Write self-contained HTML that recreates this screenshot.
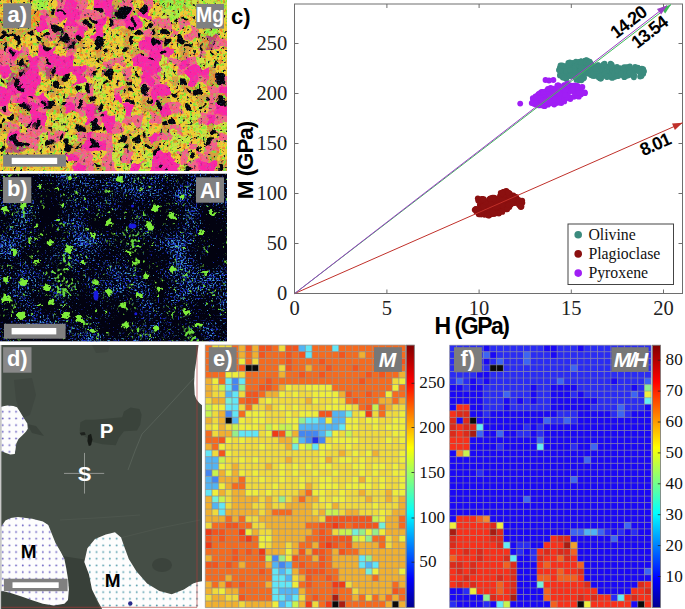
<!DOCTYPE html><html><head><meta charset="utf-8"><style>
html,body{margin:0;padding:0;background:#fff;}
body{width:685px;height:609px;overflow:hidden;position:relative;}
svg{position:absolute;left:0;top:0;}
.sf{font-family:'Liberation Serif',serif;}
.ss{font-family:'Liberation Sans',sans-serif;}
</style></head><body>
<svg width="685" height="609" viewBox="0 0 685 609">
<defs><clipPath id="clipa"><rect x="0" y="0" width="227" height="171"/></clipPath><clipPath id="clipb"><rect x="0" y="173.5" width="227" height="168.1"/></clipPath><filter id="warpA" color-interpolation-filters="sRGB" x="-5%" y="-5%" width="110%" height="110%"><feTurbulence type="fractalNoise" baseFrequency="0.09" numOctaves="2" seed="2" result="t"/><feDisplacementMap in="SourceGraphic" in2="t" scale="14" xChannelSelector="R" yChannelSelector="G"/><feGaussianBlur stdDeviation="0.5"/></filter><filter id="spK" color-interpolation-filters="sRGB" x="0" y="0" width="100%" height="100%"><feTurbulence type="fractalNoise" baseFrequency="0.3" numOctaves="2" seed="4"/><feColorMatrix type="matrix" values="0 0 0 0 0.02  0 0 0 0 0.02  0 0 0 0 0.12  14 0 0 0 -9.2"/></filter><filter id="spG" color-interpolation-filters="sRGB" x="0" y="0" width="100%" height="100%"><feTurbulence type="fractalNoise" baseFrequency="0.3" numOctaves="2" seed="9"/><feColorMatrix type="matrix" values="0 0 0 0 0.45  0 0 0 0 0.95  0 0 0 0 0.2  12 0 0 0 -6.9"/></filter><filter id="spO" color-interpolation-filters="sRGB" x="0" y="0" width="100%" height="100%"><feTurbulence type="fractalNoise" baseFrequency="0.3" numOctaves="2" seed="17"/><feColorMatrix type="matrix" values="0 0 0 0 0.97  0 0 0 0 0.3  0 0 0 0 0.1  12 0 0 0 -7.0"/></filter><filter id="spB" color-interpolation-filters="sRGB" x="0" y="0" width="100%" height="100%"><feTurbulence type="fractalNoise" baseFrequency="0.6" numOctaves="2" seed="23"/><feColorMatrix type="matrix" values="0 0 0 0 0.25  0 0 0 0 0.6  0 0 0 0 0.95  9 0 0 0 -5.3"/></filter><filter id="spb2" color-interpolation-filters="sRGB" x="0" y="0" width="100%" height="100%"><feTurbulence type="fractalNoise" baseFrequency="0.7" numOctaves="2" seed="31"/><feColorMatrix type="matrix" values="0 0 0 0 0.1  0 0 0 0 0.1  0 0 0 0 0.75  9 0 0 0 -5.0"/></filter><filter id="spBB" color-interpolation-filters="sRGB" x="0" y="0" width="100%" height="100%"><feTurbulence type="fractalNoise" baseFrequency="0.55" numOctaves="1" seed="31" result="f"/><feTurbulence type="fractalNoise" baseFrequency="0.03" numOctaves="2" seed="7" result="c"/><feComposite in="f" in2="c" operator="arithmetic" k2="1" k3="0.5" result="s"/><feColorMatrix in="s" type="matrix" values="0 0 0 0 0.12  0 0 0 0 0.2  0 0 0 0 0.85  9 0 0 0 -5.0"/></filter><filter id="spBC" color-interpolation-filters="sRGB" x="0" y="0" width="100%" height="100%"><feTurbulence type="fractalNoise" baseFrequency="0.6" numOctaves="1" seed="41" result="f"/><feTurbulence type="fractalNoise" baseFrequency="0.03" numOctaves="2" seed="7" result="c"/><feComposite in="f" in2="c" operator="arithmetic" k2="1" k3="0.5" result="s"/><feColorMatrix in="s" type="matrix" values="0 0 0 0 0.3  0 0 0 0 0.7  0 0 0 0 0.92  10 0 0 0 -5.9"/></filter><filter id="spBG" color-interpolation-filters="sRGB" x="0" y="0" width="100%" height="100%"><feTurbulence type="fractalNoise" baseFrequency="0.35" numOctaves="1" seed="51" result="f"/><feTurbulence type="fractalNoise" baseFrequency="0.04" numOctaves="2" seed="13" result="c"/><feComposite in="f" in2="c" operator="arithmetic" k2="1" k3="0.8" result="s"/><feColorMatrix in="s" type="matrix" values="0 0 0 0 0.45  0 0 0 0 0.92  0 0 0 0 0.25  10 0 0 0 -6.3"/></filter><filter id="warpB" color-interpolation-filters="sRGB" x="-5%" y="-5%" width="110%" height="110%"><feTurbulence type="fractalNoise" baseFrequency="0.25" numOctaves="2" seed="5" result="t"/><feDisplacementMap in="SourceGraphic" in2="t" scale="7" xChannelSelector="R" yChannelSelector="G"/></filter></defs>
<g clip-path="url(#clipa)">
<g filter="url(#warpA)">
<rect x="-9.76" y="-9.80" width="10.06" height="10.10" fill="#f0cc32"/>
<rect x="-0.30" y="-9.80" width="10.06" height="10.10" fill="#f0cc32"/>
<rect x="9.16" y="-9.80" width="10.06" height="10.10" fill="#f0cc32"/>
<rect x="18.62" y="-9.80" width="10.06" height="10.10" fill="#f0cc32"/>
<rect x="28.07" y="-9.80" width="10.06" height="10.10" fill="#cce43e"/>
<rect x="37.53" y="-9.80" width="10.06" height="10.10" fill="#a4f040"/>
<rect x="46.99" y="-9.80" width="10.06" height="10.10" fill="#f0cc32"/>
<rect x="56.45" y="-9.80" width="10.06" height="10.10" fill="#f8608a"/>
<rect x="65.91" y="-9.80" width="10.06" height="10.10" fill="#fc24a6"/>
<rect x="75.37" y="-9.80" width="10.06" height="10.10" fill="#f8608a"/>
<rect x="84.83" y="-9.80" width="10.06" height="10.10" fill="#f0cc32"/>
<rect x="94.28" y="-9.80" width="10.06" height="10.10" fill="#fc24a6"/>
<rect x="103.74" y="-9.80" width="10.06" height="10.10" fill="#fc24a6"/>
<rect x="113.20" y="-9.80" width="10.06" height="10.10" fill="#d8a040"/>
<rect x="122.66" y="-9.80" width="10.06" height="10.10" fill="#f8608a"/>
<rect x="132.12" y="-9.80" width="10.06" height="10.10" fill="#f0cc32"/>
<rect x="141.57" y="-9.80" width="10.06" height="10.10" fill="#f8608a"/>
<rect x="151.03" y="-9.80" width="10.06" height="10.10" fill="#f0cc32"/>
<rect x="160.49" y="-9.80" width="10.06" height="10.10" fill="#a4f040"/>
<rect x="169.95" y="-9.80" width="10.06" height="10.10" fill="#a4f040"/>
<rect x="179.41" y="-9.80" width="10.06" height="10.10" fill="#a4f040"/>
<rect x="188.87" y="-9.80" width="10.06" height="10.10" fill="#cce43e"/>
<rect x="198.32" y="-9.80" width="10.06" height="10.10" fill="#cce43e"/>
<rect x="207.78" y="-9.80" width="10.06" height="10.10" fill="#cce43e"/>
<rect x="217.24" y="-9.80" width="10.06" height="10.10" fill="#cce43e"/>
<rect x="226.70" y="-9.80" width="10.06" height="10.10" fill="#cce43e"/>
<rect x="-9.76" y="-0.30" width="10.06" height="10.10" fill="#f0cc32"/>
<rect x="-0.30" y="-0.30" width="10.06" height="10.10" fill="#f0cc32"/>
<rect x="9.16" y="-0.30" width="10.06" height="10.10" fill="#f0cc32"/>
<rect x="18.62" y="-0.30" width="10.06" height="10.10" fill="#f0cc32"/>
<rect x="28.07" y="-0.30" width="10.06" height="10.10" fill="#cce43e"/>
<rect x="37.53" y="-0.30" width="10.06" height="10.10" fill="#a4f040"/>
<rect x="46.99" y="-0.30" width="10.06" height="10.10" fill="#f0cc32"/>
<rect x="56.45" y="-0.30" width="10.06" height="10.10" fill="#f8608a"/>
<rect x="65.91" y="-0.30" width="10.06" height="10.10" fill="#fc24a6"/>
<rect x="75.37" y="-0.30" width="10.06" height="10.10" fill="#f8608a"/>
<rect x="84.83" y="-0.30" width="10.06" height="10.10" fill="#f0cc32"/>
<rect x="94.28" y="-0.30" width="10.06" height="10.10" fill="#fc24a6"/>
<rect x="103.74" y="-0.30" width="10.06" height="10.10" fill="#fc24a6"/>
<rect x="113.20" y="-0.30" width="10.06" height="10.10" fill="#d8a040"/>
<rect x="122.66" y="-0.30" width="10.06" height="10.10" fill="#f8608a"/>
<rect x="132.12" y="-0.30" width="10.06" height="10.10" fill="#f0cc32"/>
<rect x="141.57" y="-0.30" width="10.06" height="10.10" fill="#f8608a"/>
<rect x="151.03" y="-0.30" width="10.06" height="10.10" fill="#f0cc32"/>
<rect x="160.49" y="-0.30" width="10.06" height="10.10" fill="#a4f040"/>
<rect x="169.95" y="-0.30" width="10.06" height="10.10" fill="#a4f040"/>
<rect x="179.41" y="-0.30" width="10.06" height="10.10" fill="#a4f040"/>
<rect x="188.87" y="-0.30" width="10.06" height="10.10" fill="#cce43e"/>
<rect x="198.32" y="-0.30" width="10.06" height="10.10" fill="#cce43e"/>
<rect x="207.78" y="-0.30" width="10.06" height="10.10" fill="#cce43e"/>
<rect x="217.24" y="-0.30" width="10.06" height="10.10" fill="#cce43e"/>
<rect x="226.70" y="-0.30" width="10.06" height="10.10" fill="#cce43e"/>
<rect x="-9.76" y="9.20" width="10.06" height="10.10" fill="#f0cc32"/>
<rect x="-0.30" y="9.20" width="10.06" height="10.10" fill="#f0cc32"/>
<rect x="9.16" y="9.20" width="10.06" height="10.10" fill="#f0cc32"/>
<rect x="18.62" y="9.20" width="10.06" height="10.10" fill="#f0cc32"/>
<rect x="28.07" y="9.20" width="10.06" height="10.10" fill="#f49a2a"/>
<rect x="37.53" y="9.20" width="10.06" height="10.10" fill="#f8608a"/>
<rect x="46.99" y="9.20" width="10.06" height="10.10" fill="#d8a040"/>
<rect x="56.45" y="9.20" width="10.06" height="10.10" fill="#fc24a6"/>
<rect x="65.91" y="9.20" width="10.06" height="10.10" fill="#fc24a6"/>
<rect x="75.37" y="9.20" width="10.06" height="10.10" fill="#fc24a6"/>
<rect x="84.83" y="9.20" width="10.06" height="10.10" fill="#f8608a"/>
<rect x="94.28" y="9.20" width="10.06" height="10.10" fill="#f8608a"/>
<rect x="103.74" y="9.20" width="10.06" height="10.10" fill="#fc24a6"/>
<rect x="113.20" y="9.20" width="10.06" height="10.10" fill="#b84a70"/>
<rect x="122.66" y="9.20" width="10.06" height="10.10" fill="#fc24a6"/>
<rect x="132.12" y="9.20" width="10.06" height="10.10" fill="#d8a040"/>
<rect x="141.57" y="9.20" width="10.06" height="10.10" fill="#fc24a6"/>
<rect x="151.03" y="9.20" width="10.06" height="10.10" fill="#f0cc32"/>
<rect x="160.49" y="9.20" width="10.06" height="10.10" fill="#cce43e"/>
<rect x="169.95" y="9.20" width="10.06" height="10.10" fill="#a4f040"/>
<rect x="179.41" y="9.20" width="10.06" height="10.10" fill="#f0cc32"/>
<rect x="188.87" y="9.20" width="10.06" height="10.10" fill="#f0cc32"/>
<rect x="198.32" y="9.20" width="10.06" height="10.10" fill="#cce43e"/>
<rect x="207.78" y="9.20" width="10.06" height="10.10" fill="#cce43e"/>
<rect x="217.24" y="9.20" width="10.06" height="10.10" fill="#cce43e"/>
<rect x="226.70" y="9.20" width="10.06" height="10.10" fill="#cce43e"/>
<rect x="-9.76" y="18.70" width="10.06" height="10.10" fill="#d8a040"/>
<rect x="-0.30" y="18.70" width="10.06" height="10.10" fill="#d8a040"/>
<rect x="9.16" y="18.70" width="10.06" height="10.10" fill="#f0cc32"/>
<rect x="18.62" y="18.70" width="10.06" height="10.10" fill="#f0cc32"/>
<rect x="28.07" y="18.70" width="10.06" height="10.10" fill="#f49a2a"/>
<rect x="37.53" y="18.70" width="10.06" height="10.10" fill="#fc24a6"/>
<rect x="46.99" y="18.70" width="10.06" height="10.10" fill="#f8608a"/>
<rect x="56.45" y="18.70" width="10.06" height="10.10" fill="#f0cc32"/>
<rect x="65.91" y="18.70" width="10.06" height="10.10" fill="#fc24a6"/>
<rect x="75.37" y="18.70" width="10.06" height="10.10" fill="#f8608a"/>
<rect x="84.83" y="18.70" width="10.06" height="10.10" fill="#d8a040"/>
<rect x="94.28" y="18.70" width="10.06" height="10.10" fill="#fc24a6"/>
<rect x="103.74" y="18.70" width="10.06" height="10.10" fill="#f0cc32"/>
<rect x="113.20" y="18.70" width="10.06" height="10.10" fill="#f8608a"/>
<rect x="122.66" y="18.70" width="10.06" height="10.10" fill="#fc24a6"/>
<rect x="132.12" y="18.70" width="10.06" height="10.10" fill="#fc24a6"/>
<rect x="141.57" y="18.70" width="10.06" height="10.10" fill="#f0cc32"/>
<rect x="151.03" y="18.70" width="10.06" height="10.10" fill="#f8608a"/>
<rect x="160.49" y="18.70" width="10.06" height="10.10" fill="#f8608a"/>
<rect x="169.95" y="18.70" width="10.06" height="10.10" fill="#f0cc32"/>
<rect x="179.41" y="18.70" width="10.06" height="10.10" fill="#f8608a"/>
<rect x="188.87" y="18.70" width="10.06" height="10.10" fill="#f0cc32"/>
<rect x="198.32" y="18.70" width="10.06" height="10.10" fill="#f0cc32"/>
<rect x="207.78" y="18.70" width="10.06" height="10.10" fill="#f0cc32"/>
<rect x="217.24" y="18.70" width="10.06" height="10.10" fill="#f0cc32"/>
<rect x="226.70" y="18.70" width="10.06" height="10.10" fill="#f0cc32"/>
<rect x="-9.76" y="28.20" width="10.06" height="10.10" fill="#d8a040"/>
<rect x="-0.30" y="28.20" width="10.06" height="10.10" fill="#d8a040"/>
<rect x="9.16" y="28.20" width="10.06" height="10.10" fill="#d8a040"/>
<rect x="18.62" y="28.20" width="10.06" height="10.10" fill="#d8a040"/>
<rect x="28.07" y="28.20" width="10.06" height="10.10" fill="#d8a040"/>
<rect x="37.53" y="28.20" width="10.06" height="10.10" fill="#f0cc32"/>
<rect x="46.99" y="28.20" width="10.06" height="10.10" fill="#f8608a"/>
<rect x="56.45" y="28.20" width="10.06" height="10.10" fill="#b84a70"/>
<rect x="65.91" y="28.20" width="10.06" height="10.10" fill="#f8608a"/>
<rect x="75.37" y="28.20" width="10.06" height="10.10" fill="#fc24a6"/>
<rect x="84.83" y="28.20" width="10.06" height="10.10" fill="#f0cc32"/>
<rect x="94.28" y="28.20" width="10.06" height="10.10" fill="#fc24a6"/>
<rect x="103.74" y="28.20" width="10.06" height="10.10" fill="#f0cc32"/>
<rect x="113.20" y="28.20" width="10.06" height="10.10" fill="#f0cc32"/>
<rect x="122.66" y="28.20" width="10.06" height="10.10" fill="#d8a040"/>
<rect x="132.12" y="28.20" width="10.06" height="10.10" fill="#f0cc32"/>
<rect x="141.57" y="28.20" width="10.06" height="10.10" fill="#f8608a"/>
<rect x="151.03" y="28.20" width="10.06" height="10.10" fill="#d8a040"/>
<rect x="160.49" y="28.20" width="10.06" height="10.10" fill="#f0cc32"/>
<rect x="169.95" y="28.20" width="10.06" height="10.10" fill="#f8608a"/>
<rect x="179.41" y="28.20" width="10.06" height="10.10" fill="#f0cc32"/>
<rect x="188.87" y="28.20" width="10.06" height="10.10" fill="#f8608a"/>
<rect x="198.32" y="28.20" width="10.06" height="10.10" fill="#f0cc32"/>
<rect x="207.78" y="28.20" width="10.06" height="10.10" fill="#a4f040"/>
<rect x="217.24" y="28.20" width="10.06" height="10.10" fill="#f0cc32"/>
<rect x="226.70" y="28.20" width="10.06" height="10.10" fill="#f0cc32"/>
<rect x="-9.76" y="37.70" width="10.06" height="10.10" fill="#d8a040"/>
<rect x="-0.30" y="37.70" width="10.06" height="10.10" fill="#d8a040"/>
<rect x="9.16" y="37.70" width="10.06" height="10.10" fill="#f0cc32"/>
<rect x="18.62" y="37.70" width="10.06" height="10.10" fill="#f0cc32"/>
<rect x="28.07" y="37.70" width="10.06" height="10.10" fill="#f0cc32"/>
<rect x="37.53" y="37.70" width="10.06" height="10.10" fill="#d8a040"/>
<rect x="46.99" y="37.70" width="10.06" height="10.10" fill="#f0cc32"/>
<rect x="56.45" y="37.70" width="10.06" height="10.10" fill="#d8a040"/>
<rect x="65.91" y="37.70" width="10.06" height="10.10" fill="#b84a70"/>
<rect x="75.37" y="37.70" width="10.06" height="10.10" fill="#d8a040"/>
<rect x="84.83" y="37.70" width="10.06" height="10.10" fill="#f0cc32"/>
<rect x="94.28" y="37.70" width="10.06" height="10.10" fill="#d8a040"/>
<rect x="103.74" y="37.70" width="10.06" height="10.10" fill="#f0cc32"/>
<rect x="113.20" y="37.70" width="10.06" height="10.10" fill="#f0cc32"/>
<rect x="122.66" y="37.70" width="10.06" height="10.10" fill="#d8a040"/>
<rect x="132.12" y="37.70" width="10.06" height="10.10" fill="#f0cc32"/>
<rect x="141.57" y="37.70" width="10.06" height="10.10" fill="#fc24a6"/>
<rect x="151.03" y="37.70" width="10.06" height="10.10" fill="#fc24a6"/>
<rect x="160.49" y="37.70" width="10.06" height="10.10" fill="#d8a040"/>
<rect x="169.95" y="37.70" width="10.06" height="10.10" fill="#f0cc32"/>
<rect x="179.41" y="37.70" width="10.06" height="10.10" fill="#d8a040"/>
<rect x="188.87" y="37.70" width="10.06" height="10.10" fill="#f0cc32"/>
<rect x="198.32" y="37.70" width="10.06" height="10.10" fill="#d8a040"/>
<rect x="207.78" y="37.70" width="10.06" height="10.10" fill="#b84a70"/>
<rect x="217.24" y="37.70" width="10.06" height="10.10" fill="#f8608a"/>
<rect x="226.70" y="37.70" width="10.06" height="10.10" fill="#f8608a"/>
<rect x="-9.76" y="47.20" width="10.06" height="10.10" fill="#f8608a"/>
<rect x="-0.30" y="47.20" width="10.06" height="10.10" fill="#f8608a"/>
<rect x="9.16" y="47.20" width="10.06" height="10.10" fill="#fc24a6"/>
<rect x="18.62" y="47.20" width="10.06" height="10.10" fill="#f8608a"/>
<rect x="28.07" y="47.20" width="10.06" height="10.10" fill="#f0cc32"/>
<rect x="37.53" y="47.20" width="10.06" height="10.10" fill="#fc24a6"/>
<rect x="46.99" y="47.20" width="10.06" height="10.10" fill="#fc24a6"/>
<rect x="56.45" y="47.20" width="10.06" height="10.10" fill="#f0cc32"/>
<rect x="65.91" y="47.20" width="10.06" height="10.10" fill="#f8608a"/>
<rect x="75.37" y="47.20" width="10.06" height="10.10" fill="#f0cc32"/>
<rect x="84.83" y="47.20" width="10.06" height="10.10" fill="#f0cc32"/>
<rect x="94.28" y="47.20" width="10.06" height="10.10" fill="#d8a040"/>
<rect x="103.74" y="47.20" width="10.06" height="10.10" fill="#f0cc32"/>
<rect x="113.20" y="47.20" width="10.06" height="10.10" fill="#f0cc32"/>
<rect x="122.66" y="47.20" width="10.06" height="10.10" fill="#f0cc32"/>
<rect x="132.12" y="47.20" width="10.06" height="10.10" fill="#d8a040"/>
<rect x="141.57" y="47.20" width="10.06" height="10.10" fill="#f8608a"/>
<rect x="151.03" y="47.20" width="10.06" height="10.10" fill="#fc24a6"/>
<rect x="160.49" y="47.20" width="10.06" height="10.10" fill="#fc24a6"/>
<rect x="169.95" y="47.20" width="10.06" height="10.10" fill="#f0cc32"/>
<rect x="179.41" y="47.20" width="10.06" height="10.10" fill="#d8a040"/>
<rect x="188.87" y="47.20" width="10.06" height="10.10" fill="#f0cc32"/>
<rect x="198.32" y="47.20" width="10.06" height="10.10" fill="#f8608a"/>
<rect x="207.78" y="47.20" width="10.06" height="10.10" fill="#f0cc32"/>
<rect x="217.24" y="47.20" width="10.06" height="10.10" fill="#f0cc32"/>
<rect x="226.70" y="47.20" width="10.06" height="10.10" fill="#f0cc32"/>
<rect x="-9.76" y="56.70" width="10.06" height="10.10" fill="#f8608a"/>
<rect x="-0.30" y="56.70" width="10.06" height="10.10" fill="#f8608a"/>
<rect x="9.16" y="56.70" width="10.06" height="10.10" fill="#f8608a"/>
<rect x="18.62" y="56.70" width="10.06" height="10.10" fill="#d8a040"/>
<rect x="28.07" y="56.70" width="10.06" height="10.10" fill="#fc24a6"/>
<rect x="37.53" y="56.70" width="10.06" height="10.10" fill="#f8608a"/>
<rect x="46.99" y="56.70" width="10.06" height="10.10" fill="#fc24a6"/>
<rect x="56.45" y="56.70" width="10.06" height="10.10" fill="#fc24a6"/>
<rect x="65.91" y="56.70" width="10.06" height="10.10" fill="#fc24a6"/>
<rect x="75.37" y="56.70" width="10.06" height="10.10" fill="#f0cc32"/>
<rect x="84.83" y="56.70" width="10.06" height="10.10" fill="#f0cc32"/>
<rect x="94.28" y="56.70" width="10.06" height="10.10" fill="#f0cc32"/>
<rect x="103.74" y="56.70" width="10.06" height="10.10" fill="#f8608a"/>
<rect x="113.20" y="56.70" width="10.06" height="10.10" fill="#f8608a"/>
<rect x="122.66" y="56.70" width="10.06" height="10.10" fill="#f0cc32"/>
<rect x="132.12" y="56.70" width="10.06" height="10.10" fill="#fc24a6"/>
<rect x="141.57" y="56.70" width="10.06" height="10.10" fill="#fc24a6"/>
<rect x="151.03" y="56.70" width="10.06" height="10.10" fill="#fc24a6"/>
<rect x="160.49" y="56.70" width="10.06" height="10.10" fill="#cce43e"/>
<rect x="169.95" y="56.70" width="10.06" height="10.10" fill="#f8608a"/>
<rect x="179.41" y="56.70" width="10.06" height="10.10" fill="#fc24a6"/>
<rect x="188.87" y="56.70" width="10.06" height="10.10" fill="#f8608a"/>
<rect x="198.32" y="56.70" width="10.06" height="10.10" fill="#cce43e"/>
<rect x="207.78" y="56.70" width="10.06" height="10.10" fill="#f0cc32"/>
<rect x="217.24" y="56.70" width="10.06" height="10.10" fill="#f0cc32"/>
<rect x="226.70" y="56.70" width="10.06" height="10.10" fill="#f0cc32"/>
<rect x="-9.76" y="66.20" width="10.06" height="10.10" fill="#fc24a6"/>
<rect x="-0.30" y="66.20" width="10.06" height="10.10" fill="#fc24a6"/>
<rect x="9.16" y="66.20" width="10.06" height="10.10" fill="#d8a040"/>
<rect x="18.62" y="66.20" width="10.06" height="10.10" fill="#b84a70"/>
<rect x="28.07" y="66.20" width="10.06" height="10.10" fill="#fc24a6"/>
<rect x="37.53" y="66.20" width="10.06" height="10.10" fill="#f8608a"/>
<rect x="46.99" y="66.20" width="10.06" height="10.10" fill="#b84a70"/>
<rect x="56.45" y="66.20" width="10.06" height="10.10" fill="#fc24a6"/>
<rect x="65.91" y="66.20" width="10.06" height="10.10" fill="#fc24a6"/>
<rect x="75.37" y="66.20" width="10.06" height="10.10" fill="#fc24a6"/>
<rect x="84.83" y="66.20" width="10.06" height="10.10" fill="#f8608a"/>
<rect x="94.28" y="66.20" width="10.06" height="10.10" fill="#f0cc32"/>
<rect x="103.74" y="66.20" width="10.06" height="10.10" fill="#b84a70"/>
<rect x="113.20" y="66.20" width="10.06" height="10.10" fill="#f0cc32"/>
<rect x="122.66" y="66.20" width="10.06" height="10.10" fill="#f8608a"/>
<rect x="132.12" y="66.20" width="10.06" height="10.10" fill="#f0cc32"/>
<rect x="141.57" y="66.20" width="10.06" height="10.10" fill="#fc24a6"/>
<rect x="151.03" y="66.20" width="10.06" height="10.10" fill="#fc24a6"/>
<rect x="160.49" y="66.20" width="10.06" height="10.10" fill="#cce43e"/>
<rect x="169.95" y="66.20" width="10.06" height="10.10" fill="#f0cc32"/>
<rect x="179.41" y="66.20" width="10.06" height="10.10" fill="#f8608a"/>
<rect x="188.87" y="66.20" width="10.06" height="10.10" fill="#fc24a6"/>
<rect x="198.32" y="66.20" width="10.06" height="10.10" fill="#fc24a6"/>
<rect x="207.78" y="66.20" width="10.06" height="10.10" fill="#d8a040"/>
<rect x="217.24" y="66.20" width="10.06" height="10.10" fill="#f0cc32"/>
<rect x="226.70" y="66.20" width="10.06" height="10.10" fill="#f0cc32"/>
<rect x="-9.76" y="75.70" width="10.06" height="10.10" fill="#cce43e"/>
<rect x="-0.30" y="75.70" width="10.06" height="10.10" fill="#cce43e"/>
<rect x="9.16" y="75.70" width="10.06" height="10.10" fill="#b84a70"/>
<rect x="18.62" y="75.70" width="10.06" height="10.10" fill="#fc24a6"/>
<rect x="28.07" y="75.70" width="10.06" height="10.10" fill="#fc24a6"/>
<rect x="37.53" y="75.70" width="10.06" height="10.10" fill="#f0cc32"/>
<rect x="46.99" y="75.70" width="10.06" height="10.10" fill="#f0cc32"/>
<rect x="56.45" y="75.70" width="10.06" height="10.10" fill="#d8a040"/>
<rect x="65.91" y="75.70" width="10.06" height="10.10" fill="#f0cc32"/>
<rect x="75.37" y="75.70" width="10.06" height="10.10" fill="#fc24a6"/>
<rect x="84.83" y="75.70" width="10.06" height="10.10" fill="#f0cc32"/>
<rect x="94.28" y="75.70" width="10.06" height="10.10" fill="#cce43e"/>
<rect x="103.74" y="75.70" width="10.06" height="10.10" fill="#f0cc32"/>
<rect x="113.20" y="75.70" width="10.06" height="10.10" fill="#f0cc32"/>
<rect x="122.66" y="75.70" width="10.06" height="10.10" fill="#d8a040"/>
<rect x="132.12" y="75.70" width="10.06" height="10.10" fill="#f0cc32"/>
<rect x="141.57" y="75.70" width="10.06" height="10.10" fill="#fc24a6"/>
<rect x="151.03" y="75.70" width="10.06" height="10.10" fill="#f8608a"/>
<rect x="160.49" y="75.70" width="10.06" height="10.10" fill="#f0cc32"/>
<rect x="169.95" y="75.70" width="10.06" height="10.10" fill="#d8a040"/>
<rect x="179.41" y="75.70" width="10.06" height="10.10" fill="#cce43e"/>
<rect x="188.87" y="75.70" width="10.06" height="10.10" fill="#fc24a6"/>
<rect x="198.32" y="75.70" width="10.06" height="10.10" fill="#f8608a"/>
<rect x="207.78" y="75.70" width="10.06" height="10.10" fill="#d8a040"/>
<rect x="217.24" y="75.70" width="10.06" height="10.10" fill="#f8608a"/>
<rect x="226.70" y="75.70" width="10.06" height="10.10" fill="#f8608a"/>
<rect x="-9.76" y="85.20" width="10.06" height="10.10" fill="#fc24a6"/>
<rect x="-0.30" y="85.20" width="10.06" height="10.10" fill="#fc24a6"/>
<rect x="9.16" y="85.20" width="10.06" height="10.10" fill="#fc24a6"/>
<rect x="18.62" y="85.20" width="10.06" height="10.10" fill="#fc24a6"/>
<rect x="28.07" y="85.20" width="10.06" height="10.10" fill="#fc24a6"/>
<rect x="37.53" y="85.20" width="10.06" height="10.10" fill="#f0cc32"/>
<rect x="46.99" y="85.20" width="10.06" height="10.10" fill="#d8a040"/>
<rect x="56.45" y="85.20" width="10.06" height="10.10" fill="#f0cc32"/>
<rect x="65.91" y="85.20" width="10.06" height="10.10" fill="#f0cc32"/>
<rect x="75.37" y="85.20" width="10.06" height="10.10" fill="#cce43e"/>
<rect x="84.83" y="85.20" width="10.06" height="10.10" fill="#f8608a"/>
<rect x="94.28" y="85.20" width="10.06" height="10.10" fill="#cce43e"/>
<rect x="103.74" y="85.20" width="10.06" height="10.10" fill="#f0cc32"/>
<rect x="113.20" y="85.20" width="10.06" height="10.10" fill="#f8608a"/>
<rect x="122.66" y="85.20" width="10.06" height="10.10" fill="#d8a040"/>
<rect x="132.12" y="85.20" width="10.06" height="10.10" fill="#f0cc32"/>
<rect x="141.57" y="85.20" width="10.06" height="10.10" fill="#f8608a"/>
<rect x="151.03" y="85.20" width="10.06" height="10.10" fill="#fc24a6"/>
<rect x="160.49" y="85.20" width="10.06" height="10.10" fill="#fc24a6"/>
<rect x="169.95" y="85.20" width="10.06" height="10.10" fill="#f0cc32"/>
<rect x="179.41" y="85.20" width="10.06" height="10.10" fill="#d8a040"/>
<rect x="188.87" y="85.20" width="10.06" height="10.10" fill="#d8a040"/>
<rect x="198.32" y="85.20" width="10.06" height="10.10" fill="#f0cc32"/>
<rect x="207.78" y="85.20" width="10.06" height="10.10" fill="#f8608a"/>
<rect x="217.24" y="85.20" width="10.06" height="10.10" fill="#fc24a6"/>
<rect x="226.70" y="85.20" width="10.06" height="10.10" fill="#fc24a6"/>
<rect x="-9.76" y="94.70" width="10.06" height="10.10" fill="#fc24a6"/>
<rect x="-0.30" y="94.70" width="10.06" height="10.10" fill="#fc24a6"/>
<rect x="9.16" y="94.70" width="10.06" height="10.10" fill="#f8608a"/>
<rect x="18.62" y="94.70" width="10.06" height="10.10" fill="#fc24a6"/>
<rect x="28.07" y="94.70" width="10.06" height="10.10" fill="#f8608a"/>
<rect x="37.53" y="94.70" width="10.06" height="10.10" fill="#fc24a6"/>
<rect x="46.99" y="94.70" width="10.06" height="10.10" fill="#f0cc32"/>
<rect x="56.45" y="94.70" width="10.06" height="10.10" fill="#cce43e"/>
<rect x="65.91" y="94.70" width="10.06" height="10.10" fill="#f8608a"/>
<rect x="75.37" y="94.70" width="10.06" height="10.10" fill="#f8608a"/>
<rect x="84.83" y="94.70" width="10.06" height="10.10" fill="#d8a040"/>
<rect x="94.28" y="94.70" width="10.06" height="10.10" fill="#f0cc32"/>
<rect x="103.74" y="94.70" width="10.06" height="10.10" fill="#f0cc32"/>
<rect x="113.20" y="94.70" width="10.06" height="10.10" fill="#fc24a6"/>
<rect x="122.66" y="94.70" width="10.06" height="10.10" fill="#f0cc32"/>
<rect x="132.12" y="94.70" width="10.06" height="10.10" fill="#f0cc32"/>
<rect x="141.57" y="94.70" width="10.06" height="10.10" fill="#d8a040"/>
<rect x="151.03" y="94.70" width="10.06" height="10.10" fill="#fc24a6"/>
<rect x="160.49" y="94.70" width="10.06" height="10.10" fill="#d8a040"/>
<rect x="169.95" y="94.70" width="10.06" height="10.10" fill="#f0cc32"/>
<rect x="179.41" y="94.70" width="10.06" height="10.10" fill="#f0cc32"/>
<rect x="188.87" y="94.70" width="10.06" height="10.10" fill="#f0cc32"/>
<rect x="198.32" y="94.70" width="10.06" height="10.10" fill="#d8a040"/>
<rect x="207.78" y="94.70" width="10.06" height="10.10" fill="#f8608a"/>
<rect x="217.24" y="94.70" width="10.06" height="10.10" fill="#d8a040"/>
<rect x="226.70" y="94.70" width="10.06" height="10.10" fill="#d8a040"/>
<rect x="-9.76" y="104.20" width="10.06" height="10.10" fill="#f8608a"/>
<rect x="-0.30" y="104.20" width="10.06" height="10.10" fill="#f8608a"/>
<rect x="9.16" y="104.20" width="10.06" height="10.10" fill="#f0cc32"/>
<rect x="18.62" y="104.20" width="10.06" height="10.10" fill="#d8a040"/>
<rect x="28.07" y="104.20" width="10.06" height="10.10" fill="#fc24a6"/>
<rect x="37.53" y="104.20" width="10.06" height="10.10" fill="#f8608a"/>
<rect x="46.99" y="104.20" width="10.06" height="10.10" fill="#d8a040"/>
<rect x="56.45" y="104.20" width="10.06" height="10.10" fill="#d8a040"/>
<rect x="65.91" y="104.20" width="10.06" height="10.10" fill="#fc24a6"/>
<rect x="75.37" y="104.20" width="10.06" height="10.10" fill="#f8608a"/>
<rect x="84.83" y="104.20" width="10.06" height="10.10" fill="#fc24a6"/>
<rect x="94.28" y="104.20" width="10.06" height="10.10" fill="#b84a70"/>
<rect x="103.74" y="104.20" width="10.06" height="10.10" fill="#f0cc32"/>
<rect x="113.20" y="104.20" width="10.06" height="10.10" fill="#f0cc32"/>
<rect x="122.66" y="104.20" width="10.06" height="10.10" fill="#fc24a6"/>
<rect x="132.12" y="104.20" width="10.06" height="10.10" fill="#f0cc32"/>
<rect x="141.57" y="104.20" width="10.06" height="10.10" fill="#d8a040"/>
<rect x="151.03" y="104.20" width="10.06" height="10.10" fill="#d8a040"/>
<rect x="160.49" y="104.20" width="10.06" height="10.10" fill="#fc24a6"/>
<rect x="169.95" y="104.20" width="10.06" height="10.10" fill="#f8608a"/>
<rect x="179.41" y="104.20" width="10.06" height="10.10" fill="#f0cc32"/>
<rect x="188.87" y="104.20" width="10.06" height="10.10" fill="#f0cc32"/>
<rect x="198.32" y="104.20" width="10.06" height="10.10" fill="#f0cc32"/>
<rect x="207.78" y="104.20" width="10.06" height="10.10" fill="#f8608a"/>
<rect x="217.24" y="104.20" width="10.06" height="10.10" fill="#fc24a6"/>
<rect x="226.70" y="104.20" width="10.06" height="10.10" fill="#fc24a6"/>
<rect x="-9.76" y="113.70" width="10.06" height="10.10" fill="#f0cc32"/>
<rect x="-0.30" y="113.70" width="10.06" height="10.10" fill="#f0cc32"/>
<rect x="9.16" y="113.70" width="10.06" height="10.10" fill="#d8a040"/>
<rect x="18.62" y="113.70" width="10.06" height="10.10" fill="#f8608a"/>
<rect x="28.07" y="113.70" width="10.06" height="10.10" fill="#fc24a6"/>
<rect x="37.53" y="113.70" width="10.06" height="10.10" fill="#fc24a6"/>
<rect x="46.99" y="113.70" width="10.06" height="10.10" fill="#f0cc32"/>
<rect x="56.45" y="113.70" width="10.06" height="10.10" fill="#cce43e"/>
<rect x="65.91" y="113.70" width="10.06" height="10.10" fill="#f0cc32"/>
<rect x="75.37" y="113.70" width="10.06" height="10.10" fill="#f0cc32"/>
<rect x="84.83" y="113.70" width="10.06" height="10.10" fill="#fc24a6"/>
<rect x="94.28" y="113.70" width="10.06" height="10.10" fill="#f8608a"/>
<rect x="103.74" y="113.70" width="10.06" height="10.10" fill="#fc24a6"/>
<rect x="113.20" y="113.70" width="10.06" height="10.10" fill="#cce43e"/>
<rect x="122.66" y="113.70" width="10.06" height="10.10" fill="#f8608a"/>
<rect x="132.12" y="113.70" width="10.06" height="10.10" fill="#f8608a"/>
<rect x="141.57" y="113.70" width="10.06" height="10.10" fill="#f0cc32"/>
<rect x="151.03" y="113.70" width="10.06" height="10.10" fill="#f8608a"/>
<rect x="160.49" y="113.70" width="10.06" height="10.10" fill="#d8a040"/>
<rect x="169.95" y="113.70" width="10.06" height="10.10" fill="#f0cc32"/>
<rect x="179.41" y="113.70" width="10.06" height="10.10" fill="#cce43e"/>
<rect x="188.87" y="113.70" width="10.06" height="10.10" fill="#cce43e"/>
<rect x="198.32" y="113.70" width="10.06" height="10.10" fill="#f8608a"/>
<rect x="207.78" y="113.70" width="10.06" height="10.10" fill="#fc24a6"/>
<rect x="217.24" y="113.70" width="10.06" height="10.10" fill="#f8608a"/>
<rect x="226.70" y="113.70" width="10.06" height="10.10" fill="#f8608a"/>
<rect x="-9.76" y="123.20" width="10.06" height="10.10" fill="#d8a040"/>
<rect x="-0.30" y="123.20" width="10.06" height="10.10" fill="#d8a040"/>
<rect x="9.16" y="123.20" width="10.06" height="10.10" fill="#f8608a"/>
<rect x="18.62" y="123.20" width="10.06" height="10.10" fill="#f0cc32"/>
<rect x="28.07" y="123.20" width="10.06" height="10.10" fill="#f8608a"/>
<rect x="37.53" y="123.20" width="10.06" height="10.10" fill="#f8608a"/>
<rect x="46.99" y="123.20" width="10.06" height="10.10" fill="#d8a040"/>
<rect x="56.45" y="123.20" width="10.06" height="10.10" fill="#cce43e"/>
<rect x="65.91" y="123.20" width="10.06" height="10.10" fill="#f0cc32"/>
<rect x="75.37" y="123.20" width="10.06" height="10.10" fill="#d8a040"/>
<rect x="84.83" y="123.20" width="10.06" height="10.10" fill="#d8a040"/>
<rect x="94.28" y="123.20" width="10.06" height="10.10" fill="#f0cc32"/>
<rect x="103.74" y="123.20" width="10.06" height="10.10" fill="#fc24a6"/>
<rect x="113.20" y="123.20" width="10.06" height="10.10" fill="#f8608a"/>
<rect x="122.66" y="123.20" width="10.06" height="10.10" fill="#f0cc32"/>
<rect x="132.12" y="123.20" width="10.06" height="10.10" fill="#f8608a"/>
<rect x="141.57" y="123.20" width="10.06" height="10.10" fill="#cce43e"/>
<rect x="151.03" y="123.20" width="10.06" height="10.10" fill="#f0cc32"/>
<rect x="160.49" y="123.20" width="10.06" height="10.10" fill="#d8a040"/>
<rect x="169.95" y="123.20" width="10.06" height="10.10" fill="#f8608a"/>
<rect x="179.41" y="123.20" width="10.06" height="10.10" fill="#f0cc32"/>
<rect x="188.87" y="123.20" width="10.06" height="10.10" fill="#cce43e"/>
<rect x="198.32" y="123.20" width="10.06" height="10.10" fill="#cce43e"/>
<rect x="207.78" y="123.20" width="10.06" height="10.10" fill="#d8a040"/>
<rect x="217.24" y="123.20" width="10.06" height="10.10" fill="#cce43e"/>
<rect x="226.70" y="123.20" width="10.06" height="10.10" fill="#cce43e"/>
<rect x="-9.76" y="132.70" width="10.06" height="10.10" fill="#f0cc32"/>
<rect x="-0.30" y="132.70" width="10.06" height="10.10" fill="#f0cc32"/>
<rect x="9.16" y="132.70" width="10.06" height="10.10" fill="#fc24a6"/>
<rect x="18.62" y="132.70" width="10.06" height="10.10" fill="#f8608a"/>
<rect x="28.07" y="132.70" width="10.06" height="10.10" fill="#f8608a"/>
<rect x="37.53" y="132.70" width="10.06" height="10.10" fill="#cce43e"/>
<rect x="46.99" y="132.70" width="10.06" height="10.10" fill="#f8608a"/>
<rect x="56.45" y="132.70" width="10.06" height="10.10" fill="#f8608a"/>
<rect x="65.91" y="132.70" width="10.06" height="10.10" fill="#cce43e"/>
<rect x="75.37" y="132.70" width="10.06" height="10.10" fill="#f8608a"/>
<rect x="84.83" y="132.70" width="10.06" height="10.10" fill="#fc24a6"/>
<rect x="94.28" y="132.70" width="10.06" height="10.10" fill="#f8608a"/>
<rect x="103.74" y="132.70" width="10.06" height="10.10" fill="#f8608a"/>
<rect x="113.20" y="132.70" width="10.06" height="10.10" fill="#f0cc32"/>
<rect x="122.66" y="132.70" width="10.06" height="10.10" fill="#d8a040"/>
<rect x="132.12" y="132.70" width="10.06" height="10.10" fill="#f0cc32"/>
<rect x="141.57" y="132.70" width="10.06" height="10.10" fill="#d8a040"/>
<rect x="151.03" y="132.70" width="10.06" height="10.10" fill="#fc24a6"/>
<rect x="160.49" y="132.70" width="10.06" height="10.10" fill="#f8608a"/>
<rect x="169.95" y="132.70" width="10.06" height="10.10" fill="#cce43e"/>
<rect x="179.41" y="132.70" width="10.06" height="10.10" fill="#cce43e"/>
<rect x="188.87" y="132.70" width="10.06" height="10.10" fill="#f0cc32"/>
<rect x="198.32" y="132.70" width="10.06" height="10.10" fill="#cce43e"/>
<rect x="207.78" y="132.70" width="10.06" height="10.10" fill="#f0cc32"/>
<rect x="217.24" y="132.70" width="10.06" height="10.10" fill="#f8608a"/>
<rect x="226.70" y="132.70" width="10.06" height="10.10" fill="#f8608a"/>
<rect x="-9.76" y="142.20" width="10.06" height="10.10" fill="#f0cc32"/>
<rect x="-0.30" y="142.20" width="10.06" height="10.10" fill="#f0cc32"/>
<rect x="9.16" y="142.20" width="10.06" height="10.10" fill="#b84a70"/>
<rect x="18.62" y="142.20" width="10.06" height="10.10" fill="#b84a70"/>
<rect x="28.07" y="142.20" width="10.06" height="10.10" fill="#f8608a"/>
<rect x="37.53" y="142.20" width="10.06" height="10.10" fill="#cce43e"/>
<rect x="46.99" y="142.20" width="10.06" height="10.10" fill="#d8a040"/>
<rect x="56.45" y="142.20" width="10.06" height="10.10" fill="#f0cc32"/>
<rect x="65.91" y="142.20" width="10.06" height="10.10" fill="#d8a040"/>
<rect x="75.37" y="142.20" width="10.06" height="10.10" fill="#d8a040"/>
<rect x="84.83" y="142.20" width="10.06" height="10.10" fill="#fc24a6"/>
<rect x="94.28" y="142.20" width="10.06" height="10.10" fill="#fc24a6"/>
<rect x="103.74" y="142.20" width="10.06" height="10.10" fill="#f8608a"/>
<rect x="113.20" y="142.20" width="10.06" height="10.10" fill="#cce43e"/>
<rect x="122.66" y="142.20" width="10.06" height="10.10" fill="#d8a040"/>
<rect x="132.12" y="142.20" width="10.06" height="10.10" fill="#f0cc32"/>
<rect x="141.57" y="142.20" width="10.06" height="10.10" fill="#f0cc32"/>
<rect x="151.03" y="142.20" width="10.06" height="10.10" fill="#d8a040"/>
<rect x="160.49" y="142.20" width="10.06" height="10.10" fill="#f0cc32"/>
<rect x="169.95" y="142.20" width="10.06" height="10.10" fill="#cce43e"/>
<rect x="179.41" y="142.20" width="10.06" height="10.10" fill="#f0cc32"/>
<rect x="188.87" y="142.20" width="10.06" height="10.10" fill="#f8608a"/>
<rect x="198.32" y="142.20" width="10.06" height="10.10" fill="#f0cc32"/>
<rect x="207.78" y="142.20" width="10.06" height="10.10" fill="#f8608a"/>
<rect x="217.24" y="142.20" width="10.06" height="10.10" fill="#f0cc32"/>
<rect x="226.70" y="142.20" width="10.06" height="10.10" fill="#f0cc32"/>
<rect x="-9.76" y="151.70" width="10.06" height="10.10" fill="#f0cc32"/>
<rect x="-0.30" y="151.70" width="10.06" height="10.10" fill="#f0cc32"/>
<rect x="9.16" y="151.70" width="10.06" height="10.10" fill="#f0cc32"/>
<rect x="18.62" y="151.70" width="10.06" height="10.10" fill="#f0cc32"/>
<rect x="28.07" y="151.70" width="10.06" height="10.10" fill="#f0cc32"/>
<rect x="37.53" y="151.70" width="10.06" height="10.10" fill="#f0cc32"/>
<rect x="46.99" y="151.70" width="10.06" height="10.10" fill="#f0cc32"/>
<rect x="56.45" y="151.70" width="10.06" height="10.10" fill="#f0cc32"/>
<rect x="65.91" y="151.70" width="10.06" height="10.10" fill="#fc24a6"/>
<rect x="75.37" y="151.70" width="10.06" height="10.10" fill="#f8608a"/>
<rect x="84.83" y="151.70" width="10.06" height="10.10" fill="#f8608a"/>
<rect x="94.28" y="151.70" width="10.06" height="10.10" fill="#f0cc32"/>
<rect x="103.74" y="151.70" width="10.06" height="10.10" fill="#f8608a"/>
<rect x="113.20" y="151.70" width="10.06" height="10.10" fill="#cce43e"/>
<rect x="122.66" y="151.70" width="10.06" height="10.10" fill="#f8608a"/>
<rect x="132.12" y="151.70" width="10.06" height="10.10" fill="#f0cc32"/>
<rect x="141.57" y="151.70" width="10.06" height="10.10" fill="#cce43e"/>
<rect x="151.03" y="151.70" width="10.06" height="10.10" fill="#fc24a6"/>
<rect x="160.49" y="151.70" width="10.06" height="10.10" fill="#fc24a6"/>
<rect x="169.95" y="151.70" width="10.06" height="10.10" fill="#f0cc32"/>
<rect x="179.41" y="151.70" width="10.06" height="10.10" fill="#f8608a"/>
<rect x="188.87" y="151.70" width="10.06" height="10.10" fill="#f0cc32"/>
<rect x="198.32" y="151.70" width="10.06" height="10.10" fill="#f8608a"/>
<rect x="207.78" y="151.70" width="10.06" height="10.10" fill="#d8a040"/>
<rect x="217.24" y="151.70" width="10.06" height="10.10" fill="#f0cc32"/>
<rect x="226.70" y="151.70" width="10.06" height="10.10" fill="#f0cc32"/>
<rect x="-9.76" y="161.20" width="10.06" height="10.10" fill="#f0cc32"/>
<rect x="-0.30" y="161.20" width="10.06" height="10.10" fill="#f0cc32"/>
<rect x="9.16" y="161.20" width="10.06" height="10.10" fill="#f0cc32"/>
<rect x="18.62" y="161.20" width="10.06" height="10.10" fill="#f0cc32"/>
<rect x="28.07" y="161.20" width="10.06" height="10.10" fill="#f0cc32"/>
<rect x="37.53" y="161.20" width="10.06" height="10.10" fill="#f0cc32"/>
<rect x="46.99" y="161.20" width="10.06" height="10.10" fill="#f0cc32"/>
<rect x="56.45" y="161.20" width="10.06" height="10.10" fill="#f0cc32"/>
<rect x="65.91" y="161.20" width="10.06" height="10.10" fill="#f0cc32"/>
<rect x="75.37" y="161.20" width="10.06" height="10.10" fill="#fc24a6"/>
<rect x="84.83" y="161.20" width="10.06" height="10.10" fill="#f8608a"/>
<rect x="94.28" y="161.20" width="10.06" height="10.10" fill="#d8a040"/>
<rect x="103.74" y="161.20" width="10.06" height="10.10" fill="#f8608a"/>
<rect x="113.20" y="161.20" width="10.06" height="10.10" fill="#f0cc32"/>
<rect x="122.66" y="161.20" width="10.06" height="10.10" fill="#cce43e"/>
<rect x="132.12" y="161.20" width="10.06" height="10.10" fill="#fc24a6"/>
<rect x="141.57" y="161.20" width="10.06" height="10.10" fill="#cce43e"/>
<rect x="151.03" y="161.20" width="10.06" height="10.10" fill="#fc24a6"/>
<rect x="160.49" y="161.20" width="10.06" height="10.10" fill="#fc24a6"/>
<rect x="169.95" y="161.20" width="10.06" height="10.10" fill="#fc24a6"/>
<rect x="179.41" y="161.20" width="10.06" height="10.10" fill="#cce43e"/>
<rect x="188.87" y="161.20" width="10.06" height="10.10" fill="#f8608a"/>
<rect x="198.32" y="161.20" width="10.06" height="10.10" fill="#fc24a6"/>
<rect x="207.78" y="161.20" width="10.06" height="10.10" fill="#fc24a6"/>
<rect x="217.24" y="161.20" width="10.06" height="10.10" fill="#d8a040"/>
<rect x="226.70" y="161.20" width="10.06" height="10.10" fill="#d8a040"/>
<rect x="-9.76" y="170.70" width="10.06" height="10.10" fill="#f0cc32"/>
<rect x="-0.30" y="170.70" width="10.06" height="10.10" fill="#f0cc32"/>
<rect x="9.16" y="170.70" width="10.06" height="10.10" fill="#f0cc32"/>
<rect x="18.62" y="170.70" width="10.06" height="10.10" fill="#f0cc32"/>
<rect x="28.07" y="170.70" width="10.06" height="10.10" fill="#f0cc32"/>
<rect x="37.53" y="170.70" width="10.06" height="10.10" fill="#f0cc32"/>
<rect x="46.99" y="170.70" width="10.06" height="10.10" fill="#f0cc32"/>
<rect x="56.45" y="170.70" width="10.06" height="10.10" fill="#f0cc32"/>
<rect x="65.91" y="170.70" width="10.06" height="10.10" fill="#f0cc32"/>
<rect x="75.37" y="170.70" width="10.06" height="10.10" fill="#fc24a6"/>
<rect x="84.83" y="170.70" width="10.06" height="10.10" fill="#f8608a"/>
<rect x="94.28" y="170.70" width="10.06" height="10.10" fill="#d8a040"/>
<rect x="103.74" y="170.70" width="10.06" height="10.10" fill="#f8608a"/>
<rect x="113.20" y="170.70" width="10.06" height="10.10" fill="#f0cc32"/>
<rect x="122.66" y="170.70" width="10.06" height="10.10" fill="#cce43e"/>
<rect x="132.12" y="170.70" width="10.06" height="10.10" fill="#fc24a6"/>
<rect x="141.57" y="170.70" width="10.06" height="10.10" fill="#cce43e"/>
<rect x="151.03" y="170.70" width="10.06" height="10.10" fill="#fc24a6"/>
<rect x="160.49" y="170.70" width="10.06" height="10.10" fill="#fc24a6"/>
<rect x="169.95" y="170.70" width="10.06" height="10.10" fill="#fc24a6"/>
<rect x="179.41" y="170.70" width="10.06" height="10.10" fill="#cce43e"/>
<rect x="188.87" y="170.70" width="10.06" height="10.10" fill="#f8608a"/>
<rect x="198.32" y="170.70" width="10.06" height="10.10" fill="#fc24a6"/>
<rect x="207.78" y="170.70" width="10.06" height="10.10" fill="#fc24a6"/>
<rect x="217.24" y="170.70" width="10.06" height="10.10" fill="#d8a040"/>
<rect x="226.70" y="170.70" width="10.06" height="10.10" fill="#d8a040"/>
</g>
<mask id="mY" maskUnits="userSpaceOnUse" x="0" y="0" width="227" height="171"><g filter="url(#warpA)">
<rect x="-9.76" y="-9.80" width="10.06" height="10.10" fill="#ffffff"/>
<rect x="-0.30" y="-9.80" width="10.06" height="10.10" fill="#ffffff"/>
<rect x="9.16" y="-9.80" width="10.06" height="10.10" fill="#ffffff"/>
<rect x="18.62" y="-9.80" width="10.06" height="10.10" fill="#ffffff"/>
<rect x="28.07" y="-9.80" width="10.06" height="10.10" fill="#ffffff"/>
<rect x="37.53" y="-9.80" width="10.06" height="10.10" fill="#ffffff"/>
<rect x="46.99" y="-9.80" width="10.06" height="10.10" fill="#ffffff"/>
<rect x="56.45" y="-9.80" width="10.06" height="10.10" fill="#8a8a8a"/>
<rect x="65.91" y="-9.80" width="10.06" height="10.10" fill="#262626"/>
<rect x="75.37" y="-9.80" width="10.06" height="10.10" fill="#8a8a8a"/>
<rect x="84.83" y="-9.80" width="10.06" height="10.10" fill="#ffffff"/>
<rect x="94.28" y="-9.80" width="10.06" height="10.10" fill="#262626"/>
<rect x="103.74" y="-9.80" width="10.06" height="10.10" fill="#262626"/>
<rect x="113.20" y="-9.80" width="10.06" height="10.10" fill="#ffffff"/>
<rect x="122.66" y="-9.80" width="10.06" height="10.10" fill="#8a8a8a"/>
<rect x="132.12" y="-9.80" width="10.06" height="10.10" fill="#ffffff"/>
<rect x="141.57" y="-9.80" width="10.06" height="10.10" fill="#8a8a8a"/>
<rect x="151.03" y="-9.80" width="10.06" height="10.10" fill="#ffffff"/>
<rect x="160.49" y="-9.80" width="10.06" height="10.10" fill="#ffffff"/>
<rect x="169.95" y="-9.80" width="10.06" height="10.10" fill="#ffffff"/>
<rect x="179.41" y="-9.80" width="10.06" height="10.10" fill="#ffffff"/>
<rect x="188.87" y="-9.80" width="10.06" height="10.10" fill="#ffffff"/>
<rect x="198.32" y="-9.80" width="10.06" height="10.10" fill="#ffffff"/>
<rect x="207.78" y="-9.80" width="10.06" height="10.10" fill="#ffffff"/>
<rect x="217.24" y="-9.80" width="10.06" height="10.10" fill="#ffffff"/>
<rect x="226.70" y="-9.80" width="10.06" height="10.10" fill="#ffffff"/>
<rect x="-9.76" y="-0.30" width="10.06" height="10.10" fill="#ffffff"/>
<rect x="-0.30" y="-0.30" width="10.06" height="10.10" fill="#ffffff"/>
<rect x="9.16" y="-0.30" width="10.06" height="10.10" fill="#ffffff"/>
<rect x="18.62" y="-0.30" width="10.06" height="10.10" fill="#ffffff"/>
<rect x="28.07" y="-0.30" width="10.06" height="10.10" fill="#ffffff"/>
<rect x="37.53" y="-0.30" width="10.06" height="10.10" fill="#ffffff"/>
<rect x="46.99" y="-0.30" width="10.06" height="10.10" fill="#ffffff"/>
<rect x="56.45" y="-0.30" width="10.06" height="10.10" fill="#8a8a8a"/>
<rect x="65.91" y="-0.30" width="10.06" height="10.10" fill="#262626"/>
<rect x="75.37" y="-0.30" width="10.06" height="10.10" fill="#8a8a8a"/>
<rect x="84.83" y="-0.30" width="10.06" height="10.10" fill="#ffffff"/>
<rect x="94.28" y="-0.30" width="10.06" height="10.10" fill="#262626"/>
<rect x="103.74" y="-0.30" width="10.06" height="10.10" fill="#262626"/>
<rect x="113.20" y="-0.30" width="10.06" height="10.10" fill="#ffffff"/>
<rect x="122.66" y="-0.30" width="10.06" height="10.10" fill="#8a8a8a"/>
<rect x="132.12" y="-0.30" width="10.06" height="10.10" fill="#ffffff"/>
<rect x="141.57" y="-0.30" width="10.06" height="10.10" fill="#8a8a8a"/>
<rect x="151.03" y="-0.30" width="10.06" height="10.10" fill="#ffffff"/>
<rect x="160.49" y="-0.30" width="10.06" height="10.10" fill="#ffffff"/>
<rect x="169.95" y="-0.30" width="10.06" height="10.10" fill="#ffffff"/>
<rect x="179.41" y="-0.30" width="10.06" height="10.10" fill="#ffffff"/>
<rect x="188.87" y="-0.30" width="10.06" height="10.10" fill="#ffffff"/>
<rect x="198.32" y="-0.30" width="10.06" height="10.10" fill="#ffffff"/>
<rect x="207.78" y="-0.30" width="10.06" height="10.10" fill="#ffffff"/>
<rect x="217.24" y="-0.30" width="10.06" height="10.10" fill="#ffffff"/>
<rect x="226.70" y="-0.30" width="10.06" height="10.10" fill="#ffffff"/>
<rect x="-9.76" y="9.20" width="10.06" height="10.10" fill="#ffffff"/>
<rect x="-0.30" y="9.20" width="10.06" height="10.10" fill="#ffffff"/>
<rect x="9.16" y="9.20" width="10.06" height="10.10" fill="#ffffff"/>
<rect x="18.62" y="9.20" width="10.06" height="10.10" fill="#ffffff"/>
<rect x="28.07" y="9.20" width="10.06" height="10.10" fill="#ffffff"/>
<rect x="37.53" y="9.20" width="10.06" height="10.10" fill="#8a8a8a"/>
<rect x="46.99" y="9.20" width="10.06" height="10.10" fill="#ffffff"/>
<rect x="56.45" y="9.20" width="10.06" height="10.10" fill="#262626"/>
<rect x="65.91" y="9.20" width="10.06" height="10.10" fill="#262626"/>
<rect x="75.37" y="9.20" width="10.06" height="10.10" fill="#262626"/>
<rect x="84.83" y="9.20" width="10.06" height="10.10" fill="#8a8a8a"/>
<rect x="94.28" y="9.20" width="10.06" height="10.10" fill="#8a8a8a"/>
<rect x="103.74" y="9.20" width="10.06" height="10.10" fill="#262626"/>
<rect x="113.20" y="9.20" width="10.06" height="10.10" fill="#ffffff"/>
<rect x="122.66" y="9.20" width="10.06" height="10.10" fill="#262626"/>
<rect x="132.12" y="9.20" width="10.06" height="10.10" fill="#ffffff"/>
<rect x="141.57" y="9.20" width="10.06" height="10.10" fill="#262626"/>
<rect x="151.03" y="9.20" width="10.06" height="10.10" fill="#ffffff"/>
<rect x="160.49" y="9.20" width="10.06" height="10.10" fill="#ffffff"/>
<rect x="169.95" y="9.20" width="10.06" height="10.10" fill="#ffffff"/>
<rect x="179.41" y="9.20" width="10.06" height="10.10" fill="#ffffff"/>
<rect x="188.87" y="9.20" width="10.06" height="10.10" fill="#ffffff"/>
<rect x="198.32" y="9.20" width="10.06" height="10.10" fill="#ffffff"/>
<rect x="207.78" y="9.20" width="10.06" height="10.10" fill="#ffffff"/>
<rect x="217.24" y="9.20" width="10.06" height="10.10" fill="#ffffff"/>
<rect x="226.70" y="9.20" width="10.06" height="10.10" fill="#ffffff"/>
<rect x="-9.76" y="18.70" width="10.06" height="10.10" fill="#ffffff"/>
<rect x="-0.30" y="18.70" width="10.06" height="10.10" fill="#ffffff"/>
<rect x="9.16" y="18.70" width="10.06" height="10.10" fill="#ffffff"/>
<rect x="18.62" y="18.70" width="10.06" height="10.10" fill="#ffffff"/>
<rect x="28.07" y="18.70" width="10.06" height="10.10" fill="#ffffff"/>
<rect x="37.53" y="18.70" width="10.06" height="10.10" fill="#262626"/>
<rect x="46.99" y="18.70" width="10.06" height="10.10" fill="#8a8a8a"/>
<rect x="56.45" y="18.70" width="10.06" height="10.10" fill="#ffffff"/>
<rect x="65.91" y="18.70" width="10.06" height="10.10" fill="#262626"/>
<rect x="75.37" y="18.70" width="10.06" height="10.10" fill="#8a8a8a"/>
<rect x="84.83" y="18.70" width="10.06" height="10.10" fill="#ffffff"/>
<rect x="94.28" y="18.70" width="10.06" height="10.10" fill="#262626"/>
<rect x="103.74" y="18.70" width="10.06" height="10.10" fill="#ffffff"/>
<rect x="113.20" y="18.70" width="10.06" height="10.10" fill="#8a8a8a"/>
<rect x="122.66" y="18.70" width="10.06" height="10.10" fill="#262626"/>
<rect x="132.12" y="18.70" width="10.06" height="10.10" fill="#262626"/>
<rect x="141.57" y="18.70" width="10.06" height="10.10" fill="#ffffff"/>
<rect x="151.03" y="18.70" width="10.06" height="10.10" fill="#8a8a8a"/>
<rect x="160.49" y="18.70" width="10.06" height="10.10" fill="#8a8a8a"/>
<rect x="169.95" y="18.70" width="10.06" height="10.10" fill="#ffffff"/>
<rect x="179.41" y="18.70" width="10.06" height="10.10" fill="#8a8a8a"/>
<rect x="188.87" y="18.70" width="10.06" height="10.10" fill="#ffffff"/>
<rect x="198.32" y="18.70" width="10.06" height="10.10" fill="#ffffff"/>
<rect x="207.78" y="18.70" width="10.06" height="10.10" fill="#ffffff"/>
<rect x="217.24" y="18.70" width="10.06" height="10.10" fill="#ffffff"/>
<rect x="226.70" y="18.70" width="10.06" height="10.10" fill="#ffffff"/>
<rect x="-9.76" y="28.20" width="10.06" height="10.10" fill="#ffffff"/>
<rect x="-0.30" y="28.20" width="10.06" height="10.10" fill="#ffffff"/>
<rect x="9.16" y="28.20" width="10.06" height="10.10" fill="#ffffff"/>
<rect x="18.62" y="28.20" width="10.06" height="10.10" fill="#ffffff"/>
<rect x="28.07" y="28.20" width="10.06" height="10.10" fill="#ffffff"/>
<rect x="37.53" y="28.20" width="10.06" height="10.10" fill="#ffffff"/>
<rect x="46.99" y="28.20" width="10.06" height="10.10" fill="#8a8a8a"/>
<rect x="56.45" y="28.20" width="10.06" height="10.10" fill="#ffffff"/>
<rect x="65.91" y="28.20" width="10.06" height="10.10" fill="#8a8a8a"/>
<rect x="75.37" y="28.20" width="10.06" height="10.10" fill="#262626"/>
<rect x="84.83" y="28.20" width="10.06" height="10.10" fill="#ffffff"/>
<rect x="94.28" y="28.20" width="10.06" height="10.10" fill="#262626"/>
<rect x="103.74" y="28.20" width="10.06" height="10.10" fill="#ffffff"/>
<rect x="113.20" y="28.20" width="10.06" height="10.10" fill="#ffffff"/>
<rect x="122.66" y="28.20" width="10.06" height="10.10" fill="#ffffff"/>
<rect x="132.12" y="28.20" width="10.06" height="10.10" fill="#ffffff"/>
<rect x="141.57" y="28.20" width="10.06" height="10.10" fill="#8a8a8a"/>
<rect x="151.03" y="28.20" width="10.06" height="10.10" fill="#ffffff"/>
<rect x="160.49" y="28.20" width="10.06" height="10.10" fill="#ffffff"/>
<rect x="169.95" y="28.20" width="10.06" height="10.10" fill="#8a8a8a"/>
<rect x="179.41" y="28.20" width="10.06" height="10.10" fill="#ffffff"/>
<rect x="188.87" y="28.20" width="10.06" height="10.10" fill="#8a8a8a"/>
<rect x="198.32" y="28.20" width="10.06" height="10.10" fill="#ffffff"/>
<rect x="207.78" y="28.20" width="10.06" height="10.10" fill="#ffffff"/>
<rect x="217.24" y="28.20" width="10.06" height="10.10" fill="#ffffff"/>
<rect x="226.70" y="28.20" width="10.06" height="10.10" fill="#ffffff"/>
<rect x="-9.76" y="37.70" width="10.06" height="10.10" fill="#ffffff"/>
<rect x="-0.30" y="37.70" width="10.06" height="10.10" fill="#ffffff"/>
<rect x="9.16" y="37.70" width="10.06" height="10.10" fill="#ffffff"/>
<rect x="18.62" y="37.70" width="10.06" height="10.10" fill="#ffffff"/>
<rect x="28.07" y="37.70" width="10.06" height="10.10" fill="#ffffff"/>
<rect x="37.53" y="37.70" width="10.06" height="10.10" fill="#ffffff"/>
<rect x="46.99" y="37.70" width="10.06" height="10.10" fill="#ffffff"/>
<rect x="56.45" y="37.70" width="10.06" height="10.10" fill="#ffffff"/>
<rect x="65.91" y="37.70" width="10.06" height="10.10" fill="#ffffff"/>
<rect x="75.37" y="37.70" width="10.06" height="10.10" fill="#ffffff"/>
<rect x="84.83" y="37.70" width="10.06" height="10.10" fill="#ffffff"/>
<rect x="94.28" y="37.70" width="10.06" height="10.10" fill="#ffffff"/>
<rect x="103.74" y="37.70" width="10.06" height="10.10" fill="#ffffff"/>
<rect x="113.20" y="37.70" width="10.06" height="10.10" fill="#ffffff"/>
<rect x="122.66" y="37.70" width="10.06" height="10.10" fill="#ffffff"/>
<rect x="132.12" y="37.70" width="10.06" height="10.10" fill="#ffffff"/>
<rect x="141.57" y="37.70" width="10.06" height="10.10" fill="#262626"/>
<rect x="151.03" y="37.70" width="10.06" height="10.10" fill="#262626"/>
<rect x="160.49" y="37.70" width="10.06" height="10.10" fill="#ffffff"/>
<rect x="169.95" y="37.70" width="10.06" height="10.10" fill="#ffffff"/>
<rect x="179.41" y="37.70" width="10.06" height="10.10" fill="#ffffff"/>
<rect x="188.87" y="37.70" width="10.06" height="10.10" fill="#ffffff"/>
<rect x="198.32" y="37.70" width="10.06" height="10.10" fill="#ffffff"/>
<rect x="207.78" y="37.70" width="10.06" height="10.10" fill="#ffffff"/>
<rect x="217.24" y="37.70" width="10.06" height="10.10" fill="#8a8a8a"/>
<rect x="226.70" y="37.70" width="10.06" height="10.10" fill="#8a8a8a"/>
<rect x="-9.76" y="47.20" width="10.06" height="10.10" fill="#8a8a8a"/>
<rect x="-0.30" y="47.20" width="10.06" height="10.10" fill="#8a8a8a"/>
<rect x="9.16" y="47.20" width="10.06" height="10.10" fill="#262626"/>
<rect x="18.62" y="47.20" width="10.06" height="10.10" fill="#8a8a8a"/>
<rect x="28.07" y="47.20" width="10.06" height="10.10" fill="#ffffff"/>
<rect x="37.53" y="47.20" width="10.06" height="10.10" fill="#262626"/>
<rect x="46.99" y="47.20" width="10.06" height="10.10" fill="#262626"/>
<rect x="56.45" y="47.20" width="10.06" height="10.10" fill="#ffffff"/>
<rect x="65.91" y="47.20" width="10.06" height="10.10" fill="#8a8a8a"/>
<rect x="75.37" y="47.20" width="10.06" height="10.10" fill="#ffffff"/>
<rect x="84.83" y="47.20" width="10.06" height="10.10" fill="#ffffff"/>
<rect x="94.28" y="47.20" width="10.06" height="10.10" fill="#ffffff"/>
<rect x="103.74" y="47.20" width="10.06" height="10.10" fill="#ffffff"/>
<rect x="113.20" y="47.20" width="10.06" height="10.10" fill="#ffffff"/>
<rect x="122.66" y="47.20" width="10.06" height="10.10" fill="#ffffff"/>
<rect x="132.12" y="47.20" width="10.06" height="10.10" fill="#ffffff"/>
<rect x="141.57" y="47.20" width="10.06" height="10.10" fill="#8a8a8a"/>
<rect x="151.03" y="47.20" width="10.06" height="10.10" fill="#262626"/>
<rect x="160.49" y="47.20" width="10.06" height="10.10" fill="#262626"/>
<rect x="169.95" y="47.20" width="10.06" height="10.10" fill="#ffffff"/>
<rect x="179.41" y="47.20" width="10.06" height="10.10" fill="#ffffff"/>
<rect x="188.87" y="47.20" width="10.06" height="10.10" fill="#ffffff"/>
<rect x="198.32" y="47.20" width="10.06" height="10.10" fill="#8a8a8a"/>
<rect x="207.78" y="47.20" width="10.06" height="10.10" fill="#ffffff"/>
<rect x="217.24" y="47.20" width="10.06" height="10.10" fill="#ffffff"/>
<rect x="226.70" y="47.20" width="10.06" height="10.10" fill="#ffffff"/>
<rect x="-9.76" y="56.70" width="10.06" height="10.10" fill="#8a8a8a"/>
<rect x="-0.30" y="56.70" width="10.06" height="10.10" fill="#8a8a8a"/>
<rect x="9.16" y="56.70" width="10.06" height="10.10" fill="#8a8a8a"/>
<rect x="18.62" y="56.70" width="10.06" height="10.10" fill="#ffffff"/>
<rect x="28.07" y="56.70" width="10.06" height="10.10" fill="#262626"/>
<rect x="37.53" y="56.70" width="10.06" height="10.10" fill="#8a8a8a"/>
<rect x="46.99" y="56.70" width="10.06" height="10.10" fill="#262626"/>
<rect x="56.45" y="56.70" width="10.06" height="10.10" fill="#262626"/>
<rect x="65.91" y="56.70" width="10.06" height="10.10" fill="#262626"/>
<rect x="75.37" y="56.70" width="10.06" height="10.10" fill="#ffffff"/>
<rect x="84.83" y="56.70" width="10.06" height="10.10" fill="#ffffff"/>
<rect x="94.28" y="56.70" width="10.06" height="10.10" fill="#ffffff"/>
<rect x="103.74" y="56.70" width="10.06" height="10.10" fill="#8a8a8a"/>
<rect x="113.20" y="56.70" width="10.06" height="10.10" fill="#8a8a8a"/>
<rect x="122.66" y="56.70" width="10.06" height="10.10" fill="#ffffff"/>
<rect x="132.12" y="56.70" width="10.06" height="10.10" fill="#262626"/>
<rect x="141.57" y="56.70" width="10.06" height="10.10" fill="#262626"/>
<rect x="151.03" y="56.70" width="10.06" height="10.10" fill="#262626"/>
<rect x="160.49" y="56.70" width="10.06" height="10.10" fill="#ffffff"/>
<rect x="169.95" y="56.70" width="10.06" height="10.10" fill="#8a8a8a"/>
<rect x="179.41" y="56.70" width="10.06" height="10.10" fill="#262626"/>
<rect x="188.87" y="56.70" width="10.06" height="10.10" fill="#8a8a8a"/>
<rect x="198.32" y="56.70" width="10.06" height="10.10" fill="#ffffff"/>
<rect x="207.78" y="56.70" width="10.06" height="10.10" fill="#ffffff"/>
<rect x="217.24" y="56.70" width="10.06" height="10.10" fill="#ffffff"/>
<rect x="226.70" y="56.70" width="10.06" height="10.10" fill="#ffffff"/>
<rect x="-9.76" y="66.20" width="10.06" height="10.10" fill="#262626"/>
<rect x="-0.30" y="66.20" width="10.06" height="10.10" fill="#262626"/>
<rect x="9.16" y="66.20" width="10.06" height="10.10" fill="#ffffff"/>
<rect x="18.62" y="66.20" width="10.06" height="10.10" fill="#ffffff"/>
<rect x="28.07" y="66.20" width="10.06" height="10.10" fill="#262626"/>
<rect x="37.53" y="66.20" width="10.06" height="10.10" fill="#8a8a8a"/>
<rect x="46.99" y="66.20" width="10.06" height="10.10" fill="#ffffff"/>
<rect x="56.45" y="66.20" width="10.06" height="10.10" fill="#262626"/>
<rect x="65.91" y="66.20" width="10.06" height="10.10" fill="#262626"/>
<rect x="75.37" y="66.20" width="10.06" height="10.10" fill="#262626"/>
<rect x="84.83" y="66.20" width="10.06" height="10.10" fill="#8a8a8a"/>
<rect x="94.28" y="66.20" width="10.06" height="10.10" fill="#ffffff"/>
<rect x="103.74" y="66.20" width="10.06" height="10.10" fill="#ffffff"/>
<rect x="113.20" y="66.20" width="10.06" height="10.10" fill="#ffffff"/>
<rect x="122.66" y="66.20" width="10.06" height="10.10" fill="#8a8a8a"/>
<rect x="132.12" y="66.20" width="10.06" height="10.10" fill="#ffffff"/>
<rect x="141.57" y="66.20" width="10.06" height="10.10" fill="#262626"/>
<rect x="151.03" y="66.20" width="10.06" height="10.10" fill="#262626"/>
<rect x="160.49" y="66.20" width="10.06" height="10.10" fill="#ffffff"/>
<rect x="169.95" y="66.20" width="10.06" height="10.10" fill="#ffffff"/>
<rect x="179.41" y="66.20" width="10.06" height="10.10" fill="#8a8a8a"/>
<rect x="188.87" y="66.20" width="10.06" height="10.10" fill="#262626"/>
<rect x="198.32" y="66.20" width="10.06" height="10.10" fill="#262626"/>
<rect x="207.78" y="66.20" width="10.06" height="10.10" fill="#ffffff"/>
<rect x="217.24" y="66.20" width="10.06" height="10.10" fill="#ffffff"/>
<rect x="226.70" y="66.20" width="10.06" height="10.10" fill="#ffffff"/>
<rect x="-9.76" y="75.70" width="10.06" height="10.10" fill="#ffffff"/>
<rect x="-0.30" y="75.70" width="10.06" height="10.10" fill="#ffffff"/>
<rect x="9.16" y="75.70" width="10.06" height="10.10" fill="#ffffff"/>
<rect x="18.62" y="75.70" width="10.06" height="10.10" fill="#262626"/>
<rect x="28.07" y="75.70" width="10.06" height="10.10" fill="#262626"/>
<rect x="37.53" y="75.70" width="10.06" height="10.10" fill="#ffffff"/>
<rect x="46.99" y="75.70" width="10.06" height="10.10" fill="#ffffff"/>
<rect x="56.45" y="75.70" width="10.06" height="10.10" fill="#ffffff"/>
<rect x="65.91" y="75.70" width="10.06" height="10.10" fill="#ffffff"/>
<rect x="75.37" y="75.70" width="10.06" height="10.10" fill="#262626"/>
<rect x="84.83" y="75.70" width="10.06" height="10.10" fill="#ffffff"/>
<rect x="94.28" y="75.70" width="10.06" height="10.10" fill="#ffffff"/>
<rect x="103.74" y="75.70" width="10.06" height="10.10" fill="#ffffff"/>
<rect x="113.20" y="75.70" width="10.06" height="10.10" fill="#ffffff"/>
<rect x="122.66" y="75.70" width="10.06" height="10.10" fill="#ffffff"/>
<rect x="132.12" y="75.70" width="10.06" height="10.10" fill="#ffffff"/>
<rect x="141.57" y="75.70" width="10.06" height="10.10" fill="#262626"/>
<rect x="151.03" y="75.70" width="10.06" height="10.10" fill="#8a8a8a"/>
<rect x="160.49" y="75.70" width="10.06" height="10.10" fill="#ffffff"/>
<rect x="169.95" y="75.70" width="10.06" height="10.10" fill="#ffffff"/>
<rect x="179.41" y="75.70" width="10.06" height="10.10" fill="#ffffff"/>
<rect x="188.87" y="75.70" width="10.06" height="10.10" fill="#262626"/>
<rect x="198.32" y="75.70" width="10.06" height="10.10" fill="#8a8a8a"/>
<rect x="207.78" y="75.70" width="10.06" height="10.10" fill="#ffffff"/>
<rect x="217.24" y="75.70" width="10.06" height="10.10" fill="#8a8a8a"/>
<rect x="226.70" y="75.70" width="10.06" height="10.10" fill="#8a8a8a"/>
<rect x="-9.76" y="85.20" width="10.06" height="10.10" fill="#262626"/>
<rect x="-0.30" y="85.20" width="10.06" height="10.10" fill="#262626"/>
<rect x="9.16" y="85.20" width="10.06" height="10.10" fill="#262626"/>
<rect x="18.62" y="85.20" width="10.06" height="10.10" fill="#262626"/>
<rect x="28.07" y="85.20" width="10.06" height="10.10" fill="#262626"/>
<rect x="37.53" y="85.20" width="10.06" height="10.10" fill="#ffffff"/>
<rect x="46.99" y="85.20" width="10.06" height="10.10" fill="#ffffff"/>
<rect x="56.45" y="85.20" width="10.06" height="10.10" fill="#ffffff"/>
<rect x="65.91" y="85.20" width="10.06" height="10.10" fill="#ffffff"/>
<rect x="75.37" y="85.20" width="10.06" height="10.10" fill="#ffffff"/>
<rect x="84.83" y="85.20" width="10.06" height="10.10" fill="#8a8a8a"/>
<rect x="94.28" y="85.20" width="10.06" height="10.10" fill="#ffffff"/>
<rect x="103.74" y="85.20" width="10.06" height="10.10" fill="#ffffff"/>
<rect x="113.20" y="85.20" width="10.06" height="10.10" fill="#8a8a8a"/>
<rect x="122.66" y="85.20" width="10.06" height="10.10" fill="#ffffff"/>
<rect x="132.12" y="85.20" width="10.06" height="10.10" fill="#ffffff"/>
<rect x="141.57" y="85.20" width="10.06" height="10.10" fill="#8a8a8a"/>
<rect x="151.03" y="85.20" width="10.06" height="10.10" fill="#262626"/>
<rect x="160.49" y="85.20" width="10.06" height="10.10" fill="#262626"/>
<rect x="169.95" y="85.20" width="10.06" height="10.10" fill="#ffffff"/>
<rect x="179.41" y="85.20" width="10.06" height="10.10" fill="#ffffff"/>
<rect x="188.87" y="85.20" width="10.06" height="10.10" fill="#ffffff"/>
<rect x="198.32" y="85.20" width="10.06" height="10.10" fill="#ffffff"/>
<rect x="207.78" y="85.20" width="10.06" height="10.10" fill="#8a8a8a"/>
<rect x="217.24" y="85.20" width="10.06" height="10.10" fill="#262626"/>
<rect x="226.70" y="85.20" width="10.06" height="10.10" fill="#262626"/>
<rect x="-9.76" y="94.70" width="10.06" height="10.10" fill="#262626"/>
<rect x="-0.30" y="94.70" width="10.06" height="10.10" fill="#262626"/>
<rect x="9.16" y="94.70" width="10.06" height="10.10" fill="#8a8a8a"/>
<rect x="18.62" y="94.70" width="10.06" height="10.10" fill="#262626"/>
<rect x="28.07" y="94.70" width="10.06" height="10.10" fill="#8a8a8a"/>
<rect x="37.53" y="94.70" width="10.06" height="10.10" fill="#262626"/>
<rect x="46.99" y="94.70" width="10.06" height="10.10" fill="#ffffff"/>
<rect x="56.45" y="94.70" width="10.06" height="10.10" fill="#ffffff"/>
<rect x="65.91" y="94.70" width="10.06" height="10.10" fill="#8a8a8a"/>
<rect x="75.37" y="94.70" width="10.06" height="10.10" fill="#8a8a8a"/>
<rect x="84.83" y="94.70" width="10.06" height="10.10" fill="#ffffff"/>
<rect x="94.28" y="94.70" width="10.06" height="10.10" fill="#ffffff"/>
<rect x="103.74" y="94.70" width="10.06" height="10.10" fill="#ffffff"/>
<rect x="113.20" y="94.70" width="10.06" height="10.10" fill="#262626"/>
<rect x="122.66" y="94.70" width="10.06" height="10.10" fill="#ffffff"/>
<rect x="132.12" y="94.70" width="10.06" height="10.10" fill="#ffffff"/>
<rect x="141.57" y="94.70" width="10.06" height="10.10" fill="#ffffff"/>
<rect x="151.03" y="94.70" width="10.06" height="10.10" fill="#262626"/>
<rect x="160.49" y="94.70" width="10.06" height="10.10" fill="#ffffff"/>
<rect x="169.95" y="94.70" width="10.06" height="10.10" fill="#ffffff"/>
<rect x="179.41" y="94.70" width="10.06" height="10.10" fill="#ffffff"/>
<rect x="188.87" y="94.70" width="10.06" height="10.10" fill="#ffffff"/>
<rect x="198.32" y="94.70" width="10.06" height="10.10" fill="#ffffff"/>
<rect x="207.78" y="94.70" width="10.06" height="10.10" fill="#8a8a8a"/>
<rect x="217.24" y="94.70" width="10.06" height="10.10" fill="#ffffff"/>
<rect x="226.70" y="94.70" width="10.06" height="10.10" fill="#ffffff"/>
<rect x="-9.76" y="104.20" width="10.06" height="10.10" fill="#8a8a8a"/>
<rect x="-0.30" y="104.20" width="10.06" height="10.10" fill="#8a8a8a"/>
<rect x="9.16" y="104.20" width="10.06" height="10.10" fill="#ffffff"/>
<rect x="18.62" y="104.20" width="10.06" height="10.10" fill="#ffffff"/>
<rect x="28.07" y="104.20" width="10.06" height="10.10" fill="#262626"/>
<rect x="37.53" y="104.20" width="10.06" height="10.10" fill="#8a8a8a"/>
<rect x="46.99" y="104.20" width="10.06" height="10.10" fill="#ffffff"/>
<rect x="56.45" y="104.20" width="10.06" height="10.10" fill="#ffffff"/>
<rect x="65.91" y="104.20" width="10.06" height="10.10" fill="#262626"/>
<rect x="75.37" y="104.20" width="10.06" height="10.10" fill="#8a8a8a"/>
<rect x="84.83" y="104.20" width="10.06" height="10.10" fill="#262626"/>
<rect x="94.28" y="104.20" width="10.06" height="10.10" fill="#ffffff"/>
<rect x="103.74" y="104.20" width="10.06" height="10.10" fill="#ffffff"/>
<rect x="113.20" y="104.20" width="10.06" height="10.10" fill="#ffffff"/>
<rect x="122.66" y="104.20" width="10.06" height="10.10" fill="#262626"/>
<rect x="132.12" y="104.20" width="10.06" height="10.10" fill="#ffffff"/>
<rect x="141.57" y="104.20" width="10.06" height="10.10" fill="#ffffff"/>
<rect x="151.03" y="104.20" width="10.06" height="10.10" fill="#ffffff"/>
<rect x="160.49" y="104.20" width="10.06" height="10.10" fill="#262626"/>
<rect x="169.95" y="104.20" width="10.06" height="10.10" fill="#8a8a8a"/>
<rect x="179.41" y="104.20" width="10.06" height="10.10" fill="#ffffff"/>
<rect x="188.87" y="104.20" width="10.06" height="10.10" fill="#ffffff"/>
<rect x="198.32" y="104.20" width="10.06" height="10.10" fill="#ffffff"/>
<rect x="207.78" y="104.20" width="10.06" height="10.10" fill="#8a8a8a"/>
<rect x="217.24" y="104.20" width="10.06" height="10.10" fill="#262626"/>
<rect x="226.70" y="104.20" width="10.06" height="10.10" fill="#262626"/>
<rect x="-9.76" y="113.70" width="10.06" height="10.10" fill="#ffffff"/>
<rect x="-0.30" y="113.70" width="10.06" height="10.10" fill="#ffffff"/>
<rect x="9.16" y="113.70" width="10.06" height="10.10" fill="#ffffff"/>
<rect x="18.62" y="113.70" width="10.06" height="10.10" fill="#8a8a8a"/>
<rect x="28.07" y="113.70" width="10.06" height="10.10" fill="#262626"/>
<rect x="37.53" y="113.70" width="10.06" height="10.10" fill="#262626"/>
<rect x="46.99" y="113.70" width="10.06" height="10.10" fill="#ffffff"/>
<rect x="56.45" y="113.70" width="10.06" height="10.10" fill="#ffffff"/>
<rect x="65.91" y="113.70" width="10.06" height="10.10" fill="#ffffff"/>
<rect x="75.37" y="113.70" width="10.06" height="10.10" fill="#ffffff"/>
<rect x="84.83" y="113.70" width="10.06" height="10.10" fill="#262626"/>
<rect x="94.28" y="113.70" width="10.06" height="10.10" fill="#8a8a8a"/>
<rect x="103.74" y="113.70" width="10.06" height="10.10" fill="#262626"/>
<rect x="113.20" y="113.70" width="10.06" height="10.10" fill="#ffffff"/>
<rect x="122.66" y="113.70" width="10.06" height="10.10" fill="#8a8a8a"/>
<rect x="132.12" y="113.70" width="10.06" height="10.10" fill="#8a8a8a"/>
<rect x="141.57" y="113.70" width="10.06" height="10.10" fill="#ffffff"/>
<rect x="151.03" y="113.70" width="10.06" height="10.10" fill="#8a8a8a"/>
<rect x="160.49" y="113.70" width="10.06" height="10.10" fill="#ffffff"/>
<rect x="169.95" y="113.70" width="10.06" height="10.10" fill="#ffffff"/>
<rect x="179.41" y="113.70" width="10.06" height="10.10" fill="#ffffff"/>
<rect x="188.87" y="113.70" width="10.06" height="10.10" fill="#ffffff"/>
<rect x="198.32" y="113.70" width="10.06" height="10.10" fill="#8a8a8a"/>
<rect x="207.78" y="113.70" width="10.06" height="10.10" fill="#262626"/>
<rect x="217.24" y="113.70" width="10.06" height="10.10" fill="#8a8a8a"/>
<rect x="226.70" y="113.70" width="10.06" height="10.10" fill="#8a8a8a"/>
<rect x="-9.76" y="123.20" width="10.06" height="10.10" fill="#ffffff"/>
<rect x="-0.30" y="123.20" width="10.06" height="10.10" fill="#ffffff"/>
<rect x="9.16" y="123.20" width="10.06" height="10.10" fill="#8a8a8a"/>
<rect x="18.62" y="123.20" width="10.06" height="10.10" fill="#ffffff"/>
<rect x="28.07" y="123.20" width="10.06" height="10.10" fill="#8a8a8a"/>
<rect x="37.53" y="123.20" width="10.06" height="10.10" fill="#8a8a8a"/>
<rect x="46.99" y="123.20" width="10.06" height="10.10" fill="#ffffff"/>
<rect x="56.45" y="123.20" width="10.06" height="10.10" fill="#ffffff"/>
<rect x="65.91" y="123.20" width="10.06" height="10.10" fill="#ffffff"/>
<rect x="75.37" y="123.20" width="10.06" height="10.10" fill="#ffffff"/>
<rect x="84.83" y="123.20" width="10.06" height="10.10" fill="#ffffff"/>
<rect x="94.28" y="123.20" width="10.06" height="10.10" fill="#ffffff"/>
<rect x="103.74" y="123.20" width="10.06" height="10.10" fill="#262626"/>
<rect x="113.20" y="123.20" width="10.06" height="10.10" fill="#8a8a8a"/>
<rect x="122.66" y="123.20" width="10.06" height="10.10" fill="#ffffff"/>
<rect x="132.12" y="123.20" width="10.06" height="10.10" fill="#8a8a8a"/>
<rect x="141.57" y="123.20" width="10.06" height="10.10" fill="#ffffff"/>
<rect x="151.03" y="123.20" width="10.06" height="10.10" fill="#ffffff"/>
<rect x="160.49" y="123.20" width="10.06" height="10.10" fill="#ffffff"/>
<rect x="169.95" y="123.20" width="10.06" height="10.10" fill="#8a8a8a"/>
<rect x="179.41" y="123.20" width="10.06" height="10.10" fill="#ffffff"/>
<rect x="188.87" y="123.20" width="10.06" height="10.10" fill="#ffffff"/>
<rect x="198.32" y="123.20" width="10.06" height="10.10" fill="#ffffff"/>
<rect x="207.78" y="123.20" width="10.06" height="10.10" fill="#ffffff"/>
<rect x="217.24" y="123.20" width="10.06" height="10.10" fill="#ffffff"/>
<rect x="226.70" y="123.20" width="10.06" height="10.10" fill="#ffffff"/>
<rect x="-9.76" y="132.70" width="10.06" height="10.10" fill="#ffffff"/>
<rect x="-0.30" y="132.70" width="10.06" height="10.10" fill="#ffffff"/>
<rect x="9.16" y="132.70" width="10.06" height="10.10" fill="#262626"/>
<rect x="18.62" y="132.70" width="10.06" height="10.10" fill="#8a8a8a"/>
<rect x="28.07" y="132.70" width="10.06" height="10.10" fill="#8a8a8a"/>
<rect x="37.53" y="132.70" width="10.06" height="10.10" fill="#ffffff"/>
<rect x="46.99" y="132.70" width="10.06" height="10.10" fill="#8a8a8a"/>
<rect x="56.45" y="132.70" width="10.06" height="10.10" fill="#8a8a8a"/>
<rect x="65.91" y="132.70" width="10.06" height="10.10" fill="#ffffff"/>
<rect x="75.37" y="132.70" width="10.06" height="10.10" fill="#8a8a8a"/>
<rect x="84.83" y="132.70" width="10.06" height="10.10" fill="#262626"/>
<rect x="94.28" y="132.70" width="10.06" height="10.10" fill="#8a8a8a"/>
<rect x="103.74" y="132.70" width="10.06" height="10.10" fill="#8a8a8a"/>
<rect x="113.20" y="132.70" width="10.06" height="10.10" fill="#ffffff"/>
<rect x="122.66" y="132.70" width="10.06" height="10.10" fill="#ffffff"/>
<rect x="132.12" y="132.70" width="10.06" height="10.10" fill="#ffffff"/>
<rect x="141.57" y="132.70" width="10.06" height="10.10" fill="#ffffff"/>
<rect x="151.03" y="132.70" width="10.06" height="10.10" fill="#262626"/>
<rect x="160.49" y="132.70" width="10.06" height="10.10" fill="#8a8a8a"/>
<rect x="169.95" y="132.70" width="10.06" height="10.10" fill="#ffffff"/>
<rect x="179.41" y="132.70" width="10.06" height="10.10" fill="#ffffff"/>
<rect x="188.87" y="132.70" width="10.06" height="10.10" fill="#ffffff"/>
<rect x="198.32" y="132.70" width="10.06" height="10.10" fill="#ffffff"/>
<rect x="207.78" y="132.70" width="10.06" height="10.10" fill="#ffffff"/>
<rect x="217.24" y="132.70" width="10.06" height="10.10" fill="#8a8a8a"/>
<rect x="226.70" y="132.70" width="10.06" height="10.10" fill="#8a8a8a"/>
<rect x="-9.76" y="142.20" width="10.06" height="10.10" fill="#ffffff"/>
<rect x="-0.30" y="142.20" width="10.06" height="10.10" fill="#ffffff"/>
<rect x="9.16" y="142.20" width="10.06" height="10.10" fill="#ffffff"/>
<rect x="18.62" y="142.20" width="10.06" height="10.10" fill="#ffffff"/>
<rect x="28.07" y="142.20" width="10.06" height="10.10" fill="#8a8a8a"/>
<rect x="37.53" y="142.20" width="10.06" height="10.10" fill="#ffffff"/>
<rect x="46.99" y="142.20" width="10.06" height="10.10" fill="#ffffff"/>
<rect x="56.45" y="142.20" width="10.06" height="10.10" fill="#ffffff"/>
<rect x="65.91" y="142.20" width="10.06" height="10.10" fill="#ffffff"/>
<rect x="75.37" y="142.20" width="10.06" height="10.10" fill="#ffffff"/>
<rect x="84.83" y="142.20" width="10.06" height="10.10" fill="#262626"/>
<rect x="94.28" y="142.20" width="10.06" height="10.10" fill="#262626"/>
<rect x="103.74" y="142.20" width="10.06" height="10.10" fill="#8a8a8a"/>
<rect x="113.20" y="142.20" width="10.06" height="10.10" fill="#ffffff"/>
<rect x="122.66" y="142.20" width="10.06" height="10.10" fill="#ffffff"/>
<rect x="132.12" y="142.20" width="10.06" height="10.10" fill="#ffffff"/>
<rect x="141.57" y="142.20" width="10.06" height="10.10" fill="#ffffff"/>
<rect x="151.03" y="142.20" width="10.06" height="10.10" fill="#ffffff"/>
<rect x="160.49" y="142.20" width="10.06" height="10.10" fill="#ffffff"/>
<rect x="169.95" y="142.20" width="10.06" height="10.10" fill="#ffffff"/>
<rect x="179.41" y="142.20" width="10.06" height="10.10" fill="#ffffff"/>
<rect x="188.87" y="142.20" width="10.06" height="10.10" fill="#8a8a8a"/>
<rect x="198.32" y="142.20" width="10.06" height="10.10" fill="#ffffff"/>
<rect x="207.78" y="142.20" width="10.06" height="10.10" fill="#8a8a8a"/>
<rect x="217.24" y="142.20" width="10.06" height="10.10" fill="#ffffff"/>
<rect x="226.70" y="142.20" width="10.06" height="10.10" fill="#ffffff"/>
<rect x="-9.76" y="151.70" width="10.06" height="10.10" fill="#ffffff"/>
<rect x="-0.30" y="151.70" width="10.06" height="10.10" fill="#ffffff"/>
<rect x="9.16" y="151.70" width="10.06" height="10.10" fill="#ffffff"/>
<rect x="18.62" y="151.70" width="10.06" height="10.10" fill="#ffffff"/>
<rect x="28.07" y="151.70" width="10.06" height="10.10" fill="#ffffff"/>
<rect x="37.53" y="151.70" width="10.06" height="10.10" fill="#ffffff"/>
<rect x="46.99" y="151.70" width="10.06" height="10.10" fill="#ffffff"/>
<rect x="56.45" y="151.70" width="10.06" height="10.10" fill="#ffffff"/>
<rect x="65.91" y="151.70" width="10.06" height="10.10" fill="#262626"/>
<rect x="75.37" y="151.70" width="10.06" height="10.10" fill="#8a8a8a"/>
<rect x="84.83" y="151.70" width="10.06" height="10.10" fill="#8a8a8a"/>
<rect x="94.28" y="151.70" width="10.06" height="10.10" fill="#ffffff"/>
<rect x="103.74" y="151.70" width="10.06" height="10.10" fill="#8a8a8a"/>
<rect x="113.20" y="151.70" width="10.06" height="10.10" fill="#ffffff"/>
<rect x="122.66" y="151.70" width="10.06" height="10.10" fill="#8a8a8a"/>
<rect x="132.12" y="151.70" width="10.06" height="10.10" fill="#ffffff"/>
<rect x="141.57" y="151.70" width="10.06" height="10.10" fill="#ffffff"/>
<rect x="151.03" y="151.70" width="10.06" height="10.10" fill="#262626"/>
<rect x="160.49" y="151.70" width="10.06" height="10.10" fill="#262626"/>
<rect x="169.95" y="151.70" width="10.06" height="10.10" fill="#ffffff"/>
<rect x="179.41" y="151.70" width="10.06" height="10.10" fill="#8a8a8a"/>
<rect x="188.87" y="151.70" width="10.06" height="10.10" fill="#ffffff"/>
<rect x="198.32" y="151.70" width="10.06" height="10.10" fill="#8a8a8a"/>
<rect x="207.78" y="151.70" width="10.06" height="10.10" fill="#ffffff"/>
<rect x="217.24" y="151.70" width="10.06" height="10.10" fill="#ffffff"/>
<rect x="226.70" y="151.70" width="10.06" height="10.10" fill="#ffffff"/>
<rect x="-9.76" y="161.20" width="10.06" height="10.10" fill="#ffffff"/>
<rect x="-0.30" y="161.20" width="10.06" height="10.10" fill="#ffffff"/>
<rect x="9.16" y="161.20" width="10.06" height="10.10" fill="#ffffff"/>
<rect x="18.62" y="161.20" width="10.06" height="10.10" fill="#ffffff"/>
<rect x="28.07" y="161.20" width="10.06" height="10.10" fill="#ffffff"/>
<rect x="37.53" y="161.20" width="10.06" height="10.10" fill="#ffffff"/>
<rect x="46.99" y="161.20" width="10.06" height="10.10" fill="#ffffff"/>
<rect x="56.45" y="161.20" width="10.06" height="10.10" fill="#ffffff"/>
<rect x="65.91" y="161.20" width="10.06" height="10.10" fill="#ffffff"/>
<rect x="75.37" y="161.20" width="10.06" height="10.10" fill="#262626"/>
<rect x="84.83" y="161.20" width="10.06" height="10.10" fill="#8a8a8a"/>
<rect x="94.28" y="161.20" width="10.06" height="10.10" fill="#ffffff"/>
<rect x="103.74" y="161.20" width="10.06" height="10.10" fill="#8a8a8a"/>
<rect x="113.20" y="161.20" width="10.06" height="10.10" fill="#ffffff"/>
<rect x="122.66" y="161.20" width="10.06" height="10.10" fill="#ffffff"/>
<rect x="132.12" y="161.20" width="10.06" height="10.10" fill="#262626"/>
<rect x="141.57" y="161.20" width="10.06" height="10.10" fill="#ffffff"/>
<rect x="151.03" y="161.20" width="10.06" height="10.10" fill="#262626"/>
<rect x="160.49" y="161.20" width="10.06" height="10.10" fill="#262626"/>
<rect x="169.95" y="161.20" width="10.06" height="10.10" fill="#262626"/>
<rect x="179.41" y="161.20" width="10.06" height="10.10" fill="#ffffff"/>
<rect x="188.87" y="161.20" width="10.06" height="10.10" fill="#8a8a8a"/>
<rect x="198.32" y="161.20" width="10.06" height="10.10" fill="#262626"/>
<rect x="207.78" y="161.20" width="10.06" height="10.10" fill="#262626"/>
<rect x="217.24" y="161.20" width="10.06" height="10.10" fill="#ffffff"/>
<rect x="226.70" y="161.20" width="10.06" height="10.10" fill="#ffffff"/>
<rect x="-9.76" y="170.70" width="10.06" height="10.10" fill="#ffffff"/>
<rect x="-0.30" y="170.70" width="10.06" height="10.10" fill="#ffffff"/>
<rect x="9.16" y="170.70" width="10.06" height="10.10" fill="#ffffff"/>
<rect x="18.62" y="170.70" width="10.06" height="10.10" fill="#ffffff"/>
<rect x="28.07" y="170.70" width="10.06" height="10.10" fill="#ffffff"/>
<rect x="37.53" y="170.70" width="10.06" height="10.10" fill="#ffffff"/>
<rect x="46.99" y="170.70" width="10.06" height="10.10" fill="#ffffff"/>
<rect x="56.45" y="170.70" width="10.06" height="10.10" fill="#ffffff"/>
<rect x="65.91" y="170.70" width="10.06" height="10.10" fill="#ffffff"/>
<rect x="75.37" y="170.70" width="10.06" height="10.10" fill="#262626"/>
<rect x="84.83" y="170.70" width="10.06" height="10.10" fill="#8a8a8a"/>
<rect x="94.28" y="170.70" width="10.06" height="10.10" fill="#ffffff"/>
<rect x="103.74" y="170.70" width="10.06" height="10.10" fill="#8a8a8a"/>
<rect x="113.20" y="170.70" width="10.06" height="10.10" fill="#ffffff"/>
<rect x="122.66" y="170.70" width="10.06" height="10.10" fill="#ffffff"/>
<rect x="132.12" y="170.70" width="10.06" height="10.10" fill="#262626"/>
<rect x="141.57" y="170.70" width="10.06" height="10.10" fill="#ffffff"/>
<rect x="151.03" y="170.70" width="10.06" height="10.10" fill="#262626"/>
<rect x="160.49" y="170.70" width="10.06" height="10.10" fill="#262626"/>
<rect x="169.95" y="170.70" width="10.06" height="10.10" fill="#262626"/>
<rect x="179.41" y="170.70" width="10.06" height="10.10" fill="#ffffff"/>
<rect x="188.87" y="170.70" width="10.06" height="10.10" fill="#8a8a8a"/>
<rect x="198.32" y="170.70" width="10.06" height="10.10" fill="#262626"/>
<rect x="207.78" y="170.70" width="10.06" height="10.10" fill="#262626"/>
<rect x="217.24" y="170.70" width="10.06" height="10.10" fill="#ffffff"/>
<rect x="226.70" y="170.70" width="10.06" height="10.10" fill="#ffffff"/>
</g></mask>
<g mask="url(#mY)">
<rect x="0" y="0" width="227" height="171" filter="url(#spG)" opacity="0.85"/>
<rect x="0" y="0" width="227" height="171" filter="url(#spO)" opacity="0.5"/>
<rect x="0" y="0" width="227" height="171" filter="url(#spK)" opacity="0.9"/>
</g>
<g filter="url(#warpA)">
<ellipse cx="51.6" cy="11.1" rx="3.0" ry="2.4" fill="#04040c" transform="rotate(-4 51.6 11.1)"/>
<ellipse cx="60.5" cy="10.5" rx="1.8" ry="1.2" fill="#04040c" transform="rotate(5 60.5 10.5)"/>
<ellipse cx="3.3" cy="33.3" rx="3.6" ry="2.4" fill="#04040c" transform="rotate(34 3.3 33.3)"/>
<ellipse cx="6.7" cy="37.7" rx="4.2" ry="2.4" fill="#04040c" transform="rotate(-3 6.7 37.7)"/>
<ellipse cx="14.4" cy="35.5" rx="4.8" ry="1.8" fill="#04040c" transform="rotate(1 14.4 35.5)"/>
<ellipse cx="18.9" cy="40.0" rx="3.0" ry="3.6" fill="#04040c" transform="rotate(7 18.9 40.0)"/>
<ellipse cx="30.0" cy="34.4" rx="4.8" ry="2.4" fill="#04040c" transform="rotate(-25 30.0 34.4)"/>
<ellipse cx="41.0" cy="38.8" rx="3.6" ry="3.6" fill="#04040c" transform="rotate(1 41.0 38.8)"/>
<ellipse cx="46.6" cy="34.4" rx="2.4" ry="1.8" fill="#04040c" transform="rotate(10 46.6 34.4)"/>
<ellipse cx="57.7" cy="28.9" rx="4.8" ry="4.2" fill="#04040c" transform="rotate(23 57.7 28.9)"/>
<ellipse cx="65.5" cy="37.7" rx="5.4" ry="4.8" fill="#04040c" transform="rotate(-32 65.5 37.7)"/>
<ellipse cx="71.0" cy="44.4" rx="3.6" ry="1.8" fill="#04040c" transform="rotate(-16 71.0 44.4)"/>
<ellipse cx="3.3" cy="47.7" rx="3.6" ry="1.8" fill="#04040c" transform="rotate(-33 3.3 47.7)"/>
<ellipse cx="12.2" cy="51.0" rx="2.4" ry="2.4" fill="#04040c" transform="rotate(25 12.2 51.0)"/>
<ellipse cx="46.6" cy="46.6" rx="4.2" ry="2.4" fill="#04040c" transform="rotate(15 46.6 46.6)"/>
<ellipse cx="1.1" cy="20.0" rx="1.2" ry="3.6" fill="#04040c" transform="rotate(-37 1.1 20.0)"/>
<ellipse cx="123.7" cy="11.1" rx="5.4" ry="7.2" fill="#04040c" transform="rotate(39 123.7 11.1)"/>
<ellipse cx="98.2" cy="8.9" rx="3.6" ry="2.4" fill="#04040c" transform="rotate(37 98.2 8.9)"/>
<ellipse cx="143.7" cy="10.0" rx="4.2" ry="3.6" fill="#04040c" transform="rotate(12 143.7 10.0)"/>
<ellipse cx="87.1" cy="24.4" rx="3.0" ry="3.0" fill="#04040c" transform="rotate(9 87.1 24.4)"/>
<ellipse cx="94.9" cy="21.6" rx="2.4" ry="3.6" fill="#04040c" transform="rotate(-27 94.9 21.6)"/>
<ellipse cx="112.6" cy="21.1" rx="3.0" ry="2.4" fill="#04040c" transform="rotate(-39 112.6 21.1)"/>
<ellipse cx="133.7" cy="21.1" rx="2.4" ry="2.4" fill="#04040c" transform="rotate(2 133.7 21.1)"/>
<ellipse cx="128.2" cy="26.6" rx="3.6" ry="2.4" fill="#04040c" transform="rotate(-35 128.2 26.6)"/>
<ellipse cx="138.2" cy="33.3" rx="4.8" ry="3.0" fill="#04040c" transform="rotate(-25 138.2 33.3)"/>
<ellipse cx="148.1" cy="23.3" rx="3.0" ry="3.6" fill="#04040c" transform="rotate(-21 148.1 23.3)"/>
<ellipse cx="79.3" cy="38.8" rx="3.6" ry="2.4" fill="#04040c" transform="rotate(-38 79.3 38.8)"/>
<ellipse cx="100.4" cy="42.2" rx="6.6" ry="5.4" fill="#04040c" transform="rotate(-3 100.4 42.2)"/>
<ellipse cx="96.0" cy="46.6" rx="3.6" ry="2.4" fill="#04040c" transform="rotate(-5 96.0 46.6)"/>
<ellipse cx="130.4" cy="41.0" rx="3.0" ry="3.6" fill="#04040c" transform="rotate(27 130.4 41.0)"/>
<ellipse cx="108.2" cy="51.0" rx="3.6" ry="2.4" fill="#04040c" transform="rotate(2 108.2 51.0)"/>
<ellipse cx="126.0" cy="48.8" rx="3.0" ry="2.4" fill="#04040c" transform="rotate(11 126.0 48.8)"/>
<ellipse cx="141.5" cy="55.5" rx="3.0" ry="1.8" fill="#04040c" transform="rotate(-0 141.5 55.5)"/>
<ellipse cx="187.6" cy="16.6" rx="3.6" ry="1.8" fill="#04040c" transform="rotate(13 187.6 16.6)"/>
<ellipse cx="176.5" cy="20.0" rx="2.4" ry="1.8" fill="#04040c" transform="rotate(-3 176.5 20.0)"/>
<ellipse cx="153.2" cy="32.2" rx="2.4" ry="1.8" fill="#04040c" transform="rotate(-18 153.2 32.2)"/>
<ellipse cx="165.4" cy="32.2" rx="3.6" ry="2.4" fill="#04040c" transform="rotate(40 165.4 32.2)"/>
<ellipse cx="155.4" cy="41.0" rx="3.6" ry="3.6" fill="#04040c" transform="rotate(40 155.4 41.0)"/>
<ellipse cx="166.5" cy="42.2" rx="4.2" ry="3.0" fill="#04040c" transform="rotate(27 166.5 42.2)"/>
<ellipse cx="183.2" cy="38.8" rx="4.8" ry="3.6" fill="#04040c" transform="rotate(17 183.2 38.8)"/>
<ellipse cx="197.6" cy="35.5" rx="3.0" ry="3.0" fill="#04040c" transform="rotate(-15 197.6 35.5)"/>
<ellipse cx="187.6" cy="46.6" rx="3.0" ry="2.4" fill="#04040c" transform="rotate(-22 187.6 46.6)"/>
<ellipse cx="203.2" cy="46.6" rx="2.4" ry="2.4" fill="#04040c" transform="rotate(-17 203.2 46.6)"/>
<ellipse cx="162.1" cy="53.3" rx="3.6" ry="2.4" fill="#04040c" transform="rotate(-34 162.1 53.3)"/>
<ellipse cx="213.2" cy="53.3" rx="2.4" ry="1.8" fill="#04040c" transform="rotate(21 213.2 53.3)"/>
<ellipse cx="23.3" cy="63.7" rx="2.4" ry="3.0" fill="#04040c" transform="rotate(-8 23.3 63.7)"/>
<ellipse cx="22.2" cy="72.5" rx="3.0" ry="3.6" fill="#04040c" transform="rotate(28 22.2 72.5)"/>
<ellipse cx="16.6" cy="82.5" rx="3.6" ry="4.8" fill="#04040c" transform="rotate(-9 16.6 82.5)"/>
<ellipse cx="18.9" cy="89.2" rx="2.4" ry="3.6" fill="#04040c" transform="rotate(37 18.9 89.2)"/>
<ellipse cx="4.4" cy="79.2" rx="2.4" ry="2.4" fill="#04040c" transform="rotate(28 4.4 79.2)"/>
<ellipse cx="54.4" cy="71.4" rx="3.6" ry="3.0" fill="#04040c" transform="rotate(-40 54.4 71.4)"/>
<ellipse cx="55.5" cy="84.7" rx="4.8" ry="2.4" fill="#04040c" transform="rotate(-23 55.5 84.7)"/>
<ellipse cx="66.6" cy="77.0" rx="3.6" ry="2.4" fill="#04040c" transform="rotate(33 66.6 77.0)"/>
<ellipse cx="46.6" cy="60.3" rx="2.4" ry="1.8" fill="#04040c" transform="rotate(-2 46.6 60.3)"/>
<ellipse cx="41.0" cy="100.3" rx="3.0" ry="1.8" fill="#04040c" transform="rotate(38 41.0 100.3)"/>
<ellipse cx="47.7" cy="104.7" rx="4.8" ry="3.0" fill="#04040c" transform="rotate(-8 47.7 104.7)"/>
<ellipse cx="65.5" cy="104.7" rx="2.4" ry="2.4" fill="#04040c" transform="rotate(-34 65.5 104.7)"/>
<ellipse cx="3.3" cy="107.0" rx="2.4" ry="2.4" fill="#04040c" transform="rotate(10 3.3 107.0)"/>
<ellipse cx="25.5" cy="105.8" rx="3.6" ry="2.4" fill="#04040c" transform="rotate(22 25.5 105.8)"/>
<ellipse cx="32.2" cy="95.8" rx="1.8" ry="1.8" fill="#04040c" transform="rotate(-18 32.2 95.8)"/>
<ellipse cx="110.4" cy="74.8" rx="4.8" ry="4.2" fill="#04040c" transform="rotate(-33 110.4 74.8)"/>
<ellipse cx="96.0" cy="73.6" rx="2.4" ry="2.4" fill="#04040c" transform="rotate(-13 96.0 73.6)"/>
<ellipse cx="103.7" cy="81.4" rx="2.4" ry="3.0" fill="#04040c" transform="rotate(37 103.7 81.4)"/>
<ellipse cx="93.8" cy="98.0" rx="3.6" ry="3.6" fill="#04040c" transform="rotate(21 93.8 98.0)"/>
<ellipse cx="87.1" cy="89.2" rx="3.0" ry="2.4" fill="#04040c" transform="rotate(-31 87.1 89.2)"/>
<ellipse cx="78.2" cy="89.2" rx="2.4" ry="3.0" fill="#04040c" transform="rotate(-20 78.2 89.2)"/>
<ellipse cx="128.2" cy="80.3" rx="3.6" ry="3.0" fill="#04040c" transform="rotate(-32 128.2 80.3)"/>
<ellipse cx="130.4" cy="90.3" rx="2.4" ry="2.4" fill="#04040c" transform="rotate(-35 130.4 90.3)"/>
<ellipse cx="138.2" cy="77.0" rx="2.4" ry="2.4" fill="#04040c" transform="rotate(24 138.2 77.0)"/>
<ellipse cx="143.7" cy="90.3" rx="2.4" ry="3.6" fill="#04040c" transform="rotate(-26 143.7 90.3)"/>
<ellipse cx="102.6" cy="107.0" rx="3.6" ry="3.0" fill="#04040c" transform="rotate(5 102.6 107.0)"/>
<ellipse cx="129.3" cy="101.4" rx="3.6" ry="2.4" fill="#04040c" transform="rotate(-4 129.3 101.4)"/>
<ellipse cx="80.4" cy="103.6" rx="2.4" ry="2.4" fill="#04040c" transform="rotate(-25 80.4 103.6)"/>
<ellipse cx="98.2" cy="59.2" rx="2.4" ry="1.8" fill="#04040c" transform="rotate(19 98.2 59.2)"/>
<ellipse cx="148.1" cy="99.2" rx="3.0" ry="2.4" fill="#04040c" transform="rotate(-30 148.1 99.2)"/>
<ellipse cx="184.3" cy="84.7" rx="3.6" ry="2.4" fill="#04040c" transform="rotate(11 184.3 84.7)"/>
<ellipse cx="188.7" cy="91.4" rx="3.0" ry="2.4" fill="#04040c" transform="rotate(-31 188.7 91.4)"/>
<ellipse cx="197.6" cy="91.4" rx="3.6" ry="3.6" fill="#04040c" transform="rotate(-6 197.6 91.4)"/>
<ellipse cx="174.3" cy="94.7" rx="3.0" ry="3.0" fill="#04040c" transform="rotate(-23 174.3 94.7)"/>
<ellipse cx="220.9" cy="78.1" rx="3.6" ry="4.2" fill="#04040c" transform="rotate(-18 220.9 78.1)"/>
<ellipse cx="217.6" cy="64.8" rx="2.4" ry="2.4" fill="#04040c" transform="rotate(38 217.6 64.8)"/>
<ellipse cx="206.5" cy="99.2" rx="3.0" ry="2.4" fill="#04040c" transform="rotate(24 206.5 99.2)"/>
<ellipse cx="222.0" cy="101.4" rx="3.6" ry="3.6" fill="#04040c" transform="rotate(-16 222.0 101.4)"/>
<ellipse cx="159.9" cy="104.7" rx="3.6" ry="2.4" fill="#04040c" transform="rotate(31 159.9 104.7)"/>
<ellipse cx="187.6" cy="108.0" rx="3.6" ry="2.4" fill="#04040c" transform="rotate(-23 187.6 108.0)"/>
<ellipse cx="203.2" cy="108.0" rx="2.4" ry="2.4" fill="#04040c" transform="rotate(-8 203.2 108.0)"/>
<ellipse cx="152.1" cy="59.2" rx="1.8" ry="1.8" fill="#04040c" transform="rotate(28 152.1 59.2)"/>
<ellipse cx="8.9" cy="117.3" rx="3.0" ry="2.4" fill="#04040c" transform="rotate(11 8.9 117.3)"/>
<ellipse cx="3.3" cy="125.1" rx="3.0" ry="3.6" fill="#04040c" transform="rotate(-32 3.3 125.1)"/>
<ellipse cx="17.8" cy="141.7" rx="7.2" ry="3.6" fill="#04040c" transform="rotate(39 17.8 141.7)"/>
<ellipse cx="25.5" cy="145.0" rx="3.6" ry="2.4" fill="#04040c" transform="rotate(-23 25.5 145.0)"/>
<ellipse cx="50.0" cy="144.0" rx="3.6" ry="3.6" fill="#04040c" transform="rotate(-19 50.0 144.0)"/>
<ellipse cx="61.0" cy="139.5" rx="3.6" ry="3.0" fill="#04040c" transform="rotate(22 61.0 139.5)"/>
<ellipse cx="68.8" cy="145.0" rx="4.8" ry="3.6" fill="#04040c" transform="rotate(-14 68.8 145.0)"/>
<ellipse cx="28.9" cy="122.9" rx="3.6" ry="1.8" fill="#04040c" transform="rotate(-16 28.9 122.9)"/>
<ellipse cx="37.7" cy="124.0" rx="2.4" ry="2.4" fill="#04040c" transform="rotate(-34 37.7 124.0)"/>
<ellipse cx="4.4" cy="150.6" rx="3.0" ry="2.4" fill="#04040c" transform="rotate(-33 4.4 150.6)"/>
<ellipse cx="52.2" cy="128.4" rx="2.4" ry="1.8" fill="#04040c" transform="rotate(7 52.2 128.4)"/>
<ellipse cx="81.5" cy="128.4" rx="3.6" ry="4.2" fill="#04040c" transform="rotate(-21 81.5 128.4)"/>
<ellipse cx="94.9" cy="126.2" rx="3.0" ry="5.4" fill="#04040c" transform="rotate(8 94.9 126.2)"/>
<ellipse cx="101.5" cy="127.3" rx="2.4" ry="2.4" fill="#04040c" transform="rotate(-10 101.5 127.3)"/>
<ellipse cx="94.9" cy="144.0" rx="4.2" ry="2.4" fill="#04040c" transform="rotate(-4 94.9 144.0)"/>
<ellipse cx="79.3" cy="147.3" rx="2.4" ry="2.4" fill="#04040c" transform="rotate(37 79.3 147.3)"/>
<ellipse cx="124.8" cy="138.4" rx="3.6" ry="4.8" fill="#04040c" transform="rotate(-1 124.8 138.4)"/>
<ellipse cx="135.9" cy="140.6" rx="3.0" ry="3.0" fill="#04040c" transform="rotate(6 135.9 140.6)"/>
<ellipse cx="124.8" cy="148.4" rx="3.0" ry="2.4" fill="#04040c" transform="rotate(29 124.8 148.4)"/>
<ellipse cx="103.7" cy="118.4" rx="2.4" ry="1.8" fill="#04040c" transform="rotate(-25 103.7 118.4)"/>
<ellipse cx="144.8" cy="134.0" rx="3.0" ry="2.4" fill="#04040c" transform="rotate(-28 144.8 134.0)"/>
<ellipse cx="148.1" cy="145.0" rx="3.0" ry="2.4" fill="#04040c" transform="rotate(33 148.1 145.0)"/>
<ellipse cx="98.2" cy="165.0" rx="3.6" ry="2.4" fill="#04040c" transform="rotate(25 98.2 165.0)"/>
<ellipse cx="164.3" cy="124.0" rx="4.2" ry="3.0" fill="#04040c" transform="rotate(-20 164.3 124.0)"/>
<ellipse cx="172.1" cy="120.7" rx="3.0" ry="2.4" fill="#04040c" transform="rotate(-25 172.1 120.7)"/>
<ellipse cx="213.2" cy="132.9" rx="3.6" ry="3.6" fill="#04040c" transform="rotate(19 213.2 132.9)"/>
<ellipse cx="154.3" cy="152.8" rx="3.6" ry="3.0" fill="#04040c" transform="rotate(35 154.3 152.8)"/>
<ellipse cx="159.9" cy="150.6" rx="2.4" ry="2.4" fill="#04040c" transform="rotate(-24 159.9 150.6)"/>
<ellipse cx="187.6" cy="168.4" rx="3.6" ry="2.4" fill="#04040c" transform="rotate(36 187.6 168.4)"/>
<ellipse cx="162.1" cy="167.3" rx="3.0" ry="2.4" fill="#04040c" transform="rotate(31 162.1 167.3)"/>
<ellipse cx="199.8" cy="150.6" rx="2.4" ry="2.4" fill="#04040c" transform="rotate(8 199.8 150.6)"/>
<ellipse cx="208.7" cy="141.7" rx="2.4" ry="2.4" fill="#04040c" transform="rotate(-6 208.7 141.7)"/>
<ellipse cx="222.0" cy="166.2" rx="2.4" ry="2.4" fill="#04040c" transform="rotate(-32 222.0 166.2)"/>
<ellipse cx="193.2" cy="156.2" rx="2.4" ry="2.4" fill="#04040c" transform="rotate(-37 193.2 156.2)"/>
</g>
<rect x="0" y="0" width="227" height="171" filter="url(#spB)" opacity="0.2"/>
</g>
<rect x="3.1" y="3.3" width="28" height="25" fill="#808080"/>
<text x="17.3" y="21.9" class="ss" font-weight="bold" font-size="22" text-anchor="middle" fill="#fff">a)</text>
<rect x="196.2" y="4" width="27.8" height="24.6" fill="#808080"/>
<text x="210.2" y="21.6" class="ss" font-weight="bold" font-size="22" text-anchor="middle" fill="#fff" textLength="28.2" lengthAdjust="spacingAndGlyphs">Mg</text>
<rect x="3.1" y="154.5" width="63" height="12.2" fill="#808080"/><rect x="11.7" y="157.8" width="45.5" height="6.2" fill="#fff"/>
<g clip-path="url(#clipb)">
<rect x="0" y="173.5" width="227" height="168.1" fill="#020210"/>
<rect x="0" y="173.5" width="227" height="168.1" filter="url(#spBB)" opacity="0.9"/>
<rect x="0" y="173.5" width="227" height="168.1" filter="url(#spBC)" opacity="0.85"/>
<rect x="0" y="173.5" width="227" height="168.1" filter="url(#spBG)" opacity="0.9"/>
<g filter="url(#warpB)">
<ellipse cx="5.0" cy="209.4" rx="3.3" ry="2.9" fill="#7eec3a" transform="rotate(35 5.0 209.4)"/>
<ellipse cx="23.2" cy="206.0" rx="3.8" ry="2.9" fill="#7eec3a" transform="rotate(51 23.2 206.0)"/>
<ellipse cx="39.8" cy="186.3" rx="1.6" ry="1.7" fill="#7eec3a" transform="rotate(53 39.8 186.3)"/>
<ellipse cx="69.6" cy="178.0" rx="2.2" ry="2.1" fill="#7eec3a" transform="rotate(-46 69.6 178.0)"/>
<ellipse cx="58.0" cy="219.4" rx="2.1" ry="1.4" fill="#7eec3a" transform="rotate(5 58.0 219.4)"/>
<ellipse cx="49.7" cy="242.6" rx="3.3" ry="1.8" fill="#7eec3a" transform="rotate(-34 49.7 242.6)"/>
<ellipse cx="68.0" cy="249.2" rx="3.8" ry="4.2" fill="#7eec3a" transform="rotate(32 68.0 249.2)"/>
<ellipse cx="14.9" cy="252.5" rx="2.6" ry="3.0" fill="#7eec3a" transform="rotate(-43 14.9 252.5)"/>
<ellipse cx="29.8" cy="241.0" rx="2.2" ry="1.3" fill="#7eec3a" transform="rotate(-60 29.8 241.0)"/>
<ellipse cx="36.4" cy="262.5" rx="3.1" ry="1.8" fill="#7eec3a" transform="rotate(-34 36.4 262.5)"/>
<ellipse cx="23.2" cy="282.3" rx="3.9" ry="3.1" fill="#7eec3a" transform="rotate(-25 23.2 282.3)"/>
<ellipse cx="6.6" cy="298.9" rx="5.1" ry="3.5" fill="#7eec3a" transform="rotate(21 6.6 298.9)"/>
<ellipse cx="21.5" cy="315.5" rx="3.6" ry="4.3" fill="#7eec3a" transform="rotate(23 21.5 315.5)"/>
<ellipse cx="46.4" cy="287.3" rx="3.8" ry="3.1" fill="#7eec3a" transform="rotate(-24 46.4 287.3)"/>
<ellipse cx="51.4" cy="302.2" rx="2.9" ry="2.0" fill="#7eec3a" transform="rotate(-43 51.4 302.2)"/>
<ellipse cx="66.3" cy="315.5" rx="3.3" ry="3.0" fill="#7eec3a" transform="rotate(12 66.3 315.5)"/>
<ellipse cx="79.5" cy="318.8" rx="3.2" ry="3.8" fill="#7eec3a" transform="rotate(-19 79.5 318.8)"/>
<ellipse cx="96.0" cy="282.3" rx="2.9" ry="3.0" fill="#7eec3a" transform="rotate(-2 96.0 282.3)"/>
<ellipse cx="82.8" cy="262.5" rx="2.9" ry="2.5" fill="#7eec3a" transform="rotate(25 82.8 262.5)"/>
<ellipse cx="92.8" cy="236.0" rx="2.5" ry="3.3" fill="#7eec3a" transform="rotate(-57 92.8 236.0)"/>
<ellipse cx="109.3" cy="222.7" rx="3.5" ry="3.1" fill="#7eec3a" transform="rotate(-58 109.3 222.7)"/>
<ellipse cx="119.3" cy="179.6" rx="3.6" ry="2.3" fill="#7eec3a" transform="rotate(9 119.3 179.6)"/>
<ellipse cx="109.3" cy="191.2" rx="2.4" ry="1.9" fill="#7eec3a" transform="rotate(-38 109.3 191.2)"/>
<ellipse cx="129.2" cy="252.5" rx="3.8" ry="2.1" fill="#7eec3a" transform="rotate(31 129.2 252.5)"/>
<ellipse cx="135.8" cy="262.5" rx="3.8" ry="3.2" fill="#7eec3a" transform="rotate(-19 135.8 262.5)"/>
<ellipse cx="149.0" cy="226.0" rx="3.9" ry="3.4" fill="#7eec3a" transform="rotate(33 149.0 226.0)"/>
<ellipse cx="155.7" cy="209.4" rx="3.4" ry="3.9" fill="#7eec3a" transform="rotate(36 155.7 209.4)"/>
<ellipse cx="172.3" cy="216.0" rx="4.9" ry="2.5" fill="#7eec3a" transform="rotate(53 172.3 216.0)"/>
<ellipse cx="182.2" cy="196.2" rx="2.5" ry="2.3" fill="#7eec3a" transform="rotate(13 182.2 196.2)"/>
<ellipse cx="212.0" cy="212.8" rx="3.8" ry="2.3" fill="#7eec3a" transform="rotate(51 212.0 212.8)"/>
<ellipse cx="202.0" cy="232.6" rx="3.2" ry="2.3" fill="#7eec3a" transform="rotate(-22 202.0 232.6)"/>
<ellipse cx="205.4" cy="272.4" rx="3.6" ry="2.6" fill="#7eec3a" transform="rotate(-42 205.4 272.4)"/>
<ellipse cx="172.3" cy="269.0" rx="3.4" ry="3.3" fill="#7eec3a" transform="rotate(-41 172.3 269.0)"/>
<ellipse cx="145.8" cy="275.7" rx="2.5" ry="3.3" fill="#7eec3a" transform="rotate(4 145.8 275.7)"/>
<ellipse cx="159.0" cy="289.0" rx="3.0" ry="2.2" fill="#7eec3a" transform="rotate(11 159.0 289.0)"/>
<ellipse cx="139.2" cy="295.6" rx="3.6" ry="2.5" fill="#7eec3a" transform="rotate(-9 139.2 295.6)"/>
<ellipse cx="122.6" cy="305.5" rx="2.5" ry="3.2" fill="#7eec3a" transform="rotate(-56 122.6 305.5)"/>
<ellipse cx="109.3" cy="292.3" rx="3.1" ry="3.1" fill="#7eec3a" transform="rotate(-44 109.3 292.3)"/>
<ellipse cx="185.6" cy="312.2" rx="3.5" ry="3.2" fill="#7eec3a" transform="rotate(16 185.6 312.2)"/>
<ellipse cx="198.8" cy="325.4" rx="3.6" ry="2.0" fill="#7eec3a" transform="rotate(-8 198.8 325.4)"/>
<ellipse cx="155.7" cy="328.7" rx="2.6" ry="3.1" fill="#7eec3a" transform="rotate(-25 155.7 328.7)"/>
<ellipse cx="126.0" cy="325.4" rx="3.1" ry="3.3" fill="#7eec3a" transform="rotate(42 126.0 325.4)"/>
<ellipse cx="92.8" cy="330.4" rx="3.9" ry="2.5" fill="#7eec3a" transform="rotate(-1 92.8 330.4)"/>
<ellipse cx="6.6" cy="279.0" rx="3.5" ry="2.5" fill="#7eec3a" transform="rotate(-25 6.6 279.0)"/>
<ellipse cx="36.4" cy="226.0" rx="2.0" ry="1.3" fill="#7eec3a" transform="rotate(-15 36.4 226.0)"/>
<ellipse cx="63.0" cy="204.5" rx="2.6" ry="2.2" fill="#7eec3a" transform="rotate(15 63.0 204.5)"/>
<ellipse cx="76.2" cy="192.9" rx="2.1" ry="1.5" fill="#7eec3a" transform="rotate(-49 76.2 192.9)"/>
<rect x="61.8" y="305.0" width="2" height="1.5" fill="#7eec3a"/>
<rect x="14.3" y="307.2" width="1.5" height="2" fill="#7eec3a"/>
<rect x="133.4" y="179.3" width="1.5" height="1.5" fill="#7eec3a"/>
<rect x="127.0" y="285.8" width="1.5" height="1.5" fill="#7eec3a"/>
<rect x="174.7" y="289.6" width="1.5" height="1.5" fill="#7eec3a"/>
<rect x="147.5" y="271.1" width="1" height="1.5" fill="#7eec3a"/>
<rect x="124.2" y="215.6" width="2" height="1.5" fill="#7eec3a"/>
<rect x="105.1" y="310.8" width="2" height="2" fill="#7eec3a"/>
<rect x="181.1" y="232.0" width="2" height="1.5" fill="#7eec3a"/>
<rect x="167.5" y="312.7" width="1.5" height="1" fill="#7eec3a"/>
<rect x="197.5" y="289.2" width="1.5" height="1.5" fill="#7eec3a"/>
<rect x="117.6" y="262.5" width="1" height="1" fill="#7eec3a"/>
<rect x="189.9" y="331.1" width="1.5" height="1.5" fill="#7eec3a"/>
<rect x="157.0" y="294.5" width="2" height="1.5" fill="#7eec3a"/>
<rect x="39.0" y="304.7" width="2" height="2" fill="#7eec3a"/>
<rect x="151.1" y="244.2" width="2" height="2" fill="#7eec3a"/>
<rect x="175.9" y="280.6" width="2" height="1" fill="#7eec3a"/>
<rect x="44.4" y="272.1" width="2" height="2" fill="#7eec3a"/>
<rect x="41.0" y="301.1" width="1" height="2" fill="#7eec3a"/>
<rect x="163.1" y="339.3" width="1" height="1" fill="#7eec3a"/>
<rect x="12.3" y="195.9" width="1.5" height="1" fill="#7eec3a"/>
<rect x="109.6" y="265.7" width="1.5" height="1.5" fill="#7eec3a"/>
<rect x="79.7" y="284.9" width="1" height="2" fill="#7eec3a"/>
<rect x="46.4" y="294.2" width="1.5" height="1" fill="#7eec3a"/>
<rect x="79.6" y="333.5" width="1.5" height="1" fill="#7eec3a"/>
<rect x="156.4" y="265.5" width="1" height="2" fill="#7eec3a"/>
<rect x="139.3" y="189.4" width="2" height="2" fill="#7eec3a"/>
<rect x="77.0" y="271.1" width="1.5" height="1" fill="#7eec3a"/>
<rect x="95.1" y="310.2" width="2" height="2" fill="#7eec3a"/>
<rect x="83.9" y="197.4" width="2" height="1.5" fill="#7eec3a"/>
<rect x="128.0" y="334.4" width="1" height="2" fill="#7eec3a"/>
<rect x="20.6" y="311.5" width="2" height="1" fill="#7eec3a"/>
<rect x="86.7" y="228.3" width="2" height="2" fill="#7eec3a"/>
<rect x="31.9" y="279.3" width="2" height="1.5" fill="#7eec3a"/>
<rect x="97.4" y="337.7" width="1.5" height="1.5" fill="#7eec3a"/>
<rect x="108.9" y="292.6" width="1.5" height="1" fill="#7eec3a"/>
<rect x="135.2" y="217.2" width="1.5" height="1.5" fill="#7eec3a"/>
<rect x="57.0" y="176.8" width="1.5" height="1.5" fill="#7eec3a"/>
<rect x="211.0" y="197.6" width="1" height="1" fill="#7eec3a"/>
<rect x="149.8" y="335.0" width="1" height="1.5" fill="#7eec3a"/>
<rect x="9.1" y="196.4" width="1.5" height="1" fill="#7eec3a"/>
<rect x="109.0" y="267.7" width="1" height="1.5" fill="#7eec3a"/>
<rect x="177.5" y="214.8" width="1.5" height="1" fill="#7eec3a"/>
<rect x="163.8" y="221.5" width="1.5" height="2" fill="#7eec3a"/>
<rect x="225.3" y="260.6" width="2" height="2" fill="#7eec3a"/>
<rect x="203.2" y="176.2" width="1" height="1.5" fill="#7eec3a"/>
<rect x="64.1" y="292.5" width="2" height="1.5" fill="#7eec3a"/>
<rect x="166.0" y="178.0" width="1.5" height="1.5" fill="#7eec3a"/>
<rect x="154.8" y="310.1" width="1" height="1" fill="#7eec3a"/>
<rect x="0.6" y="266.5" width="2" height="1" fill="#7eec3a"/>
<rect x="201.6" y="265.2" width="1" height="1.5" fill="#7eec3a"/>
<rect x="176.7" y="245.4" width="2" height="2" fill="#7eec3a"/>
<rect x="160.8" y="279.8" width="1.5" height="1.5" fill="#7eec3a"/>
<rect x="108.0" y="288.2" width="2" height="1" fill="#7eec3a"/>
<rect x="204.0" y="251.7" width="1" height="1.5" fill="#7eec3a"/>
<rect x="189.8" y="290.3" width="1.5" height="2" fill="#7eec3a"/>
<rect x="65.0" y="304.7" width="1.5" height="1" fill="#7eec3a"/>
<rect x="37.6" y="290.4" width="1.5" height="1.5" fill="#7eec3a"/>
<rect x="122.1" y="245.0" width="2" height="1" fill="#7eec3a"/>
<rect x="15.5" y="212.2" width="1" height="1" fill="#7eec3a"/>
<rect x="150.6" y="177.8" width="2" height="1.5" fill="#7eec3a"/>
<rect x="222.2" y="341.3" width="2" height="1.5" fill="#7eec3a"/>
<rect x="11.1" y="315.1" width="1" height="2" fill="#7eec3a"/>
<rect x="146.6" y="333.6" width="2" height="1" fill="#7eec3a"/>
<rect x="225.7" y="292.1" width="1.5" height="1" fill="#7eec3a"/>
<rect x="41.6" y="204.6" width="1" height="1" fill="#7eec3a"/>
<rect x="141.3" y="180.8" width="1" height="2" fill="#7eec3a"/>
<rect x="86.1" y="185.6" width="1" height="2" fill="#7eec3a"/>
<rect x="130.6" y="298.3" width="2" height="1" fill="#7eec3a"/>
<rect x="2.3" y="188.9" width="2" height="2" fill="#7eec3a"/>
<rect x="111.1" y="232.9" width="2" height="1.5" fill="#7eec3a"/>
<rect x="207.7" y="196.7" width="1.5" height="1" fill="#7eec3a"/>
<rect x="129.1" y="287.5" width="1.5" height="2" fill="#7eec3a"/>
<rect x="124.8" y="210.6" width="1" height="2" fill="#7eec3a"/>
<rect x="53.5" y="313.5" width="1.5" height="2" fill="#7eec3a"/>
<rect x="221.3" y="309.3" width="1.5" height="1.5" fill="#7eec3a"/>
<rect x="167.2" y="203.6" width="2" height="1" fill="#7eec3a"/>
<rect x="148.7" y="187.8" width="2" height="1" fill="#7eec3a"/>
<rect x="20.7" y="194.5" width="2" height="1.5" fill="#7eec3a"/>
<rect x="54.2" y="320.9" width="1.5" height="1.5" fill="#7eec3a"/>
<rect x="24.4" y="262.7" width="2" height="2" fill="#7eec3a"/>
<rect x="87.3" y="316.1" width="1.5" height="2" fill="#7eec3a"/>
<rect x="180.3" y="299.5" width="1" height="2" fill="#7eec3a"/>
<rect x="111.6" y="209.1" width="2" height="2" fill="#7eec3a"/>
<rect x="85.3" y="314.0" width="1.5" height="1.5" fill="#7eec3a"/>
<rect x="211.2" y="292.1" width="1.5" height="1.5" fill="#7eec3a"/>
<rect x="31.0" y="313.2" width="2" height="1.5" fill="#7eec3a"/>
<rect x="182.6" y="246.4" width="1.5" height="2" fill="#7eec3a"/>
<rect x="8.3" y="340.4" width="1" height="2" fill="#7eec3a"/>
<rect x="41.0" y="184.1" width="1" height="1" fill="#7eec3a"/>
<rect x="42.3" y="206.4" width="1.5" height="1.5" fill="#7eec3a"/>
<rect x="150.1" y="232.1" width="1.5" height="1.5" fill="#7eec3a"/>
<rect x="68.2" y="330.6" width="1.5" height="1.5" fill="#7eec3a"/>
<rect x="105.7" y="190.3" width="1" height="2" fill="#7eec3a"/>
<rect x="36.1" y="236.5" width="1.5" height="1.5" fill="#7eec3a"/>
<rect x="34.5" y="216.2" width="1.5" height="1" fill="#7eec3a"/>
<rect x="170.3" y="286.5" width="1" height="1.5" fill="#7eec3a"/>
<rect x="203.5" y="231.4" width="1.5" height="1.5" fill="#7eec3a"/>
<rect x="212.9" y="289.1" width="2" height="1.5" fill="#7eec3a"/>
<rect x="107.1" y="332.4" width="1" height="2" fill="#7eec3a"/>
<rect x="73.6" y="249.8" width="1" height="2" fill="#7eec3a"/>
<rect x="225.5" y="179.1" width="2" height="1" fill="#7eec3a"/>
<rect x="130.5" y="283.9" width="2" height="1.5" fill="#7eec3a"/>
<rect x="206.9" y="292.3" width="2" height="1.5" fill="#7eec3a"/>
<rect x="41.9" y="234.3" width="1" height="2" fill="#7eec3a"/>
<rect x="225.6" y="252.2" width="1" height="1" fill="#7eec3a"/>
<rect x="152.6" y="331.6" width="2" height="2" fill="#7eec3a"/>
<rect x="97.8" y="337.5" width="1" height="1.5" fill="#7eec3a"/>
<rect x="13.8" y="304.5" width="1.5" height="1" fill="#7eec3a"/>
<rect x="10.2" y="265.7" width="2" height="2" fill="#7eec3a"/>
<rect x="79.5" y="189.3" width="1" height="1" fill="#7eec3a"/>
<rect x="204.0" y="256.1" width="1.5" height="1" fill="#7eec3a"/>
<rect x="155.0" y="281.8" width="1.5" height="1.5" fill="#7eec3a"/>
<rect x="177.4" y="181.6" width="1.5" height="1.5" fill="#7eec3a"/>
<rect x="69.5" y="182.1" width="1" height="1" fill="#7eec3a"/>
<rect x="40.7" y="259.0" width="1.5" height="1" fill="#7eec3a"/>
<rect x="120.6" y="187.7" width="1.5" height="1" fill="#7eec3a"/>
<rect x="19.7" y="339.1" width="1" height="2" fill="#7eec3a"/>
<rect x="17.1" y="296.2" width="2" height="1" fill="#7eec3a"/>
<rect x="100.2" y="233.6" width="1.5" height="2" fill="#7eec3a"/>
<rect x="174.4" y="261.3" width="1" height="2" fill="#7eec3a"/>
<rect x="2.8" y="300.6" width="2" height="1.5" fill="#7eec3a"/>
<rect x="202.4" y="341.5" width="2" height="1" fill="#7eec3a"/>
<rect x="31.5" y="254.7" width="1.5" height="1.5" fill="#7eec3a"/>
<rect x="71.0" y="195.3" width="1" height="1.5" fill="#7eec3a"/>
<rect x="55.6" y="187.7" width="1.5" height="2" fill="#7eec3a"/>
<rect x="151.2" y="219.9" width="1.5" height="2" fill="#7eec3a"/>
<rect x="56.5" y="291.8" width="1.5" height="1.5" fill="#7eec3a"/>
<rect x="201.0" y="185.6" width="1.5" height="1.5" fill="#7eec3a"/>
<rect x="170.8" y="267.0" width="1.5" height="2" fill="#7eec3a"/>
<rect x="213.5" y="195.6" width="1" height="1.5" fill="#7eec3a"/>
<rect x="32.6" y="289.1" width="1" height="2" fill="#7eec3a"/>
<rect x="10.7" y="245.4" width="1" height="1.5" fill="#7eec3a"/>
<rect x="127.6" y="227.5" width="1.5" height="1" fill="#7eec3a"/>
<rect x="31.2" y="257.2" width="1.5" height="1.5" fill="#7eec3a"/>
<rect x="7.7" y="264.7" width="2" height="2" fill="#7eec3a"/>
<rect x="6.3" y="194.0" width="1" height="1.5" fill="#7eec3a"/>
<rect x="99.0" y="216.9" width="2" height="1" fill="#7eec3a"/>
<rect x="52.5" y="245.6" width="1.5" height="1" fill="#7eec3a"/>
<rect x="75.0" y="175.6" width="2" height="2" fill="#7eec3a"/>
</g>
<ellipse cx="132.5" cy="226" rx="4" ry="2.5" fill="#1a1ae0"/><ellipse cx="96" cy="295.6" rx="2.5" ry="5" fill="#1a1ae0"/><ellipse cx="132.5" cy="206" rx="1.5" ry="1.5" fill="#1a1ae0"/><ellipse cx="135.8" cy="313.8" rx="1.5" ry="1.5" fill="#1a1ae0"/>
</g>
<rect x="3" y="177.2" width="28.3" height="25.8" fill="#808080"/>
<text x="17.3" y="195.8" class="ss" font-weight="bold" font-size="22" text-anchor="middle" fill="#fff">b)</text>
<rect x="196" y="177.3" width="28" height="25.4" fill="#808080"/>
<text x="210.2" y="197.9" class="ss" font-weight="bold" font-size="22" text-anchor="middle" fill="#fff" textLength="20.6" lengthAdjust="spacingAndGlyphs">Al</text>
<rect x="4" y="323.8" width="61.6" height="14.9" fill="#808080"/><rect x="11.6" y="328" width="44.7" height="6.4" fill="#fff"/>
<defs><pattern id="dots" x="0" y="0" width="6.7" height="6.68" patternUnits="userSpaceOnUse"><rect width="6.7" height="6.68" fill="#fdfdfd"/><circle cx="2.7" cy="4.3" r="0.95" fill="#6e64c4"/></pattern><pattern id="dots2" x="0" y="0" width="6.7" height="6.68" patternUnits="userSpaceOnUse"><rect width="6.7" height="6.68" fill="#fdfdfd"/><circle cx="2.7" cy="4.3" r="0.95" fill="#5aa0b0"/></pattern><clipPath id="clipd"><rect x="1.3" y="345" width="200.7" height="264"/></clipPath></defs>
<rect x="0" y="345" width="1.3" height="264" fill="#c8c8c8"/>
<g clip-path="url(#clipd)">
<rect x="0" y="345" width="202" height="264" fill="#454e46"/>
<polygon points="14.0,380.0 32.0,378.0 36.0,395.0 30.0,415.0 22.0,418.0 16.0,400.0" fill="#3f4740" />
<polygon points="27.0,424.0 36.0,426.0 44.0,436.0 32.0,433.0" fill="#3a423b" />
<polygon points="92.0,345.0 110.0,345.0 108.0,352.0 96.0,353.0" fill="#3f4740" />
<polygon points="80.4,422.2 85.3,419.7 94.3,419.7 122.2,417.2 123.9,411.5 130.5,407.4 139.5,409.0 141.6,414.8 140.3,424.6 137.0,430.4 123.9,431.2 119.0,437.8 115.7,445.2 102.5,444.3 92.7,441.9 89.4,439.4 82.8,435.3 79.6,431.2" fill="#3a433b" />
<polygon points="88.1,435.3 91.1,433.7 92.4,439.4 91.1,445.2 88.8,446.0 87.4,441.1" fill="#161a16" />
<polygon points="79.6,432.8 84.5,432.0 85.8,434.8 81.2,435.5" fill="#1e221e" />
<polygon points="55.0,560.0 62.0,556.0 88.0,560.0 92.0,590.0 100.0,609.0 55.0,609.0" fill="#384039" />
<polygon points="0.0,590.0 30.0,596.0 55.0,603.0 60.0,609.0 0.0,609.0" fill="#3a423b" />
<ellipse cx="162" cy="565" rx="10" ry="7" fill="#3b433c"/>
<path d="M128,470 Q135,450 142,434 Q165,410 194,378" stroke="#5b655c" stroke-width="0.8" fill="none"/>
<path d="M60,520 Q100,518 140,515" stroke="#525b53" stroke-width="0.6" fill="none"/>
<path d="M120,538 L160,528 L200,520" stroke="#525b53" stroke-width="0.6" fill="none"/>
<polygon points="0.0,407.3 3.0,406.3 7.4,405.4 13.3,405.9 17.0,407.3 20.0,411.8 23.6,417.7 27.3,423.6 27.8,428.8 25.9,431.7 22.2,435.4 18.5,439.1 16.3,443.5 15.5,449.5 14.8,453.9 10.3,454.6 5.9,453.1 3.0,451.7 0.0,450.9" fill="url(#dots)" />
<polygon points="0.0,528.6 5.4,520.6 10.7,517.9 17.9,517.0 32.2,518.8 42.9,521.5 48.3,525.0 51.9,534.0 55.5,543.0 60.8,552.0 64.4,559.0 66.2,568.0 68.0,578.7 68.9,589.4 68.0,600.0 64.4,603.8 53.7,605.5 42.9,603.8 32.2,600.2 21.5,596.6 10.7,593.0 3.6,591.2 0.0,591.2" fill="url(#dots)" />
<polygon points="84.3,562.0 87.4,548.2 95.0,539.0 105.8,534.4 115.0,532.2 121.1,537.4 124.2,546.6 128.8,558.9 136.4,571.2 147.1,583.4 159.4,591.1 171.7,594.2 183.9,589.6 193.1,583.4 197.7,581.9 203.0,581.0 203.0,610.0 102.7,610.0 98.1,601.8 92.0,589.6 88.9,574.2" fill="url(#dots2)" />
<polygon points="198.7,344.0 203.0,344.0 203.0,406.0 199.3,403.0 196.4,399.3 194.7,394.7 194.1,383.2 194.7,371.7 196.4,360.2" fill="#fdfdfd" />
<circle cx="130.3" cy="603.4" r="2.2" fill="#2a2a8a"/>
<path d="M197,345V607.3H1.3" fill="none" stroke="#b03838" stroke-width="0.8" opacity="0.8"/>
</g>
<path d="M64,473.4H104.2M84.5,452.9V493.6" stroke="#a4a8a4" stroke-width="0.8"/>
<text x="106.5" y="437.8" class="ss" font-weight="bold" font-size="20.5" text-anchor="middle" fill="#fff">P</text>
<text x="84.6" y="480.8" class="ss" font-weight="bold" font-size="20.5" text-anchor="middle" fill="#fff">S</text>
<text x="28.6" y="558.1" class="ss" font-weight="bold" font-size="19" text-anchor="middle" fill="#000">M</text>
<text x="112.6" y="586.5" class="ss" font-weight="bold" font-size="19" text-anchor="middle" fill="#000">M</text>
<rect x="3.9" y="578.7" width="63.7" height="12.5" fill="#808080"/><rect x="12.5" y="582.3" width="46.2" height="5.7" fill="#fff"/>
<rect x="3.1" y="347.2" width="28.4" height="25.5" fill="#888"/>
<text x="17.3" y="365.8" class="ss" font-weight="bold" font-size="22" text-anchor="middle" fill="#fff">d)</text>
<rect x="205.30" y="345.10" width="6.72" height="6.61" fill="#f66a1e"/>
<rect x="211.97" y="345.10" width="6.72" height="6.61" fill="#efda3c"/>
<rect x="218.65" y="345.10" width="6.72" height="6.61" fill="#efda3c"/>
<rect x="225.32" y="345.10" width="6.72" height="6.61" fill="#efda3c"/>
<rect x="231.99" y="345.10" width="6.72" height="6.61" fill="#f66a1e"/>
<rect x="238.67" y="345.10" width="6.72" height="6.61" fill="#f0b030"/>
<rect x="245.34" y="345.10" width="6.72" height="6.61" fill="#f4541c"/>
<rect x="252.01" y="345.10" width="6.72" height="6.61" fill="#f0b030"/>
<rect x="258.69" y="345.10" width="6.72" height="6.61" fill="#f4541c"/>
<rect x="265.36" y="345.10" width="6.72" height="6.61" fill="#f4541c"/>
<rect x="272.03" y="345.10" width="6.72" height="6.61" fill="#f66a1e"/>
<rect x="278.71" y="345.10" width="6.72" height="6.61" fill="#efda3c"/>
<rect x="285.38" y="345.10" width="6.72" height="6.61" fill="#f4541c"/>
<rect x="292.05" y="345.10" width="6.72" height="6.61" fill="#f4541c"/>
<rect x="298.73" y="345.10" width="6.72" height="6.61" fill="#52b4f4"/>
<rect x="305.40" y="345.10" width="6.72" height="6.61" fill="#62e6f6"/>
<rect x="312.07" y="345.10" width="6.72" height="6.61" fill="#f66a1e"/>
<rect x="318.75" y="345.10" width="6.72" height="6.61" fill="#f66a1e"/>
<rect x="325.42" y="345.10" width="6.72" height="6.61" fill="#f66a1e"/>
<rect x="332.09" y="345.10" width="6.72" height="6.61" fill="#62e6f6"/>
<rect x="338.77" y="345.10" width="6.72" height="6.61" fill="#f66a1e"/>
<rect x="345.44" y="345.10" width="6.72" height="6.61" fill="#f66a1e"/>
<rect x="352.11" y="345.10" width="6.72" height="6.61" fill="#f66a1e"/>
<rect x="358.79" y="345.10" width="6.72" height="6.61" fill="#f66a1e"/>
<rect x="365.46" y="345.10" width="6.72" height="6.61" fill="#f66a1e"/>
<rect x="372.13" y="345.10" width="6.72" height="6.61" fill="#f66a1e"/>
<rect x="378.81" y="345.10" width="6.72" height="6.61" fill="#f66a1e"/>
<rect x="385.48" y="345.10" width="6.72" height="6.61" fill="#f66a1e"/>
<rect x="392.15" y="345.10" width="6.72" height="6.61" fill="#f66a1e"/>
<rect x="398.83" y="345.10" width="6.72" height="6.61" fill="#f66a1e"/>
<rect x="205.30" y="351.66" width="6.72" height="6.61" fill="#f66a1e"/>
<rect x="211.97" y="351.66" width="6.72" height="6.61" fill="#f66a1e"/>
<rect x="218.65" y="351.66" width="6.72" height="6.61" fill="#f66a1e"/>
<rect x="225.32" y="351.66" width="6.72" height="6.61" fill="#f66a1e"/>
<rect x="231.99" y="351.66" width="6.72" height="6.61" fill="#f66a1e"/>
<rect x="238.67" y="351.66" width="6.72" height="6.61" fill="#f0b030"/>
<rect x="245.34" y="351.66" width="6.72" height="6.61" fill="#f66a1e"/>
<rect x="252.01" y="351.66" width="6.72" height="6.61" fill="#f0b030"/>
<rect x="258.69" y="351.66" width="6.72" height="6.61" fill="#f4541c"/>
<rect x="265.36" y="351.66" width="6.72" height="6.61" fill="#f66a1e"/>
<rect x="272.03" y="351.66" width="6.72" height="6.61" fill="#f66a1e"/>
<rect x="278.71" y="351.66" width="6.72" height="6.61" fill="#f66a1e"/>
<rect x="285.38" y="351.66" width="6.72" height="6.61" fill="#f4541c"/>
<rect x="292.05" y="351.66" width="6.72" height="6.61" fill="#f66a1e"/>
<rect x="298.73" y="351.66" width="6.72" height="6.61" fill="#f4541c"/>
<rect x="305.40" y="351.66" width="6.72" height="6.61" fill="#62e6f6"/>
<rect x="312.07" y="351.66" width="6.72" height="6.61" fill="#f66a1e"/>
<rect x="318.75" y="351.66" width="6.72" height="6.61" fill="#f66a1e"/>
<rect x="325.42" y="351.66" width="6.72" height="6.61" fill="#f66a1e"/>
<rect x="332.09" y="351.66" width="6.72" height="6.61" fill="#f66a1e"/>
<rect x="338.77" y="351.66" width="6.72" height="6.61" fill="#f4541c"/>
<rect x="345.44" y="351.66" width="6.72" height="6.61" fill="#f66a1e"/>
<rect x="352.11" y="351.66" width="6.72" height="6.61" fill="#f66a1e"/>
<rect x="358.79" y="351.66" width="6.72" height="6.61" fill="#f0b030"/>
<rect x="365.46" y="351.66" width="6.72" height="6.61" fill="#f66a1e"/>
<rect x="372.13" y="351.66" width="6.72" height="6.61" fill="#f66a1e"/>
<rect x="378.81" y="351.66" width="6.72" height="6.61" fill="#f66a1e"/>
<rect x="385.48" y="351.66" width="6.72" height="6.61" fill="#f66a1e"/>
<rect x="392.15" y="351.66" width="6.72" height="6.61" fill="#f66a1e"/>
<rect x="398.83" y="351.66" width="6.72" height="6.61" fill="#f66a1e"/>
<rect x="205.30" y="358.23" width="6.72" height="6.61" fill="#f66a1e"/>
<rect x="211.97" y="358.23" width="6.72" height="6.61" fill="#f66a1e"/>
<rect x="218.65" y="358.23" width="6.72" height="6.61" fill="#f66a1e"/>
<rect x="225.32" y="358.23" width="6.72" height="6.61" fill="#f66a1e"/>
<rect x="231.99" y="358.23" width="6.72" height="6.61" fill="#f66a1e"/>
<rect x="238.67" y="358.23" width="6.72" height="6.61" fill="#eeee3c"/>
<rect x="245.34" y="358.23" width="6.72" height="6.61" fill="#f66a1e"/>
<rect x="252.01" y="358.23" width="6.72" height="6.61" fill="#efda3c"/>
<rect x="258.69" y="358.23" width="6.72" height="6.61" fill="#f66a1e"/>
<rect x="265.36" y="358.23" width="6.72" height="6.61" fill="#f66a1e"/>
<rect x="272.03" y="358.23" width="6.72" height="6.61" fill="#f66a1e"/>
<rect x="278.71" y="358.23" width="6.72" height="6.61" fill="#f66a1e"/>
<rect x="285.38" y="358.23" width="6.72" height="6.61" fill="#f4541c"/>
<rect x="292.05" y="358.23" width="6.72" height="6.61" fill="#f66a1e"/>
<rect x="298.73" y="358.23" width="6.72" height="6.61" fill="#f66a1e"/>
<rect x="305.40" y="358.23" width="6.72" height="6.61" fill="#f66a1e"/>
<rect x="312.07" y="358.23" width="6.72" height="6.61" fill="#f66a1e"/>
<rect x="318.75" y="358.23" width="6.72" height="6.61" fill="#f4541c"/>
<rect x="325.42" y="358.23" width="6.72" height="6.61" fill="#f66a1e"/>
<rect x="332.09" y="358.23" width="6.72" height="6.61" fill="#f66a1e"/>
<rect x="338.77" y="358.23" width="6.72" height="6.61" fill="#f66a1e"/>
<rect x="345.44" y="358.23" width="6.72" height="6.61" fill="#f66a1e"/>
<rect x="352.11" y="358.23" width="6.72" height="6.61" fill="#f66a1e"/>
<rect x="358.79" y="358.23" width="6.72" height="6.61" fill="#f66a1e"/>
<rect x="365.46" y="358.23" width="6.72" height="6.61" fill="#f66a1e"/>
<rect x="372.13" y="358.23" width="6.72" height="6.61" fill="#f66a1e"/>
<rect x="378.81" y="358.23" width="6.72" height="6.61" fill="#f66a1e"/>
<rect x="385.48" y="358.23" width="6.72" height="6.61" fill="#f66a1e"/>
<rect x="392.15" y="358.23" width="6.72" height="6.61" fill="#f66a1e"/>
<rect x="398.83" y="358.23" width="6.72" height="6.61" fill="#f4541c"/>
<rect x="205.30" y="364.79" width="6.72" height="6.61" fill="#f66a1e"/>
<rect x="211.97" y="364.79" width="6.72" height="6.61" fill="#f66a1e"/>
<rect x="218.65" y="364.79" width="6.72" height="6.61" fill="#f66a1e"/>
<rect x="225.32" y="364.79" width="6.72" height="6.61" fill="#f66a1e"/>
<rect x="231.99" y="364.79" width="6.72" height="6.61" fill="#f66a1e"/>
<rect x="238.67" y="364.79" width="6.72" height="6.61" fill="#f4541c"/>
<rect x="245.34" y="364.79" width="6.72" height="6.61" fill="#0a0a0a"/>
<rect x="252.01" y="364.79" width="6.72" height="6.61" fill="#0a0a0a"/>
<rect x="258.69" y="364.79" width="6.72" height="6.61" fill="#f66a1e"/>
<rect x="265.36" y="364.79" width="6.72" height="6.61" fill="#f66a1e"/>
<rect x="272.03" y="364.79" width="6.72" height="6.61" fill="#f66a1e"/>
<rect x="278.71" y="364.79" width="6.72" height="6.61" fill="#efda3c"/>
<rect x="285.38" y="364.79" width="6.72" height="6.61" fill="#f4541c"/>
<rect x="292.05" y="364.79" width="6.72" height="6.61" fill="#f66a1e"/>
<rect x="298.73" y="364.79" width="6.72" height="6.61" fill="#f66a1e"/>
<rect x="305.40" y="364.79" width="6.72" height="6.61" fill="#f0b030"/>
<rect x="312.07" y="364.79" width="6.72" height="6.61" fill="#f66a1e"/>
<rect x="318.75" y="364.79" width="6.72" height="6.61" fill="#f66a1e"/>
<rect x="325.42" y="364.79" width="6.72" height="6.61" fill="#f4541c"/>
<rect x="332.09" y="364.79" width="6.72" height="6.61" fill="#f66a1e"/>
<rect x="338.77" y="364.79" width="6.72" height="6.61" fill="#f66a1e"/>
<rect x="345.44" y="364.79" width="6.72" height="6.61" fill="#f66a1e"/>
<rect x="352.11" y="364.79" width="6.72" height="6.61" fill="#f4541c"/>
<rect x="358.79" y="364.79" width="6.72" height="6.61" fill="#f66a1e"/>
<rect x="365.46" y="364.79" width="6.72" height="6.61" fill="#f66a1e"/>
<rect x="372.13" y="364.79" width="6.72" height="6.61" fill="#f66a1e"/>
<rect x="378.81" y="364.79" width="6.72" height="6.61" fill="#f66a1e"/>
<rect x="385.48" y="364.79" width="6.72" height="6.61" fill="#f66a1e"/>
<rect x="392.15" y="364.79" width="6.72" height="6.61" fill="#f66a1e"/>
<rect x="398.83" y="364.79" width="6.72" height="6.61" fill="#f66a1e"/>
<rect x="205.30" y="371.35" width="6.72" height="6.61" fill="#f66a1e"/>
<rect x="211.97" y="371.35" width="6.72" height="6.61" fill="#f66a1e"/>
<rect x="218.65" y="371.35" width="6.72" height="6.61" fill="#f66a1e"/>
<rect x="225.32" y="371.35" width="6.72" height="6.61" fill="#eeee3c"/>
<rect x="231.99" y="371.35" width="6.72" height="6.61" fill="#eeee3c"/>
<rect x="238.67" y="371.35" width="6.72" height="6.61" fill="#efda3c"/>
<rect x="245.34" y="371.35" width="6.72" height="6.61" fill="#f66a1e"/>
<rect x="252.01" y="371.35" width="6.72" height="6.61" fill="#f66a1e"/>
<rect x="258.69" y="371.35" width="6.72" height="6.61" fill="#f66a1e"/>
<rect x="265.36" y="371.35" width="6.72" height="6.61" fill="#f66a1e"/>
<rect x="272.03" y="371.35" width="6.72" height="6.61" fill="#f66a1e"/>
<rect x="278.71" y="371.35" width="6.72" height="6.61" fill="#f0b030"/>
<rect x="285.38" y="371.35" width="6.72" height="6.61" fill="#f66a1e"/>
<rect x="292.05" y="371.35" width="6.72" height="6.61" fill="#f66a1e"/>
<rect x="298.73" y="371.35" width="6.72" height="6.61" fill="#f4541c"/>
<rect x="305.40" y="371.35" width="6.72" height="6.61" fill="#f66a1e"/>
<rect x="312.07" y="371.35" width="6.72" height="6.61" fill="#f66a1e"/>
<rect x="318.75" y="371.35" width="6.72" height="6.61" fill="#f4541c"/>
<rect x="325.42" y="371.35" width="6.72" height="6.61" fill="#f66a1e"/>
<rect x="332.09" y="371.35" width="6.72" height="6.61" fill="#f66a1e"/>
<rect x="338.77" y="371.35" width="6.72" height="6.61" fill="#f66a1e"/>
<rect x="345.44" y="371.35" width="6.72" height="6.61" fill="#f66a1e"/>
<rect x="352.11" y="371.35" width="6.72" height="6.61" fill="#f66a1e"/>
<rect x="358.79" y="371.35" width="6.72" height="6.61" fill="#f66a1e"/>
<rect x="365.46" y="371.35" width="6.72" height="6.61" fill="#f4541c"/>
<rect x="372.13" y="371.35" width="6.72" height="6.61" fill="#f66a1e"/>
<rect x="378.81" y="371.35" width="6.72" height="6.61" fill="#f4541c"/>
<rect x="385.48" y="371.35" width="6.72" height="6.61" fill="#f66a1e"/>
<rect x="392.15" y="371.35" width="6.72" height="6.61" fill="#f66a1e"/>
<rect x="398.83" y="371.35" width="6.72" height="6.61" fill="#f0b030"/>
<rect x="205.30" y="377.91" width="6.72" height="6.61" fill="#f0b030"/>
<rect x="211.97" y="377.91" width="6.72" height="6.61" fill="#eeee3c"/>
<rect x="218.65" y="377.91" width="6.72" height="6.61" fill="#f66a1e"/>
<rect x="225.32" y="377.91" width="6.72" height="6.61" fill="#62e6f6"/>
<rect x="231.99" y="377.91" width="6.72" height="6.61" fill="#4486f2"/>
<rect x="238.67" y="377.91" width="6.72" height="6.61" fill="#62e6f6"/>
<rect x="245.34" y="377.91" width="6.72" height="6.61" fill="#f66a1e"/>
<rect x="252.01" y="377.91" width="6.72" height="6.61" fill="#f66a1e"/>
<rect x="258.69" y="377.91" width="6.72" height="6.61" fill="#f66a1e"/>
<rect x="265.36" y="377.91" width="6.72" height="6.61" fill="#f4541c"/>
<rect x="272.03" y="377.91" width="6.72" height="6.61" fill="#f66a1e"/>
<rect x="278.71" y="377.91" width="6.72" height="6.61" fill="#f66a1e"/>
<rect x="285.38" y="377.91" width="6.72" height="6.61" fill="#f66a1e"/>
<rect x="292.05" y="377.91" width="6.72" height="6.61" fill="#f66a1e"/>
<rect x="298.73" y="377.91" width="6.72" height="6.61" fill="#f66a1e"/>
<rect x="305.40" y="377.91" width="6.72" height="6.61" fill="#f66a1e"/>
<rect x="312.07" y="377.91" width="6.72" height="6.61" fill="#f66a1e"/>
<rect x="318.75" y="377.91" width="6.72" height="6.61" fill="#f66a1e"/>
<rect x="325.42" y="377.91" width="6.72" height="6.61" fill="#f66a1e"/>
<rect x="332.09" y="377.91" width="6.72" height="6.61" fill="#f66a1e"/>
<rect x="338.77" y="377.91" width="6.72" height="6.61" fill="#f66a1e"/>
<rect x="345.44" y="377.91" width="6.72" height="6.61" fill="#f66a1e"/>
<rect x="352.11" y="377.91" width="6.72" height="6.61" fill="#f66a1e"/>
<rect x="358.79" y="377.91" width="6.72" height="6.61" fill="#f4541c"/>
<rect x="365.46" y="377.91" width="6.72" height="6.61" fill="#f66a1e"/>
<rect x="372.13" y="377.91" width="6.72" height="6.61" fill="#f66a1e"/>
<rect x="378.81" y="377.91" width="6.72" height="6.61" fill="#f66a1e"/>
<rect x="385.48" y="377.91" width="6.72" height="6.61" fill="#f66a1e"/>
<rect x="392.15" y="377.91" width="6.72" height="6.61" fill="#efda3c"/>
<rect x="398.83" y="377.91" width="6.72" height="6.61" fill="#eeee3c"/>
<rect x="205.30" y="384.48" width="6.72" height="6.61" fill="#f0b030"/>
<rect x="211.97" y="384.48" width="6.72" height="6.61" fill="#efda3c"/>
<rect x="218.65" y="384.48" width="6.72" height="6.61" fill="#c8f24e"/>
<rect x="225.32" y="384.48" width="6.72" height="6.61" fill="#62e6f6"/>
<rect x="231.99" y="384.48" width="6.72" height="6.61" fill="#4486f2"/>
<rect x="238.67" y="384.48" width="6.72" height="6.61" fill="#96ee8a"/>
<rect x="245.34" y="384.48" width="6.72" height="6.61" fill="#f66a1e"/>
<rect x="252.01" y="384.48" width="6.72" height="6.61" fill="#f66a1e"/>
<rect x="258.69" y="384.48" width="6.72" height="6.61" fill="#f4541c"/>
<rect x="265.36" y="384.48" width="6.72" height="6.61" fill="#f4541c"/>
<rect x="272.03" y="384.48" width="6.72" height="6.61" fill="#f66a1e"/>
<rect x="278.71" y="384.48" width="6.72" height="6.61" fill="#f0b030"/>
<rect x="285.38" y="384.48" width="6.72" height="6.61" fill="#eeee3c"/>
<rect x="292.05" y="384.48" width="6.72" height="6.61" fill="#efda3c"/>
<rect x="298.73" y="384.48" width="6.72" height="6.61" fill="#efda3c"/>
<rect x="305.40" y="384.48" width="6.72" height="6.61" fill="#eeee3c"/>
<rect x="312.07" y="384.48" width="6.72" height="6.61" fill="#eeee3c"/>
<rect x="318.75" y="384.48" width="6.72" height="6.61" fill="#eeee3c"/>
<rect x="325.42" y="384.48" width="6.72" height="6.61" fill="#eeee3c"/>
<rect x="332.09" y="384.48" width="6.72" height="6.61" fill="#f66a1e"/>
<rect x="338.77" y="384.48" width="6.72" height="6.61" fill="#f66a1e"/>
<rect x="345.44" y="384.48" width="6.72" height="6.61" fill="#f66a1e"/>
<rect x="352.11" y="384.48" width="6.72" height="6.61" fill="#f66a1e"/>
<rect x="358.79" y="384.48" width="6.72" height="6.61" fill="#f66a1e"/>
<rect x="365.46" y="384.48" width="6.72" height="6.61" fill="#f66a1e"/>
<rect x="372.13" y="384.48" width="6.72" height="6.61" fill="#f66a1e"/>
<rect x="378.81" y="384.48" width="6.72" height="6.61" fill="#f66a1e"/>
<rect x="385.48" y="384.48" width="6.72" height="6.61" fill="#f66a1e"/>
<rect x="392.15" y="384.48" width="6.72" height="6.61" fill="#eeee3c"/>
<rect x="398.83" y="384.48" width="6.72" height="6.61" fill="#f66a1e"/>
<rect x="205.30" y="391.04" width="6.72" height="6.61" fill="#f0b030"/>
<rect x="211.97" y="391.04" width="6.72" height="6.61" fill="#efda3c"/>
<rect x="218.65" y="391.04" width="6.72" height="6.61" fill="#efda3c"/>
<rect x="225.32" y="391.04" width="6.72" height="6.61" fill="#52b4f4"/>
<rect x="231.99" y="391.04" width="6.72" height="6.61" fill="#62e6f6"/>
<rect x="238.67" y="391.04" width="6.72" height="6.61" fill="#efda3c"/>
<rect x="245.34" y="391.04" width="6.72" height="6.61" fill="#f4541c"/>
<rect x="252.01" y="391.04" width="6.72" height="6.61" fill="#f4541c"/>
<rect x="258.69" y="391.04" width="6.72" height="6.61" fill="#f66a1e"/>
<rect x="265.36" y="391.04" width="6.72" height="6.61" fill="#f0b030"/>
<rect x="272.03" y="391.04" width="6.72" height="6.61" fill="#f0b030"/>
<rect x="278.71" y="391.04" width="6.72" height="6.61" fill="#eeee3c"/>
<rect x="285.38" y="391.04" width="6.72" height="6.61" fill="#efda3c"/>
<rect x="292.05" y="391.04" width="6.72" height="6.61" fill="#eeee3c"/>
<rect x="298.73" y="391.04" width="6.72" height="6.61" fill="#efda3c"/>
<rect x="305.40" y="391.04" width="6.72" height="6.61" fill="#efda3c"/>
<rect x="312.07" y="391.04" width="6.72" height="6.61" fill="#eeee3c"/>
<rect x="318.75" y="391.04" width="6.72" height="6.61" fill="#eeee3c"/>
<rect x="325.42" y="391.04" width="6.72" height="6.61" fill="#eeee3c"/>
<rect x="332.09" y="391.04" width="6.72" height="6.61" fill="#eeee3c"/>
<rect x="338.77" y="391.04" width="6.72" height="6.61" fill="#f0b030"/>
<rect x="345.44" y="391.04" width="6.72" height="6.61" fill="#f4541c"/>
<rect x="352.11" y="391.04" width="6.72" height="6.61" fill="#f66a1e"/>
<rect x="358.79" y="391.04" width="6.72" height="6.61" fill="#f66a1e"/>
<rect x="365.46" y="391.04" width="6.72" height="6.61" fill="#f4541c"/>
<rect x="372.13" y="391.04" width="6.72" height="6.61" fill="#f66a1e"/>
<rect x="378.81" y="391.04" width="6.72" height="6.61" fill="#f66a1e"/>
<rect x="385.48" y="391.04" width="6.72" height="6.61" fill="#eeee3c"/>
<rect x="392.15" y="391.04" width="6.72" height="6.61" fill="#f66a1e"/>
<rect x="398.83" y="391.04" width="6.72" height="6.61" fill="#f66a1e"/>
<rect x="205.30" y="397.60" width="6.72" height="6.61" fill="#efda3c"/>
<rect x="211.97" y="397.60" width="6.72" height="6.61" fill="#f0b030"/>
<rect x="218.65" y="397.60" width="6.72" height="6.61" fill="#f0b030"/>
<rect x="225.32" y="397.60" width="6.72" height="6.61" fill="#74eed8"/>
<rect x="231.99" y="397.60" width="6.72" height="6.61" fill="#62e6f6"/>
<rect x="238.67" y="397.60" width="6.72" height="6.61" fill="#f66a1e"/>
<rect x="245.34" y="397.60" width="6.72" height="6.61" fill="#f4541c"/>
<rect x="252.01" y="397.60" width="6.72" height="6.61" fill="#f4541c"/>
<rect x="258.69" y="397.60" width="6.72" height="6.61" fill="#efda3c"/>
<rect x="265.36" y="397.60" width="6.72" height="6.61" fill="#eeee3c"/>
<rect x="272.03" y="397.60" width="6.72" height="6.61" fill="#efda3c"/>
<rect x="278.71" y="397.60" width="6.72" height="6.61" fill="#efda3c"/>
<rect x="285.38" y="397.60" width="6.72" height="6.61" fill="#efda3c"/>
<rect x="292.05" y="397.60" width="6.72" height="6.61" fill="#efda3c"/>
<rect x="298.73" y="397.60" width="6.72" height="6.61" fill="#efda3c"/>
<rect x="305.40" y="397.60" width="6.72" height="6.61" fill="#f0b030"/>
<rect x="312.07" y="397.60" width="6.72" height="6.61" fill="#eeee3c"/>
<rect x="318.75" y="397.60" width="6.72" height="6.61" fill="#efda3c"/>
<rect x="325.42" y="397.60" width="6.72" height="6.61" fill="#efda3c"/>
<rect x="332.09" y="397.60" width="6.72" height="6.61" fill="#eeee3c"/>
<rect x="338.77" y="397.60" width="6.72" height="6.61" fill="#efda3c"/>
<rect x="345.44" y="397.60" width="6.72" height="6.61" fill="#f66a1e"/>
<rect x="352.11" y="397.60" width="6.72" height="6.61" fill="#f4541c"/>
<rect x="358.79" y="397.60" width="6.72" height="6.61" fill="#f66a1e"/>
<rect x="365.46" y="397.60" width="6.72" height="6.61" fill="#f66a1e"/>
<rect x="372.13" y="397.60" width="6.72" height="6.61" fill="#f66a1e"/>
<rect x="378.81" y="397.60" width="6.72" height="6.61" fill="#f0b030"/>
<rect x="385.48" y="397.60" width="6.72" height="6.61" fill="#f0b030"/>
<rect x="392.15" y="397.60" width="6.72" height="6.61" fill="#f66a1e"/>
<rect x="398.83" y="397.60" width="6.72" height="6.61" fill="#f0b030"/>
<rect x="205.30" y="404.16" width="6.72" height="6.61" fill="#c8f24e"/>
<rect x="211.97" y="404.16" width="6.72" height="6.61" fill="#eeee3c"/>
<rect x="218.65" y="404.16" width="6.72" height="6.61" fill="#eeee3c"/>
<rect x="225.32" y="404.16" width="6.72" height="6.61" fill="#62e6f6"/>
<rect x="231.99" y="404.16" width="6.72" height="6.61" fill="#62e6f6"/>
<rect x="238.67" y="404.16" width="6.72" height="6.61" fill="#efda3c"/>
<rect x="245.34" y="404.16" width="6.72" height="6.61" fill="#f66a1e"/>
<rect x="252.01" y="404.16" width="6.72" height="6.61" fill="#efda3c"/>
<rect x="258.69" y="404.16" width="6.72" height="6.61" fill="#efda3c"/>
<rect x="265.36" y="404.16" width="6.72" height="6.61" fill="#f0b030"/>
<rect x="272.03" y="404.16" width="6.72" height="6.61" fill="#efda3c"/>
<rect x="278.71" y="404.16" width="6.72" height="6.61" fill="#eeee3c"/>
<rect x="285.38" y="404.16" width="6.72" height="6.61" fill="#efda3c"/>
<rect x="292.05" y="404.16" width="6.72" height="6.61" fill="#eeee3c"/>
<rect x="298.73" y="404.16" width="6.72" height="6.61" fill="#efda3c"/>
<rect x="305.40" y="404.16" width="6.72" height="6.61" fill="#efda3c"/>
<rect x="312.07" y="404.16" width="6.72" height="6.61" fill="#efda3c"/>
<rect x="318.75" y="404.16" width="6.72" height="6.61" fill="#efda3c"/>
<rect x="325.42" y="404.16" width="6.72" height="6.61" fill="#eeee3c"/>
<rect x="332.09" y="404.16" width="6.72" height="6.61" fill="#eeee3c"/>
<rect x="338.77" y="404.16" width="6.72" height="6.61" fill="#eeee3c"/>
<rect x="345.44" y="404.16" width="6.72" height="6.61" fill="#eeee3c"/>
<rect x="352.11" y="404.16" width="6.72" height="6.61" fill="#efda3c"/>
<rect x="358.79" y="404.16" width="6.72" height="6.61" fill="#f66a1e"/>
<rect x="365.46" y="404.16" width="6.72" height="6.61" fill="#f4541c"/>
<rect x="372.13" y="404.16" width="6.72" height="6.61" fill="#c8f24e"/>
<rect x="378.81" y="404.16" width="6.72" height="6.61" fill="#f66a1e"/>
<rect x="385.48" y="404.16" width="6.72" height="6.61" fill="#f0b030"/>
<rect x="392.15" y="404.16" width="6.72" height="6.61" fill="#efda3c"/>
<rect x="398.83" y="404.16" width="6.72" height="6.61" fill="#efda3c"/>
<rect x="205.30" y="410.73" width="6.72" height="6.61" fill="#c8f24e"/>
<rect x="211.97" y="410.73" width="6.72" height="6.61" fill="#efda3c"/>
<rect x="218.65" y="410.73" width="6.72" height="6.61" fill="#f0b030"/>
<rect x="225.32" y="410.73" width="6.72" height="6.61" fill="#4486f2"/>
<rect x="231.99" y="410.73" width="6.72" height="6.61" fill="#62e6f6"/>
<rect x="238.67" y="410.73" width="6.72" height="6.61" fill="#f66a1e"/>
<rect x="245.34" y="410.73" width="6.72" height="6.61" fill="#eeee3c"/>
<rect x="252.01" y="410.73" width="6.72" height="6.61" fill="#eeee3c"/>
<rect x="258.69" y="410.73" width="6.72" height="6.61" fill="#eeee3c"/>
<rect x="265.36" y="410.73" width="6.72" height="6.61" fill="#efda3c"/>
<rect x="272.03" y="410.73" width="6.72" height="6.61" fill="#efda3c"/>
<rect x="278.71" y="410.73" width="6.72" height="6.61" fill="#efda3c"/>
<rect x="285.38" y="410.73" width="6.72" height="6.61" fill="#eeee3c"/>
<rect x="292.05" y="410.73" width="6.72" height="6.61" fill="#efda3c"/>
<rect x="298.73" y="410.73" width="6.72" height="6.61" fill="#eeee3c"/>
<rect x="305.40" y="410.73" width="6.72" height="6.61" fill="#eeee3c"/>
<rect x="312.07" y="410.73" width="6.72" height="6.61" fill="#eeee3c"/>
<rect x="318.75" y="410.73" width="6.72" height="6.61" fill="#f4541c"/>
<rect x="325.42" y="410.73" width="6.72" height="6.61" fill="#f4541c"/>
<rect x="332.09" y="410.73" width="6.72" height="6.61" fill="#52b4f4"/>
<rect x="338.77" y="410.73" width="6.72" height="6.61" fill="#52b4f4"/>
<rect x="345.44" y="410.73" width="6.72" height="6.61" fill="#74eed8"/>
<rect x="352.11" y="410.73" width="6.72" height="6.61" fill="#efda3c"/>
<rect x="358.79" y="410.73" width="6.72" height="6.61" fill="#eeee3c"/>
<rect x="365.46" y="410.73" width="6.72" height="6.61" fill="#f03a16"/>
<rect x="372.13" y="410.73" width="6.72" height="6.61" fill="#efda3c"/>
<rect x="378.81" y="410.73" width="6.72" height="6.61" fill="#f66a1e"/>
<rect x="385.48" y="410.73" width="6.72" height="6.61" fill="#efda3c"/>
<rect x="392.15" y="410.73" width="6.72" height="6.61" fill="#efda3c"/>
<rect x="398.83" y="410.73" width="6.72" height="6.61" fill="#eeee3c"/>
<rect x="205.30" y="417.29" width="6.72" height="6.61" fill="#f0b030"/>
<rect x="211.97" y="417.29" width="6.72" height="6.61" fill="#efda3c"/>
<rect x="218.65" y="417.29" width="6.72" height="6.61" fill="#f0b030"/>
<rect x="225.32" y="417.29" width="6.72" height="6.61" fill="#0a0a0a"/>
<rect x="231.99" y="417.29" width="6.72" height="6.61" fill="#52b4f4"/>
<rect x="238.67" y="417.29" width="6.72" height="6.61" fill="#eeee3c"/>
<rect x="245.34" y="417.29" width="6.72" height="6.61" fill="#efda3c"/>
<rect x="252.01" y="417.29" width="6.72" height="6.61" fill="#eeee3c"/>
<rect x="258.69" y="417.29" width="6.72" height="6.61" fill="#eeee3c"/>
<rect x="265.36" y="417.29" width="6.72" height="6.61" fill="#efda3c"/>
<rect x="272.03" y="417.29" width="6.72" height="6.61" fill="#efda3c"/>
<rect x="278.71" y="417.29" width="6.72" height="6.61" fill="#efda3c"/>
<rect x="285.38" y="417.29" width="6.72" height="6.61" fill="#eeee3c"/>
<rect x="292.05" y="417.29" width="6.72" height="6.61" fill="#eeee3c"/>
<rect x="298.73" y="417.29" width="6.72" height="6.61" fill="#96ee8a"/>
<rect x="305.40" y="417.29" width="6.72" height="6.61" fill="#62e6f6"/>
<rect x="312.07" y="417.29" width="6.72" height="6.61" fill="#62e6f6"/>
<rect x="318.75" y="417.29" width="6.72" height="6.61" fill="#52b4f4"/>
<rect x="325.42" y="417.29" width="6.72" height="6.61" fill="#eeee3c"/>
<rect x="332.09" y="417.29" width="6.72" height="6.61" fill="#52b4f4"/>
<rect x="338.77" y="417.29" width="6.72" height="6.61" fill="#52b4f4"/>
<rect x="345.44" y="417.29" width="6.72" height="6.61" fill="#eeee3c"/>
<rect x="352.11" y="417.29" width="6.72" height="6.61" fill="#eeee3c"/>
<rect x="358.79" y="417.29" width="6.72" height="6.61" fill="#efda3c"/>
<rect x="365.46" y="417.29" width="6.72" height="6.61" fill="#eeee3c"/>
<rect x="372.13" y="417.29" width="6.72" height="6.61" fill="#eeee3c"/>
<rect x="378.81" y="417.29" width="6.72" height="6.61" fill="#efda3c"/>
<rect x="385.48" y="417.29" width="6.72" height="6.61" fill="#efda3c"/>
<rect x="392.15" y="417.29" width="6.72" height="6.61" fill="#eeee3c"/>
<rect x="398.83" y="417.29" width="6.72" height="6.61" fill="#eeee3c"/>
<rect x="205.30" y="423.85" width="6.72" height="6.61" fill="#efda3c"/>
<rect x="211.97" y="423.85" width="6.72" height="6.61" fill="#eeee3c"/>
<rect x="218.65" y="423.85" width="6.72" height="6.61" fill="#f0b030"/>
<rect x="225.32" y="423.85" width="6.72" height="6.61" fill="#efda3c"/>
<rect x="231.99" y="423.85" width="6.72" height="6.61" fill="#c8f24e"/>
<rect x="238.67" y="423.85" width="6.72" height="6.61" fill="#eeee3c"/>
<rect x="245.34" y="423.85" width="6.72" height="6.61" fill="#eeee3c"/>
<rect x="252.01" y="423.85" width="6.72" height="6.61" fill="#eeee3c"/>
<rect x="258.69" y="423.85" width="6.72" height="6.61" fill="#efda3c"/>
<rect x="265.36" y="423.85" width="6.72" height="6.61" fill="#c8f24e"/>
<rect x="272.03" y="423.85" width="6.72" height="6.61" fill="#eeee3c"/>
<rect x="278.71" y="423.85" width="6.72" height="6.61" fill="#c8f24e"/>
<rect x="285.38" y="423.85" width="6.72" height="6.61" fill="#c8f24e"/>
<rect x="292.05" y="423.85" width="6.72" height="6.61" fill="#eeee3c"/>
<rect x="298.73" y="423.85" width="6.72" height="6.61" fill="#52b4f4"/>
<rect x="305.40" y="423.85" width="6.72" height="6.61" fill="#52b4f4"/>
<rect x="312.07" y="423.85" width="6.72" height="6.61" fill="#52b4f4"/>
<rect x="318.75" y="423.85" width="6.72" height="6.61" fill="#52b4f4"/>
<rect x="325.42" y="423.85" width="6.72" height="6.61" fill="#52b4f4"/>
<rect x="332.09" y="423.85" width="6.72" height="6.61" fill="#52b4f4"/>
<rect x="338.77" y="423.85" width="6.72" height="6.61" fill="#62e6f6"/>
<rect x="345.44" y="423.85" width="6.72" height="6.61" fill="#eeee3c"/>
<rect x="352.11" y="423.85" width="6.72" height="6.61" fill="#eeee3c"/>
<rect x="358.79" y="423.85" width="6.72" height="6.61" fill="#efda3c"/>
<rect x="365.46" y="423.85" width="6.72" height="6.61" fill="#efda3c"/>
<rect x="372.13" y="423.85" width="6.72" height="6.61" fill="#eeee3c"/>
<rect x="378.81" y="423.85" width="6.72" height="6.61" fill="#efda3c"/>
<rect x="385.48" y="423.85" width="6.72" height="6.61" fill="#eeee3c"/>
<rect x="392.15" y="423.85" width="6.72" height="6.61" fill="#eeee3c"/>
<rect x="398.83" y="423.85" width="6.72" height="6.61" fill="#eeee3c"/>
<rect x="205.30" y="430.41" width="6.72" height="6.61" fill="#f66a1e"/>
<rect x="211.97" y="430.41" width="6.72" height="6.61" fill="#efda3c"/>
<rect x="218.65" y="430.41" width="6.72" height="6.61" fill="#f0b030"/>
<rect x="225.32" y="430.41" width="6.72" height="6.61" fill="#f0b030"/>
<rect x="231.99" y="430.41" width="6.72" height="6.61" fill="#96ee8a"/>
<rect x="238.67" y="430.41" width="6.72" height="6.61" fill="#62e6f6"/>
<rect x="245.34" y="430.41" width="6.72" height="6.61" fill="#62e6f6"/>
<rect x="252.01" y="430.41" width="6.72" height="6.61" fill="#62e6f6"/>
<rect x="258.69" y="430.41" width="6.72" height="6.61" fill="#efda3c"/>
<rect x="265.36" y="430.41" width="6.72" height="6.61" fill="#eeee3c"/>
<rect x="272.03" y="430.41" width="6.72" height="6.61" fill="#f03a16"/>
<rect x="278.71" y="430.41" width="6.72" height="6.61" fill="#f4541c"/>
<rect x="285.38" y="430.41" width="6.72" height="6.61" fill="#c8f24e"/>
<rect x="292.05" y="430.41" width="6.72" height="6.61" fill="#f0b030"/>
<rect x="298.73" y="430.41" width="6.72" height="6.61" fill="#4486f2"/>
<rect x="305.40" y="430.41" width="6.72" height="6.61" fill="#4486f2"/>
<rect x="312.07" y="430.41" width="6.72" height="6.61" fill="#4486f2"/>
<rect x="318.75" y="430.41" width="6.72" height="6.61" fill="#52b4f4"/>
<rect x="325.42" y="430.41" width="6.72" height="6.61" fill="#74eed8"/>
<rect x="332.09" y="430.41" width="6.72" height="6.61" fill="#eeee3c"/>
<rect x="338.77" y="430.41" width="6.72" height="6.61" fill="#efda3c"/>
<rect x="345.44" y="430.41" width="6.72" height="6.61" fill="#c8f24e"/>
<rect x="352.11" y="430.41" width="6.72" height="6.61" fill="#efda3c"/>
<rect x="358.79" y="430.41" width="6.72" height="6.61" fill="#efda3c"/>
<rect x="365.46" y="430.41" width="6.72" height="6.61" fill="#efda3c"/>
<rect x="372.13" y="430.41" width="6.72" height="6.61" fill="#efda3c"/>
<rect x="378.81" y="430.41" width="6.72" height="6.61" fill="#efda3c"/>
<rect x="385.48" y="430.41" width="6.72" height="6.61" fill="#efda3c"/>
<rect x="392.15" y="430.41" width="6.72" height="6.61" fill="#eeee3c"/>
<rect x="398.83" y="430.41" width="6.72" height="6.61" fill="#eeee3c"/>
<rect x="205.30" y="436.98" width="6.72" height="6.61" fill="#f66a1e"/>
<rect x="211.97" y="436.98" width="6.72" height="6.61" fill="#f66a1e"/>
<rect x="218.65" y="436.98" width="6.72" height="6.61" fill="#f4541c"/>
<rect x="225.32" y="436.98" width="6.72" height="6.61" fill="#eeee3c"/>
<rect x="231.99" y="436.98" width="6.72" height="6.61" fill="#efda3c"/>
<rect x="238.67" y="436.98" width="6.72" height="6.61" fill="#eeee3c"/>
<rect x="245.34" y="436.98" width="6.72" height="6.61" fill="#efda3c"/>
<rect x="252.01" y="436.98" width="6.72" height="6.61" fill="#efda3c"/>
<rect x="258.69" y="436.98" width="6.72" height="6.61" fill="#efda3c"/>
<rect x="265.36" y="436.98" width="6.72" height="6.61" fill="#efda3c"/>
<rect x="272.03" y="436.98" width="6.72" height="6.61" fill="#efda3c"/>
<rect x="278.71" y="436.98" width="6.72" height="6.61" fill="#f0b030"/>
<rect x="285.38" y="436.98" width="6.72" height="6.61" fill="#f0b030"/>
<rect x="292.05" y="436.98" width="6.72" height="6.61" fill="#c8f24e"/>
<rect x="298.73" y="436.98" width="6.72" height="6.61" fill="#52b4f4"/>
<rect x="305.40" y="436.98" width="6.72" height="6.61" fill="#4486f2"/>
<rect x="312.07" y="436.98" width="6.72" height="6.61" fill="#2030e8"/>
<rect x="318.75" y="436.98" width="6.72" height="6.61" fill="#4486f2"/>
<rect x="325.42" y="436.98" width="6.72" height="6.61" fill="#efda3c"/>
<rect x="332.09" y="436.98" width="6.72" height="6.61" fill="#eeee3c"/>
<rect x="338.77" y="436.98" width="6.72" height="6.61" fill="#eeee3c"/>
<rect x="345.44" y="436.98" width="6.72" height="6.61" fill="#eeee3c"/>
<rect x="352.11" y="436.98" width="6.72" height="6.61" fill="#eeee3c"/>
<rect x="358.79" y="436.98" width="6.72" height="6.61" fill="#efda3c"/>
<rect x="365.46" y="436.98" width="6.72" height="6.61" fill="#efda3c"/>
<rect x="372.13" y="436.98" width="6.72" height="6.61" fill="#efda3c"/>
<rect x="378.81" y="436.98" width="6.72" height="6.61" fill="#efda3c"/>
<rect x="385.48" y="436.98" width="6.72" height="6.61" fill="#eeee3c"/>
<rect x="392.15" y="436.98" width="6.72" height="6.61" fill="#efda3c"/>
<rect x="398.83" y="436.98" width="6.72" height="6.61" fill="#eeee3c"/>
<rect x="205.30" y="443.54" width="6.72" height="6.61" fill="#f0b030"/>
<rect x="211.97" y="443.54" width="6.72" height="6.61" fill="#f66a1e"/>
<rect x="218.65" y="443.54" width="6.72" height="6.61" fill="#eeee3c"/>
<rect x="225.32" y="443.54" width="6.72" height="6.61" fill="#efda3c"/>
<rect x="231.99" y="443.54" width="6.72" height="6.61" fill="#efda3c"/>
<rect x="238.67" y="443.54" width="6.72" height="6.61" fill="#efda3c"/>
<rect x="245.34" y="443.54" width="6.72" height="6.61" fill="#efda3c"/>
<rect x="252.01" y="443.54" width="6.72" height="6.61" fill="#efda3c"/>
<rect x="258.69" y="443.54" width="6.72" height="6.61" fill="#eeee3c"/>
<rect x="265.36" y="443.54" width="6.72" height="6.61" fill="#efda3c"/>
<rect x="272.03" y="443.54" width="6.72" height="6.61" fill="#efda3c"/>
<rect x="278.71" y="443.54" width="6.72" height="6.61" fill="#efda3c"/>
<rect x="285.38" y="443.54" width="6.72" height="6.61" fill="#f0b030"/>
<rect x="292.05" y="443.54" width="6.72" height="6.61" fill="#74eed8"/>
<rect x="298.73" y="443.54" width="6.72" height="6.61" fill="#eeee3c"/>
<rect x="305.40" y="443.54" width="6.72" height="6.61" fill="#c8f24e"/>
<rect x="312.07" y="443.54" width="6.72" height="6.61" fill="#62e6f6"/>
<rect x="318.75" y="443.54" width="6.72" height="6.61" fill="#eeee3c"/>
<rect x="325.42" y="443.54" width="6.72" height="6.61" fill="#eeee3c"/>
<rect x="332.09" y="443.54" width="6.72" height="6.61" fill="#efda3c"/>
<rect x="338.77" y="443.54" width="6.72" height="6.61" fill="#efda3c"/>
<rect x="345.44" y="443.54" width="6.72" height="6.61" fill="#eeee3c"/>
<rect x="352.11" y="443.54" width="6.72" height="6.61" fill="#efda3c"/>
<rect x="358.79" y="443.54" width="6.72" height="6.61" fill="#efda3c"/>
<rect x="365.46" y="443.54" width="6.72" height="6.61" fill="#efda3c"/>
<rect x="372.13" y="443.54" width="6.72" height="6.61" fill="#efda3c"/>
<rect x="378.81" y="443.54" width="6.72" height="6.61" fill="#efda3c"/>
<rect x="385.48" y="443.54" width="6.72" height="6.61" fill="#efda3c"/>
<rect x="392.15" y="443.54" width="6.72" height="6.61" fill="#efda3c"/>
<rect x="398.83" y="443.54" width="6.72" height="6.61" fill="#efda3c"/>
<rect x="205.30" y="450.10" width="6.72" height="6.61" fill="#62e6f6"/>
<rect x="211.97" y="450.10" width="6.72" height="6.61" fill="#efda3c"/>
<rect x="218.65" y="450.10" width="6.72" height="6.61" fill="#f4541c"/>
<rect x="225.32" y="450.10" width="6.72" height="6.61" fill="#eeee3c"/>
<rect x="231.99" y="450.10" width="6.72" height="6.61" fill="#efda3c"/>
<rect x="238.67" y="450.10" width="6.72" height="6.61" fill="#efda3c"/>
<rect x="245.34" y="450.10" width="6.72" height="6.61" fill="#efda3c"/>
<rect x="252.01" y="450.10" width="6.72" height="6.61" fill="#efda3c"/>
<rect x="258.69" y="450.10" width="6.72" height="6.61" fill="#efda3c"/>
<rect x="265.36" y="450.10" width="6.72" height="6.61" fill="#efda3c"/>
<rect x="272.03" y="450.10" width="6.72" height="6.61" fill="#efda3c"/>
<rect x="278.71" y="450.10" width="6.72" height="6.61" fill="#efda3c"/>
<rect x="285.38" y="450.10" width="6.72" height="6.61" fill="#efda3c"/>
<rect x="292.05" y="450.10" width="6.72" height="6.61" fill="#efda3c"/>
<rect x="298.73" y="450.10" width="6.72" height="6.61" fill="#efda3c"/>
<rect x="305.40" y="450.10" width="6.72" height="6.61" fill="#efda3c"/>
<rect x="312.07" y="450.10" width="6.72" height="6.61" fill="#efda3c"/>
<rect x="318.75" y="450.10" width="6.72" height="6.61" fill="#eeee3c"/>
<rect x="325.42" y="450.10" width="6.72" height="6.61" fill="#efda3c"/>
<rect x="332.09" y="450.10" width="6.72" height="6.61" fill="#efda3c"/>
<rect x="338.77" y="450.10" width="6.72" height="6.61" fill="#f0b030"/>
<rect x="345.44" y="450.10" width="6.72" height="6.61" fill="#efda3c"/>
<rect x="352.11" y="450.10" width="6.72" height="6.61" fill="#eeee3c"/>
<rect x="358.79" y="450.10" width="6.72" height="6.61" fill="#efda3c"/>
<rect x="365.46" y="450.10" width="6.72" height="6.61" fill="#eeee3c"/>
<rect x="372.13" y="450.10" width="6.72" height="6.61" fill="#f0b030"/>
<rect x="378.81" y="450.10" width="6.72" height="6.61" fill="#efda3c"/>
<rect x="385.48" y="450.10" width="6.72" height="6.61" fill="#efda3c"/>
<rect x="392.15" y="450.10" width="6.72" height="6.61" fill="#efda3c"/>
<rect x="398.83" y="450.10" width="6.72" height="6.61" fill="#eeee3c"/>
<rect x="205.30" y="456.66" width="6.72" height="6.61" fill="#52b4f4"/>
<rect x="211.97" y="456.66" width="6.72" height="6.61" fill="#52b4f4"/>
<rect x="218.65" y="456.66" width="6.72" height="6.61" fill="#c8f24e"/>
<rect x="225.32" y="456.66" width="6.72" height="6.61" fill="#efda3c"/>
<rect x="231.99" y="456.66" width="6.72" height="6.61" fill="#efda3c"/>
<rect x="238.67" y="456.66" width="6.72" height="6.61" fill="#eeee3c"/>
<rect x="245.34" y="456.66" width="6.72" height="6.61" fill="#efda3c"/>
<rect x="252.01" y="456.66" width="6.72" height="6.61" fill="#eeee3c"/>
<rect x="258.69" y="456.66" width="6.72" height="6.61" fill="#efda3c"/>
<rect x="265.36" y="456.66" width="6.72" height="6.61" fill="#efda3c"/>
<rect x="272.03" y="456.66" width="6.72" height="6.61" fill="#efda3c"/>
<rect x="278.71" y="456.66" width="6.72" height="6.61" fill="#efda3c"/>
<rect x="285.38" y="456.66" width="6.72" height="6.61" fill="#f0b030"/>
<rect x="292.05" y="456.66" width="6.72" height="6.61" fill="#efda3c"/>
<rect x="298.73" y="456.66" width="6.72" height="6.61" fill="#efda3c"/>
<rect x="305.40" y="456.66" width="6.72" height="6.61" fill="#efda3c"/>
<rect x="312.07" y="456.66" width="6.72" height="6.61" fill="#efda3c"/>
<rect x="318.75" y="456.66" width="6.72" height="6.61" fill="#eeee3c"/>
<rect x="325.42" y="456.66" width="6.72" height="6.61" fill="#f0b030"/>
<rect x="332.09" y="456.66" width="6.72" height="6.61" fill="#efda3c"/>
<rect x="338.77" y="456.66" width="6.72" height="6.61" fill="#eeee3c"/>
<rect x="345.44" y="456.66" width="6.72" height="6.61" fill="#eeee3c"/>
<rect x="352.11" y="456.66" width="6.72" height="6.61" fill="#efda3c"/>
<rect x="358.79" y="456.66" width="6.72" height="6.61" fill="#eeee3c"/>
<rect x="365.46" y="456.66" width="6.72" height="6.61" fill="#efda3c"/>
<rect x="372.13" y="456.66" width="6.72" height="6.61" fill="#efda3c"/>
<rect x="378.81" y="456.66" width="6.72" height="6.61" fill="#efda3c"/>
<rect x="385.48" y="456.66" width="6.72" height="6.61" fill="#efda3c"/>
<rect x="392.15" y="456.66" width="6.72" height="6.61" fill="#efda3c"/>
<rect x="398.83" y="456.66" width="6.72" height="6.61" fill="#eeee3c"/>
<rect x="205.30" y="463.23" width="6.72" height="6.61" fill="#52b4f4"/>
<rect x="211.97" y="463.23" width="6.72" height="6.61" fill="#52b4f4"/>
<rect x="218.65" y="463.23" width="6.72" height="6.61" fill="#eeee3c"/>
<rect x="225.32" y="463.23" width="6.72" height="6.61" fill="#efda3c"/>
<rect x="231.99" y="463.23" width="6.72" height="6.61" fill="#f0b030"/>
<rect x="238.67" y="463.23" width="6.72" height="6.61" fill="#efda3c"/>
<rect x="245.34" y="463.23" width="6.72" height="6.61" fill="#efda3c"/>
<rect x="252.01" y="463.23" width="6.72" height="6.61" fill="#efda3c"/>
<rect x="258.69" y="463.23" width="6.72" height="6.61" fill="#efda3c"/>
<rect x="265.36" y="463.23" width="6.72" height="6.61" fill="#f0b030"/>
<rect x="272.03" y="463.23" width="6.72" height="6.61" fill="#efda3c"/>
<rect x="278.71" y="463.23" width="6.72" height="6.61" fill="#eeee3c"/>
<rect x="285.38" y="463.23" width="6.72" height="6.61" fill="#efda3c"/>
<rect x="292.05" y="463.23" width="6.72" height="6.61" fill="#eeee3c"/>
<rect x="298.73" y="463.23" width="6.72" height="6.61" fill="#efda3c"/>
<rect x="305.40" y="463.23" width="6.72" height="6.61" fill="#eeee3c"/>
<rect x="312.07" y="463.23" width="6.72" height="6.61" fill="#efda3c"/>
<rect x="318.75" y="463.23" width="6.72" height="6.61" fill="#eeee3c"/>
<rect x="325.42" y="463.23" width="6.72" height="6.61" fill="#eeee3c"/>
<rect x="332.09" y="463.23" width="6.72" height="6.61" fill="#efda3c"/>
<rect x="338.77" y="463.23" width="6.72" height="6.61" fill="#efda3c"/>
<rect x="345.44" y="463.23" width="6.72" height="6.61" fill="#efda3c"/>
<rect x="352.11" y="463.23" width="6.72" height="6.61" fill="#eeee3c"/>
<rect x="358.79" y="463.23" width="6.72" height="6.61" fill="#eeee3c"/>
<rect x="365.46" y="463.23" width="6.72" height="6.61" fill="#efda3c"/>
<rect x="372.13" y="463.23" width="6.72" height="6.61" fill="#eeee3c"/>
<rect x="378.81" y="463.23" width="6.72" height="6.61" fill="#eeee3c"/>
<rect x="385.48" y="463.23" width="6.72" height="6.61" fill="#efda3c"/>
<rect x="392.15" y="463.23" width="6.72" height="6.61" fill="#eeee3c"/>
<rect x="398.83" y="463.23" width="6.72" height="6.61" fill="#efda3c"/>
<rect x="205.30" y="469.79" width="6.72" height="6.61" fill="#4486f2"/>
<rect x="211.97" y="469.79" width="6.72" height="6.61" fill="#c8f24e"/>
<rect x="218.65" y="469.79" width="6.72" height="6.61" fill="#f0b030"/>
<rect x="225.32" y="469.79" width="6.72" height="6.61" fill="#eeee3c"/>
<rect x="231.99" y="469.79" width="6.72" height="6.61" fill="#f0b030"/>
<rect x="238.67" y="469.79" width="6.72" height="6.61" fill="#eeee3c"/>
<rect x="245.34" y="469.79" width="6.72" height="6.61" fill="#efda3c"/>
<rect x="252.01" y="469.79" width="6.72" height="6.61" fill="#eeee3c"/>
<rect x="258.69" y="469.79" width="6.72" height="6.61" fill="#efda3c"/>
<rect x="265.36" y="469.79" width="6.72" height="6.61" fill="#efda3c"/>
<rect x="272.03" y="469.79" width="6.72" height="6.61" fill="#efda3c"/>
<rect x="278.71" y="469.79" width="6.72" height="6.61" fill="#eeee3c"/>
<rect x="285.38" y="469.79" width="6.72" height="6.61" fill="#efda3c"/>
<rect x="292.05" y="469.79" width="6.72" height="6.61" fill="#eeee3c"/>
<rect x="298.73" y="469.79" width="6.72" height="6.61" fill="#efda3c"/>
<rect x="305.40" y="469.79" width="6.72" height="6.61" fill="#efda3c"/>
<rect x="312.07" y="469.79" width="6.72" height="6.61" fill="#eeee3c"/>
<rect x="318.75" y="469.79" width="6.72" height="6.61" fill="#efda3c"/>
<rect x="325.42" y="469.79" width="6.72" height="6.61" fill="#efda3c"/>
<rect x="332.09" y="469.79" width="6.72" height="6.61" fill="#eeee3c"/>
<rect x="338.77" y="469.79" width="6.72" height="6.61" fill="#efda3c"/>
<rect x="345.44" y="469.79" width="6.72" height="6.61" fill="#efda3c"/>
<rect x="352.11" y="469.79" width="6.72" height="6.61" fill="#efda3c"/>
<rect x="358.79" y="469.79" width="6.72" height="6.61" fill="#eeee3c"/>
<rect x="365.46" y="469.79" width="6.72" height="6.61" fill="#efda3c"/>
<rect x="372.13" y="469.79" width="6.72" height="6.61" fill="#eeee3c"/>
<rect x="378.81" y="469.79" width="6.72" height="6.61" fill="#efda3c"/>
<rect x="385.48" y="469.79" width="6.72" height="6.61" fill="#efda3c"/>
<rect x="392.15" y="469.79" width="6.72" height="6.61" fill="#eeee3c"/>
<rect x="398.83" y="469.79" width="6.72" height="6.61" fill="#eeee3c"/>
<rect x="205.30" y="476.35" width="6.72" height="6.61" fill="#52b4f4"/>
<rect x="211.97" y="476.35" width="6.72" height="6.61" fill="#4486f2"/>
<rect x="218.65" y="476.35" width="6.72" height="6.61" fill="#f0b030"/>
<rect x="225.32" y="476.35" width="6.72" height="6.61" fill="#f0b030"/>
<rect x="231.99" y="476.35" width="6.72" height="6.61" fill="#f0b030"/>
<rect x="238.67" y="476.35" width="6.72" height="6.61" fill="#f66a1e"/>
<rect x="245.34" y="476.35" width="6.72" height="6.61" fill="#efda3c"/>
<rect x="252.01" y="476.35" width="6.72" height="6.61" fill="#efda3c"/>
<rect x="258.69" y="476.35" width="6.72" height="6.61" fill="#eeee3c"/>
<rect x="265.36" y="476.35" width="6.72" height="6.61" fill="#efda3c"/>
<rect x="272.03" y="476.35" width="6.72" height="6.61" fill="#efda3c"/>
<rect x="278.71" y="476.35" width="6.72" height="6.61" fill="#eeee3c"/>
<rect x="285.38" y="476.35" width="6.72" height="6.61" fill="#efda3c"/>
<rect x="292.05" y="476.35" width="6.72" height="6.61" fill="#efda3c"/>
<rect x="298.73" y="476.35" width="6.72" height="6.61" fill="#eeee3c"/>
<rect x="305.40" y="476.35" width="6.72" height="6.61" fill="#efda3c"/>
<rect x="312.07" y="476.35" width="6.72" height="6.61" fill="#efda3c"/>
<rect x="318.75" y="476.35" width="6.72" height="6.61" fill="#eeee3c"/>
<rect x="325.42" y="476.35" width="6.72" height="6.61" fill="#eeee3c"/>
<rect x="332.09" y="476.35" width="6.72" height="6.61" fill="#efda3c"/>
<rect x="338.77" y="476.35" width="6.72" height="6.61" fill="#efda3c"/>
<rect x="345.44" y="476.35" width="6.72" height="6.61" fill="#efda3c"/>
<rect x="352.11" y="476.35" width="6.72" height="6.61" fill="#eeee3c"/>
<rect x="358.79" y="476.35" width="6.72" height="6.61" fill="#f0b030"/>
<rect x="365.46" y="476.35" width="6.72" height="6.61" fill="#eeee3c"/>
<rect x="372.13" y="476.35" width="6.72" height="6.61" fill="#efda3c"/>
<rect x="378.81" y="476.35" width="6.72" height="6.61" fill="#eeee3c"/>
<rect x="385.48" y="476.35" width="6.72" height="6.61" fill="#efda3c"/>
<rect x="392.15" y="476.35" width="6.72" height="6.61" fill="#efda3c"/>
<rect x="398.83" y="476.35" width="6.72" height="6.61" fill="#eeee3c"/>
<rect x="205.30" y="482.91" width="6.72" height="6.61" fill="#52b4f4"/>
<rect x="211.97" y="482.91" width="6.72" height="6.61" fill="#52b4f4"/>
<rect x="218.65" y="482.91" width="6.72" height="6.61" fill="#eeee3c"/>
<rect x="225.32" y="482.91" width="6.72" height="6.61" fill="#f0b030"/>
<rect x="231.99" y="482.91" width="6.72" height="6.61" fill="#f66a1e"/>
<rect x="238.67" y="482.91" width="6.72" height="6.61" fill="#f66a1e"/>
<rect x="245.34" y="482.91" width="6.72" height="6.61" fill="#efda3c"/>
<rect x="252.01" y="482.91" width="6.72" height="6.61" fill="#efda3c"/>
<rect x="258.69" y="482.91" width="6.72" height="6.61" fill="#efda3c"/>
<rect x="265.36" y="482.91" width="6.72" height="6.61" fill="#efda3c"/>
<rect x="272.03" y="482.91" width="6.72" height="6.61" fill="#eeee3c"/>
<rect x="278.71" y="482.91" width="6.72" height="6.61" fill="#efda3c"/>
<rect x="285.38" y="482.91" width="6.72" height="6.61" fill="#efda3c"/>
<rect x="292.05" y="482.91" width="6.72" height="6.61" fill="#efda3c"/>
<rect x="298.73" y="482.91" width="6.72" height="6.61" fill="#eeee3c"/>
<rect x="305.40" y="482.91" width="6.72" height="6.61" fill="#f0b030"/>
<rect x="312.07" y="482.91" width="6.72" height="6.61" fill="#efda3c"/>
<rect x="318.75" y="482.91" width="6.72" height="6.61" fill="#eeee3c"/>
<rect x="325.42" y="482.91" width="6.72" height="6.61" fill="#eeee3c"/>
<rect x="332.09" y="482.91" width="6.72" height="6.61" fill="#eeee3c"/>
<rect x="338.77" y="482.91" width="6.72" height="6.61" fill="#efda3c"/>
<rect x="345.44" y="482.91" width="6.72" height="6.61" fill="#eeee3c"/>
<rect x="352.11" y="482.91" width="6.72" height="6.61" fill="#eeee3c"/>
<rect x="358.79" y="482.91" width="6.72" height="6.61" fill="#eeee3c"/>
<rect x="365.46" y="482.91" width="6.72" height="6.61" fill="#eeee3c"/>
<rect x="372.13" y="482.91" width="6.72" height="6.61" fill="#efda3c"/>
<rect x="378.81" y="482.91" width="6.72" height="6.61" fill="#eeee3c"/>
<rect x="385.48" y="482.91" width="6.72" height="6.61" fill="#efda3c"/>
<rect x="392.15" y="482.91" width="6.72" height="6.61" fill="#efda3c"/>
<rect x="398.83" y="482.91" width="6.72" height="6.61" fill="#eeee3c"/>
<rect x="205.30" y="489.48" width="6.72" height="6.61" fill="#62e6f6"/>
<rect x="211.97" y="489.48" width="6.72" height="6.61" fill="#eeee3c"/>
<rect x="218.65" y="489.48" width="6.72" height="6.61" fill="#f0b030"/>
<rect x="225.32" y="489.48" width="6.72" height="6.61" fill="#efda3c"/>
<rect x="231.99" y="489.48" width="6.72" height="6.61" fill="#f0b030"/>
<rect x="238.67" y="489.48" width="6.72" height="6.61" fill="#f0b030"/>
<rect x="245.34" y="489.48" width="6.72" height="6.61" fill="#eeee3c"/>
<rect x="252.01" y="489.48" width="6.72" height="6.61" fill="#eeee3c"/>
<rect x="258.69" y="489.48" width="6.72" height="6.61" fill="#efda3c"/>
<rect x="265.36" y="489.48" width="6.72" height="6.61" fill="#eeee3c"/>
<rect x="272.03" y="489.48" width="6.72" height="6.61" fill="#efda3c"/>
<rect x="278.71" y="489.48" width="6.72" height="6.61" fill="#efda3c"/>
<rect x="285.38" y="489.48" width="6.72" height="6.61" fill="#efda3c"/>
<rect x="292.05" y="489.48" width="6.72" height="6.61" fill="#efda3c"/>
<rect x="298.73" y="489.48" width="6.72" height="6.61" fill="#f0b030"/>
<rect x="305.40" y="489.48" width="6.72" height="6.61" fill="#f66a1e"/>
<rect x="312.07" y="489.48" width="6.72" height="6.61" fill="#eeee3c"/>
<rect x="318.75" y="489.48" width="6.72" height="6.61" fill="#eeee3c"/>
<rect x="325.42" y="489.48" width="6.72" height="6.61" fill="#efda3c"/>
<rect x="332.09" y="489.48" width="6.72" height="6.61" fill="#efda3c"/>
<rect x="338.77" y="489.48" width="6.72" height="6.61" fill="#eeee3c"/>
<rect x="345.44" y="489.48" width="6.72" height="6.61" fill="#efda3c"/>
<rect x="352.11" y="489.48" width="6.72" height="6.61" fill="#efda3c"/>
<rect x="358.79" y="489.48" width="6.72" height="6.61" fill="#f0b030"/>
<rect x="365.46" y="489.48" width="6.72" height="6.61" fill="#efda3c"/>
<rect x="372.13" y="489.48" width="6.72" height="6.61" fill="#efda3c"/>
<rect x="378.81" y="489.48" width="6.72" height="6.61" fill="#efda3c"/>
<rect x="385.48" y="489.48" width="6.72" height="6.61" fill="#f0b030"/>
<rect x="392.15" y="489.48" width="6.72" height="6.61" fill="#eeee3c"/>
<rect x="398.83" y="489.48" width="6.72" height="6.61" fill="#eeee3c"/>
<rect x="205.30" y="496.04" width="6.72" height="6.61" fill="#f0b030"/>
<rect x="211.97" y="496.04" width="6.72" height="6.61" fill="#74eed8"/>
<rect x="218.65" y="496.04" width="6.72" height="6.61" fill="#c8f24e"/>
<rect x="225.32" y="496.04" width="6.72" height="6.61" fill="#efda3c"/>
<rect x="231.99" y="496.04" width="6.72" height="6.61" fill="#f0b030"/>
<rect x="238.67" y="496.04" width="6.72" height="6.61" fill="#f0b030"/>
<rect x="245.34" y="496.04" width="6.72" height="6.61" fill="#f0b030"/>
<rect x="252.01" y="496.04" width="6.72" height="6.61" fill="#f0b030"/>
<rect x="258.69" y="496.04" width="6.72" height="6.61" fill="#efda3c"/>
<rect x="265.36" y="496.04" width="6.72" height="6.61" fill="#f0b030"/>
<rect x="272.03" y="496.04" width="6.72" height="6.61" fill="#efda3c"/>
<rect x="278.71" y="496.04" width="6.72" height="6.61" fill="#96ee8a"/>
<rect x="285.38" y="496.04" width="6.72" height="6.61" fill="#efda3c"/>
<rect x="292.05" y="496.04" width="6.72" height="6.61" fill="#f0b030"/>
<rect x="298.73" y="496.04" width="6.72" height="6.61" fill="#f66a1e"/>
<rect x="305.40" y="496.04" width="6.72" height="6.61" fill="#f0b030"/>
<rect x="312.07" y="496.04" width="6.72" height="6.61" fill="#f0b030"/>
<rect x="318.75" y="496.04" width="6.72" height="6.61" fill="#eeee3c"/>
<rect x="325.42" y="496.04" width="6.72" height="6.61" fill="#efda3c"/>
<rect x="332.09" y="496.04" width="6.72" height="6.61" fill="#eeee3c"/>
<rect x="338.77" y="496.04" width="6.72" height="6.61" fill="#eeee3c"/>
<rect x="345.44" y="496.04" width="6.72" height="6.61" fill="#efda3c"/>
<rect x="352.11" y="496.04" width="6.72" height="6.61" fill="#efda3c"/>
<rect x="358.79" y="496.04" width="6.72" height="6.61" fill="#efda3c"/>
<rect x="365.46" y="496.04" width="6.72" height="6.61" fill="#f0b030"/>
<rect x="372.13" y="496.04" width="6.72" height="6.61" fill="#efda3c"/>
<rect x="378.81" y="496.04" width="6.72" height="6.61" fill="#efda3c"/>
<rect x="385.48" y="496.04" width="6.72" height="6.61" fill="#f0b030"/>
<rect x="392.15" y="496.04" width="6.72" height="6.61" fill="#efda3c"/>
<rect x="398.83" y="496.04" width="6.72" height="6.61" fill="#f0b030"/>
<rect x="205.30" y="502.60" width="6.72" height="6.61" fill="#f0b030"/>
<rect x="211.97" y="502.60" width="6.72" height="6.61" fill="#52b4f4"/>
<rect x="218.65" y="502.60" width="6.72" height="6.61" fill="#62e6f6"/>
<rect x="225.32" y="502.60" width="6.72" height="6.61" fill="#efda3c"/>
<rect x="231.99" y="502.60" width="6.72" height="6.61" fill="#f0b030"/>
<rect x="238.67" y="502.60" width="6.72" height="6.61" fill="#f0b030"/>
<rect x="245.34" y="502.60" width="6.72" height="6.61" fill="#f0b030"/>
<rect x="252.01" y="502.60" width="6.72" height="6.61" fill="#efda3c"/>
<rect x="258.69" y="502.60" width="6.72" height="6.61" fill="#efda3c"/>
<rect x="265.36" y="502.60" width="6.72" height="6.61" fill="#f0b030"/>
<rect x="272.03" y="502.60" width="6.72" height="6.61" fill="#efda3c"/>
<rect x="278.71" y="502.60" width="6.72" height="6.61" fill="#efda3c"/>
<rect x="285.38" y="502.60" width="6.72" height="6.61" fill="#f0b030"/>
<rect x="292.05" y="502.60" width="6.72" height="6.61" fill="#f0b030"/>
<rect x="298.73" y="502.60" width="6.72" height="6.61" fill="#f0b030"/>
<rect x="305.40" y="502.60" width="6.72" height="6.61" fill="#f0b030"/>
<rect x="312.07" y="502.60" width="6.72" height="6.61" fill="#efda3c"/>
<rect x="318.75" y="502.60" width="6.72" height="6.61" fill="#efda3c"/>
<rect x="325.42" y="502.60" width="6.72" height="6.61" fill="#eeee3c"/>
<rect x="332.09" y="502.60" width="6.72" height="6.61" fill="#f0b030"/>
<rect x="338.77" y="502.60" width="6.72" height="6.61" fill="#efda3c"/>
<rect x="345.44" y="502.60" width="6.72" height="6.61" fill="#efda3c"/>
<rect x="352.11" y="502.60" width="6.72" height="6.61" fill="#efda3c"/>
<rect x="358.79" y="502.60" width="6.72" height="6.61" fill="#efda3c"/>
<rect x="365.46" y="502.60" width="6.72" height="6.61" fill="#efda3c"/>
<rect x="372.13" y="502.60" width="6.72" height="6.61" fill="#eeee3c"/>
<rect x="378.81" y="502.60" width="6.72" height="6.61" fill="#efda3c"/>
<rect x="385.48" y="502.60" width="6.72" height="6.61" fill="#efda3c"/>
<rect x="392.15" y="502.60" width="6.72" height="6.61" fill="#efda3c"/>
<rect x="398.83" y="502.60" width="6.72" height="6.61" fill="#f0b030"/>
<rect x="205.30" y="509.16" width="6.72" height="6.61" fill="#f0b030"/>
<rect x="211.97" y="509.16" width="6.72" height="6.61" fill="#efda3c"/>
<rect x="218.65" y="509.16" width="6.72" height="6.61" fill="#62e6f6"/>
<rect x="225.32" y="509.16" width="6.72" height="6.61" fill="#f0b030"/>
<rect x="231.99" y="509.16" width="6.72" height="6.61" fill="#f0b030"/>
<rect x="238.67" y="509.16" width="6.72" height="6.61" fill="#f0b030"/>
<rect x="245.34" y="509.16" width="6.72" height="6.61" fill="#f0b030"/>
<rect x="252.01" y="509.16" width="6.72" height="6.61" fill="#f0b030"/>
<rect x="258.69" y="509.16" width="6.72" height="6.61" fill="#efda3c"/>
<rect x="265.36" y="509.16" width="6.72" height="6.61" fill="#f0b030"/>
<rect x="272.03" y="509.16" width="6.72" height="6.61" fill="#f66a1e"/>
<rect x="278.71" y="509.16" width="6.72" height="6.61" fill="#f66a1e"/>
<rect x="285.38" y="509.16" width="6.72" height="6.61" fill="#f66a1e"/>
<rect x="292.05" y="509.16" width="6.72" height="6.61" fill="#f0b030"/>
<rect x="298.73" y="509.16" width="6.72" height="6.61" fill="#f0b030"/>
<rect x="305.40" y="509.16" width="6.72" height="6.61" fill="#f0b030"/>
<rect x="312.07" y="509.16" width="6.72" height="6.61" fill="#efda3c"/>
<rect x="318.75" y="509.16" width="6.72" height="6.61" fill="#f0b030"/>
<rect x="325.42" y="509.16" width="6.72" height="6.61" fill="#c8f24e"/>
<rect x="332.09" y="509.16" width="6.72" height="6.61" fill="#c8f24e"/>
<rect x="338.77" y="509.16" width="6.72" height="6.61" fill="#efda3c"/>
<rect x="345.44" y="509.16" width="6.72" height="6.61" fill="#f0b030"/>
<rect x="352.11" y="509.16" width="6.72" height="6.61" fill="#f0b030"/>
<rect x="358.79" y="509.16" width="6.72" height="6.61" fill="#efda3c"/>
<rect x="365.46" y="509.16" width="6.72" height="6.61" fill="#efda3c"/>
<rect x="372.13" y="509.16" width="6.72" height="6.61" fill="#efda3c"/>
<rect x="378.81" y="509.16" width="6.72" height="6.61" fill="#eeee3c"/>
<rect x="385.48" y="509.16" width="6.72" height="6.61" fill="#efda3c"/>
<rect x="392.15" y="509.16" width="6.72" height="6.61" fill="#f0b030"/>
<rect x="398.83" y="509.16" width="6.72" height="6.61" fill="#f0b030"/>
<rect x="205.30" y="515.73" width="6.72" height="6.61" fill="#f0b030"/>
<rect x="211.97" y="515.73" width="6.72" height="6.61" fill="#f0b030"/>
<rect x="218.65" y="515.73" width="6.72" height="6.61" fill="#f0b030"/>
<rect x="225.32" y="515.73" width="6.72" height="6.61" fill="#f66a1e"/>
<rect x="231.99" y="515.73" width="6.72" height="6.61" fill="#f0b030"/>
<rect x="238.67" y="515.73" width="6.72" height="6.61" fill="#f66a1e"/>
<rect x="245.34" y="515.73" width="6.72" height="6.61" fill="#efda3c"/>
<rect x="252.01" y="515.73" width="6.72" height="6.61" fill="#efda3c"/>
<rect x="258.69" y="515.73" width="6.72" height="6.61" fill="#f0b030"/>
<rect x="265.36" y="515.73" width="6.72" height="6.61" fill="#f0b030"/>
<rect x="272.03" y="515.73" width="6.72" height="6.61" fill="#f0b030"/>
<rect x="278.71" y="515.73" width="6.72" height="6.61" fill="#f0b030"/>
<rect x="285.38" y="515.73" width="6.72" height="6.61" fill="#f0b030"/>
<rect x="292.05" y="515.73" width="6.72" height="6.61" fill="#f0b030"/>
<rect x="298.73" y="515.73" width="6.72" height="6.61" fill="#f0b030"/>
<rect x="305.40" y="515.73" width="6.72" height="6.61" fill="#f0b030"/>
<rect x="312.07" y="515.73" width="6.72" height="6.61" fill="#f0b030"/>
<rect x="318.75" y="515.73" width="6.72" height="6.61" fill="#efda3c"/>
<rect x="325.42" y="515.73" width="6.72" height="6.61" fill="#f4541c"/>
<rect x="332.09" y="515.73" width="6.72" height="6.61" fill="#f4541c"/>
<rect x="338.77" y="515.73" width="6.72" height="6.61" fill="#f4541c"/>
<rect x="345.44" y="515.73" width="6.72" height="6.61" fill="#f4541c"/>
<rect x="352.11" y="515.73" width="6.72" height="6.61" fill="#f4541c"/>
<rect x="358.79" y="515.73" width="6.72" height="6.61" fill="#f4541c"/>
<rect x="365.46" y="515.73" width="6.72" height="6.61" fill="#f4541c"/>
<rect x="372.13" y="515.73" width="6.72" height="6.61" fill="#c8f24e"/>
<rect x="378.81" y="515.73" width="6.72" height="6.61" fill="#eeee3c"/>
<rect x="385.48" y="515.73" width="6.72" height="6.61" fill="#f0b030"/>
<rect x="392.15" y="515.73" width="6.72" height="6.61" fill="#f0b030"/>
<rect x="398.83" y="515.73" width="6.72" height="6.61" fill="#f66a1e"/>
<rect x="205.30" y="522.29" width="6.72" height="6.61" fill="#efda3c"/>
<rect x="211.97" y="522.29" width="6.72" height="6.61" fill="#f66a1e"/>
<rect x="218.65" y="522.29" width="6.72" height="6.61" fill="#f66a1e"/>
<rect x="225.32" y="522.29" width="6.72" height="6.61" fill="#f4541c"/>
<rect x="231.99" y="522.29" width="6.72" height="6.61" fill="#f4541c"/>
<rect x="238.67" y="522.29" width="6.72" height="6.61" fill="#f66a1e"/>
<rect x="245.34" y="522.29" width="6.72" height="6.61" fill="#f66a1e"/>
<rect x="252.01" y="522.29" width="6.72" height="6.61" fill="#efda3c"/>
<rect x="258.69" y="522.29" width="6.72" height="6.61" fill="#efda3c"/>
<rect x="265.36" y="522.29" width="6.72" height="6.61" fill="#f0b030"/>
<rect x="272.03" y="522.29" width="6.72" height="6.61" fill="#f0b030"/>
<rect x="278.71" y="522.29" width="6.72" height="6.61" fill="#f0b030"/>
<rect x="285.38" y="522.29" width="6.72" height="6.61" fill="#f0b030"/>
<rect x="292.05" y="522.29" width="6.72" height="6.61" fill="#f0b030"/>
<rect x="298.73" y="522.29" width="6.72" height="6.61" fill="#f0b030"/>
<rect x="305.40" y="522.29" width="6.72" height="6.61" fill="#f66a1e"/>
<rect x="312.07" y="522.29" width="6.72" height="6.61" fill="#f66a1e"/>
<rect x="318.75" y="522.29" width="6.72" height="6.61" fill="#f4541c"/>
<rect x="325.42" y="522.29" width="6.72" height="6.61" fill="#f4541c"/>
<rect x="332.09" y="522.29" width="6.72" height="6.61" fill="#f03a16"/>
<rect x="338.77" y="522.29" width="6.72" height="6.61" fill="#f4541c"/>
<rect x="345.44" y="522.29" width="6.72" height="6.61" fill="#f66a1e"/>
<rect x="352.11" y="522.29" width="6.72" height="6.61" fill="#f4541c"/>
<rect x="358.79" y="522.29" width="6.72" height="6.61" fill="#f4541c"/>
<rect x="365.46" y="522.29" width="6.72" height="6.61" fill="#f4541c"/>
<rect x="372.13" y="522.29" width="6.72" height="6.61" fill="#f4541c"/>
<rect x="378.81" y="522.29" width="6.72" height="6.61" fill="#74eed8"/>
<rect x="385.48" y="522.29" width="6.72" height="6.61" fill="#f0b030"/>
<rect x="392.15" y="522.29" width="6.72" height="6.61" fill="#f0b030"/>
<rect x="398.83" y="522.29" width="6.72" height="6.61" fill="#f66a1e"/>
<rect x="205.30" y="528.85" width="6.72" height="6.61" fill="#f03a16"/>
<rect x="211.97" y="528.85" width="6.72" height="6.61" fill="#f4541c"/>
<rect x="218.65" y="528.85" width="6.72" height="6.61" fill="#f4541c"/>
<rect x="225.32" y="528.85" width="6.72" height="6.61" fill="#f66a1e"/>
<rect x="231.99" y="528.85" width="6.72" height="6.61" fill="#f66a1e"/>
<rect x="238.67" y="528.85" width="6.72" height="6.61" fill="#f03a16"/>
<rect x="245.34" y="528.85" width="6.72" height="6.61" fill="#eeee3c"/>
<rect x="252.01" y="528.85" width="6.72" height="6.61" fill="#f0b030"/>
<rect x="258.69" y="528.85" width="6.72" height="6.61" fill="#efda3c"/>
<rect x="265.36" y="528.85" width="6.72" height="6.61" fill="#efda3c"/>
<rect x="272.03" y="528.85" width="6.72" height="6.61" fill="#f0b030"/>
<rect x="278.71" y="528.85" width="6.72" height="6.61" fill="#f0b030"/>
<rect x="285.38" y="528.85" width="6.72" height="6.61" fill="#f0b030"/>
<rect x="292.05" y="528.85" width="6.72" height="6.61" fill="#f0b030"/>
<rect x="298.73" y="528.85" width="6.72" height="6.61" fill="#f0b030"/>
<rect x="305.40" y="528.85" width="6.72" height="6.61" fill="#f0b030"/>
<rect x="312.07" y="528.85" width="6.72" height="6.61" fill="#f66a1e"/>
<rect x="318.75" y="528.85" width="6.72" height="6.61" fill="#f4541c"/>
<rect x="325.42" y="528.85" width="6.72" height="6.61" fill="#f66a1e"/>
<rect x="332.09" y="528.85" width="6.72" height="6.61" fill="#efda3c"/>
<rect x="338.77" y="528.85" width="6.72" height="6.61" fill="#c8f24e"/>
<rect x="345.44" y="528.85" width="6.72" height="6.61" fill="#c8f24e"/>
<rect x="352.11" y="528.85" width="6.72" height="6.61" fill="#74eed8"/>
<rect x="358.79" y="528.85" width="6.72" height="6.61" fill="#96ee8a"/>
<rect x="365.46" y="528.85" width="6.72" height="6.61" fill="#eeee3c"/>
<rect x="372.13" y="528.85" width="6.72" height="6.61" fill="#96ee8a"/>
<rect x="378.81" y="528.85" width="6.72" height="6.61" fill="#eeee3c"/>
<rect x="385.48" y="528.85" width="6.72" height="6.61" fill="#f0b030"/>
<rect x="392.15" y="528.85" width="6.72" height="6.61" fill="#f0b030"/>
<rect x="398.83" y="528.85" width="6.72" height="6.61" fill="#f0b030"/>
<rect x="205.30" y="535.41" width="6.72" height="6.61" fill="#f4541c"/>
<rect x="211.97" y="535.41" width="6.72" height="6.61" fill="#f66a1e"/>
<rect x="218.65" y="535.41" width="6.72" height="6.61" fill="#f4541c"/>
<rect x="225.32" y="535.41" width="6.72" height="6.61" fill="#f66a1e"/>
<rect x="231.99" y="535.41" width="6.72" height="6.61" fill="#f66a1e"/>
<rect x="238.67" y="535.41" width="6.72" height="6.61" fill="#f4541c"/>
<rect x="245.34" y="535.41" width="6.72" height="6.61" fill="#f03a16"/>
<rect x="252.01" y="535.41" width="6.72" height="6.61" fill="#f66a1e"/>
<rect x="258.69" y="535.41" width="6.72" height="6.61" fill="#eeee3c"/>
<rect x="265.36" y="535.41" width="6.72" height="6.61" fill="#eeee3c"/>
<rect x="272.03" y="535.41" width="6.72" height="6.61" fill="#f0b030"/>
<rect x="278.71" y="535.41" width="6.72" height="6.61" fill="#f0b030"/>
<rect x="285.38" y="535.41" width="6.72" height="6.61" fill="#f0b030"/>
<rect x="292.05" y="535.41" width="6.72" height="6.61" fill="#f0b030"/>
<rect x="298.73" y="535.41" width="6.72" height="6.61" fill="#f0b030"/>
<rect x="305.40" y="535.41" width="6.72" height="6.61" fill="#f66a1e"/>
<rect x="312.07" y="535.41" width="6.72" height="6.61" fill="#f66a1e"/>
<rect x="318.75" y="535.41" width="6.72" height="6.61" fill="#f4541c"/>
<rect x="325.42" y="535.41" width="6.72" height="6.61" fill="#f4541c"/>
<rect x="332.09" y="535.41" width="6.72" height="6.61" fill="#f4541c"/>
<rect x="338.77" y="535.41" width="6.72" height="6.61" fill="#f4541c"/>
<rect x="345.44" y="535.41" width="6.72" height="6.61" fill="#f4541c"/>
<rect x="352.11" y="535.41" width="6.72" height="6.61" fill="#c8f24e"/>
<rect x="358.79" y="535.41" width="6.72" height="6.61" fill="#eeee3c"/>
<rect x="365.46" y="535.41" width="6.72" height="6.61" fill="#96ee8a"/>
<rect x="372.13" y="535.41" width="6.72" height="6.61" fill="#f66a1e"/>
<rect x="378.81" y="535.41" width="6.72" height="6.61" fill="#f66a1e"/>
<rect x="385.48" y="535.41" width="6.72" height="6.61" fill="#efda3c"/>
<rect x="392.15" y="535.41" width="6.72" height="6.61" fill="#f0b030"/>
<rect x="398.83" y="535.41" width="6.72" height="6.61" fill="#eeee3c"/>
<rect x="205.30" y="541.98" width="6.72" height="6.61" fill="#f03a16"/>
<rect x="211.97" y="541.98" width="6.72" height="6.61" fill="#f66a1e"/>
<rect x="218.65" y="541.98" width="6.72" height="6.61" fill="#f66a1e"/>
<rect x="225.32" y="541.98" width="6.72" height="6.61" fill="#f66a1e"/>
<rect x="231.99" y="541.98" width="6.72" height="6.61" fill="#f66a1e"/>
<rect x="238.67" y="541.98" width="6.72" height="6.61" fill="#f66a1e"/>
<rect x="245.34" y="541.98" width="6.72" height="6.61" fill="#f66a1e"/>
<rect x="252.01" y="541.98" width="6.72" height="6.61" fill="#f66a1e"/>
<rect x="258.69" y="541.98" width="6.72" height="6.61" fill="#eeee3c"/>
<rect x="265.36" y="541.98" width="6.72" height="6.61" fill="#efda3c"/>
<rect x="272.03" y="541.98" width="6.72" height="6.61" fill="#f0b030"/>
<rect x="278.71" y="541.98" width="6.72" height="6.61" fill="#f0b030"/>
<rect x="285.38" y="541.98" width="6.72" height="6.61" fill="#efda3c"/>
<rect x="292.05" y="541.98" width="6.72" height="6.61" fill="#f0b030"/>
<rect x="298.73" y="541.98" width="6.72" height="6.61" fill="#f66a1e"/>
<rect x="305.40" y="541.98" width="6.72" height="6.61" fill="#f66a1e"/>
<rect x="312.07" y="541.98" width="6.72" height="6.61" fill="#f0b030"/>
<rect x="318.75" y="541.98" width="6.72" height="6.61" fill="#f4541c"/>
<rect x="325.42" y="541.98" width="6.72" height="6.61" fill="#f03a16"/>
<rect x="332.09" y="541.98" width="6.72" height="6.61" fill="#f4541c"/>
<rect x="338.77" y="541.98" width="6.72" height="6.61" fill="#f66a1e"/>
<rect x="345.44" y="541.98" width="6.72" height="6.61" fill="#f4541c"/>
<rect x="352.11" y="541.98" width="6.72" height="6.61" fill="#f0b030"/>
<rect x="358.79" y="541.98" width="6.72" height="6.61" fill="#f0b030"/>
<rect x="365.46" y="541.98" width="6.72" height="6.61" fill="#f0b030"/>
<rect x="372.13" y="541.98" width="6.72" height="6.61" fill="#f0b030"/>
<rect x="378.81" y="541.98" width="6.72" height="6.61" fill="#f66a1e"/>
<rect x="385.48" y="541.98" width="6.72" height="6.61" fill="#efda3c"/>
<rect x="392.15" y="541.98" width="6.72" height="6.61" fill="#f0b030"/>
<rect x="398.83" y="541.98" width="6.72" height="6.61" fill="#f0b030"/>
<rect x="205.30" y="548.54" width="6.72" height="6.61" fill="#f66a1e"/>
<rect x="211.97" y="548.54" width="6.72" height="6.61" fill="#f66a1e"/>
<rect x="218.65" y="548.54" width="6.72" height="6.61" fill="#f66a1e"/>
<rect x="225.32" y="548.54" width="6.72" height="6.61" fill="#f66a1e"/>
<rect x="231.99" y="548.54" width="6.72" height="6.61" fill="#f4541c"/>
<rect x="238.67" y="548.54" width="6.72" height="6.61" fill="#f66a1e"/>
<rect x="245.34" y="548.54" width="6.72" height="6.61" fill="#f4541c"/>
<rect x="252.01" y="548.54" width="6.72" height="6.61" fill="#f66a1e"/>
<rect x="258.69" y="548.54" width="6.72" height="6.61" fill="#f03a16"/>
<rect x="265.36" y="548.54" width="6.72" height="6.61" fill="#f0b030"/>
<rect x="272.03" y="548.54" width="6.72" height="6.61" fill="#f0b030"/>
<rect x="278.71" y="548.54" width="6.72" height="6.61" fill="#f0b030"/>
<rect x="285.38" y="548.54" width="6.72" height="6.61" fill="#eeee3c"/>
<rect x="292.05" y="548.54" width="6.72" height="6.61" fill="#f0b030"/>
<rect x="298.73" y="548.54" width="6.72" height="6.61" fill="#f4541c"/>
<rect x="305.40" y="548.54" width="6.72" height="6.61" fill="#f0b030"/>
<rect x="312.07" y="548.54" width="6.72" height="6.61" fill="#f4541c"/>
<rect x="318.75" y="548.54" width="6.72" height="6.61" fill="#f4541c"/>
<rect x="325.42" y="548.54" width="6.72" height="6.61" fill="#f66a1e"/>
<rect x="332.09" y="548.54" width="6.72" height="6.61" fill="#f0b030"/>
<rect x="338.77" y="548.54" width="6.72" height="6.61" fill="#f4541c"/>
<rect x="345.44" y="548.54" width="6.72" height="6.61" fill="#f66a1e"/>
<rect x="352.11" y="548.54" width="6.72" height="6.61" fill="#f66a1e"/>
<rect x="358.79" y="548.54" width="6.72" height="6.61" fill="#f0b030"/>
<rect x="365.46" y="548.54" width="6.72" height="6.61" fill="#f0b030"/>
<rect x="372.13" y="548.54" width="6.72" height="6.61" fill="#f0b030"/>
<rect x="378.81" y="548.54" width="6.72" height="6.61" fill="#f0b030"/>
<rect x="385.48" y="548.54" width="6.72" height="6.61" fill="#f0b030"/>
<rect x="392.15" y="548.54" width="6.72" height="6.61" fill="#f0b030"/>
<rect x="398.83" y="548.54" width="6.72" height="6.61" fill="#f0b030"/>
<rect x="205.30" y="555.10" width="6.72" height="6.61" fill="#f0b030"/>
<rect x="211.97" y="555.10" width="6.72" height="6.61" fill="#f66a1e"/>
<rect x="218.65" y="555.10" width="6.72" height="6.61" fill="#f66a1e"/>
<rect x="225.32" y="555.10" width="6.72" height="6.61" fill="#f66a1e"/>
<rect x="231.99" y="555.10" width="6.72" height="6.61" fill="#f4541c"/>
<rect x="238.67" y="555.10" width="6.72" height="6.61" fill="#f66a1e"/>
<rect x="245.34" y="555.10" width="6.72" height="6.61" fill="#f66a1e"/>
<rect x="252.01" y="555.10" width="6.72" height="6.61" fill="#f66a1e"/>
<rect x="258.69" y="555.10" width="6.72" height="6.61" fill="#f4541c"/>
<rect x="265.36" y="555.10" width="6.72" height="6.61" fill="#c8f24e"/>
<rect x="272.03" y="555.10" width="6.72" height="6.61" fill="#4486f2"/>
<rect x="278.71" y="555.10" width="6.72" height="6.61" fill="#96ee8a"/>
<rect x="285.38" y="555.10" width="6.72" height="6.61" fill="#eeee3c"/>
<rect x="292.05" y="555.10" width="6.72" height="6.61" fill="#f4541c"/>
<rect x="298.73" y="555.10" width="6.72" height="6.61" fill="#f66a1e"/>
<rect x="305.40" y="555.10" width="6.72" height="6.61" fill="#f66a1e"/>
<rect x="312.07" y="555.10" width="6.72" height="6.61" fill="#f0b030"/>
<rect x="318.75" y="555.10" width="6.72" height="6.61" fill="#f4541c"/>
<rect x="325.42" y="555.10" width="6.72" height="6.61" fill="#f66a1e"/>
<rect x="332.09" y="555.10" width="6.72" height="6.61" fill="#f0b030"/>
<rect x="338.77" y="555.10" width="6.72" height="6.61" fill="#f0b030"/>
<rect x="345.44" y="555.10" width="6.72" height="6.61" fill="#f0b030"/>
<rect x="352.11" y="555.10" width="6.72" height="6.61" fill="#f0b030"/>
<rect x="358.79" y="555.10" width="6.72" height="6.61" fill="#62e6f6"/>
<rect x="365.46" y="555.10" width="6.72" height="6.61" fill="#96ee8a"/>
<rect x="372.13" y="555.10" width="6.72" height="6.61" fill="#f0b030"/>
<rect x="378.81" y="555.10" width="6.72" height="6.61" fill="#f0b030"/>
<rect x="385.48" y="555.10" width="6.72" height="6.61" fill="#f0b030"/>
<rect x="392.15" y="555.10" width="6.72" height="6.61" fill="#f0b030"/>
<rect x="398.83" y="555.10" width="6.72" height="6.61" fill="#f0b030"/>
<rect x="205.30" y="561.66" width="6.72" height="6.61" fill="#f4541c"/>
<rect x="211.97" y="561.66" width="6.72" height="6.61" fill="#f4541c"/>
<rect x="218.65" y="561.66" width="6.72" height="6.61" fill="#f66a1e"/>
<rect x="225.32" y="561.66" width="6.72" height="6.61" fill="#f4541c"/>
<rect x="231.99" y="561.66" width="6.72" height="6.61" fill="#f66a1e"/>
<rect x="238.67" y="561.66" width="6.72" height="6.61" fill="#f0b030"/>
<rect x="245.34" y="561.66" width="6.72" height="6.61" fill="#f66a1e"/>
<rect x="252.01" y="561.66" width="6.72" height="6.61" fill="#f66a1e"/>
<rect x="258.69" y="561.66" width="6.72" height="6.61" fill="#f66a1e"/>
<rect x="265.36" y="561.66" width="6.72" height="6.61" fill="#f0b030"/>
<rect x="272.03" y="561.66" width="6.72" height="6.61" fill="#52b4f4"/>
<rect x="278.71" y="561.66" width="6.72" height="6.61" fill="#4486f2"/>
<rect x="285.38" y="561.66" width="6.72" height="6.61" fill="#52b4f4"/>
<rect x="292.05" y="561.66" width="6.72" height="6.61" fill="#f66a1e"/>
<rect x="298.73" y="561.66" width="6.72" height="6.61" fill="#f4541c"/>
<rect x="305.40" y="561.66" width="6.72" height="6.61" fill="#f66a1e"/>
<rect x="312.07" y="561.66" width="6.72" height="6.61" fill="#f66a1e"/>
<rect x="318.75" y="561.66" width="6.72" height="6.61" fill="#f4541c"/>
<rect x="325.42" y="561.66" width="6.72" height="6.61" fill="#f66a1e"/>
<rect x="332.09" y="561.66" width="6.72" height="6.61" fill="#f0b030"/>
<rect x="338.77" y="561.66" width="6.72" height="6.61" fill="#f0b030"/>
<rect x="345.44" y="561.66" width="6.72" height="6.61" fill="#f0b030"/>
<rect x="352.11" y="561.66" width="6.72" height="6.61" fill="#f0b030"/>
<rect x="358.79" y="561.66" width="6.72" height="6.61" fill="#62e6f6"/>
<rect x="365.46" y="561.66" width="6.72" height="6.61" fill="#52b4f4"/>
<rect x="372.13" y="561.66" width="6.72" height="6.61" fill="#62e6f6"/>
<rect x="378.81" y="561.66" width="6.72" height="6.61" fill="#f0b030"/>
<rect x="385.48" y="561.66" width="6.72" height="6.61" fill="#f0b030"/>
<rect x="392.15" y="561.66" width="6.72" height="6.61" fill="#f0b030"/>
<rect x="398.83" y="561.66" width="6.72" height="6.61" fill="#f0b030"/>
<rect x="205.30" y="568.23" width="6.72" height="6.61" fill="#f66a1e"/>
<rect x="211.97" y="568.23" width="6.72" height="6.61" fill="#f66a1e"/>
<rect x="218.65" y="568.23" width="6.72" height="6.61" fill="#f66a1e"/>
<rect x="225.32" y="568.23" width="6.72" height="6.61" fill="#f66a1e"/>
<rect x="231.99" y="568.23" width="6.72" height="6.61" fill="#f66a1e"/>
<rect x="238.67" y="568.23" width="6.72" height="6.61" fill="#f66a1e"/>
<rect x="245.34" y="568.23" width="6.72" height="6.61" fill="#f66a1e"/>
<rect x="252.01" y="568.23" width="6.72" height="6.61" fill="#f66a1e"/>
<rect x="258.69" y="568.23" width="6.72" height="6.61" fill="#f4541c"/>
<rect x="265.36" y="568.23" width="6.72" height="6.61" fill="#f66a1e"/>
<rect x="272.03" y="568.23" width="6.72" height="6.61" fill="#62e6f6"/>
<rect x="278.71" y="568.23" width="6.72" height="6.61" fill="#52b4f4"/>
<rect x="285.38" y="568.23" width="6.72" height="6.61" fill="#62e6f6"/>
<rect x="292.05" y="568.23" width="6.72" height="6.61" fill="#f0b030"/>
<rect x="298.73" y="568.23" width="6.72" height="6.61" fill="#f66a1e"/>
<rect x="305.40" y="568.23" width="6.72" height="6.61" fill="#f4541c"/>
<rect x="312.07" y="568.23" width="6.72" height="6.61" fill="#f4541c"/>
<rect x="318.75" y="568.23" width="6.72" height="6.61" fill="#f4541c"/>
<rect x="325.42" y="568.23" width="6.72" height="6.61" fill="#f66a1e"/>
<rect x="332.09" y="568.23" width="6.72" height="6.61" fill="#f66a1e"/>
<rect x="338.77" y="568.23" width="6.72" height="6.61" fill="#f0b030"/>
<rect x="345.44" y="568.23" width="6.72" height="6.61" fill="#f0b030"/>
<rect x="352.11" y="568.23" width="6.72" height="6.61" fill="#f0b030"/>
<rect x="358.79" y="568.23" width="6.72" height="6.61" fill="#f0b030"/>
<rect x="365.46" y="568.23" width="6.72" height="6.61" fill="#74eed8"/>
<rect x="372.13" y="568.23" width="6.72" height="6.61" fill="#eeee3c"/>
<rect x="378.81" y="568.23" width="6.72" height="6.61" fill="#f0b030"/>
<rect x="385.48" y="568.23" width="6.72" height="6.61" fill="#f0b030"/>
<rect x="392.15" y="568.23" width="6.72" height="6.61" fill="#f0b030"/>
<rect x="398.83" y="568.23" width="6.72" height="6.61" fill="#eeee3c"/>
<rect x="205.30" y="574.79" width="6.72" height="6.61" fill="#f66a1e"/>
<rect x="211.97" y="574.79" width="6.72" height="6.61" fill="#f66a1e"/>
<rect x="218.65" y="574.79" width="6.72" height="6.61" fill="#f66a1e"/>
<rect x="225.32" y="574.79" width="6.72" height="6.61" fill="#f0b030"/>
<rect x="231.99" y="574.79" width="6.72" height="6.61" fill="#f66a1e"/>
<rect x="238.67" y="574.79" width="6.72" height="6.61" fill="#f66a1e"/>
<rect x="245.34" y="574.79" width="6.72" height="6.61" fill="#f66a1e"/>
<rect x="252.01" y="574.79" width="6.72" height="6.61" fill="#f66a1e"/>
<rect x="258.69" y="574.79" width="6.72" height="6.61" fill="#f66a1e"/>
<rect x="265.36" y="574.79" width="6.72" height="6.61" fill="#f66a1e"/>
<rect x="272.03" y="574.79" width="6.72" height="6.61" fill="#62e6f6"/>
<rect x="278.71" y="574.79" width="6.72" height="6.61" fill="#62e6f6"/>
<rect x="285.38" y="574.79" width="6.72" height="6.61" fill="#52b4f4"/>
<rect x="292.05" y="574.79" width="6.72" height="6.61" fill="#efda3c"/>
<rect x="298.73" y="574.79" width="6.72" height="6.61" fill="#f0b030"/>
<rect x="305.40" y="574.79" width="6.72" height="6.61" fill="#f4541c"/>
<rect x="312.07" y="574.79" width="6.72" height="6.61" fill="#f66a1e"/>
<rect x="318.75" y="574.79" width="6.72" height="6.61" fill="#f66a1e"/>
<rect x="325.42" y="574.79" width="6.72" height="6.61" fill="#f4541c"/>
<rect x="332.09" y="574.79" width="6.72" height="6.61" fill="#f66a1e"/>
<rect x="338.77" y="574.79" width="6.72" height="6.61" fill="#f0b030"/>
<rect x="345.44" y="574.79" width="6.72" height="6.61" fill="#f0b030"/>
<rect x="352.11" y="574.79" width="6.72" height="6.61" fill="#f0b030"/>
<rect x="358.79" y="574.79" width="6.72" height="6.61" fill="#f0b030"/>
<rect x="365.46" y="574.79" width="6.72" height="6.61" fill="#f0b030"/>
<rect x="372.13" y="574.79" width="6.72" height="6.61" fill="#f66a1e"/>
<rect x="378.81" y="574.79" width="6.72" height="6.61" fill="#f0b030"/>
<rect x="385.48" y="574.79" width="6.72" height="6.61" fill="#f0b030"/>
<rect x="392.15" y="574.79" width="6.72" height="6.61" fill="#f0b030"/>
<rect x="398.83" y="574.79" width="6.72" height="6.61" fill="#f0b030"/>
<rect x="205.30" y="581.35" width="6.72" height="6.61" fill="#f0b030"/>
<rect x="211.97" y="581.35" width="6.72" height="6.61" fill="#f66a1e"/>
<rect x="218.65" y="581.35" width="6.72" height="6.61" fill="#f0b030"/>
<rect x="225.32" y="581.35" width="6.72" height="6.61" fill="#f4541c"/>
<rect x="231.99" y="581.35" width="6.72" height="6.61" fill="#f66a1e"/>
<rect x="238.67" y="581.35" width="6.72" height="6.61" fill="#f4541c"/>
<rect x="245.34" y="581.35" width="6.72" height="6.61" fill="#f66a1e"/>
<rect x="252.01" y="581.35" width="6.72" height="6.61" fill="#f66a1e"/>
<rect x="258.69" y="581.35" width="6.72" height="6.61" fill="#f66a1e"/>
<rect x="265.36" y="581.35" width="6.72" height="6.61" fill="#f0b030"/>
<rect x="272.03" y="581.35" width="6.72" height="6.61" fill="#62e6f6"/>
<rect x="278.71" y="581.35" width="6.72" height="6.61" fill="#62e6f6"/>
<rect x="285.38" y="581.35" width="6.72" height="6.61" fill="#62e6f6"/>
<rect x="292.05" y="581.35" width="6.72" height="6.61" fill="#eeee3c"/>
<rect x="298.73" y="581.35" width="6.72" height="6.61" fill="#f66a1e"/>
<rect x="305.40" y="581.35" width="6.72" height="6.61" fill="#f4541c"/>
<rect x="312.07" y="581.35" width="6.72" height="6.61" fill="#f66a1e"/>
<rect x="318.75" y="581.35" width="6.72" height="6.61" fill="#f66a1e"/>
<rect x="325.42" y="581.35" width="6.72" height="6.61" fill="#f66a1e"/>
<rect x="332.09" y="581.35" width="6.72" height="6.61" fill="#f03a16"/>
<rect x="338.77" y="581.35" width="6.72" height="6.61" fill="#f03a16"/>
<rect x="345.44" y="581.35" width="6.72" height="6.61" fill="#efda3c"/>
<rect x="352.11" y="581.35" width="6.72" height="6.61" fill="#f0b030"/>
<rect x="358.79" y="581.35" width="6.72" height="6.61" fill="#f0b030"/>
<rect x="365.46" y="581.35" width="6.72" height="6.61" fill="#f0b030"/>
<rect x="372.13" y="581.35" width="6.72" height="6.61" fill="#f0b030"/>
<rect x="378.81" y="581.35" width="6.72" height="6.61" fill="#f0b030"/>
<rect x="385.48" y="581.35" width="6.72" height="6.61" fill="#f0b030"/>
<rect x="392.15" y="581.35" width="6.72" height="6.61" fill="#f66a1e"/>
<rect x="398.83" y="581.35" width="6.72" height="6.61" fill="#f0b030"/>
<rect x="205.30" y="587.91" width="6.72" height="6.61" fill="#f0b030"/>
<rect x="211.97" y="587.91" width="6.72" height="6.61" fill="#efda3c"/>
<rect x="218.65" y="587.91" width="6.72" height="6.61" fill="#eeee3c"/>
<rect x="225.32" y="587.91" width="6.72" height="6.61" fill="#f0b030"/>
<rect x="231.99" y="587.91" width="6.72" height="6.61" fill="#f0b030"/>
<rect x="238.67" y="587.91" width="6.72" height="6.61" fill="#f66a1e"/>
<rect x="245.34" y="587.91" width="6.72" height="6.61" fill="#f66a1e"/>
<rect x="252.01" y="587.91" width="6.72" height="6.61" fill="#f66a1e"/>
<rect x="258.69" y="587.91" width="6.72" height="6.61" fill="#f66a1e"/>
<rect x="265.36" y="587.91" width="6.72" height="6.61" fill="#f66a1e"/>
<rect x="272.03" y="587.91" width="6.72" height="6.61" fill="#62e6f6"/>
<rect x="278.71" y="587.91" width="6.72" height="6.61" fill="#52b4f4"/>
<rect x="285.38" y="587.91" width="6.72" height="6.61" fill="#52b4f4"/>
<rect x="292.05" y="587.91" width="6.72" height="6.61" fill="#52b4f4"/>
<rect x="298.73" y="587.91" width="6.72" height="6.61" fill="#f0b030"/>
<rect x="305.40" y="587.91" width="6.72" height="6.61" fill="#f66a1e"/>
<rect x="312.07" y="587.91" width="6.72" height="6.61" fill="#f66a1e"/>
<rect x="318.75" y="587.91" width="6.72" height="6.61" fill="#f66a1e"/>
<rect x="325.42" y="587.91" width="6.72" height="6.61" fill="#f66a1e"/>
<rect x="332.09" y="587.91" width="6.72" height="6.61" fill="#f4541c"/>
<rect x="338.77" y="587.91" width="6.72" height="6.61" fill="#f66a1e"/>
<rect x="345.44" y="587.91" width="6.72" height="6.61" fill="#f66a1e"/>
<rect x="352.11" y="587.91" width="6.72" height="6.61" fill="#efda3c"/>
<rect x="358.79" y="587.91" width="6.72" height="6.61" fill="#f0b030"/>
<rect x="365.46" y="587.91" width="6.72" height="6.61" fill="#f0b030"/>
<rect x="372.13" y="587.91" width="6.72" height="6.61" fill="#f0b030"/>
<rect x="378.81" y="587.91" width="6.72" height="6.61" fill="#f0b030"/>
<rect x="385.48" y="587.91" width="6.72" height="6.61" fill="#f0b030"/>
<rect x="392.15" y="587.91" width="6.72" height="6.61" fill="#f4541c"/>
<rect x="398.83" y="587.91" width="6.72" height="6.61" fill="#f66a1e"/>
<rect x="205.30" y="594.48" width="6.72" height="6.61" fill="#efda3c"/>
<rect x="211.97" y="594.48" width="6.72" height="6.61" fill="#f0b030"/>
<rect x="218.65" y="594.48" width="6.72" height="6.61" fill="#f0b030"/>
<rect x="225.32" y="594.48" width="6.72" height="6.61" fill="#efda3c"/>
<rect x="231.99" y="594.48" width="6.72" height="6.61" fill="#efda3c"/>
<rect x="238.67" y="594.48" width="6.72" height="6.61" fill="#f4541c"/>
<rect x="245.34" y="594.48" width="6.72" height="6.61" fill="#f66a1e"/>
<rect x="252.01" y="594.48" width="6.72" height="6.61" fill="#f66a1e"/>
<rect x="258.69" y="594.48" width="6.72" height="6.61" fill="#f66a1e"/>
<rect x="265.36" y="594.48" width="6.72" height="6.61" fill="#f66a1e"/>
<rect x="272.03" y="594.48" width="6.72" height="6.61" fill="#62e6f6"/>
<rect x="278.71" y="594.48" width="6.72" height="6.61" fill="#62e6f6"/>
<rect x="285.38" y="594.48" width="6.72" height="6.61" fill="#52b4f4"/>
<rect x="292.05" y="594.48" width="6.72" height="6.61" fill="#62e6f6"/>
<rect x="298.73" y="594.48" width="6.72" height="6.61" fill="#efda3c"/>
<rect x="305.40" y="594.48" width="6.72" height="6.61" fill="#f66a1e"/>
<rect x="312.07" y="594.48" width="6.72" height="6.61" fill="#f4541c"/>
<rect x="318.75" y="594.48" width="6.72" height="6.61" fill="#f66a1e"/>
<rect x="325.42" y="594.48" width="6.72" height="6.61" fill="#f66a1e"/>
<rect x="332.09" y="594.48" width="6.72" height="6.61" fill="#a81c12"/>
<rect x="338.77" y="594.48" width="6.72" height="6.61" fill="#f66a1e"/>
<rect x="345.44" y="594.48" width="6.72" height="6.61" fill="#f66a1e"/>
<rect x="352.11" y="594.48" width="6.72" height="6.61" fill="#f0b030"/>
<rect x="358.79" y="594.48" width="6.72" height="6.61" fill="#f66a1e"/>
<rect x="365.46" y="594.48" width="6.72" height="6.61" fill="#efda3c"/>
<rect x="372.13" y="594.48" width="6.72" height="6.61" fill="#f66a1e"/>
<rect x="378.81" y="594.48" width="6.72" height="6.61" fill="#f0b030"/>
<rect x="385.48" y="594.48" width="6.72" height="6.61" fill="#f66a1e"/>
<rect x="392.15" y="594.48" width="6.72" height="6.61" fill="#f0b030"/>
<rect x="398.83" y="594.48" width="6.72" height="6.61" fill="#f66a1e"/>
<rect x="205.30" y="601.04" width="6.72" height="6.61" fill="#f0b030"/>
<rect x="211.97" y="601.04" width="6.72" height="6.61" fill="#f0b030"/>
<rect x="218.65" y="601.04" width="6.72" height="6.61" fill="#f0b030"/>
<rect x="225.32" y="601.04" width="6.72" height="6.61" fill="#f0b030"/>
<rect x="231.99" y="601.04" width="6.72" height="6.61" fill="#f0b030"/>
<rect x="238.67" y="601.04" width="6.72" height="6.61" fill="#efda3c"/>
<rect x="245.34" y="601.04" width="6.72" height="6.61" fill="#f0b030"/>
<rect x="252.01" y="601.04" width="6.72" height="6.61" fill="#f0b030"/>
<rect x="258.69" y="601.04" width="6.72" height="6.61" fill="#f0b030"/>
<rect x="265.36" y="601.04" width="6.72" height="6.61" fill="#f0b030"/>
<rect x="272.03" y="601.04" width="6.72" height="6.61" fill="#eeee3c"/>
<rect x="278.71" y="601.04" width="6.72" height="6.61" fill="#52b4f4"/>
<rect x="285.38" y="601.04" width="6.72" height="6.61" fill="#62e6f6"/>
<rect x="292.05" y="601.04" width="6.72" height="6.61" fill="#c8f24e"/>
<rect x="298.73" y="601.04" width="6.72" height="6.61" fill="#f0b030"/>
<rect x="305.40" y="601.04" width="6.72" height="6.61" fill="#f03a16"/>
<rect x="312.07" y="601.04" width="6.72" height="6.61" fill="#efda3c"/>
<rect x="318.75" y="601.04" width="6.72" height="6.61" fill="#f66a1e"/>
<rect x="325.42" y="601.04" width="6.72" height="6.61" fill="#f03a16"/>
<rect x="332.09" y="601.04" width="6.72" height="6.61" fill="#0a0a0a"/>
<rect x="338.77" y="601.04" width="6.72" height="6.61" fill="#a81c12"/>
<rect x="345.44" y="601.04" width="6.72" height="6.61" fill="#f66a1e"/>
<rect x="352.11" y="601.04" width="6.72" height="6.61" fill="#f66a1e"/>
<rect x="358.79" y="601.04" width="6.72" height="6.61" fill="#f66a1e"/>
<rect x="365.46" y="601.04" width="6.72" height="6.61" fill="#f66a1e"/>
<rect x="372.13" y="601.04" width="6.72" height="6.61" fill="#f66a1e"/>
<rect x="378.81" y="601.04" width="6.72" height="6.61" fill="#f66a1e"/>
<rect x="385.48" y="601.04" width="6.72" height="6.61" fill="#f0b030"/>
<rect x="392.15" y="601.04" width="6.72" height="6.61" fill="#0a0a0a"/>
<rect x="398.83" y="601.04" width="6.72" height="6.61" fill="#f0b030"/>
<path d="M205.30 345.1V607.6M211.97 345.1V607.6M218.65 345.1V607.6M225.32 345.1V607.6M231.99 345.1V607.6M238.67 345.1V607.6M245.34 345.1V607.6M252.01 345.1V607.6M258.69 345.1V607.6M265.36 345.1V607.6M272.03 345.1V607.6M278.71 345.1V607.6M285.38 345.1V607.6M292.05 345.1V607.6M298.73 345.1V607.6M305.40 345.1V607.6M312.07 345.1V607.6M318.75 345.1V607.6M325.42 345.1V607.6M332.09 345.1V607.6M338.77 345.1V607.6M345.44 345.1V607.6M352.11 345.1V607.6M358.79 345.1V607.6M365.46 345.1V607.6M372.13 345.1V607.6M378.81 345.1V607.6M385.48 345.1V607.6M392.15 345.1V607.6M398.83 345.1V607.6M405.50 345.1V607.6M205.3 345.10H405.5M205.3 351.66H405.5M205.3 358.23H405.5M205.3 364.79H405.5M205.3 371.35H405.5M205.3 377.91H405.5M205.3 384.48H405.5M205.3 391.04H405.5M205.3 397.60H405.5M205.3 404.16H405.5M205.3 410.73H405.5M205.3 417.29H405.5M205.3 423.85H405.5M205.3 430.41H405.5M205.3 436.98H405.5M205.3 443.54H405.5M205.3 450.10H405.5M205.3 456.66H405.5M205.3 463.23H405.5M205.3 469.79H405.5M205.3 476.35H405.5M205.3 482.91H405.5M205.3 489.48H405.5M205.3 496.04H405.5M205.3 502.60H405.5M205.3 509.16H405.5M205.3 515.73H405.5M205.3 522.29H405.5M205.3 528.85H405.5M205.3 535.41H405.5M205.3 541.98H405.5M205.3 548.54H405.5M205.3 555.10H405.5M205.3 561.66H405.5M205.3 568.23H405.5M205.3 574.79H405.5M205.3 581.35H405.5M205.3 587.91H405.5M205.3 594.48H405.5M205.3 601.04H405.5M205.3 607.60H405.5" stroke="#8c8c88" stroke-width="1" fill="none" opacity="0.7"/>
<rect x="449.60" y="345.20" width="6.77" height="6.61" fill="#2a2cf4"/>
<rect x="456.32" y="345.20" width="6.77" height="6.61" fill="#2a2cf4"/>
<rect x="463.04" y="345.20" width="6.77" height="6.61" fill="#2a2cf4"/>
<rect x="469.76" y="345.20" width="6.77" height="6.61" fill="#2a2cf4"/>
<rect x="476.48" y="345.20" width="6.77" height="6.61" fill="#2a2cf4"/>
<rect x="483.20" y="345.20" width="6.77" height="6.61" fill="#1a08f6"/>
<rect x="489.92" y="345.20" width="6.77" height="6.61" fill="#2a2cf4"/>
<rect x="496.64" y="345.20" width="6.77" height="6.61" fill="#2a2cf4"/>
<rect x="503.36" y="345.20" width="6.77" height="6.61" fill="#2a2cf4"/>
<rect x="510.08" y="345.20" width="6.77" height="6.61" fill="#2a2cf4"/>
<rect x="516.80" y="345.20" width="6.77" height="6.61" fill="#2a2cf4"/>
<rect x="523.52" y="345.20" width="6.77" height="6.61" fill="#2a2cf4"/>
<rect x="530.24" y="345.20" width="6.77" height="6.61" fill="#2a2cf4"/>
<rect x="536.96" y="345.20" width="6.77" height="6.61" fill="#2a2cf4"/>
<rect x="543.68" y="345.20" width="6.77" height="6.61" fill="#1a08f6"/>
<rect x="550.40" y="345.20" width="6.77" height="6.61" fill="#1a08f6"/>
<rect x="557.12" y="345.20" width="6.77" height="6.61" fill="#2a2cf4"/>
<rect x="563.84" y="345.20" width="6.77" height="6.61" fill="#2a2cf4"/>
<rect x="570.56" y="345.20" width="6.77" height="6.61" fill="#2a2cf4"/>
<rect x="577.28" y="345.20" width="6.77" height="6.61" fill="#1a08f6"/>
<rect x="584.00" y="345.20" width="6.77" height="6.61" fill="#2a2cf4"/>
<rect x="590.72" y="345.20" width="6.77" height="6.61" fill="#2a2cf4"/>
<rect x="597.44" y="345.20" width="6.77" height="6.61" fill="#2a2cf4"/>
<rect x="604.16" y="345.20" width="6.77" height="6.61" fill="#2a2cf4"/>
<rect x="610.88" y="345.20" width="6.77" height="6.61" fill="#2a2cf4"/>
<rect x="617.60" y="345.20" width="6.77" height="6.61" fill="#2a2cf4"/>
<rect x="624.32" y="345.20" width="6.77" height="6.61" fill="#2a2cf4"/>
<rect x="631.04" y="345.20" width="6.77" height="6.61" fill="#2a2cf4"/>
<rect x="637.76" y="345.20" width="6.77" height="6.61" fill="#2a2cf4"/>
<rect x="644.48" y="345.20" width="6.77" height="6.61" fill="#2a2cf4"/>
<rect x="449.60" y="351.76" width="6.77" height="6.61" fill="#2a2cf4"/>
<rect x="456.32" y="351.76" width="6.77" height="6.61" fill="#2a2cf4"/>
<rect x="463.04" y="351.76" width="6.77" height="6.61" fill="#2a2cf4"/>
<rect x="469.76" y="351.76" width="6.77" height="6.61" fill="#2a2cf4"/>
<rect x="476.48" y="351.76" width="6.77" height="6.61" fill="#2a2cf4"/>
<rect x="483.20" y="351.76" width="6.77" height="6.61" fill="#3c64f4"/>
<rect x="489.92" y="351.76" width="6.77" height="6.61" fill="#1a08f6"/>
<rect x="496.64" y="351.76" width="6.77" height="6.61" fill="#2a2cf4"/>
<rect x="503.36" y="351.76" width="6.77" height="6.61" fill="#2a2cf4"/>
<rect x="510.08" y="351.76" width="6.77" height="6.61" fill="#2a2cf4"/>
<rect x="516.80" y="351.76" width="6.77" height="6.61" fill="#2a2cf4"/>
<rect x="523.52" y="351.76" width="6.77" height="6.61" fill="#3c64f4"/>
<rect x="530.24" y="351.76" width="6.77" height="6.61" fill="#2a2cf4"/>
<rect x="536.96" y="351.76" width="6.77" height="6.61" fill="#2a2cf4"/>
<rect x="543.68" y="351.76" width="6.77" height="6.61" fill="#2a2cf4"/>
<rect x="550.40" y="351.76" width="6.77" height="6.61" fill="#1a08f6"/>
<rect x="557.12" y="351.76" width="6.77" height="6.61" fill="#2a2cf4"/>
<rect x="563.84" y="351.76" width="6.77" height="6.61" fill="#2a2cf4"/>
<rect x="570.56" y="351.76" width="6.77" height="6.61" fill="#2a2cf4"/>
<rect x="577.28" y="351.76" width="6.77" height="6.61" fill="#2a2cf4"/>
<rect x="584.00" y="351.76" width="6.77" height="6.61" fill="#2a2cf4"/>
<rect x="590.72" y="351.76" width="6.77" height="6.61" fill="#2a2cf4"/>
<rect x="597.44" y="351.76" width="6.77" height="6.61" fill="#2a2cf4"/>
<rect x="604.16" y="351.76" width="6.77" height="6.61" fill="#2a2cf4"/>
<rect x="610.88" y="351.76" width="6.77" height="6.61" fill="#2a2cf4"/>
<rect x="617.60" y="351.76" width="6.77" height="6.61" fill="#2a2cf4"/>
<rect x="624.32" y="351.76" width="6.77" height="6.61" fill="#2a2cf4"/>
<rect x="631.04" y="351.76" width="6.77" height="6.61" fill="#2a2cf4"/>
<rect x="637.76" y="351.76" width="6.77" height="6.61" fill="#2a2cf4"/>
<rect x="644.48" y="351.76" width="6.77" height="6.61" fill="#2a2cf4"/>
<rect x="449.60" y="358.32" width="6.77" height="6.61" fill="#2a2cf4"/>
<rect x="456.32" y="358.32" width="6.77" height="6.61" fill="#2a2cf4"/>
<rect x="463.04" y="358.32" width="6.77" height="6.61" fill="#2a2cf4"/>
<rect x="469.76" y="358.32" width="6.77" height="6.61" fill="#2a2cf4"/>
<rect x="476.48" y="358.32" width="6.77" height="6.61" fill="#2a2cf4"/>
<rect x="483.20" y="358.32" width="6.77" height="6.61" fill="#1a08f6"/>
<rect x="489.92" y="358.32" width="6.77" height="6.61" fill="#2a2cf4"/>
<rect x="496.64" y="358.32" width="6.77" height="6.61" fill="#3c64f4"/>
<rect x="503.36" y="358.32" width="6.77" height="6.61" fill="#2a2cf4"/>
<rect x="510.08" y="358.32" width="6.77" height="6.61" fill="#2a2cf4"/>
<rect x="516.80" y="358.32" width="6.77" height="6.61" fill="#2a2cf4"/>
<rect x="523.52" y="358.32" width="6.77" height="6.61" fill="#3c64f4"/>
<rect x="530.24" y="358.32" width="6.77" height="6.61" fill="#2a2cf4"/>
<rect x="536.96" y="358.32" width="6.77" height="6.61" fill="#2a2cf4"/>
<rect x="543.68" y="358.32" width="6.77" height="6.61" fill="#2a2cf4"/>
<rect x="550.40" y="358.32" width="6.77" height="6.61" fill="#2a2cf4"/>
<rect x="557.12" y="358.32" width="6.77" height="6.61" fill="#2a2cf4"/>
<rect x="563.84" y="358.32" width="6.77" height="6.61" fill="#2a2cf4"/>
<rect x="570.56" y="358.32" width="6.77" height="6.61" fill="#2a2cf4"/>
<rect x="577.28" y="358.32" width="6.77" height="6.61" fill="#2a2cf4"/>
<rect x="584.00" y="358.32" width="6.77" height="6.61" fill="#2a2cf4"/>
<rect x="590.72" y="358.32" width="6.77" height="6.61" fill="#2a2cf4"/>
<rect x="597.44" y="358.32" width="6.77" height="6.61" fill="#2a2cf4"/>
<rect x="604.16" y="358.32" width="6.77" height="6.61" fill="#2a2cf4"/>
<rect x="610.88" y="358.32" width="6.77" height="6.61" fill="#2a2cf4"/>
<rect x="617.60" y="358.32" width="6.77" height="6.61" fill="#2a2cf4"/>
<rect x="624.32" y="358.32" width="6.77" height="6.61" fill="#2a2cf4"/>
<rect x="631.04" y="358.32" width="6.77" height="6.61" fill="#2a2cf4"/>
<rect x="637.76" y="358.32" width="6.77" height="6.61" fill="#2a2cf4"/>
<rect x="644.48" y="358.32" width="6.77" height="6.61" fill="#2a2cf4"/>
<rect x="449.60" y="364.88" width="6.77" height="6.61" fill="#2a2cf4"/>
<rect x="456.32" y="364.88" width="6.77" height="6.61" fill="#2a2cf4"/>
<rect x="463.04" y="364.88" width="6.77" height="6.61" fill="#2a2cf4"/>
<rect x="469.76" y="364.88" width="6.77" height="6.61" fill="#2a2cf4"/>
<rect x="476.48" y="364.88" width="6.77" height="6.61" fill="#2a2cf4"/>
<rect x="483.20" y="364.88" width="6.77" height="6.61" fill="#2a2cf4"/>
<rect x="489.92" y="364.88" width="6.77" height="6.61" fill="#0a0a0a"/>
<rect x="496.64" y="364.88" width="6.77" height="6.61" fill="#0a0a0a"/>
<rect x="503.36" y="364.88" width="6.77" height="6.61" fill="#2a2cf4"/>
<rect x="510.08" y="364.88" width="6.77" height="6.61" fill="#2a2cf4"/>
<rect x="516.80" y="364.88" width="6.77" height="6.61" fill="#2a2cf4"/>
<rect x="523.52" y="364.88" width="6.77" height="6.61" fill="#2a2cf4"/>
<rect x="530.24" y="364.88" width="6.77" height="6.61" fill="#2a2cf4"/>
<rect x="536.96" y="364.88" width="6.77" height="6.61" fill="#2a2cf4"/>
<rect x="543.68" y="364.88" width="6.77" height="6.61" fill="#2a2cf4"/>
<rect x="550.40" y="364.88" width="6.77" height="6.61" fill="#2a2cf4"/>
<rect x="557.12" y="364.88" width="6.77" height="6.61" fill="#2a2cf4"/>
<rect x="563.84" y="364.88" width="6.77" height="6.61" fill="#2a2cf4"/>
<rect x="570.56" y="364.88" width="6.77" height="6.61" fill="#3c64f4"/>
<rect x="577.28" y="364.88" width="6.77" height="6.61" fill="#2a2cf4"/>
<rect x="584.00" y="364.88" width="6.77" height="6.61" fill="#2a2cf4"/>
<rect x="590.72" y="364.88" width="6.77" height="6.61" fill="#2a2cf4"/>
<rect x="597.44" y="364.88" width="6.77" height="6.61" fill="#2a2cf4"/>
<rect x="604.16" y="364.88" width="6.77" height="6.61" fill="#2a2cf4"/>
<rect x="610.88" y="364.88" width="6.77" height="6.61" fill="#2a2cf4"/>
<rect x="617.60" y="364.88" width="6.77" height="6.61" fill="#2a2cf4"/>
<rect x="624.32" y="364.88" width="6.77" height="6.61" fill="#2a2cf4"/>
<rect x="631.04" y="364.88" width="6.77" height="6.61" fill="#2a2cf4"/>
<rect x="637.76" y="364.88" width="6.77" height="6.61" fill="#2a2cf4"/>
<rect x="644.48" y="364.88" width="6.77" height="6.61" fill="#2a2cf4"/>
<rect x="449.60" y="371.44" width="6.77" height="6.61" fill="#2a2cf4"/>
<rect x="456.32" y="371.44" width="6.77" height="6.61" fill="#2a2cf4"/>
<rect x="463.04" y="371.44" width="6.77" height="6.61" fill="#2a2cf4"/>
<rect x="469.76" y="371.44" width="6.77" height="6.61" fill="#2a2cf4"/>
<rect x="476.48" y="371.44" width="6.77" height="6.61" fill="#1a08f6"/>
<rect x="483.20" y="371.44" width="6.77" height="6.61" fill="#1a08f6"/>
<rect x="489.92" y="371.44" width="6.77" height="6.61" fill="#2a2cf4"/>
<rect x="496.64" y="371.44" width="6.77" height="6.61" fill="#2a2cf4"/>
<rect x="503.36" y="371.44" width="6.77" height="6.61" fill="#2a2cf4"/>
<rect x="510.08" y="371.44" width="6.77" height="6.61" fill="#2a2cf4"/>
<rect x="516.80" y="371.44" width="6.77" height="6.61" fill="#2a2cf4"/>
<rect x="523.52" y="371.44" width="6.77" height="6.61" fill="#2a2cf4"/>
<rect x="530.24" y="371.44" width="6.77" height="6.61" fill="#2a2cf4"/>
<rect x="536.96" y="371.44" width="6.77" height="6.61" fill="#2a2cf4"/>
<rect x="543.68" y="371.44" width="6.77" height="6.61" fill="#2a2cf4"/>
<rect x="550.40" y="371.44" width="6.77" height="6.61" fill="#2a2cf4"/>
<rect x="557.12" y="371.44" width="6.77" height="6.61" fill="#2a2cf4"/>
<rect x="563.84" y="371.44" width="6.77" height="6.61" fill="#2a2cf4"/>
<rect x="570.56" y="371.44" width="6.77" height="6.61" fill="#2a2cf4"/>
<rect x="577.28" y="371.44" width="6.77" height="6.61" fill="#2a2cf4"/>
<rect x="584.00" y="371.44" width="6.77" height="6.61" fill="#2a2cf4"/>
<rect x="590.72" y="371.44" width="6.77" height="6.61" fill="#2a2cf4"/>
<rect x="597.44" y="371.44" width="6.77" height="6.61" fill="#2a2cf4"/>
<rect x="604.16" y="371.44" width="6.77" height="6.61" fill="#2a2cf4"/>
<rect x="610.88" y="371.44" width="6.77" height="6.61" fill="#2a2cf4"/>
<rect x="617.60" y="371.44" width="6.77" height="6.61" fill="#2a2cf4"/>
<rect x="624.32" y="371.44" width="6.77" height="6.61" fill="#2a2cf4"/>
<rect x="631.04" y="371.44" width="6.77" height="6.61" fill="#2a2cf4"/>
<rect x="637.76" y="371.44" width="6.77" height="6.61" fill="#2a2cf4"/>
<rect x="644.48" y="371.44" width="6.77" height="6.61" fill="#2a2cf4"/>
<rect x="449.60" y="378.00" width="6.77" height="6.61" fill="#2a2cf4"/>
<rect x="456.32" y="378.00" width="6.77" height="6.61" fill="#3c64f4"/>
<rect x="463.04" y="378.00" width="6.77" height="6.61" fill="#2a2cf4"/>
<rect x="469.76" y="378.00" width="6.77" height="6.61" fill="#1a08f6"/>
<rect x="476.48" y="378.00" width="6.77" height="6.61" fill="#2a2cf4"/>
<rect x="483.20" y="378.00" width="6.77" height="6.61" fill="#1a08f6"/>
<rect x="489.92" y="378.00" width="6.77" height="6.61" fill="#2a2cf4"/>
<rect x="496.64" y="378.00" width="6.77" height="6.61" fill="#2a2cf4"/>
<rect x="503.36" y="378.00" width="6.77" height="6.61" fill="#2a2cf4"/>
<rect x="510.08" y="378.00" width="6.77" height="6.61" fill="#2a2cf4"/>
<rect x="516.80" y="378.00" width="6.77" height="6.61" fill="#2a2cf4"/>
<rect x="523.52" y="378.00" width="6.77" height="6.61" fill="#2a2cf4"/>
<rect x="530.24" y="378.00" width="6.77" height="6.61" fill="#2a2cf4"/>
<rect x="536.96" y="378.00" width="6.77" height="6.61" fill="#2a2cf4"/>
<rect x="543.68" y="378.00" width="6.77" height="6.61" fill="#2a2cf4"/>
<rect x="550.40" y="378.00" width="6.77" height="6.61" fill="#2a2cf4"/>
<rect x="557.12" y="378.00" width="6.77" height="6.61" fill="#3c64f4"/>
<rect x="563.84" y="378.00" width="6.77" height="6.61" fill="#2a2cf4"/>
<rect x="570.56" y="378.00" width="6.77" height="6.61" fill="#2a2cf4"/>
<rect x="577.28" y="378.00" width="6.77" height="6.61" fill="#2a2cf4"/>
<rect x="584.00" y="378.00" width="6.77" height="6.61" fill="#2a2cf4"/>
<rect x="590.72" y="378.00" width="6.77" height="6.61" fill="#2a2cf4"/>
<rect x="597.44" y="378.00" width="6.77" height="6.61" fill="#2a2cf4"/>
<rect x="604.16" y="378.00" width="6.77" height="6.61" fill="#2a2cf4"/>
<rect x="610.88" y="378.00" width="6.77" height="6.61" fill="#1a08f6"/>
<rect x="617.60" y="378.00" width="6.77" height="6.61" fill="#2a2cf4"/>
<rect x="624.32" y="378.00" width="6.77" height="6.61" fill="#2a2cf4"/>
<rect x="631.04" y="378.00" width="6.77" height="6.61" fill="#2a2cf4"/>
<rect x="637.76" y="378.00" width="6.77" height="6.61" fill="#2a2cf4"/>
<rect x="644.48" y="378.00" width="6.77" height="6.61" fill="#3c64f4"/>
<rect x="449.60" y="384.56" width="6.77" height="6.61" fill="#1a08f6"/>
<rect x="456.32" y="384.56" width="6.77" height="6.61" fill="#1a08f6"/>
<rect x="463.04" y="384.56" width="6.77" height="6.61" fill="#2a2cf4"/>
<rect x="469.76" y="384.56" width="6.77" height="6.61" fill="#1a08f6"/>
<rect x="476.48" y="384.56" width="6.77" height="6.61" fill="#1a08f6"/>
<rect x="483.20" y="384.56" width="6.77" height="6.61" fill="#2a2cf4"/>
<rect x="489.92" y="384.56" width="6.77" height="6.61" fill="#2a2cf4"/>
<rect x="496.64" y="384.56" width="6.77" height="6.61" fill="#2a2cf4"/>
<rect x="503.36" y="384.56" width="6.77" height="6.61" fill="#2a2cf4"/>
<rect x="510.08" y="384.56" width="6.77" height="6.61" fill="#2a2cf4"/>
<rect x="516.80" y="384.56" width="6.77" height="6.61" fill="#2a2cf4"/>
<rect x="523.52" y="384.56" width="6.77" height="6.61" fill="#2a2cf4"/>
<rect x="530.24" y="384.56" width="6.77" height="6.61" fill="#1a08f6"/>
<rect x="536.96" y="384.56" width="6.77" height="6.61" fill="#2a2cf4"/>
<rect x="543.68" y="384.56" width="6.77" height="6.61" fill="#2a2cf4"/>
<rect x="550.40" y="384.56" width="6.77" height="6.61" fill="#1a08f6"/>
<rect x="557.12" y="384.56" width="6.77" height="6.61" fill="#1a08f6"/>
<rect x="563.84" y="384.56" width="6.77" height="6.61" fill="#1a08f6"/>
<rect x="570.56" y="384.56" width="6.77" height="6.61" fill="#1a08f6"/>
<rect x="577.28" y="384.56" width="6.77" height="6.61" fill="#2a2cf4"/>
<rect x="584.00" y="384.56" width="6.77" height="6.61" fill="#2a2cf4"/>
<rect x="590.72" y="384.56" width="6.77" height="6.61" fill="#2a2cf4"/>
<rect x="597.44" y="384.56" width="6.77" height="6.61" fill="#2a2cf4"/>
<rect x="604.16" y="384.56" width="6.77" height="6.61" fill="#2a2cf4"/>
<rect x="610.88" y="384.56" width="6.77" height="6.61" fill="#2a2cf4"/>
<rect x="617.60" y="384.56" width="6.77" height="6.61" fill="#2a2cf4"/>
<rect x="624.32" y="384.56" width="6.77" height="6.61" fill="#2a2cf4"/>
<rect x="631.04" y="384.56" width="6.77" height="6.61" fill="#1a08f6"/>
<rect x="637.76" y="384.56" width="6.77" height="6.61" fill="#2a2cf4"/>
<rect x="644.48" y="384.56" width="6.77" height="6.61" fill="#90ee90"/>
<rect x="449.60" y="391.12" width="6.77" height="6.61" fill="#1a08f6"/>
<rect x="456.32" y="391.12" width="6.77" height="6.61" fill="#1a08f6"/>
<rect x="463.04" y="391.12" width="6.77" height="6.61" fill="#1a08f6"/>
<rect x="469.76" y="391.12" width="6.77" height="6.61" fill="#1a08f6"/>
<rect x="476.48" y="391.12" width="6.77" height="6.61" fill="#1a08f6"/>
<rect x="483.20" y="391.12" width="6.77" height="6.61" fill="#2a2cf4"/>
<rect x="489.92" y="391.12" width="6.77" height="6.61" fill="#2a2cf4"/>
<rect x="496.64" y="391.12" width="6.77" height="6.61" fill="#2a2cf4"/>
<rect x="503.36" y="391.12" width="6.77" height="6.61" fill="#3c64f4"/>
<rect x="510.08" y="391.12" width="6.77" height="6.61" fill="#2a2cf4"/>
<rect x="516.80" y="391.12" width="6.77" height="6.61" fill="#2a2cf4"/>
<rect x="523.52" y="391.12" width="6.77" height="6.61" fill="#2a2cf4"/>
<rect x="530.24" y="391.12" width="6.77" height="6.61" fill="#1a08f6"/>
<rect x="536.96" y="391.12" width="6.77" height="6.61" fill="#2a2cf4"/>
<rect x="543.68" y="391.12" width="6.77" height="6.61" fill="#2a2cf4"/>
<rect x="550.40" y="391.12" width="6.77" height="6.61" fill="#1a08f6"/>
<rect x="557.12" y="391.12" width="6.77" height="6.61" fill="#1a08f6"/>
<rect x="563.84" y="391.12" width="6.77" height="6.61" fill="#1a08f6"/>
<rect x="570.56" y="391.12" width="6.77" height="6.61" fill="#2a2cf4"/>
<rect x="577.28" y="391.12" width="6.77" height="6.61" fill="#1a08f6"/>
<rect x="584.00" y="391.12" width="6.77" height="6.61" fill="#2a2cf4"/>
<rect x="590.72" y="391.12" width="6.77" height="6.61" fill="#2a2cf4"/>
<rect x="597.44" y="391.12" width="6.77" height="6.61" fill="#2a2cf4"/>
<rect x="604.16" y="391.12" width="6.77" height="6.61" fill="#2a2cf4"/>
<rect x="610.88" y="391.12" width="6.77" height="6.61" fill="#2a2cf4"/>
<rect x="617.60" y="391.12" width="6.77" height="6.61" fill="#2a2cf4"/>
<rect x="624.32" y="391.12" width="6.77" height="6.61" fill="#2a2cf4"/>
<rect x="631.04" y="391.12" width="6.77" height="6.61" fill="#3c64f4"/>
<rect x="637.76" y="391.12" width="6.77" height="6.61" fill="#2a2cf4"/>
<rect x="644.48" y="391.12" width="6.77" height="6.61" fill="#eeee3c"/>
<rect x="449.60" y="397.68" width="6.77" height="6.61" fill="#1a08f6"/>
<rect x="456.32" y="397.68" width="6.77" height="6.61" fill="#1a08f6"/>
<rect x="463.04" y="397.68" width="6.77" height="6.61" fill="#1a08f6"/>
<rect x="469.76" y="397.68" width="6.77" height="6.61" fill="#1a08f6"/>
<rect x="476.48" y="397.68" width="6.77" height="6.61" fill="#1a08f6"/>
<rect x="483.20" y="397.68" width="6.77" height="6.61" fill="#2a2cf4"/>
<rect x="489.92" y="397.68" width="6.77" height="6.61" fill="#2a2cf4"/>
<rect x="496.64" y="397.68" width="6.77" height="6.61" fill="#2a2cf4"/>
<rect x="503.36" y="397.68" width="6.77" height="6.61" fill="#1a08f6"/>
<rect x="510.08" y="397.68" width="6.77" height="6.61" fill="#2a2cf4"/>
<rect x="516.80" y="397.68" width="6.77" height="6.61" fill="#1a08f6"/>
<rect x="523.52" y="397.68" width="6.77" height="6.61" fill="#2a2cf4"/>
<rect x="530.24" y="397.68" width="6.77" height="6.61" fill="#1a08f6"/>
<rect x="536.96" y="397.68" width="6.77" height="6.61" fill="#2a2cf4"/>
<rect x="543.68" y="397.68" width="6.77" height="6.61" fill="#2a2cf4"/>
<rect x="550.40" y="397.68" width="6.77" height="6.61" fill="#1a08f6"/>
<rect x="557.12" y="397.68" width="6.77" height="6.61" fill="#1a08f6"/>
<rect x="563.84" y="397.68" width="6.77" height="6.61" fill="#1a08f6"/>
<rect x="570.56" y="397.68" width="6.77" height="6.61" fill="#1a08f6"/>
<rect x="577.28" y="397.68" width="6.77" height="6.61" fill="#1a08f6"/>
<rect x="584.00" y="397.68" width="6.77" height="6.61" fill="#1a08f6"/>
<rect x="590.72" y="397.68" width="6.77" height="6.61" fill="#1a08f6"/>
<rect x="597.44" y="397.68" width="6.77" height="6.61" fill="#2a2cf4"/>
<rect x="604.16" y="397.68" width="6.77" height="6.61" fill="#2a2cf4"/>
<rect x="610.88" y="397.68" width="6.77" height="6.61" fill="#2a2cf4"/>
<rect x="617.60" y="397.68" width="6.77" height="6.61" fill="#2a2cf4"/>
<rect x="624.32" y="397.68" width="6.77" height="6.61" fill="#2a2cf4"/>
<rect x="631.04" y="397.68" width="6.77" height="6.61" fill="#2a2cf4"/>
<rect x="637.76" y="397.68" width="6.77" height="6.61" fill="#2a2cf4"/>
<rect x="644.48" y="397.68" width="6.77" height="6.61" fill="#64ecf6"/>
<rect x="449.60" y="404.24" width="6.77" height="6.61" fill="#1a08f6"/>
<rect x="456.32" y="404.24" width="6.77" height="6.61" fill="#f8301a"/>
<rect x="463.04" y="404.24" width="6.77" height="6.61" fill="#f8301a"/>
<rect x="469.76" y="404.24" width="6.77" height="6.61" fill="#1a08f6"/>
<rect x="476.48" y="404.24" width="6.77" height="6.61" fill="#1a08f6"/>
<rect x="483.20" y="404.24" width="6.77" height="6.61" fill="#2a2cf4"/>
<rect x="489.92" y="404.24" width="6.77" height="6.61" fill="#2a2cf4"/>
<rect x="496.64" y="404.24" width="6.77" height="6.61" fill="#2a2cf4"/>
<rect x="503.36" y="404.24" width="6.77" height="6.61" fill="#1a08f6"/>
<rect x="510.08" y="404.24" width="6.77" height="6.61" fill="#2a2cf4"/>
<rect x="516.80" y="404.24" width="6.77" height="6.61" fill="#2a2cf4"/>
<rect x="523.52" y="404.24" width="6.77" height="6.61" fill="#2a2cf4"/>
<rect x="530.24" y="404.24" width="6.77" height="6.61" fill="#2a2cf4"/>
<rect x="536.96" y="404.24" width="6.77" height="6.61" fill="#2a2cf4"/>
<rect x="543.68" y="404.24" width="6.77" height="6.61" fill="#2a2cf4"/>
<rect x="550.40" y="404.24" width="6.77" height="6.61" fill="#1a08f6"/>
<rect x="557.12" y="404.24" width="6.77" height="6.61" fill="#1a08f6"/>
<rect x="563.84" y="404.24" width="6.77" height="6.61" fill="#1a08f6"/>
<rect x="570.56" y="404.24" width="6.77" height="6.61" fill="#1a08f6"/>
<rect x="577.28" y="404.24" width="6.77" height="6.61" fill="#1a08f6"/>
<rect x="584.00" y="404.24" width="6.77" height="6.61" fill="#1a08f6"/>
<rect x="590.72" y="404.24" width="6.77" height="6.61" fill="#2a2cf4"/>
<rect x="597.44" y="404.24" width="6.77" height="6.61" fill="#2a2cf4"/>
<rect x="604.16" y="404.24" width="6.77" height="6.61" fill="#2a2cf4"/>
<rect x="610.88" y="404.24" width="6.77" height="6.61" fill="#2a2cf4"/>
<rect x="617.60" y="404.24" width="6.77" height="6.61" fill="#3c64f4"/>
<rect x="624.32" y="404.24" width="6.77" height="6.61" fill="#2a2cf4"/>
<rect x="631.04" y="404.24" width="6.77" height="6.61" fill="#2a2cf4"/>
<rect x="637.76" y="404.24" width="6.77" height="6.61" fill="#2a2cf4"/>
<rect x="644.48" y="404.24" width="6.77" height="6.61" fill="#1a08f6"/>
<rect x="449.60" y="410.80" width="6.77" height="6.61" fill="#f8301a"/>
<rect x="456.32" y="410.80" width="6.77" height="6.61" fill="#dc2a1a"/>
<rect x="463.04" y="410.80" width="6.77" height="6.61" fill="#dc2a1a"/>
<rect x="469.76" y="410.80" width="6.77" height="6.61" fill="#1a08f6"/>
<rect x="476.48" y="410.80" width="6.77" height="6.61" fill="#1a08f6"/>
<rect x="483.20" y="410.80" width="6.77" height="6.61" fill="#2a2cf4"/>
<rect x="489.92" y="410.80" width="6.77" height="6.61" fill="#1a08f6"/>
<rect x="496.64" y="410.80" width="6.77" height="6.61" fill="#1a08f6"/>
<rect x="503.36" y="410.80" width="6.77" height="6.61" fill="#1a08f6"/>
<rect x="510.08" y="410.80" width="6.77" height="6.61" fill="#1a08f6"/>
<rect x="516.80" y="410.80" width="6.77" height="6.61" fill="#1a08f6"/>
<rect x="523.52" y="410.80" width="6.77" height="6.61" fill="#1a08f6"/>
<rect x="530.24" y="410.80" width="6.77" height="6.61" fill="#1a08f6"/>
<rect x="536.96" y="410.80" width="6.77" height="6.61" fill="#1a08f6"/>
<rect x="543.68" y="410.80" width="6.77" height="6.61" fill="#1a08f6"/>
<rect x="550.40" y="410.80" width="6.77" height="6.61" fill="#1a08f6"/>
<rect x="557.12" y="410.80" width="6.77" height="6.61" fill="#2a2cf4"/>
<rect x="563.84" y="410.80" width="6.77" height="6.61" fill="#2a2cf4"/>
<rect x="570.56" y="410.80" width="6.77" height="6.61" fill="#2a2cf4"/>
<rect x="577.28" y="410.80" width="6.77" height="6.61" fill="#1a08f6"/>
<rect x="584.00" y="410.80" width="6.77" height="6.61" fill="#1a08f6"/>
<rect x="590.72" y="410.80" width="6.77" height="6.61" fill="#1a08f6"/>
<rect x="597.44" y="410.80" width="6.77" height="6.61" fill="#1a08f6"/>
<rect x="604.16" y="410.80" width="6.77" height="6.61" fill="#1a08f6"/>
<rect x="610.88" y="410.80" width="6.77" height="6.61" fill="#2a2cf4"/>
<rect x="617.60" y="410.80" width="6.77" height="6.61" fill="#3c64f4"/>
<rect x="624.32" y="410.80" width="6.77" height="6.61" fill="#2a2cf4"/>
<rect x="631.04" y="410.80" width="6.77" height="6.61" fill="#1a08f6"/>
<rect x="637.76" y="410.80" width="6.77" height="6.61" fill="#1a08f6"/>
<rect x="644.48" y="410.80" width="6.77" height="6.61" fill="#1a08f6"/>
<rect x="449.60" y="417.36" width="6.77" height="6.61" fill="#dc2a1a"/>
<rect x="456.32" y="417.36" width="6.77" height="6.61" fill="#1a08f6"/>
<rect x="463.04" y="417.36" width="6.77" height="6.61" fill="#dc2a1a"/>
<rect x="469.76" y="417.36" width="6.77" height="6.61" fill="#0a0a0a"/>
<rect x="476.48" y="417.36" width="6.77" height="6.61" fill="#1a08f6"/>
<rect x="483.20" y="417.36" width="6.77" height="6.61" fill="#1a08f6"/>
<rect x="489.92" y="417.36" width="6.77" height="6.61" fill="#1a08f6"/>
<rect x="496.64" y="417.36" width="6.77" height="6.61" fill="#1a08f6"/>
<rect x="503.36" y="417.36" width="6.77" height="6.61" fill="#1a08f6"/>
<rect x="510.08" y="417.36" width="6.77" height="6.61" fill="#1a08f6"/>
<rect x="516.80" y="417.36" width="6.77" height="6.61" fill="#1a08f6"/>
<rect x="523.52" y="417.36" width="6.77" height="6.61" fill="#1a08f6"/>
<rect x="530.24" y="417.36" width="6.77" height="6.61" fill="#1a08f6"/>
<rect x="536.96" y="417.36" width="6.77" height="6.61" fill="#1a08f6"/>
<rect x="543.68" y="417.36" width="6.77" height="6.61" fill="#3c64f4"/>
<rect x="550.40" y="417.36" width="6.77" height="6.61" fill="#2a2cf4"/>
<rect x="557.12" y="417.36" width="6.77" height="6.61" fill="#2a2cf4"/>
<rect x="563.84" y="417.36" width="6.77" height="6.61" fill="#3c64f4"/>
<rect x="570.56" y="417.36" width="6.77" height="6.61" fill="#2a2cf4"/>
<rect x="577.28" y="417.36" width="6.77" height="6.61" fill="#1a08f6"/>
<rect x="584.00" y="417.36" width="6.77" height="6.61" fill="#1a08f6"/>
<rect x="590.72" y="417.36" width="6.77" height="6.61" fill="#1a08f6"/>
<rect x="597.44" y="417.36" width="6.77" height="6.61" fill="#1a08f6"/>
<rect x="604.16" y="417.36" width="6.77" height="6.61" fill="#1a08f6"/>
<rect x="610.88" y="417.36" width="6.77" height="6.61" fill="#1a08f6"/>
<rect x="617.60" y="417.36" width="6.77" height="6.61" fill="#1a08f6"/>
<rect x="624.32" y="417.36" width="6.77" height="6.61" fill="#1a08f6"/>
<rect x="631.04" y="417.36" width="6.77" height="6.61" fill="#1a08f6"/>
<rect x="637.76" y="417.36" width="6.77" height="6.61" fill="#1a08f6"/>
<rect x="644.48" y="417.36" width="6.77" height="6.61" fill="#1a08f6"/>
<rect x="449.60" y="423.92" width="6.77" height="6.61" fill="#dc2a1a"/>
<rect x="456.32" y="423.92" width="6.77" height="6.61" fill="#f8301a"/>
<rect x="463.04" y="423.92" width="6.77" height="6.61" fill="#dc2a1a"/>
<rect x="469.76" y="423.92" width="6.77" height="6.61" fill="#dc2a1a"/>
<rect x="476.48" y="423.92" width="6.77" height="6.61" fill="#64ecf6"/>
<rect x="483.20" y="423.92" width="6.77" height="6.61" fill="#1a08f6"/>
<rect x="489.92" y="423.92" width="6.77" height="6.61" fill="#1a08f6"/>
<rect x="496.64" y="423.92" width="6.77" height="6.61" fill="#1a08f6"/>
<rect x="503.36" y="423.92" width="6.77" height="6.61" fill="#1a08f6"/>
<rect x="510.08" y="423.92" width="6.77" height="6.61" fill="#1a08f6"/>
<rect x="516.80" y="423.92" width="6.77" height="6.61" fill="#1a08f6"/>
<rect x="523.52" y="423.92" width="6.77" height="6.61" fill="#2a2cf4"/>
<rect x="530.24" y="423.92" width="6.77" height="6.61" fill="#1a08f6"/>
<rect x="536.96" y="423.92" width="6.77" height="6.61" fill="#2a2cf4"/>
<rect x="543.68" y="423.92" width="6.77" height="6.61" fill="#1a08f6"/>
<rect x="550.40" y="423.92" width="6.77" height="6.61" fill="#1a08f6"/>
<rect x="557.12" y="423.92" width="6.77" height="6.61" fill="#1a08f6"/>
<rect x="563.84" y="423.92" width="6.77" height="6.61" fill="#1a08f6"/>
<rect x="570.56" y="423.92" width="6.77" height="6.61" fill="#1a08f6"/>
<rect x="577.28" y="423.92" width="6.77" height="6.61" fill="#1a08f6"/>
<rect x="584.00" y="423.92" width="6.77" height="6.61" fill="#1a08f6"/>
<rect x="590.72" y="423.92" width="6.77" height="6.61" fill="#1a08f6"/>
<rect x="597.44" y="423.92" width="6.77" height="6.61" fill="#1a08f6"/>
<rect x="604.16" y="423.92" width="6.77" height="6.61" fill="#1a08f6"/>
<rect x="610.88" y="423.92" width="6.77" height="6.61" fill="#1a08f6"/>
<rect x="617.60" y="423.92" width="6.77" height="6.61" fill="#1a08f6"/>
<rect x="624.32" y="423.92" width="6.77" height="6.61" fill="#1a08f6"/>
<rect x="631.04" y="423.92" width="6.77" height="6.61" fill="#1a08f6"/>
<rect x="637.76" y="423.92" width="6.77" height="6.61" fill="#1a08f6"/>
<rect x="644.48" y="423.92" width="6.77" height="6.61" fill="#1a08f6"/>
<rect x="449.60" y="430.48" width="6.77" height="6.61" fill="#dc2a1a"/>
<rect x="456.32" y="430.48" width="6.77" height="6.61" fill="#f8301a"/>
<rect x="463.04" y="430.48" width="6.77" height="6.61" fill="#dc2a1a"/>
<rect x="469.76" y="430.48" width="6.77" height="6.61" fill="#a81c12"/>
<rect x="476.48" y="430.48" width="6.77" height="6.61" fill="#3c64f4"/>
<rect x="483.20" y="430.48" width="6.77" height="6.61" fill="#1a08f6"/>
<rect x="489.92" y="430.48" width="6.77" height="6.61" fill="#1a08f6"/>
<rect x="496.64" y="430.48" width="6.77" height="6.61" fill="#3c64f4"/>
<rect x="503.36" y="430.48" width="6.77" height="6.61" fill="#1a08f6"/>
<rect x="510.08" y="430.48" width="6.77" height="6.61" fill="#1a08f6"/>
<rect x="516.80" y="430.48" width="6.77" height="6.61" fill="#2a2cf4"/>
<rect x="523.52" y="430.48" width="6.77" height="6.61" fill="#2a2cf4"/>
<rect x="530.24" y="430.48" width="6.77" height="6.61" fill="#1a08f6"/>
<rect x="536.96" y="430.48" width="6.77" height="6.61" fill="#2a2cf4"/>
<rect x="543.68" y="430.48" width="6.77" height="6.61" fill="#1a08f6"/>
<rect x="550.40" y="430.48" width="6.77" height="6.61" fill="#1a08f6"/>
<rect x="557.12" y="430.48" width="6.77" height="6.61" fill="#1a08f6"/>
<rect x="563.84" y="430.48" width="6.77" height="6.61" fill="#1a08f6"/>
<rect x="570.56" y="430.48" width="6.77" height="6.61" fill="#1a08f6"/>
<rect x="577.28" y="430.48" width="6.77" height="6.61" fill="#1a08f6"/>
<rect x="584.00" y="430.48" width="6.77" height="6.61" fill="#1a08f6"/>
<rect x="590.72" y="430.48" width="6.77" height="6.61" fill="#1a08f6"/>
<rect x="597.44" y="430.48" width="6.77" height="6.61" fill="#1a08f6"/>
<rect x="604.16" y="430.48" width="6.77" height="6.61" fill="#1a08f6"/>
<rect x="610.88" y="430.48" width="6.77" height="6.61" fill="#1a08f6"/>
<rect x="617.60" y="430.48" width="6.77" height="6.61" fill="#1a08f6"/>
<rect x="624.32" y="430.48" width="6.77" height="6.61" fill="#1a08f6"/>
<rect x="631.04" y="430.48" width="6.77" height="6.61" fill="#1a08f6"/>
<rect x="637.76" y="430.48" width="6.77" height="6.61" fill="#1a08f6"/>
<rect x="644.48" y="430.48" width="6.77" height="6.61" fill="#1a08f6"/>
<rect x="449.60" y="437.04" width="6.77" height="6.61" fill="#f8301a"/>
<rect x="456.32" y="437.04" width="6.77" height="6.61" fill="#f8301a"/>
<rect x="463.04" y="437.04" width="6.77" height="6.61" fill="#f8301a"/>
<rect x="469.76" y="437.04" width="6.77" height="6.61" fill="#1a08f6"/>
<rect x="476.48" y="437.04" width="6.77" height="6.61" fill="#1a08f6"/>
<rect x="483.20" y="437.04" width="6.77" height="6.61" fill="#1a08f6"/>
<rect x="489.92" y="437.04" width="6.77" height="6.61" fill="#1a08f6"/>
<rect x="496.64" y="437.04" width="6.77" height="6.61" fill="#1a08f6"/>
<rect x="503.36" y="437.04" width="6.77" height="6.61" fill="#1a08f6"/>
<rect x="510.08" y="437.04" width="6.77" height="6.61" fill="#1a08f6"/>
<rect x="516.80" y="437.04" width="6.77" height="6.61" fill="#1a08f6"/>
<rect x="523.52" y="437.04" width="6.77" height="6.61" fill="#1a08f6"/>
<rect x="530.24" y="437.04" width="6.77" height="6.61" fill="#1a08f6"/>
<rect x="536.96" y="437.04" width="6.77" height="6.61" fill="#3c64f4"/>
<rect x="543.68" y="437.04" width="6.77" height="6.61" fill="#1a08f6"/>
<rect x="550.40" y="437.04" width="6.77" height="6.61" fill="#1a08f6"/>
<rect x="557.12" y="437.04" width="6.77" height="6.61" fill="#1a08f6"/>
<rect x="563.84" y="437.04" width="6.77" height="6.61" fill="#1a08f6"/>
<rect x="570.56" y="437.04" width="6.77" height="6.61" fill="#1a08f6"/>
<rect x="577.28" y="437.04" width="6.77" height="6.61" fill="#1a08f6"/>
<rect x="584.00" y="437.04" width="6.77" height="6.61" fill="#1a08f6"/>
<rect x="590.72" y="437.04" width="6.77" height="6.61" fill="#1a08f6"/>
<rect x="597.44" y="437.04" width="6.77" height="6.61" fill="#1a08f6"/>
<rect x="604.16" y="437.04" width="6.77" height="6.61" fill="#1a08f6"/>
<rect x="610.88" y="437.04" width="6.77" height="6.61" fill="#1a08f6"/>
<rect x="617.60" y="437.04" width="6.77" height="6.61" fill="#1a08f6"/>
<rect x="624.32" y="437.04" width="6.77" height="6.61" fill="#1a08f6"/>
<rect x="631.04" y="437.04" width="6.77" height="6.61" fill="#1a08f6"/>
<rect x="637.76" y="437.04" width="6.77" height="6.61" fill="#1a08f6"/>
<rect x="644.48" y="437.04" width="6.77" height="6.61" fill="#1a08f6"/>
<rect x="449.60" y="443.60" width="6.77" height="6.61" fill="#f8301a"/>
<rect x="456.32" y="443.60" width="6.77" height="6.61" fill="#f8301a"/>
<rect x="463.04" y="443.60" width="6.77" height="6.61" fill="#f8301a"/>
<rect x="469.76" y="443.60" width="6.77" height="6.61" fill="#1a08f6"/>
<rect x="476.48" y="443.60" width="6.77" height="6.61" fill="#1a08f6"/>
<rect x="483.20" y="443.60" width="6.77" height="6.61" fill="#1a08f6"/>
<rect x="489.92" y="443.60" width="6.77" height="6.61" fill="#1a08f6"/>
<rect x="496.64" y="443.60" width="6.77" height="6.61" fill="#2a2cf4"/>
<rect x="503.36" y="443.60" width="6.77" height="6.61" fill="#1a08f6"/>
<rect x="510.08" y="443.60" width="6.77" height="6.61" fill="#1a08f6"/>
<rect x="516.80" y="443.60" width="6.77" height="6.61" fill="#1a08f6"/>
<rect x="523.52" y="443.60" width="6.77" height="6.61" fill="#1a08f6"/>
<rect x="530.24" y="443.60" width="6.77" height="6.61" fill="#1a08f6"/>
<rect x="536.96" y="443.60" width="6.77" height="6.61" fill="#64ecf6"/>
<rect x="543.68" y="443.60" width="6.77" height="6.61" fill="#1a08f6"/>
<rect x="550.40" y="443.60" width="6.77" height="6.61" fill="#1a08f6"/>
<rect x="557.12" y="443.60" width="6.77" height="6.61" fill="#1a08f6"/>
<rect x="563.84" y="443.60" width="6.77" height="6.61" fill="#1a08f6"/>
<rect x="570.56" y="443.60" width="6.77" height="6.61" fill="#2a2cf4"/>
<rect x="577.28" y="443.60" width="6.77" height="6.61" fill="#1a08f6"/>
<rect x="584.00" y="443.60" width="6.77" height="6.61" fill="#1a08f6"/>
<rect x="590.72" y="443.60" width="6.77" height="6.61" fill="#3c64f4"/>
<rect x="597.44" y="443.60" width="6.77" height="6.61" fill="#1a08f6"/>
<rect x="604.16" y="443.60" width="6.77" height="6.61" fill="#1a08f6"/>
<rect x="610.88" y="443.60" width="6.77" height="6.61" fill="#1a08f6"/>
<rect x="617.60" y="443.60" width="6.77" height="6.61" fill="#1a08f6"/>
<rect x="624.32" y="443.60" width="6.77" height="6.61" fill="#1a08f6"/>
<rect x="631.04" y="443.60" width="6.77" height="6.61" fill="#1a08f6"/>
<rect x="637.76" y="443.60" width="6.77" height="6.61" fill="#1a08f6"/>
<rect x="644.48" y="443.60" width="6.77" height="6.61" fill="#1a08f6"/>
<rect x="449.60" y="450.16" width="6.77" height="6.61" fill="#1a08f6"/>
<rect x="456.32" y="450.16" width="6.77" height="6.61" fill="#f48a2e"/>
<rect x="463.04" y="450.16" width="6.77" height="6.61" fill="#c8f24e"/>
<rect x="469.76" y="450.16" width="6.77" height="6.61" fill="#1a08f6"/>
<rect x="476.48" y="450.16" width="6.77" height="6.61" fill="#1a08f6"/>
<rect x="483.20" y="450.16" width="6.77" height="6.61" fill="#1a08f6"/>
<rect x="489.92" y="450.16" width="6.77" height="6.61" fill="#1a08f6"/>
<rect x="496.64" y="450.16" width="6.77" height="6.61" fill="#1a08f6"/>
<rect x="503.36" y="450.16" width="6.77" height="6.61" fill="#1a08f6"/>
<rect x="510.08" y="450.16" width="6.77" height="6.61" fill="#1a08f6"/>
<rect x="516.80" y="450.16" width="6.77" height="6.61" fill="#1a08f6"/>
<rect x="523.52" y="450.16" width="6.77" height="6.61" fill="#1a08f6"/>
<rect x="530.24" y="450.16" width="6.77" height="6.61" fill="#1a08f6"/>
<rect x="536.96" y="450.16" width="6.77" height="6.61" fill="#1a08f6"/>
<rect x="543.68" y="450.16" width="6.77" height="6.61" fill="#1a08f6"/>
<rect x="550.40" y="450.16" width="6.77" height="6.61" fill="#1a08f6"/>
<rect x="557.12" y="450.16" width="6.77" height="6.61" fill="#1a08f6"/>
<rect x="563.84" y="450.16" width="6.77" height="6.61" fill="#1a08f6"/>
<rect x="570.56" y="450.16" width="6.77" height="6.61" fill="#1a08f6"/>
<rect x="577.28" y="450.16" width="6.77" height="6.61" fill="#1a08f6"/>
<rect x="584.00" y="450.16" width="6.77" height="6.61" fill="#1a08f6"/>
<rect x="590.72" y="450.16" width="6.77" height="6.61" fill="#1a08f6"/>
<rect x="597.44" y="450.16" width="6.77" height="6.61" fill="#1a08f6"/>
<rect x="604.16" y="450.16" width="6.77" height="6.61" fill="#1a08f6"/>
<rect x="610.88" y="450.16" width="6.77" height="6.61" fill="#1a08f6"/>
<rect x="617.60" y="450.16" width="6.77" height="6.61" fill="#1a08f6"/>
<rect x="624.32" y="450.16" width="6.77" height="6.61" fill="#1a08f6"/>
<rect x="631.04" y="450.16" width="6.77" height="6.61" fill="#1a08f6"/>
<rect x="637.76" y="450.16" width="6.77" height="6.61" fill="#1a08f6"/>
<rect x="644.48" y="450.16" width="6.77" height="6.61" fill="#1a08f6"/>
<rect x="449.60" y="456.72" width="6.77" height="6.61" fill="#1a08f6"/>
<rect x="456.32" y="456.72" width="6.77" height="6.61" fill="#1a08f6"/>
<rect x="463.04" y="456.72" width="6.77" height="6.61" fill="#1a08f6"/>
<rect x="469.76" y="456.72" width="6.77" height="6.61" fill="#1a08f6"/>
<rect x="476.48" y="456.72" width="6.77" height="6.61" fill="#1a08f6"/>
<rect x="483.20" y="456.72" width="6.77" height="6.61" fill="#1a08f6"/>
<rect x="489.92" y="456.72" width="6.77" height="6.61" fill="#1a08f6"/>
<rect x="496.64" y="456.72" width="6.77" height="6.61" fill="#1a08f6"/>
<rect x="503.36" y="456.72" width="6.77" height="6.61" fill="#1a08f6"/>
<rect x="510.08" y="456.72" width="6.77" height="6.61" fill="#1a08f6"/>
<rect x="516.80" y="456.72" width="6.77" height="6.61" fill="#1a08f6"/>
<rect x="523.52" y="456.72" width="6.77" height="6.61" fill="#1a08f6"/>
<rect x="530.24" y="456.72" width="6.77" height="6.61" fill="#1a08f6"/>
<rect x="536.96" y="456.72" width="6.77" height="6.61" fill="#1a08f6"/>
<rect x="543.68" y="456.72" width="6.77" height="6.61" fill="#1a08f6"/>
<rect x="550.40" y="456.72" width="6.77" height="6.61" fill="#1a08f6"/>
<rect x="557.12" y="456.72" width="6.77" height="6.61" fill="#1a08f6"/>
<rect x="563.84" y="456.72" width="6.77" height="6.61" fill="#1a08f6"/>
<rect x="570.56" y="456.72" width="6.77" height="6.61" fill="#1a08f6"/>
<rect x="577.28" y="456.72" width="6.77" height="6.61" fill="#1a08f6"/>
<rect x="584.00" y="456.72" width="6.77" height="6.61" fill="#3c64f4"/>
<rect x="590.72" y="456.72" width="6.77" height="6.61" fill="#1a08f6"/>
<rect x="597.44" y="456.72" width="6.77" height="6.61" fill="#1a08f6"/>
<rect x="604.16" y="456.72" width="6.77" height="6.61" fill="#1a08f6"/>
<rect x="610.88" y="456.72" width="6.77" height="6.61" fill="#1a08f6"/>
<rect x="617.60" y="456.72" width="6.77" height="6.61" fill="#1a08f6"/>
<rect x="624.32" y="456.72" width="6.77" height="6.61" fill="#1a08f6"/>
<rect x="631.04" y="456.72" width="6.77" height="6.61" fill="#1a08f6"/>
<rect x="637.76" y="456.72" width="6.77" height="6.61" fill="#1a08f6"/>
<rect x="644.48" y="456.72" width="6.77" height="6.61" fill="#1a08f6"/>
<rect x="449.60" y="463.28" width="6.77" height="6.61" fill="#1a08f6"/>
<rect x="456.32" y="463.28" width="6.77" height="6.61" fill="#1a08f6"/>
<rect x="463.04" y="463.28" width="6.77" height="6.61" fill="#1a08f6"/>
<rect x="469.76" y="463.28" width="6.77" height="6.61" fill="#1a08f6"/>
<rect x="476.48" y="463.28" width="6.77" height="6.61" fill="#1a08f6"/>
<rect x="483.20" y="463.28" width="6.77" height="6.61" fill="#1a08f6"/>
<rect x="489.92" y="463.28" width="6.77" height="6.61" fill="#1a08f6"/>
<rect x="496.64" y="463.28" width="6.77" height="6.61" fill="#1a08f6"/>
<rect x="503.36" y="463.28" width="6.77" height="6.61" fill="#1a08f6"/>
<rect x="510.08" y="463.28" width="6.77" height="6.61" fill="#1a08f6"/>
<rect x="516.80" y="463.28" width="6.77" height="6.61" fill="#1a08f6"/>
<rect x="523.52" y="463.28" width="6.77" height="6.61" fill="#1a08f6"/>
<rect x="530.24" y="463.28" width="6.77" height="6.61" fill="#1a08f6"/>
<rect x="536.96" y="463.28" width="6.77" height="6.61" fill="#1a08f6"/>
<rect x="543.68" y="463.28" width="6.77" height="6.61" fill="#1a08f6"/>
<rect x="550.40" y="463.28" width="6.77" height="6.61" fill="#1a08f6"/>
<rect x="557.12" y="463.28" width="6.77" height="6.61" fill="#1a08f6"/>
<rect x="563.84" y="463.28" width="6.77" height="6.61" fill="#1a08f6"/>
<rect x="570.56" y="463.28" width="6.77" height="6.61" fill="#1a08f6"/>
<rect x="577.28" y="463.28" width="6.77" height="6.61" fill="#1a08f6"/>
<rect x="584.00" y="463.28" width="6.77" height="6.61" fill="#1a08f6"/>
<rect x="590.72" y="463.28" width="6.77" height="6.61" fill="#1a08f6"/>
<rect x="597.44" y="463.28" width="6.77" height="6.61" fill="#1a08f6"/>
<rect x="604.16" y="463.28" width="6.77" height="6.61" fill="#1a08f6"/>
<rect x="610.88" y="463.28" width="6.77" height="6.61" fill="#1a08f6"/>
<rect x="617.60" y="463.28" width="6.77" height="6.61" fill="#1a08f6"/>
<rect x="624.32" y="463.28" width="6.77" height="6.61" fill="#1a08f6"/>
<rect x="631.04" y="463.28" width="6.77" height="6.61" fill="#1a08f6"/>
<rect x="637.76" y="463.28" width="6.77" height="6.61" fill="#1a08f6"/>
<rect x="644.48" y="463.28" width="6.77" height="6.61" fill="#1a08f6"/>
<rect x="449.60" y="469.84" width="6.77" height="6.61" fill="#1a08f6"/>
<rect x="456.32" y="469.84" width="6.77" height="6.61" fill="#1a08f6"/>
<rect x="463.04" y="469.84" width="6.77" height="6.61" fill="#1a08f6"/>
<rect x="469.76" y="469.84" width="6.77" height="6.61" fill="#1a08f6"/>
<rect x="476.48" y="469.84" width="6.77" height="6.61" fill="#2a2cf4"/>
<rect x="483.20" y="469.84" width="6.77" height="6.61" fill="#1a08f6"/>
<rect x="489.92" y="469.84" width="6.77" height="6.61" fill="#1a08f6"/>
<rect x="496.64" y="469.84" width="6.77" height="6.61" fill="#1a08f6"/>
<rect x="503.36" y="469.84" width="6.77" height="6.61" fill="#1a08f6"/>
<rect x="510.08" y="469.84" width="6.77" height="6.61" fill="#1a08f6"/>
<rect x="516.80" y="469.84" width="6.77" height="6.61" fill="#1a08f6"/>
<rect x="523.52" y="469.84" width="6.77" height="6.61" fill="#1a08f6"/>
<rect x="530.24" y="469.84" width="6.77" height="6.61" fill="#1a08f6"/>
<rect x="536.96" y="469.84" width="6.77" height="6.61" fill="#1a08f6"/>
<rect x="543.68" y="469.84" width="6.77" height="6.61" fill="#1a08f6"/>
<rect x="550.40" y="469.84" width="6.77" height="6.61" fill="#1a08f6"/>
<rect x="557.12" y="469.84" width="6.77" height="6.61" fill="#1a08f6"/>
<rect x="563.84" y="469.84" width="6.77" height="6.61" fill="#1a08f6"/>
<rect x="570.56" y="469.84" width="6.77" height="6.61" fill="#1a08f6"/>
<rect x="577.28" y="469.84" width="6.77" height="6.61" fill="#1a08f6"/>
<rect x="584.00" y="469.84" width="6.77" height="6.61" fill="#1a08f6"/>
<rect x="590.72" y="469.84" width="6.77" height="6.61" fill="#1a08f6"/>
<rect x="597.44" y="469.84" width="6.77" height="6.61" fill="#1a08f6"/>
<rect x="604.16" y="469.84" width="6.77" height="6.61" fill="#1a08f6"/>
<rect x="610.88" y="469.84" width="6.77" height="6.61" fill="#1a08f6"/>
<rect x="617.60" y="469.84" width="6.77" height="6.61" fill="#1a08f6"/>
<rect x="624.32" y="469.84" width="6.77" height="6.61" fill="#1a08f6"/>
<rect x="631.04" y="469.84" width="6.77" height="6.61" fill="#1a08f6"/>
<rect x="637.76" y="469.84" width="6.77" height="6.61" fill="#1a08f6"/>
<rect x="644.48" y="469.84" width="6.77" height="6.61" fill="#1a08f6"/>
<rect x="449.60" y="476.40" width="6.77" height="6.61" fill="#1a08f6"/>
<rect x="456.32" y="476.40" width="6.77" height="6.61" fill="#1a08f6"/>
<rect x="463.04" y="476.40" width="6.77" height="6.61" fill="#1a08f6"/>
<rect x="469.76" y="476.40" width="6.77" height="6.61" fill="#1a08f6"/>
<rect x="476.48" y="476.40" width="6.77" height="6.61" fill="#1a08f6"/>
<rect x="483.20" y="476.40" width="6.77" height="6.61" fill="#1a08f6"/>
<rect x="489.92" y="476.40" width="6.77" height="6.61" fill="#1a08f6"/>
<rect x="496.64" y="476.40" width="6.77" height="6.61" fill="#1a08f6"/>
<rect x="503.36" y="476.40" width="6.77" height="6.61" fill="#1a08f6"/>
<rect x="510.08" y="476.40" width="6.77" height="6.61" fill="#1a08f6"/>
<rect x="516.80" y="476.40" width="6.77" height="6.61" fill="#1a08f6"/>
<rect x="523.52" y="476.40" width="6.77" height="6.61" fill="#1a08f6"/>
<rect x="530.24" y="476.40" width="6.77" height="6.61" fill="#1a08f6"/>
<rect x="536.96" y="476.40" width="6.77" height="6.61" fill="#1a08f6"/>
<rect x="543.68" y="476.40" width="6.77" height="6.61" fill="#1a08f6"/>
<rect x="550.40" y="476.40" width="6.77" height="6.61" fill="#1a08f6"/>
<rect x="557.12" y="476.40" width="6.77" height="6.61" fill="#1a08f6"/>
<rect x="563.84" y="476.40" width="6.77" height="6.61" fill="#1a08f6"/>
<rect x="570.56" y="476.40" width="6.77" height="6.61" fill="#3c64f4"/>
<rect x="577.28" y="476.40" width="6.77" height="6.61" fill="#1a08f6"/>
<rect x="584.00" y="476.40" width="6.77" height="6.61" fill="#1a08f6"/>
<rect x="590.72" y="476.40" width="6.77" height="6.61" fill="#1a08f6"/>
<rect x="597.44" y="476.40" width="6.77" height="6.61" fill="#1a08f6"/>
<rect x="604.16" y="476.40" width="6.77" height="6.61" fill="#1a08f6"/>
<rect x="610.88" y="476.40" width="6.77" height="6.61" fill="#1a08f6"/>
<rect x="617.60" y="476.40" width="6.77" height="6.61" fill="#1a08f6"/>
<rect x="624.32" y="476.40" width="6.77" height="6.61" fill="#1a08f6"/>
<rect x="631.04" y="476.40" width="6.77" height="6.61" fill="#1a08f6"/>
<rect x="637.76" y="476.40" width="6.77" height="6.61" fill="#1a08f6"/>
<rect x="644.48" y="476.40" width="6.77" height="6.61" fill="#1a08f6"/>
<rect x="449.60" y="482.96" width="6.77" height="6.61" fill="#1a08f6"/>
<rect x="456.32" y="482.96" width="6.77" height="6.61" fill="#1a08f6"/>
<rect x="463.04" y="482.96" width="6.77" height="6.61" fill="#1a08f6"/>
<rect x="469.76" y="482.96" width="6.77" height="6.61" fill="#1a08f6"/>
<rect x="476.48" y="482.96" width="6.77" height="6.61" fill="#1a08f6"/>
<rect x="483.20" y="482.96" width="6.77" height="6.61" fill="#1a08f6"/>
<rect x="489.92" y="482.96" width="6.77" height="6.61" fill="#1a08f6"/>
<rect x="496.64" y="482.96" width="6.77" height="6.61" fill="#1a08f6"/>
<rect x="503.36" y="482.96" width="6.77" height="6.61" fill="#1a08f6"/>
<rect x="510.08" y="482.96" width="6.77" height="6.61" fill="#1a08f6"/>
<rect x="516.80" y="482.96" width="6.77" height="6.61" fill="#1a08f6"/>
<rect x="523.52" y="482.96" width="6.77" height="6.61" fill="#1a08f6"/>
<rect x="530.24" y="482.96" width="6.77" height="6.61" fill="#1a08f6"/>
<rect x="536.96" y="482.96" width="6.77" height="6.61" fill="#1a08f6"/>
<rect x="543.68" y="482.96" width="6.77" height="6.61" fill="#1a08f6"/>
<rect x="550.40" y="482.96" width="6.77" height="6.61" fill="#1a08f6"/>
<rect x="557.12" y="482.96" width="6.77" height="6.61" fill="#1a08f6"/>
<rect x="563.84" y="482.96" width="6.77" height="6.61" fill="#1a08f6"/>
<rect x="570.56" y="482.96" width="6.77" height="6.61" fill="#1a08f6"/>
<rect x="577.28" y="482.96" width="6.77" height="6.61" fill="#1a08f6"/>
<rect x="584.00" y="482.96" width="6.77" height="6.61" fill="#1a08f6"/>
<rect x="590.72" y="482.96" width="6.77" height="6.61" fill="#1a08f6"/>
<rect x="597.44" y="482.96" width="6.77" height="6.61" fill="#1a08f6"/>
<rect x="604.16" y="482.96" width="6.77" height="6.61" fill="#1a08f6"/>
<rect x="610.88" y="482.96" width="6.77" height="6.61" fill="#1a08f6"/>
<rect x="617.60" y="482.96" width="6.77" height="6.61" fill="#1a08f6"/>
<rect x="624.32" y="482.96" width="6.77" height="6.61" fill="#1a08f6"/>
<rect x="631.04" y="482.96" width="6.77" height="6.61" fill="#1a08f6"/>
<rect x="637.76" y="482.96" width="6.77" height="6.61" fill="#1a08f6"/>
<rect x="644.48" y="482.96" width="6.77" height="6.61" fill="#1a08f6"/>
<rect x="449.60" y="489.52" width="6.77" height="6.61" fill="#1a08f6"/>
<rect x="456.32" y="489.52" width="6.77" height="6.61" fill="#1a08f6"/>
<rect x="463.04" y="489.52" width="6.77" height="6.61" fill="#1a08f6"/>
<rect x="469.76" y="489.52" width="6.77" height="6.61" fill="#1a08f6"/>
<rect x="476.48" y="489.52" width="6.77" height="6.61" fill="#1a08f6"/>
<rect x="483.20" y="489.52" width="6.77" height="6.61" fill="#1a08f6"/>
<rect x="489.92" y="489.52" width="6.77" height="6.61" fill="#1a08f6"/>
<rect x="496.64" y="489.52" width="6.77" height="6.61" fill="#1a08f6"/>
<rect x="503.36" y="489.52" width="6.77" height="6.61" fill="#1a08f6"/>
<rect x="510.08" y="489.52" width="6.77" height="6.61" fill="#1a08f6"/>
<rect x="516.80" y="489.52" width="6.77" height="6.61" fill="#1a08f6"/>
<rect x="523.52" y="489.52" width="6.77" height="6.61" fill="#1a08f6"/>
<rect x="530.24" y="489.52" width="6.77" height="6.61" fill="#1a08f6"/>
<rect x="536.96" y="489.52" width="6.77" height="6.61" fill="#1a08f6"/>
<rect x="543.68" y="489.52" width="6.77" height="6.61" fill="#1a08f6"/>
<rect x="550.40" y="489.52" width="6.77" height="6.61" fill="#1a08f6"/>
<rect x="557.12" y="489.52" width="6.77" height="6.61" fill="#1a08f6"/>
<rect x="563.84" y="489.52" width="6.77" height="6.61" fill="#1a08f6"/>
<rect x="570.56" y="489.52" width="6.77" height="6.61" fill="#1a08f6"/>
<rect x="577.28" y="489.52" width="6.77" height="6.61" fill="#1a08f6"/>
<rect x="584.00" y="489.52" width="6.77" height="6.61" fill="#1a08f6"/>
<rect x="590.72" y="489.52" width="6.77" height="6.61" fill="#1a08f6"/>
<rect x="597.44" y="489.52" width="6.77" height="6.61" fill="#1a08f6"/>
<rect x="604.16" y="489.52" width="6.77" height="6.61" fill="#1a08f6"/>
<rect x="610.88" y="489.52" width="6.77" height="6.61" fill="#1a08f6"/>
<rect x="617.60" y="489.52" width="6.77" height="6.61" fill="#1a08f6"/>
<rect x="624.32" y="489.52" width="6.77" height="6.61" fill="#1a08f6"/>
<rect x="631.04" y="489.52" width="6.77" height="6.61" fill="#1a08f6"/>
<rect x="637.76" y="489.52" width="6.77" height="6.61" fill="#1a08f6"/>
<rect x="644.48" y="489.52" width="6.77" height="6.61" fill="#1a08f6"/>
<rect x="449.60" y="496.08" width="6.77" height="6.61" fill="#1a08f6"/>
<rect x="456.32" y="496.08" width="6.77" height="6.61" fill="#1a08f6"/>
<rect x="463.04" y="496.08" width="6.77" height="6.61" fill="#1a08f6"/>
<rect x="469.76" y="496.08" width="6.77" height="6.61" fill="#1a08f6"/>
<rect x="476.48" y="496.08" width="6.77" height="6.61" fill="#1a08f6"/>
<rect x="483.20" y="496.08" width="6.77" height="6.61" fill="#1a08f6"/>
<rect x="489.92" y="496.08" width="6.77" height="6.61" fill="#1a08f6"/>
<rect x="496.64" y="496.08" width="6.77" height="6.61" fill="#1a08f6"/>
<rect x="503.36" y="496.08" width="6.77" height="6.61" fill="#1a08f6"/>
<rect x="510.08" y="496.08" width="6.77" height="6.61" fill="#1a08f6"/>
<rect x="516.80" y="496.08" width="6.77" height="6.61" fill="#1a08f6"/>
<rect x="523.52" y="496.08" width="6.77" height="6.61" fill="#3c64f4"/>
<rect x="530.24" y="496.08" width="6.77" height="6.61" fill="#1a08f6"/>
<rect x="536.96" y="496.08" width="6.77" height="6.61" fill="#1a08f6"/>
<rect x="543.68" y="496.08" width="6.77" height="6.61" fill="#1a08f6"/>
<rect x="550.40" y="496.08" width="6.77" height="6.61" fill="#1a08f6"/>
<rect x="557.12" y="496.08" width="6.77" height="6.61" fill="#1a08f6"/>
<rect x="563.84" y="496.08" width="6.77" height="6.61" fill="#1a08f6"/>
<rect x="570.56" y="496.08" width="6.77" height="6.61" fill="#1a08f6"/>
<rect x="577.28" y="496.08" width="6.77" height="6.61" fill="#1a08f6"/>
<rect x="584.00" y="496.08" width="6.77" height="6.61" fill="#1a08f6"/>
<rect x="590.72" y="496.08" width="6.77" height="6.61" fill="#1a08f6"/>
<rect x="597.44" y="496.08" width="6.77" height="6.61" fill="#1a08f6"/>
<rect x="604.16" y="496.08" width="6.77" height="6.61" fill="#1a08f6"/>
<rect x="610.88" y="496.08" width="6.77" height="6.61" fill="#1a08f6"/>
<rect x="617.60" y="496.08" width="6.77" height="6.61" fill="#1a08f6"/>
<rect x="624.32" y="496.08" width="6.77" height="6.61" fill="#1a08f6"/>
<rect x="631.04" y="496.08" width="6.77" height="6.61" fill="#1a08f6"/>
<rect x="637.76" y="496.08" width="6.77" height="6.61" fill="#1a08f6"/>
<rect x="644.48" y="496.08" width="6.77" height="6.61" fill="#1a08f6"/>
<rect x="449.60" y="502.64" width="6.77" height="6.61" fill="#1a08f6"/>
<rect x="456.32" y="502.64" width="6.77" height="6.61" fill="#1a08f6"/>
<rect x="463.04" y="502.64" width="6.77" height="6.61" fill="#1a08f6"/>
<rect x="469.76" y="502.64" width="6.77" height="6.61" fill="#1a08f6"/>
<rect x="476.48" y="502.64" width="6.77" height="6.61" fill="#1a08f6"/>
<rect x="483.20" y="502.64" width="6.77" height="6.61" fill="#1a08f6"/>
<rect x="489.92" y="502.64" width="6.77" height="6.61" fill="#1a08f6"/>
<rect x="496.64" y="502.64" width="6.77" height="6.61" fill="#1a08f6"/>
<rect x="503.36" y="502.64" width="6.77" height="6.61" fill="#1a08f6"/>
<rect x="510.08" y="502.64" width="6.77" height="6.61" fill="#1a08f6"/>
<rect x="516.80" y="502.64" width="6.77" height="6.61" fill="#1a08f6"/>
<rect x="523.52" y="502.64" width="6.77" height="6.61" fill="#1a08f6"/>
<rect x="530.24" y="502.64" width="6.77" height="6.61" fill="#1a08f6"/>
<rect x="536.96" y="502.64" width="6.77" height="6.61" fill="#1a08f6"/>
<rect x="543.68" y="502.64" width="6.77" height="6.61" fill="#1a08f6"/>
<rect x="550.40" y="502.64" width="6.77" height="6.61" fill="#1a08f6"/>
<rect x="557.12" y="502.64" width="6.77" height="6.61" fill="#1a08f6"/>
<rect x="563.84" y="502.64" width="6.77" height="6.61" fill="#1a08f6"/>
<rect x="570.56" y="502.64" width="6.77" height="6.61" fill="#1a08f6"/>
<rect x="577.28" y="502.64" width="6.77" height="6.61" fill="#1a08f6"/>
<rect x="584.00" y="502.64" width="6.77" height="6.61" fill="#1a08f6"/>
<rect x="590.72" y="502.64" width="6.77" height="6.61" fill="#1a08f6"/>
<rect x="597.44" y="502.64" width="6.77" height="6.61" fill="#1a08f6"/>
<rect x="604.16" y="502.64" width="6.77" height="6.61" fill="#1a08f6"/>
<rect x="610.88" y="502.64" width="6.77" height="6.61" fill="#1a08f6"/>
<rect x="617.60" y="502.64" width="6.77" height="6.61" fill="#1a08f6"/>
<rect x="624.32" y="502.64" width="6.77" height="6.61" fill="#1a08f6"/>
<rect x="631.04" y="502.64" width="6.77" height="6.61" fill="#1a08f6"/>
<rect x="637.76" y="502.64" width="6.77" height="6.61" fill="#1a08f6"/>
<rect x="644.48" y="502.64" width="6.77" height="6.61" fill="#1a08f6"/>
<rect x="449.60" y="509.20" width="6.77" height="6.61" fill="#1a08f6"/>
<rect x="456.32" y="509.20" width="6.77" height="6.61" fill="#1a08f6"/>
<rect x="463.04" y="509.20" width="6.77" height="6.61" fill="#1a08f6"/>
<rect x="469.76" y="509.20" width="6.77" height="6.61" fill="#1a08f6"/>
<rect x="476.48" y="509.20" width="6.77" height="6.61" fill="#1a08f6"/>
<rect x="483.20" y="509.20" width="6.77" height="6.61" fill="#1a08f6"/>
<rect x="489.92" y="509.20" width="6.77" height="6.61" fill="#1a08f6"/>
<rect x="496.64" y="509.20" width="6.77" height="6.61" fill="#1a08f6"/>
<rect x="503.36" y="509.20" width="6.77" height="6.61" fill="#1a08f6"/>
<rect x="510.08" y="509.20" width="6.77" height="6.61" fill="#1a08f6"/>
<rect x="516.80" y="509.20" width="6.77" height="6.61" fill="#1a08f6"/>
<rect x="523.52" y="509.20" width="6.77" height="6.61" fill="#1a08f6"/>
<rect x="530.24" y="509.20" width="6.77" height="6.61" fill="#1a08f6"/>
<rect x="536.96" y="509.20" width="6.77" height="6.61" fill="#1a08f6"/>
<rect x="543.68" y="509.20" width="6.77" height="6.61" fill="#1a08f6"/>
<rect x="550.40" y="509.20" width="6.77" height="6.61" fill="#1a08f6"/>
<rect x="557.12" y="509.20" width="6.77" height="6.61" fill="#1a08f6"/>
<rect x="563.84" y="509.20" width="6.77" height="6.61" fill="#1a08f6"/>
<rect x="570.56" y="509.20" width="6.77" height="6.61" fill="#1a08f6"/>
<rect x="577.28" y="509.20" width="6.77" height="6.61" fill="#1a08f6"/>
<rect x="584.00" y="509.20" width="6.77" height="6.61" fill="#1a08f6"/>
<rect x="590.72" y="509.20" width="6.77" height="6.61" fill="#1a08f6"/>
<rect x="597.44" y="509.20" width="6.77" height="6.61" fill="#1a08f6"/>
<rect x="604.16" y="509.20" width="6.77" height="6.61" fill="#1a08f6"/>
<rect x="610.88" y="509.20" width="6.77" height="6.61" fill="#1a08f6"/>
<rect x="617.60" y="509.20" width="6.77" height="6.61" fill="#1a08f6"/>
<rect x="624.32" y="509.20" width="6.77" height="6.61" fill="#1a08f6"/>
<rect x="631.04" y="509.20" width="6.77" height="6.61" fill="#1a08f6"/>
<rect x="637.76" y="509.20" width="6.77" height="6.61" fill="#1a08f6"/>
<rect x="644.48" y="509.20" width="6.77" height="6.61" fill="#1a08f6"/>
<rect x="449.60" y="515.76" width="6.77" height="6.61" fill="#1a08f6"/>
<rect x="456.32" y="515.76" width="6.77" height="6.61" fill="#f8301a"/>
<rect x="463.04" y="515.76" width="6.77" height="6.61" fill="#f8301a"/>
<rect x="469.76" y="515.76" width="6.77" height="6.61" fill="#f8301a"/>
<rect x="476.48" y="515.76" width="6.77" height="6.61" fill="#f4601e"/>
<rect x="483.20" y="515.76" width="6.77" height="6.61" fill="#f48a2e"/>
<rect x="489.92" y="515.76" width="6.77" height="6.61" fill="#1a08f6"/>
<rect x="496.64" y="515.76" width="6.77" height="6.61" fill="#1a08f6"/>
<rect x="503.36" y="515.76" width="6.77" height="6.61" fill="#1a08f6"/>
<rect x="510.08" y="515.76" width="6.77" height="6.61" fill="#1a08f6"/>
<rect x="516.80" y="515.76" width="6.77" height="6.61" fill="#1a08f6"/>
<rect x="523.52" y="515.76" width="6.77" height="6.61" fill="#1a08f6"/>
<rect x="530.24" y="515.76" width="6.77" height="6.61" fill="#1a08f6"/>
<rect x="536.96" y="515.76" width="6.77" height="6.61" fill="#1a08f6"/>
<rect x="543.68" y="515.76" width="6.77" height="6.61" fill="#1a08f6"/>
<rect x="550.40" y="515.76" width="6.77" height="6.61" fill="#1a08f6"/>
<rect x="557.12" y="515.76" width="6.77" height="6.61" fill="#1a08f6"/>
<rect x="563.84" y="515.76" width="6.77" height="6.61" fill="#1a08f6"/>
<rect x="570.56" y="515.76" width="6.77" height="6.61" fill="#1a08f6"/>
<rect x="577.28" y="515.76" width="6.77" height="6.61" fill="#1a08f6"/>
<rect x="584.00" y="515.76" width="6.77" height="6.61" fill="#1a08f6"/>
<rect x="590.72" y="515.76" width="6.77" height="6.61" fill="#1a08f6"/>
<rect x="597.44" y="515.76" width="6.77" height="6.61" fill="#1a08f6"/>
<rect x="604.16" y="515.76" width="6.77" height="6.61" fill="#1a08f6"/>
<rect x="610.88" y="515.76" width="6.77" height="6.61" fill="#1a08f6"/>
<rect x="617.60" y="515.76" width="6.77" height="6.61" fill="#1a08f6"/>
<rect x="624.32" y="515.76" width="6.77" height="6.61" fill="#1a08f6"/>
<rect x="631.04" y="515.76" width="6.77" height="6.61" fill="#1a08f6"/>
<rect x="637.76" y="515.76" width="6.77" height="6.61" fill="#1a08f6"/>
<rect x="644.48" y="515.76" width="6.77" height="6.61" fill="#1a08f6"/>
<rect x="449.60" y="522.32" width="6.77" height="6.61" fill="#eeee3c"/>
<rect x="456.32" y="522.32" width="6.77" height="6.61" fill="#f8301a"/>
<rect x="463.04" y="522.32" width="6.77" height="6.61" fill="#f8301a"/>
<rect x="469.76" y="522.32" width="6.77" height="6.61" fill="#f8301a"/>
<rect x="476.48" y="522.32" width="6.77" height="6.61" fill="#f8301a"/>
<rect x="483.20" y="522.32" width="6.77" height="6.61" fill="#f8301a"/>
<rect x="489.92" y="522.32" width="6.77" height="6.61" fill="#dc2a1a"/>
<rect x="496.64" y="522.32" width="6.77" height="6.61" fill="#eeee3c"/>
<rect x="503.36" y="522.32" width="6.77" height="6.61" fill="#1a08f6"/>
<rect x="510.08" y="522.32" width="6.77" height="6.61" fill="#1a08f6"/>
<rect x="516.80" y="522.32" width="6.77" height="6.61" fill="#1a08f6"/>
<rect x="523.52" y="522.32" width="6.77" height="6.61" fill="#1a08f6"/>
<rect x="530.24" y="522.32" width="6.77" height="6.61" fill="#1a08f6"/>
<rect x="536.96" y="522.32" width="6.77" height="6.61" fill="#1a08f6"/>
<rect x="543.68" y="522.32" width="6.77" height="6.61" fill="#1a08f6"/>
<rect x="550.40" y="522.32" width="6.77" height="6.61" fill="#1a08f6"/>
<rect x="557.12" y="522.32" width="6.77" height="6.61" fill="#1a08f6"/>
<rect x="563.84" y="522.32" width="6.77" height="6.61" fill="#1a08f6"/>
<rect x="570.56" y="522.32" width="6.77" height="6.61" fill="#1a08f6"/>
<rect x="577.28" y="522.32" width="6.77" height="6.61" fill="#1a08f6"/>
<rect x="584.00" y="522.32" width="6.77" height="6.61" fill="#1a08f6"/>
<rect x="590.72" y="522.32" width="6.77" height="6.61" fill="#1a08f6"/>
<rect x="597.44" y="522.32" width="6.77" height="6.61" fill="#1a08f6"/>
<rect x="604.16" y="522.32" width="6.77" height="6.61" fill="#1a08f6"/>
<rect x="610.88" y="522.32" width="6.77" height="6.61" fill="#1a08f6"/>
<rect x="617.60" y="522.32" width="6.77" height="6.61" fill="#1a08f6"/>
<rect x="624.32" y="522.32" width="6.77" height="6.61" fill="#3c64f4"/>
<rect x="631.04" y="522.32" width="6.77" height="6.61" fill="#1a08f6"/>
<rect x="637.76" y="522.32" width="6.77" height="6.61" fill="#1a08f6"/>
<rect x="644.48" y="522.32" width="6.77" height="6.61" fill="#1a08f6"/>
<rect x="449.60" y="528.88" width="6.77" height="6.61" fill="#a81c12"/>
<rect x="456.32" y="528.88" width="6.77" height="6.61" fill="#f8301a"/>
<rect x="463.04" y="528.88" width="6.77" height="6.61" fill="#f8301a"/>
<rect x="469.76" y="528.88" width="6.77" height="6.61" fill="#f8301a"/>
<rect x="476.48" y="528.88" width="6.77" height="6.61" fill="#f8301a"/>
<rect x="483.20" y="528.88" width="6.77" height="6.61" fill="#f8301a"/>
<rect x="489.92" y="528.88" width="6.77" height="6.61" fill="#a81c12"/>
<rect x="496.64" y="528.88" width="6.77" height="6.61" fill="#dc2a1a"/>
<rect x="503.36" y="528.88" width="6.77" height="6.61" fill="#1a08f6"/>
<rect x="510.08" y="528.88" width="6.77" height="6.61" fill="#1a08f6"/>
<rect x="516.80" y="528.88" width="6.77" height="6.61" fill="#1a08f6"/>
<rect x="523.52" y="528.88" width="6.77" height="6.61" fill="#1a08f6"/>
<rect x="530.24" y="528.88" width="6.77" height="6.61" fill="#1a08f6"/>
<rect x="536.96" y="528.88" width="6.77" height="6.61" fill="#1a08f6"/>
<rect x="543.68" y="528.88" width="6.77" height="6.61" fill="#1a08f6"/>
<rect x="550.40" y="528.88" width="6.77" height="6.61" fill="#1a08f6"/>
<rect x="557.12" y="528.88" width="6.77" height="6.61" fill="#1a08f6"/>
<rect x="563.84" y="528.88" width="6.77" height="6.61" fill="#1a08f6"/>
<rect x="570.56" y="528.88" width="6.77" height="6.61" fill="#3c64f4"/>
<rect x="577.28" y="528.88" width="6.77" height="6.61" fill="#3c64f4"/>
<rect x="584.00" y="528.88" width="6.77" height="6.61" fill="#50b4f4"/>
<rect x="590.72" y="528.88" width="6.77" height="6.61" fill="#50b4f4"/>
<rect x="597.44" y="528.88" width="6.77" height="6.61" fill="#3c64f4"/>
<rect x="604.16" y="528.88" width="6.77" height="6.61" fill="#2a2cf4"/>
<rect x="610.88" y="528.88" width="6.77" height="6.61" fill="#1a08f6"/>
<rect x="617.60" y="528.88" width="6.77" height="6.61" fill="#2a2cf4"/>
<rect x="624.32" y="528.88" width="6.77" height="6.61" fill="#1a08f6"/>
<rect x="631.04" y="528.88" width="6.77" height="6.61" fill="#2a2cf4"/>
<rect x="637.76" y="528.88" width="6.77" height="6.61" fill="#1a08f6"/>
<rect x="644.48" y="528.88" width="6.77" height="6.61" fill="#1a08f6"/>
<rect x="449.60" y="535.44" width="6.77" height="6.61" fill="#dc2a1a"/>
<rect x="456.32" y="535.44" width="6.77" height="6.61" fill="#f8301a"/>
<rect x="463.04" y="535.44" width="6.77" height="6.61" fill="#f8301a"/>
<rect x="469.76" y="535.44" width="6.77" height="6.61" fill="#f8301a"/>
<rect x="476.48" y="535.44" width="6.77" height="6.61" fill="#f8301a"/>
<rect x="483.20" y="535.44" width="6.77" height="6.61" fill="#f8301a"/>
<rect x="489.92" y="535.44" width="6.77" height="6.61" fill="#dc2a1a"/>
<rect x="496.64" y="535.44" width="6.77" height="6.61" fill="#dc2a1a"/>
<rect x="503.36" y="535.44" width="6.77" height="6.61" fill="#1a08f6"/>
<rect x="510.08" y="535.44" width="6.77" height="6.61" fill="#1a08f6"/>
<rect x="516.80" y="535.44" width="6.77" height="6.61" fill="#1a08f6"/>
<rect x="523.52" y="535.44" width="6.77" height="6.61" fill="#1a08f6"/>
<rect x="530.24" y="535.44" width="6.77" height="6.61" fill="#1a08f6"/>
<rect x="536.96" y="535.44" width="6.77" height="6.61" fill="#1a08f6"/>
<rect x="543.68" y="535.44" width="6.77" height="6.61" fill="#1a08f6"/>
<rect x="550.40" y="535.44" width="6.77" height="6.61" fill="#f8301a"/>
<rect x="557.12" y="535.44" width="6.77" height="6.61" fill="#dc2a1a"/>
<rect x="563.84" y="535.44" width="6.77" height="6.61" fill="#dc2a1a"/>
<rect x="570.56" y="535.44" width="6.77" height="6.61" fill="#1a08f6"/>
<rect x="577.28" y="535.44" width="6.77" height="6.61" fill="#1a08f6"/>
<rect x="584.00" y="535.44" width="6.77" height="6.61" fill="#1a08f6"/>
<rect x="590.72" y="535.44" width="6.77" height="6.61" fill="#1a08f6"/>
<rect x="597.44" y="535.44" width="6.77" height="6.61" fill="#1a08f6"/>
<rect x="604.16" y="535.44" width="6.77" height="6.61" fill="#1a08f6"/>
<rect x="610.88" y="535.44" width="6.77" height="6.61" fill="#3c64f4"/>
<rect x="617.60" y="535.44" width="6.77" height="6.61" fill="#1a08f6"/>
<rect x="624.32" y="535.44" width="6.77" height="6.61" fill="#1a08f6"/>
<rect x="631.04" y="535.44" width="6.77" height="6.61" fill="#1a08f6"/>
<rect x="637.76" y="535.44" width="6.77" height="6.61" fill="#1a08f6"/>
<rect x="644.48" y="535.44" width="6.77" height="6.61" fill="#1a08f6"/>
<rect x="449.60" y="542.00" width="6.77" height="6.61" fill="#dc2a1a"/>
<rect x="456.32" y="542.00" width="6.77" height="6.61" fill="#f8301a"/>
<rect x="463.04" y="542.00" width="6.77" height="6.61" fill="#f8301a"/>
<rect x="469.76" y="542.00" width="6.77" height="6.61" fill="#f8301a"/>
<rect x="476.48" y="542.00" width="6.77" height="6.61" fill="#f8301a"/>
<rect x="483.20" y="542.00" width="6.77" height="6.61" fill="#f8301a"/>
<rect x="489.92" y="542.00" width="6.77" height="6.61" fill="#f8301a"/>
<rect x="496.64" y="542.00" width="6.77" height="6.61" fill="#dc2a1a"/>
<rect x="503.36" y="542.00" width="6.77" height="6.61" fill="#64ecf6"/>
<rect x="510.08" y="542.00" width="6.77" height="6.61" fill="#1a08f6"/>
<rect x="516.80" y="542.00" width="6.77" height="6.61" fill="#2a2cf4"/>
<rect x="523.52" y="542.00" width="6.77" height="6.61" fill="#2a2cf4"/>
<rect x="530.24" y="542.00" width="6.77" height="6.61" fill="#1a08f6"/>
<rect x="536.96" y="542.00" width="6.77" height="6.61" fill="#1a08f6"/>
<rect x="543.68" y="542.00" width="6.77" height="6.61" fill="#f8301a"/>
<rect x="550.40" y="542.00" width="6.77" height="6.61" fill="#f8301a"/>
<rect x="557.12" y="542.00" width="6.77" height="6.61" fill="#f8301a"/>
<rect x="563.84" y="542.00" width="6.77" height="6.61" fill="#a81c12"/>
<rect x="570.56" y="542.00" width="6.77" height="6.61" fill="#f0a02c"/>
<rect x="577.28" y="542.00" width="6.77" height="6.61" fill="#1a08f6"/>
<rect x="584.00" y="542.00" width="6.77" height="6.61" fill="#1a08f6"/>
<rect x="590.72" y="542.00" width="6.77" height="6.61" fill="#1a08f6"/>
<rect x="597.44" y="542.00" width="6.77" height="6.61" fill="#1a08f6"/>
<rect x="604.16" y="542.00" width="6.77" height="6.61" fill="#1a08f6"/>
<rect x="610.88" y="542.00" width="6.77" height="6.61" fill="#1a08f6"/>
<rect x="617.60" y="542.00" width="6.77" height="6.61" fill="#1a08f6"/>
<rect x="624.32" y="542.00" width="6.77" height="6.61" fill="#1a08f6"/>
<rect x="631.04" y="542.00" width="6.77" height="6.61" fill="#1a08f6"/>
<rect x="637.76" y="542.00" width="6.77" height="6.61" fill="#1a08f6"/>
<rect x="644.48" y="542.00" width="6.77" height="6.61" fill="#1a08f6"/>
<rect x="449.60" y="548.56" width="6.77" height="6.61" fill="#f8301a"/>
<rect x="456.32" y="548.56" width="6.77" height="6.61" fill="#f8301a"/>
<rect x="463.04" y="548.56" width="6.77" height="6.61" fill="#dc2a1a"/>
<rect x="469.76" y="548.56" width="6.77" height="6.61" fill="#f8301a"/>
<rect x="476.48" y="548.56" width="6.77" height="6.61" fill="#dc2a1a"/>
<rect x="483.20" y="548.56" width="6.77" height="6.61" fill="#f8301a"/>
<rect x="489.92" y="548.56" width="6.77" height="6.61" fill="#f8301a"/>
<rect x="496.64" y="548.56" width="6.77" height="6.61" fill="#f8301a"/>
<rect x="503.36" y="548.56" width="6.77" height="6.61" fill="#f8301a"/>
<rect x="510.08" y="548.56" width="6.77" height="6.61" fill="#1a08f6"/>
<rect x="516.80" y="548.56" width="6.77" height="6.61" fill="#2a2cf4"/>
<rect x="523.52" y="548.56" width="6.77" height="6.61" fill="#1a08f6"/>
<rect x="530.24" y="548.56" width="6.77" height="6.61" fill="#2a2cf4"/>
<rect x="536.96" y="548.56" width="6.77" height="6.61" fill="#f8301a"/>
<rect x="543.68" y="548.56" width="6.77" height="6.61" fill="#dc2a1a"/>
<rect x="550.40" y="548.56" width="6.77" height="6.61" fill="#f8301a"/>
<rect x="557.12" y="548.56" width="6.77" height="6.61" fill="#dc2a1a"/>
<rect x="563.84" y="548.56" width="6.77" height="6.61" fill="#dc2a1a"/>
<rect x="570.56" y="548.56" width="6.77" height="6.61" fill="#f4601e"/>
<rect x="577.28" y="548.56" width="6.77" height="6.61" fill="#1a08f6"/>
<rect x="584.00" y="548.56" width="6.77" height="6.61" fill="#1a08f6"/>
<rect x="590.72" y="548.56" width="6.77" height="6.61" fill="#1a08f6"/>
<rect x="597.44" y="548.56" width="6.77" height="6.61" fill="#1a08f6"/>
<rect x="604.16" y="548.56" width="6.77" height="6.61" fill="#1a08f6"/>
<rect x="610.88" y="548.56" width="6.77" height="6.61" fill="#1a08f6"/>
<rect x="617.60" y="548.56" width="6.77" height="6.61" fill="#1a08f6"/>
<rect x="624.32" y="548.56" width="6.77" height="6.61" fill="#1a08f6"/>
<rect x="631.04" y="548.56" width="6.77" height="6.61" fill="#1a08f6"/>
<rect x="637.76" y="548.56" width="6.77" height="6.61" fill="#1a08f6"/>
<rect x="644.48" y="548.56" width="6.77" height="6.61" fill="#1a08f6"/>
<rect x="449.60" y="555.12" width="6.77" height="6.61" fill="#f4601e"/>
<rect x="456.32" y="555.12" width="6.77" height="6.61" fill="#f8301a"/>
<rect x="463.04" y="555.12" width="6.77" height="6.61" fill="#f8301a"/>
<rect x="469.76" y="555.12" width="6.77" height="6.61" fill="#f8301a"/>
<rect x="476.48" y="555.12" width="6.77" height="6.61" fill="#dc2a1a"/>
<rect x="483.20" y="555.12" width="6.77" height="6.61" fill="#f8301a"/>
<rect x="489.92" y="555.12" width="6.77" height="6.61" fill="#f8301a"/>
<rect x="496.64" y="555.12" width="6.77" height="6.61" fill="#f8301a"/>
<rect x="503.36" y="555.12" width="6.77" height="6.61" fill="#dc2a1a"/>
<rect x="510.08" y="555.12" width="6.77" height="6.61" fill="#64ecf6"/>
<rect x="516.80" y="555.12" width="6.77" height="6.61" fill="#1a08f6"/>
<rect x="523.52" y="555.12" width="6.77" height="6.61" fill="#1a08f6"/>
<rect x="530.24" y="555.12" width="6.77" height="6.61" fill="#2a2cf4"/>
<rect x="536.96" y="555.12" width="6.77" height="6.61" fill="#dc2a1a"/>
<rect x="543.68" y="555.12" width="6.77" height="6.61" fill="#f8301a"/>
<rect x="550.40" y="555.12" width="6.77" height="6.61" fill="#f8301a"/>
<rect x="557.12" y="555.12" width="6.77" height="6.61" fill="#f4601e"/>
<rect x="563.84" y="555.12" width="6.77" height="6.61" fill="#dc2a1a"/>
<rect x="570.56" y="555.12" width="6.77" height="6.61" fill="#f8301a"/>
<rect x="577.28" y="555.12" width="6.77" height="6.61" fill="#1a08f6"/>
<rect x="584.00" y="555.12" width="6.77" height="6.61" fill="#1a08f6"/>
<rect x="590.72" y="555.12" width="6.77" height="6.61" fill="#1a08f6"/>
<rect x="597.44" y="555.12" width="6.77" height="6.61" fill="#1a08f6"/>
<rect x="604.16" y="555.12" width="6.77" height="6.61" fill="#1a08f6"/>
<rect x="610.88" y="555.12" width="6.77" height="6.61" fill="#1a08f6"/>
<rect x="617.60" y="555.12" width="6.77" height="6.61" fill="#1a08f6"/>
<rect x="624.32" y="555.12" width="6.77" height="6.61" fill="#1a08f6"/>
<rect x="631.04" y="555.12" width="6.77" height="6.61" fill="#1a08f6"/>
<rect x="637.76" y="555.12" width="6.77" height="6.61" fill="#1a08f6"/>
<rect x="644.48" y="555.12" width="6.77" height="6.61" fill="#1a08f6"/>
<rect x="449.60" y="561.68" width="6.77" height="6.61" fill="#dc2a1a"/>
<rect x="456.32" y="561.68" width="6.77" height="6.61" fill="#dc2a1a"/>
<rect x="463.04" y="561.68" width="6.77" height="6.61" fill="#f8301a"/>
<rect x="469.76" y="561.68" width="6.77" height="6.61" fill="#dc2a1a"/>
<rect x="476.48" y="561.68" width="6.77" height="6.61" fill="#f8301a"/>
<rect x="483.20" y="561.68" width="6.77" height="6.61" fill="#f8301a"/>
<rect x="489.92" y="561.68" width="6.77" height="6.61" fill="#f8301a"/>
<rect x="496.64" y="561.68" width="6.77" height="6.61" fill="#f8301a"/>
<rect x="503.36" y="561.68" width="6.77" height="6.61" fill="#f4601e"/>
<rect x="510.08" y="561.68" width="6.77" height="6.61" fill="#dc2a1a"/>
<rect x="516.80" y="561.68" width="6.77" height="6.61" fill="#1a08f6"/>
<rect x="523.52" y="561.68" width="6.77" height="6.61" fill="#1a08f6"/>
<rect x="530.24" y="561.68" width="6.77" height="6.61" fill="#1a08f6"/>
<rect x="536.96" y="561.68" width="6.77" height="6.61" fill="#f8301a"/>
<rect x="543.68" y="561.68" width="6.77" height="6.61" fill="#f4601e"/>
<rect x="550.40" y="561.68" width="6.77" height="6.61" fill="#f8301a"/>
<rect x="557.12" y="561.68" width="6.77" height="6.61" fill="#f8301a"/>
<rect x="563.84" y="561.68" width="6.77" height="6.61" fill="#f8301a"/>
<rect x="570.56" y="561.68" width="6.77" height="6.61" fill="#f8301a"/>
<rect x="577.28" y="561.68" width="6.77" height="6.61" fill="#f4601e"/>
<rect x="584.00" y="561.68" width="6.77" height="6.61" fill="#1a08f6"/>
<rect x="590.72" y="561.68" width="6.77" height="6.61" fill="#1a08f6"/>
<rect x="597.44" y="561.68" width="6.77" height="6.61" fill="#1a08f6"/>
<rect x="604.16" y="561.68" width="6.77" height="6.61" fill="#1a08f6"/>
<rect x="610.88" y="561.68" width="6.77" height="6.61" fill="#1a08f6"/>
<rect x="617.60" y="561.68" width="6.77" height="6.61" fill="#1a08f6"/>
<rect x="624.32" y="561.68" width="6.77" height="6.61" fill="#1a08f6"/>
<rect x="631.04" y="561.68" width="6.77" height="6.61" fill="#1a08f6"/>
<rect x="637.76" y="561.68" width="6.77" height="6.61" fill="#1a08f6"/>
<rect x="644.48" y="561.68" width="6.77" height="6.61" fill="#1a08f6"/>
<rect x="449.60" y="568.24" width="6.77" height="6.61" fill="#f8301a"/>
<rect x="456.32" y="568.24" width="6.77" height="6.61" fill="#dc2a1a"/>
<rect x="463.04" y="568.24" width="6.77" height="6.61" fill="#f8301a"/>
<rect x="469.76" y="568.24" width="6.77" height="6.61" fill="#dc2a1a"/>
<rect x="476.48" y="568.24" width="6.77" height="6.61" fill="#f8301a"/>
<rect x="483.20" y="568.24" width="6.77" height="6.61" fill="#f8301a"/>
<rect x="489.92" y="568.24" width="6.77" height="6.61" fill="#f8301a"/>
<rect x="496.64" y="568.24" width="6.77" height="6.61" fill="#f8301a"/>
<rect x="503.36" y="568.24" width="6.77" height="6.61" fill="#f8301a"/>
<rect x="510.08" y="568.24" width="6.77" height="6.61" fill="#dc2a1a"/>
<rect x="516.80" y="568.24" width="6.77" height="6.61" fill="#1a08f6"/>
<rect x="523.52" y="568.24" width="6.77" height="6.61" fill="#1a08f6"/>
<rect x="530.24" y="568.24" width="6.77" height="6.61" fill="#1a08f6"/>
<rect x="536.96" y="568.24" width="6.77" height="6.61" fill="#f8301a"/>
<rect x="543.68" y="568.24" width="6.77" height="6.61" fill="#f8301a"/>
<rect x="550.40" y="568.24" width="6.77" height="6.61" fill="#f8301a"/>
<rect x="557.12" y="568.24" width="6.77" height="6.61" fill="#f4601e"/>
<rect x="563.84" y="568.24" width="6.77" height="6.61" fill="#f8301a"/>
<rect x="570.56" y="568.24" width="6.77" height="6.61" fill="#f8301a"/>
<rect x="577.28" y="568.24" width="6.77" height="6.61" fill="#dc2a1a"/>
<rect x="584.00" y="568.24" width="6.77" height="6.61" fill="#1a08f6"/>
<rect x="590.72" y="568.24" width="6.77" height="6.61" fill="#1a08f6"/>
<rect x="597.44" y="568.24" width="6.77" height="6.61" fill="#1a08f6"/>
<rect x="604.16" y="568.24" width="6.77" height="6.61" fill="#1a08f6"/>
<rect x="610.88" y="568.24" width="6.77" height="6.61" fill="#1a08f6"/>
<rect x="617.60" y="568.24" width="6.77" height="6.61" fill="#1a08f6"/>
<rect x="624.32" y="568.24" width="6.77" height="6.61" fill="#1a08f6"/>
<rect x="631.04" y="568.24" width="6.77" height="6.61" fill="#1a08f6"/>
<rect x="637.76" y="568.24" width="6.77" height="6.61" fill="#1a08f6"/>
<rect x="644.48" y="568.24" width="6.77" height="6.61" fill="#3c64f4"/>
<rect x="449.60" y="574.80" width="6.77" height="6.61" fill="#f8301a"/>
<rect x="456.32" y="574.80" width="6.77" height="6.61" fill="#f8301a"/>
<rect x="463.04" y="574.80" width="6.77" height="6.61" fill="#dc2a1a"/>
<rect x="469.76" y="574.80" width="6.77" height="6.61" fill="#f8301a"/>
<rect x="476.48" y="574.80" width="6.77" height="6.61" fill="#f8301a"/>
<rect x="483.20" y="574.80" width="6.77" height="6.61" fill="#f8301a"/>
<rect x="489.92" y="574.80" width="6.77" height="6.61" fill="#f8301a"/>
<rect x="496.64" y="574.80" width="6.77" height="6.61" fill="#dc2a1a"/>
<rect x="503.36" y="574.80" width="6.77" height="6.61" fill="#f8301a"/>
<rect x="510.08" y="574.80" width="6.77" height="6.61" fill="#dc2a1a"/>
<rect x="516.80" y="574.80" width="6.77" height="6.61" fill="#1a08f6"/>
<rect x="523.52" y="574.80" width="6.77" height="6.61" fill="#1a08f6"/>
<rect x="530.24" y="574.80" width="6.77" height="6.61" fill="#1a08f6"/>
<rect x="536.96" y="574.80" width="6.77" height="6.61" fill="#f4601e"/>
<rect x="543.68" y="574.80" width="6.77" height="6.61" fill="#f4601e"/>
<rect x="550.40" y="574.80" width="6.77" height="6.61" fill="#f8301a"/>
<rect x="557.12" y="574.80" width="6.77" height="6.61" fill="#f4601e"/>
<rect x="563.84" y="574.80" width="6.77" height="6.61" fill="#f4601e"/>
<rect x="570.56" y="574.80" width="6.77" height="6.61" fill="#f4601e"/>
<rect x="577.28" y="574.80" width="6.77" height="6.61" fill="#f8301a"/>
<rect x="584.00" y="574.80" width="6.77" height="6.61" fill="#1a08f6"/>
<rect x="590.72" y="574.80" width="6.77" height="6.61" fill="#1a08f6"/>
<rect x="597.44" y="574.80" width="6.77" height="6.61" fill="#1a08f6"/>
<rect x="604.16" y="574.80" width="6.77" height="6.61" fill="#1a08f6"/>
<rect x="610.88" y="574.80" width="6.77" height="6.61" fill="#1a08f6"/>
<rect x="617.60" y="574.80" width="6.77" height="6.61" fill="#1a08f6"/>
<rect x="624.32" y="574.80" width="6.77" height="6.61" fill="#1a08f6"/>
<rect x="631.04" y="574.80" width="6.77" height="6.61" fill="#1a08f6"/>
<rect x="637.76" y="574.80" width="6.77" height="6.61" fill="#1a08f6"/>
<rect x="644.48" y="574.80" width="6.77" height="6.61" fill="#1a08f6"/>
<rect x="449.60" y="581.36" width="6.77" height="6.61" fill="#f8301a"/>
<rect x="456.32" y="581.36" width="6.77" height="6.61" fill="#dc2a1a"/>
<rect x="463.04" y="581.36" width="6.77" height="6.61" fill="#f8301a"/>
<rect x="469.76" y="581.36" width="6.77" height="6.61" fill="#dc2a1a"/>
<rect x="476.48" y="581.36" width="6.77" height="6.61" fill="#f8301a"/>
<rect x="483.20" y="581.36" width="6.77" height="6.61" fill="#f8301a"/>
<rect x="489.92" y="581.36" width="6.77" height="6.61" fill="#f8301a"/>
<rect x="496.64" y="581.36" width="6.77" height="6.61" fill="#f4601e"/>
<rect x="503.36" y="581.36" width="6.77" height="6.61" fill="#f8301a"/>
<rect x="510.08" y="581.36" width="6.77" height="6.61" fill="#dc2a1a"/>
<rect x="516.80" y="581.36" width="6.77" height="6.61" fill="#1a08f6"/>
<rect x="523.52" y="581.36" width="6.77" height="6.61" fill="#1a08f6"/>
<rect x="530.24" y="581.36" width="6.77" height="6.61" fill="#1a08f6"/>
<rect x="536.96" y="581.36" width="6.77" height="6.61" fill="#74eed8"/>
<rect x="543.68" y="581.36" width="6.77" height="6.61" fill="#f8301a"/>
<rect x="550.40" y="581.36" width="6.77" height="6.61" fill="#f8301a"/>
<rect x="557.12" y="581.36" width="6.77" height="6.61" fill="#f8301a"/>
<rect x="563.84" y="581.36" width="6.77" height="6.61" fill="#f8301a"/>
<rect x="570.56" y="581.36" width="6.77" height="6.61" fill="#f8301a"/>
<rect x="577.28" y="581.36" width="6.77" height="6.61" fill="#f8301a"/>
<rect x="584.00" y="581.36" width="6.77" height="6.61" fill="#dc2a1a"/>
<rect x="590.72" y="581.36" width="6.77" height="6.61" fill="#1a08f6"/>
<rect x="597.44" y="581.36" width="6.77" height="6.61" fill="#1a08f6"/>
<rect x="604.16" y="581.36" width="6.77" height="6.61" fill="#1a08f6"/>
<rect x="610.88" y="581.36" width="6.77" height="6.61" fill="#1a08f6"/>
<rect x="617.60" y="581.36" width="6.77" height="6.61" fill="#1a08f6"/>
<rect x="624.32" y="581.36" width="6.77" height="6.61" fill="#1a08f6"/>
<rect x="631.04" y="581.36" width="6.77" height="6.61" fill="#1a08f6"/>
<rect x="637.76" y="581.36" width="6.77" height="6.61" fill="#dc2a1a"/>
<rect x="644.48" y="581.36" width="6.77" height="6.61" fill="#f8301a"/>
<rect x="449.60" y="587.92" width="6.77" height="6.61" fill="#1a08f6"/>
<rect x="456.32" y="587.92" width="6.77" height="6.61" fill="#1a08f6"/>
<rect x="463.04" y="587.92" width="6.77" height="6.61" fill="#2a2cf4"/>
<rect x="469.76" y="587.92" width="6.77" height="6.61" fill="#eeee3c"/>
<rect x="476.48" y="587.92" width="6.77" height="6.61" fill="#f8301a"/>
<rect x="483.20" y="587.92" width="6.77" height="6.61" fill="#f8301a"/>
<rect x="489.92" y="587.92" width="6.77" height="6.61" fill="#f8301a"/>
<rect x="496.64" y="587.92" width="6.77" height="6.61" fill="#f4601e"/>
<rect x="503.36" y="587.92" width="6.77" height="6.61" fill="#f8301a"/>
<rect x="510.08" y="587.92" width="6.77" height="6.61" fill="#dc2a1a"/>
<rect x="516.80" y="587.92" width="6.77" height="6.61" fill="#1a08f6"/>
<rect x="523.52" y="587.92" width="6.77" height="6.61" fill="#1a08f6"/>
<rect x="530.24" y="587.92" width="6.77" height="6.61" fill="#1a08f6"/>
<rect x="536.96" y="587.92" width="6.77" height="6.61" fill="#1a08f6"/>
<rect x="543.68" y="587.92" width="6.77" height="6.61" fill="#f4601e"/>
<rect x="550.40" y="587.92" width="6.77" height="6.61" fill="#f8301a"/>
<rect x="557.12" y="587.92" width="6.77" height="6.61" fill="#f8301a"/>
<rect x="563.84" y="587.92" width="6.77" height="6.61" fill="#f8301a"/>
<rect x="570.56" y="587.92" width="6.77" height="6.61" fill="#f8301a"/>
<rect x="577.28" y="587.92" width="6.77" height="6.61" fill="#f8301a"/>
<rect x="584.00" y="587.92" width="6.77" height="6.61" fill="#f8301a"/>
<rect x="590.72" y="587.92" width="6.77" height="6.61" fill="#f8301a"/>
<rect x="597.44" y="587.92" width="6.77" height="6.61" fill="#1a08f6"/>
<rect x="604.16" y="587.92" width="6.77" height="6.61" fill="#1a08f6"/>
<rect x="610.88" y="587.92" width="6.77" height="6.61" fill="#1a08f6"/>
<rect x="617.60" y="587.92" width="6.77" height="6.61" fill="#1a08f6"/>
<rect x="624.32" y="587.92" width="6.77" height="6.61" fill="#1a08f6"/>
<rect x="631.04" y="587.92" width="6.77" height="6.61" fill="#f8301a"/>
<rect x="637.76" y="587.92" width="6.77" height="6.61" fill="#f8301a"/>
<rect x="644.48" y="587.92" width="6.77" height="6.61" fill="#dc2a1a"/>
<rect x="449.60" y="594.48" width="6.77" height="6.61" fill="#1a08f6"/>
<rect x="456.32" y="594.48" width="6.77" height="6.61" fill="#1a08f6"/>
<rect x="463.04" y="594.48" width="6.77" height="6.61" fill="#1a08f6"/>
<rect x="469.76" y="594.48" width="6.77" height="6.61" fill="#1a08f6"/>
<rect x="476.48" y="594.48" width="6.77" height="6.61" fill="#1a08f6"/>
<rect x="483.20" y="594.48" width="6.77" height="6.61" fill="#90ee90"/>
<rect x="489.92" y="594.48" width="6.77" height="6.61" fill="#dc2a1a"/>
<rect x="496.64" y="594.48" width="6.77" height="6.61" fill="#f8301a"/>
<rect x="503.36" y="594.48" width="6.77" height="6.61" fill="#f8301a"/>
<rect x="510.08" y="594.48" width="6.77" height="6.61" fill="#a81c12"/>
<rect x="516.80" y="594.48" width="6.77" height="6.61" fill="#1a08f6"/>
<rect x="523.52" y="594.48" width="6.77" height="6.61" fill="#1a08f6"/>
<rect x="530.24" y="594.48" width="6.77" height="6.61" fill="#1a08f6"/>
<rect x="536.96" y="594.48" width="6.77" height="6.61" fill="#1a08f6"/>
<rect x="543.68" y="594.48" width="6.77" height="6.61" fill="#f4601e"/>
<rect x="550.40" y="594.48" width="6.77" height="6.61" fill="#f8301a"/>
<rect x="557.12" y="594.48" width="6.77" height="6.61" fill="#f8301a"/>
<rect x="563.84" y="594.48" width="6.77" height="6.61" fill="#f8301a"/>
<rect x="570.56" y="594.48" width="6.77" height="6.61" fill="#f8301a"/>
<rect x="577.28" y="594.48" width="6.77" height="6.61" fill="#dc2a1a"/>
<rect x="584.00" y="594.48" width="6.77" height="6.61" fill="#f8301a"/>
<rect x="590.72" y="594.48" width="6.77" height="6.61" fill="#dc2a1a"/>
<rect x="597.44" y="594.48" width="6.77" height="6.61" fill="#f8301a"/>
<rect x="604.16" y="594.48" width="6.77" height="6.61" fill="#f8301a"/>
<rect x="610.88" y="594.48" width="6.77" height="6.61" fill="#2a2cf4"/>
<rect x="617.60" y="594.48" width="6.77" height="6.61" fill="#64ecf6"/>
<rect x="624.32" y="594.48" width="6.77" height="6.61" fill="#f8301a"/>
<rect x="631.04" y="594.48" width="6.77" height="6.61" fill="#dc2a1a"/>
<rect x="637.76" y="594.48" width="6.77" height="6.61" fill="#f8301a"/>
<rect x="644.48" y="594.48" width="6.77" height="6.61" fill="#f8301a"/>
<rect x="449.60" y="601.04" width="6.77" height="6.61" fill="#2a2cf4"/>
<rect x="456.32" y="601.04" width="6.77" height="6.61" fill="#1a08f6"/>
<rect x="463.04" y="601.04" width="6.77" height="6.61" fill="#1a08f6"/>
<rect x="469.76" y="601.04" width="6.77" height="6.61" fill="#1a08f6"/>
<rect x="476.48" y="601.04" width="6.77" height="6.61" fill="#1a08f6"/>
<rect x="483.20" y="601.04" width="6.77" height="6.61" fill="#2a2cf4"/>
<rect x="489.92" y="601.04" width="6.77" height="6.61" fill="#1a08f6"/>
<rect x="496.64" y="601.04" width="6.77" height="6.61" fill="#64ecf6"/>
<rect x="503.36" y="601.04" width="6.77" height="6.61" fill="#c8f24e"/>
<rect x="510.08" y="601.04" width="6.77" height="6.61" fill="#1a08f6"/>
<rect x="516.80" y="601.04" width="6.77" height="6.61" fill="#1a08f6"/>
<rect x="523.52" y="601.04" width="6.77" height="6.61" fill="#1a08f6"/>
<rect x="530.24" y="601.04" width="6.77" height="6.61" fill="#1a08f6"/>
<rect x="536.96" y="601.04" width="6.77" height="6.61" fill="#1a08f6"/>
<rect x="543.68" y="601.04" width="6.77" height="6.61" fill="#1a08f6"/>
<rect x="550.40" y="601.04" width="6.77" height="6.61" fill="#f4601e"/>
<rect x="557.12" y="601.04" width="6.77" height="6.61" fill="#f8301a"/>
<rect x="563.84" y="601.04" width="6.77" height="6.61" fill="#f8301a"/>
<rect x="570.56" y="601.04" width="6.77" height="6.61" fill="#f8301a"/>
<rect x="577.28" y="601.04" width="6.77" height="6.61" fill="#0a0a0a"/>
<rect x="584.00" y="601.04" width="6.77" height="6.61" fill="#eeee3c"/>
<rect x="590.72" y="601.04" width="6.77" height="6.61" fill="#f8301a"/>
<rect x="597.44" y="601.04" width="6.77" height="6.61" fill="#f8301a"/>
<rect x="604.16" y="601.04" width="6.77" height="6.61" fill="#f8301a"/>
<rect x="610.88" y="601.04" width="6.77" height="6.61" fill="#f8301a"/>
<rect x="617.60" y="601.04" width="6.77" height="6.61" fill="#f8301a"/>
<rect x="624.32" y="601.04" width="6.77" height="6.61" fill="#f8301a"/>
<rect x="631.04" y="601.04" width="6.77" height="6.61" fill="#1a08f6"/>
<rect x="637.76" y="601.04" width="6.77" height="6.61" fill="#0a0a0a"/>
<rect x="644.48" y="601.04" width="6.77" height="6.61" fill="#f8301a"/>
<path d="M449.60 345.2V607.6M456.32 345.2V607.6M463.04 345.2V607.6M469.76 345.2V607.6M476.48 345.2V607.6M483.20 345.2V607.6M489.92 345.2V607.6M496.64 345.2V607.6M503.36 345.2V607.6M510.08 345.2V607.6M516.80 345.2V607.6M523.52 345.2V607.6M530.24 345.2V607.6M536.96 345.2V607.6M543.68 345.2V607.6M550.40 345.2V607.6M557.12 345.2V607.6M563.84 345.2V607.6M570.56 345.2V607.6M577.28 345.2V607.6M584.00 345.2V607.6M590.72 345.2V607.6M597.44 345.2V607.6M604.16 345.2V607.6M610.88 345.2V607.6M617.60 345.2V607.6M624.32 345.2V607.6M631.04 345.2V607.6M637.76 345.2V607.6M644.48 345.2V607.6M651.20 345.2V607.6M449.6 345.20H651.2M449.6 351.76H651.2M449.6 358.32H651.2M449.6 364.88H651.2M449.6 371.44H651.2M449.6 378.00H651.2M449.6 384.56H651.2M449.6 391.12H651.2M449.6 397.68H651.2M449.6 404.24H651.2M449.6 410.80H651.2M449.6 417.36H651.2M449.6 423.92H651.2M449.6 430.48H651.2M449.6 437.04H651.2M449.6 443.60H651.2M449.6 450.16H651.2M449.6 456.72H651.2M449.6 463.28H651.2M449.6 469.84H651.2M449.6 476.40H651.2M449.6 482.96H651.2M449.6 489.52H651.2M449.6 496.08H651.2M449.6 502.64H651.2M449.6 509.20H651.2M449.6 515.76H651.2M449.6 522.32H651.2M449.6 528.88H651.2M449.6 535.44H651.2M449.6 542.00H651.2M449.6 548.56H651.2M449.6 555.12H651.2M449.6 561.68H651.2M449.6 568.24H651.2M449.6 574.80H651.2M449.6 581.36H651.2M449.6 587.92H651.2M449.6 594.48H651.2M449.6 601.04H651.2M449.6 607.60H651.2" stroke="#8c8c88" stroke-width="1" fill="none" opacity="0.55"/>
<defs><linearGradient id="jet" x1="0" y1="1" x2="0" y2="0"><stop offset="0" stop-color="#00008f"/><stop offset="0.11" stop-color="#0000ff"/><stop offset="0.36" stop-color="#00ffff"/><stop offset="0.61" stop-color="#ffff00"/><stop offset="0.86" stop-color="#ff0000"/><stop offset="1" stop-color="#800000"/></linearGradient></defs>
<rect x="406.3" y="345.1" width="8" height="262.5" fill="url(#jet)" stroke="#777" stroke-width="0.8"/>
<rect x="652.5" y="345.2" width="8" height="262.4" fill="url(#jet)" stroke="#777" stroke-width="0.8"/>
<line x1="411.5" y1="383.3" x2="414.3" y2="383.3" stroke="#222" stroke-width="0.8"/>
<text x="419.3" y="388.4" class="sf" font-size="17.2" fill="#111">250</text>
<line x1="411.5" y1="427.5" x2="414.3" y2="427.5" stroke="#222" stroke-width="0.8"/>
<text x="419.3" y="432.6" class="sf" font-size="17.2" fill="#111">200</text>
<line x1="411.5" y1="472.5" x2="414.3" y2="472.5" stroke="#222" stroke-width="0.8"/>
<text x="419.3" y="477.6" class="sf" font-size="17.2" fill="#111">150</text>
<line x1="411.5" y1="518.0" x2="414.3" y2="518.0" stroke="#222" stroke-width="0.8"/>
<text x="419.3" y="523.1" class="sf" font-size="17.2" fill="#111">100</text>
<line x1="411.5" y1="562.2" x2="414.3" y2="562.2" stroke="#222" stroke-width="0.8"/>
<text x="419.3" y="567.3" class="sf" font-size="17.2" fill="#111">50</text>
<line x1="657.8" y1="576.5" x2="660.5" y2="576.5" stroke="#222" stroke-width="0.8"/>
<text x="665.6" y="581.6" class="sf" font-size="17.2" fill="#111">10</text>
<line x1="657.8" y1="545.6" x2="660.5" y2="545.6" stroke="#222" stroke-width="0.8"/>
<text x="665.6" y="550.7" class="sf" font-size="17.2" fill="#111">20</text>
<line x1="657.8" y1="514.7" x2="660.5" y2="514.7" stroke="#222" stroke-width="0.8"/>
<text x="665.6" y="519.8" class="sf" font-size="17.2" fill="#111">30</text>
<line x1="657.8" y1="483.8" x2="660.5" y2="483.8" stroke="#222" stroke-width="0.8"/>
<text x="665.6" y="488.9" class="sf" font-size="17.2" fill="#111">40</text>
<line x1="657.8" y1="452.9" x2="660.5" y2="452.9" stroke="#222" stroke-width="0.8"/>
<text x="665.6" y="458.0" class="sf" font-size="17.2" fill="#111">50</text>
<line x1="657.8" y1="422.0" x2="660.5" y2="422.0" stroke="#222" stroke-width="0.8"/>
<text x="665.6" y="427.1" class="sf" font-size="17.2" fill="#111">60</text>
<line x1="657.8" y1="391.1" x2="660.5" y2="391.1" stroke="#222" stroke-width="0.8"/>
<text x="665.6" y="396.2" class="sf" font-size="17.2" fill="#111">70</text>
<line x1="657.8" y1="360.2" x2="660.5" y2="360.2" stroke="#222" stroke-width="0.8"/>
<text x="665.6" y="365.3" class="sf" font-size="17.2" fill="#111">80</text>
<rect x="208.8" y="347.2" width="27.8" height="24.9" fill="#7c7c7c"/>
<text x="222.7" y="365.8" class="ss" font-weight="bold" font-size="22" text-anchor="middle" fill="#fff">e)</text>
<rect x="374" y="347.2" width="27.9" height="24.7" fill="#777"/>
<text x="387.6" y="367.1" class="ss" font-weight="bold" font-style="italic" font-size="21" text-anchor="middle" fill="#fff">M</text>
<rect x="454" y="347.2" width="27.9" height="25.1" fill="#7c7c7c"/>
<text x="467.8" y="365.8" class="ss" font-weight="bold" font-size="22" text-anchor="middle" fill="#fff">f)</text>
<rect x="611.4" y="347.2" width="37.2" height="24.7" fill="#777"/>
<text x="630" y="367.1" class="ss" font-weight="bold" font-style="italic" font-size="21" text-anchor="middle" fill="#fff" letter-spacing="-2">M/H</text>
<rect x="294.5" y="4" width="388" height="289.5" fill="none" stroke="#6e6e6e" stroke-width="1"/>
<line x1="386.9" y1="293.5" x2="386.9" y2="289.5" stroke="#6e6e6e"/>
<line x1="386.9" y1="4" x2="386.9" y2="8" stroke="#6e6e6e"/>
<line x1="479.1" y1="293.5" x2="479.1" y2="289.5" stroke="#6e6e6e"/>
<line x1="479.1" y1="4" x2="479.1" y2="8" stroke="#6e6e6e"/>
<line x1="571.3" y1="293.5" x2="571.3" y2="289.5" stroke="#6e6e6e"/>
<line x1="571.3" y1="4" x2="571.3" y2="8" stroke="#6e6e6e"/>
<line x1="663.5" y1="293.5" x2="663.5" y2="289.5" stroke="#6e6e6e"/>
<line x1="663.5" y1="4" x2="663.5" y2="8" stroke="#6e6e6e"/>
<line x1="294.5" y1="243.5" x2="298.5" y2="243.5" stroke="#6e6e6e"/>
<line x1="682.5" y1="243.5" x2="678.5" y2="243.5" stroke="#6e6e6e"/>
<line x1="294.5" y1="193.5" x2="298.5" y2="193.5" stroke="#6e6e6e"/>
<line x1="682.5" y1="193.5" x2="678.5" y2="193.5" stroke="#6e6e6e"/>
<line x1="294.5" y1="143.5" x2="298.5" y2="143.5" stroke="#6e6e6e"/>
<line x1="682.5" y1="143.5" x2="678.5" y2="143.5" stroke="#6e6e6e"/>
<line x1="294.5" y1="93.5" x2="298.5" y2="93.5" stroke="#6e6e6e"/>
<line x1="682.5" y1="93.5" x2="678.5" y2="93.5" stroke="#6e6e6e"/>
<line x1="294.5" y1="43.5" x2="298.5" y2="43.5" stroke="#6e6e6e"/>
<line x1="682.5" y1="43.5" x2="678.5" y2="43.5" stroke="#6e6e6e"/>
<text x="294.7" y="314.6" class="sf" font-size="20.5" text-anchor="middle" fill="#222">0</text>
<text x="386.9" y="314.6" class="sf" font-size="20.5" text-anchor="middle" fill="#222">5</text>
<text x="479.1" y="314.6" class="sf" font-size="20.5" text-anchor="middle" fill="#222">10</text>
<text x="571.3" y="314.6" class="sf" font-size="20.5" text-anchor="middle" fill="#222">15</text>
<text x="663.5" y="314.6" class="sf" font-size="20.5" text-anchor="middle" fill="#222">20</text>
<text x="287.3" y="299.9" class="sf" font-size="20.5" text-anchor="end" fill="#222">0</text>
<text x="287.3" y="249.9" class="sf" font-size="20.5" text-anchor="end" fill="#222">50</text>
<text x="287.3" y="199.9" class="sf" font-size="20.5" text-anchor="end" fill="#222">100</text>
<text x="287.3" y="149.9" class="sf" font-size="20.5" text-anchor="end" fill="#222">150</text>
<text x="287.3" y="99.9" class="sf" font-size="20.5" text-anchor="end" fill="#222">200</text>
<text x="287.3" y="49.9" class="sf" font-size="20.5" text-anchor="end" fill="#222">250</text>
<text x="471.5" y="334" class="ss" font-weight="bold" font-size="23" text-anchor="middle" fill="#000" letter-spacing="-1.5">H (GPa)</text>
<text transform="translate(253.3,160.5) rotate(-90)" x="0" y="0" class="ss" font-weight="bold" font-size="22.5" text-anchor="middle" fill="#000" letter-spacing="-1.1">M (GPa)</text>
<text x="231" y="24.3" class="ss" font-weight="bold" font-size="22" fill="#000">c)</text>
<circle cx="581.2" cy="68.0" r="2.9" fill="#3b8b7e"/>
<circle cx="576.4" cy="79.7" r="2.9" fill="#3b8b7e"/>
<circle cx="563.6" cy="73.2" r="2.9" fill="#3b8b7e"/>
<circle cx="580.9" cy="63.2" r="2.9" fill="#3b8b7e"/>
<circle cx="583.0" cy="71.5" r="2.9" fill="#3b8b7e"/>
<circle cx="560.3" cy="74.7" r="2.9" fill="#3b8b7e"/>
<circle cx="594.5" cy="71.1" r="2.9" fill="#3b8b7e"/>
<circle cx="574.6" cy="64.4" r="2.9" fill="#3b8b7e"/>
<circle cx="586.0" cy="69.4" r="2.9" fill="#3b8b7e"/>
<circle cx="595.6" cy="72.8" r="2.9" fill="#3b8b7e"/>
<circle cx="573.9" cy="70.6" r="2.9" fill="#3b8b7e"/>
<circle cx="562.8" cy="77.6" r="2.9" fill="#3b8b7e"/>
<circle cx="568.8" cy="73.2" r="2.9" fill="#3b8b7e"/>
<circle cx="577.6" cy="72.7" r="2.9" fill="#3b8b7e"/>
<circle cx="563.8" cy="71.2" r="2.9" fill="#3b8b7e"/>
<circle cx="578.2" cy="75.8" r="2.9" fill="#3b8b7e"/>
<circle cx="567.9" cy="72.2" r="2.9" fill="#3b8b7e"/>
<circle cx="587.7" cy="71.7" r="2.9" fill="#3b8b7e"/>
<circle cx="559.8" cy="67.8" r="2.9" fill="#3b8b7e"/>
<circle cx="583.3" cy="78.4" r="2.9" fill="#3b8b7e"/>
<circle cx="589.7" cy="63.3" r="2.9" fill="#3b8b7e"/>
<circle cx="573.5" cy="74.0" r="2.9" fill="#3b8b7e"/>
<circle cx="572.9" cy="62.8" r="2.9" fill="#3b8b7e"/>
<circle cx="559.9" cy="75.5" r="2.9" fill="#3b8b7e"/>
<circle cx="568.3" cy="63.0" r="2.9" fill="#3b8b7e"/>
<circle cx="567.6" cy="68.1" r="2.9" fill="#3b8b7e"/>
<circle cx="587.7" cy="63.3" r="2.9" fill="#3b8b7e"/>
<circle cx="564.9" cy="67.2" r="2.9" fill="#3b8b7e"/>
<circle cx="577.2" cy="72.9" r="2.9" fill="#3b8b7e"/>
<circle cx="561.7" cy="75.6" r="2.9" fill="#3b8b7e"/>
<circle cx="569.1" cy="69.7" r="2.9" fill="#3b8b7e"/>
<circle cx="569.3" cy="63.5" r="2.9" fill="#3b8b7e"/>
<circle cx="565.6" cy="73.3" r="2.9" fill="#3b8b7e"/>
<circle cx="579.5" cy="64.0" r="2.9" fill="#3b8b7e"/>
<circle cx="565.7" cy="75.5" r="2.9" fill="#3b8b7e"/>
<circle cx="590.8" cy="72.3" r="2.9" fill="#3b8b7e"/>
<circle cx="575.8" cy="69.0" r="2.9" fill="#3b8b7e"/>
<circle cx="560.5" cy="65.5" r="2.9" fill="#3b8b7e"/>
<circle cx="583.0" cy="76.5" r="2.9" fill="#3b8b7e"/>
<circle cx="591.1" cy="70.2" r="2.9" fill="#3b8b7e"/>
<circle cx="560.0" cy="68.8" r="2.9" fill="#3b8b7e"/>
<circle cx="579.1" cy="80.2" r="2.9" fill="#3b8b7e"/>
<circle cx="590.7" cy="68.9" r="2.9" fill="#3b8b7e"/>
<circle cx="562.3" cy="72.9" r="2.9" fill="#3b8b7e"/>
<circle cx="567.1" cy="69.5" r="2.9" fill="#3b8b7e"/>
<circle cx="596.6" cy="71.4" r="2.9" fill="#3b8b7e"/>
<circle cx="584.6" cy="63.0" r="2.9" fill="#3b8b7e"/>
<circle cx="575.9" cy="61.6" r="2.9" fill="#3b8b7e"/>
<circle cx="559.1" cy="69.9" r="2.9" fill="#3b8b7e"/>
<circle cx="563.6" cy="74.4" r="2.9" fill="#3b8b7e"/>
<circle cx="580.2" cy="69.3" r="2.9" fill="#3b8b7e"/>
<circle cx="581.7" cy="78.2" r="2.9" fill="#3b8b7e"/>
<circle cx="562.9" cy="71.7" r="2.9" fill="#3b8b7e"/>
<circle cx="570.2" cy="75.9" r="2.9" fill="#3b8b7e"/>
<circle cx="566.5" cy="65.9" r="2.9" fill="#3b8b7e"/>
<circle cx="561.9" cy="73.0" r="2.9" fill="#3b8b7e"/>
<circle cx="577.4" cy="72.7" r="2.9" fill="#3b8b7e"/>
<circle cx="569.7" cy="68.9" r="2.9" fill="#3b8b7e"/>
<circle cx="582.6" cy="62.1" r="2.9" fill="#3b8b7e"/>
<circle cx="584.2" cy="62.8" r="2.9" fill="#3b8b7e"/>
<circle cx="582.5" cy="66.8" r="2.9" fill="#3b8b7e"/>
<circle cx="591.2" cy="75.1" r="2.9" fill="#3b8b7e"/>
<circle cx="579.6" cy="71.1" r="2.9" fill="#3b8b7e"/>
<circle cx="577.0" cy="79.7" r="2.9" fill="#3b8b7e"/>
<circle cx="572.3" cy="68.7" r="2.9" fill="#3b8b7e"/>
<circle cx="587.6" cy="73.5" r="2.9" fill="#3b8b7e"/>
<circle cx="569.1" cy="70.3" r="2.9" fill="#3b8b7e"/>
<circle cx="575.8" cy="75.1" r="2.9" fill="#3b8b7e"/>
<circle cx="560.8" cy="73.4" r="2.9" fill="#3b8b7e"/>
<circle cx="565.8" cy="71.9" r="2.9" fill="#3b8b7e"/>
<circle cx="574.7" cy="72.0" r="2.9" fill="#3b8b7e"/>
<circle cx="581.9" cy="77.0" r="2.9" fill="#3b8b7e"/>
<circle cx="582.3" cy="69.1" r="2.9" fill="#3b8b7e"/>
<circle cx="580.6" cy="77.9" r="2.9" fill="#3b8b7e"/>
<circle cx="583.4" cy="63.9" r="2.9" fill="#3b8b7e"/>
<circle cx="579.9" cy="71.2" r="2.9" fill="#3b8b7e"/>
<circle cx="575.5" cy="67.2" r="2.9" fill="#3b8b7e"/>
<circle cx="574.7" cy="67.2" r="2.9" fill="#3b8b7e"/>
<circle cx="561.2" cy="68.7" r="2.9" fill="#3b8b7e"/>
<circle cx="586.3" cy="70.3" r="2.9" fill="#3b8b7e"/>
<circle cx="559.2" cy="70.1" r="2.9" fill="#3b8b7e"/>
<circle cx="571.4" cy="67.2" r="2.9" fill="#3b8b7e"/>
<circle cx="565.8" cy="68.1" r="2.9" fill="#3b8b7e"/>
<circle cx="569.3" cy="66.8" r="2.9" fill="#3b8b7e"/>
<circle cx="575.5" cy="73.3" r="2.9" fill="#3b8b7e"/>
<circle cx="591.0" cy="64.1" r="2.9" fill="#3b8b7e"/>
<circle cx="584.0" cy="66.7" r="2.9" fill="#3b8b7e"/>
<circle cx="587.3" cy="68.9" r="2.9" fill="#3b8b7e"/>
<circle cx="562.1" cy="75.3" r="2.9" fill="#3b8b7e"/>
<circle cx="587.0" cy="71.3" r="2.9" fill="#3b8b7e"/>
<circle cx="595.2" cy="73.2" r="2.9" fill="#3b8b7e"/>
<circle cx="594.6" cy="68.9" r="2.9" fill="#3b8b7e"/>
<circle cx="584.1" cy="77.7" r="2.9" fill="#3b8b7e"/>
<circle cx="595.4" cy="69.5" r="2.9" fill="#3b8b7e"/>
<circle cx="560.2" cy="70.5" r="2.9" fill="#3b8b7e"/>
<circle cx="570.0" cy="76.0" r="2.9" fill="#3b8b7e"/>
<circle cx="572.8" cy="67.0" r="2.9" fill="#3b8b7e"/>
<circle cx="581.5" cy="77.2" r="2.9" fill="#3b8b7e"/>
<circle cx="573.7" cy="68.2" r="2.9" fill="#3b8b7e"/>
<circle cx="566.1" cy="71.0" r="2.9" fill="#3b8b7e"/>
<circle cx="584.9" cy="66.9" r="2.9" fill="#3b8b7e"/>
<circle cx="595.8" cy="72.1" r="2.9" fill="#3b8b7e"/>
<circle cx="572.8" cy="75.0" r="2.9" fill="#3b8b7e"/>
<circle cx="581.1" cy="61.3" r="2.9" fill="#3b8b7e"/>
<circle cx="579.7" cy="76.7" r="2.9" fill="#3b8b7e"/>
<circle cx="585.6" cy="64.0" r="2.9" fill="#3b8b7e"/>
<circle cx="566.3" cy="79.0" r="2.9" fill="#3b8b7e"/>
<circle cx="569.8" cy="62.3" r="2.9" fill="#3b8b7e"/>
<circle cx="590.9" cy="70.4" r="2.9" fill="#3b8b7e"/>
<circle cx="575.5" cy="66.2" r="2.9" fill="#3b8b7e"/>
<circle cx="579.8" cy="73.5" r="2.9" fill="#3b8b7e"/>
<circle cx="581.4" cy="80.3" r="2.9" fill="#3b8b7e"/>
<circle cx="562.9" cy="65.9" r="2.9" fill="#3b8b7e"/>
<circle cx="564.6" cy="77.8" r="2.9" fill="#3b8b7e"/>
<circle cx="574.0" cy="76.6" r="2.9" fill="#3b8b7e"/>
<circle cx="562.2" cy="65.3" r="2.9" fill="#3b8b7e"/>
<circle cx="591.8" cy="64.6" r="2.9" fill="#3b8b7e"/>
<circle cx="570.0" cy="69.8" r="2.9" fill="#3b8b7e"/>
<circle cx="583.3" cy="71.8" r="2.9" fill="#3b8b7e"/>
<circle cx="580.6" cy="69.0" r="2.9" fill="#3b8b7e"/>
<circle cx="611.7" cy="64.7" r="2.9" fill="#3b8b7e"/>
<circle cx="598.0" cy="67.9" r="2.9" fill="#3b8b7e"/>
<circle cx="594.8" cy="75.9" r="2.9" fill="#3b8b7e"/>
<circle cx="607.0" cy="77.0" r="2.9" fill="#3b8b7e"/>
<circle cx="604.5" cy="73.3" r="2.9" fill="#3b8b7e"/>
<circle cx="591.1" cy="68.0" r="2.9" fill="#3b8b7e"/>
<circle cx="590.1" cy="73.0" r="2.9" fill="#3b8b7e"/>
<circle cx="606.9" cy="66.9" r="2.9" fill="#3b8b7e"/>
<circle cx="619.5" cy="71.6" r="2.9" fill="#3b8b7e"/>
<circle cx="616.0" cy="74.6" r="2.9" fill="#3b8b7e"/>
<circle cx="609.1" cy="69.2" r="2.9" fill="#3b8b7e"/>
<circle cx="605.2" cy="72.6" r="2.9" fill="#3b8b7e"/>
<circle cx="591.0" cy="74.8" r="2.9" fill="#3b8b7e"/>
<circle cx="607.7" cy="73.4" r="2.9" fill="#3b8b7e"/>
<circle cx="604.7" cy="67.1" r="2.9" fill="#3b8b7e"/>
<circle cx="609.3" cy="69.6" r="2.9" fill="#3b8b7e"/>
<circle cx="614.7" cy="70.1" r="2.9" fill="#3b8b7e"/>
<circle cx="600.8" cy="78.3" r="2.9" fill="#3b8b7e"/>
<circle cx="597.0" cy="71.6" r="2.9" fill="#3b8b7e"/>
<circle cx="602.1" cy="68.9" r="2.9" fill="#3b8b7e"/>
<circle cx="608.2" cy="71.1" r="2.9" fill="#3b8b7e"/>
<circle cx="600.5" cy="78.6" r="2.9" fill="#3b8b7e"/>
<circle cx="593.3" cy="72.9" r="2.9" fill="#3b8b7e"/>
<circle cx="613.3" cy="72.7" r="2.9" fill="#3b8b7e"/>
<circle cx="620.0" cy="69.6" r="2.9" fill="#3b8b7e"/>
<circle cx="617.1" cy="76.1" r="2.9" fill="#3b8b7e"/>
<circle cx="599.5" cy="68.5" r="2.9" fill="#3b8b7e"/>
<circle cx="589.7" cy="68.9" r="2.9" fill="#3b8b7e"/>
<circle cx="598.0" cy="65.4" r="2.9" fill="#3b8b7e"/>
<circle cx="597.1" cy="69.9" r="2.9" fill="#3b8b7e"/>
<circle cx="605.2" cy="75.4" r="2.9" fill="#3b8b7e"/>
<circle cx="604.1" cy="73.2" r="2.9" fill="#3b8b7e"/>
<circle cx="590.0" cy="73.6" r="2.9" fill="#3b8b7e"/>
<circle cx="597.0" cy="65.9" r="2.9" fill="#3b8b7e"/>
<circle cx="593.0" cy="75.9" r="2.9" fill="#3b8b7e"/>
<circle cx="600.9" cy="74.9" r="2.9" fill="#3b8b7e"/>
<circle cx="610.2" cy="67.3" r="2.9" fill="#3b8b7e"/>
<circle cx="600.1" cy="78.1" r="2.9" fill="#3b8b7e"/>
<circle cx="596.1" cy="69.7" r="2.9" fill="#3b8b7e"/>
<circle cx="595.0" cy="67.5" r="2.9" fill="#3b8b7e"/>
<circle cx="612.9" cy="71.5" r="2.9" fill="#3b8b7e"/>
<circle cx="612.1" cy="72.7" r="2.9" fill="#3b8b7e"/>
<circle cx="615.7" cy="73.6" r="2.9" fill="#3b8b7e"/>
<circle cx="602.1" cy="69.4" r="2.9" fill="#3b8b7e"/>
<circle cx="607.3" cy="66.8" r="2.9" fill="#3b8b7e"/>
<circle cx="612.3" cy="66.7" r="2.9" fill="#3b8b7e"/>
<circle cx="598.7" cy="71.0" r="2.9" fill="#3b8b7e"/>
<circle cx="617.6" cy="74.3" r="2.9" fill="#3b8b7e"/>
<circle cx="612.2" cy="77.9" r="2.9" fill="#3b8b7e"/>
<circle cx="619.0" cy="70.3" r="2.9" fill="#3b8b7e"/>
<circle cx="598.8" cy="77.6" r="2.9" fill="#3b8b7e"/>
<circle cx="599.8" cy="70.8" r="2.9" fill="#3b8b7e"/>
<circle cx="600.9" cy="78.4" r="2.9" fill="#3b8b7e"/>
<circle cx="614.5" cy="76.9" r="2.9" fill="#3b8b7e"/>
<circle cx="620.0" cy="72.5" r="2.9" fill="#3b8b7e"/>
<circle cx="612.4" cy="68.4" r="2.9" fill="#3b8b7e"/>
<circle cx="617.0" cy="67.0" r="2.9" fill="#3b8b7e"/>
<circle cx="604.6" cy="63.7" r="2.9" fill="#3b8b7e"/>
<circle cx="610.8" cy="77.0" r="2.9" fill="#3b8b7e"/>
<circle cx="610.8" cy="75.4" r="2.9" fill="#3b8b7e"/>
<circle cx="598.3" cy="65.1" r="2.9" fill="#3b8b7e"/>
<circle cx="612.4" cy="72.6" r="2.9" fill="#3b8b7e"/>
<circle cx="610.6" cy="63.7" r="2.9" fill="#3b8b7e"/>
<circle cx="593.5" cy="69.5" r="2.9" fill="#3b8b7e"/>
<circle cx="590.9" cy="73.1" r="2.9" fill="#3b8b7e"/>
<circle cx="599.7" cy="75.3" r="2.9" fill="#3b8b7e"/>
<circle cx="613.0" cy="71.6" r="2.9" fill="#3b8b7e"/>
<circle cx="593.9" cy="74.2" r="2.9" fill="#3b8b7e"/>
<circle cx="616.2" cy="73.3" r="2.9" fill="#3b8b7e"/>
<circle cx="611.2" cy="74.6" r="2.9" fill="#3b8b7e"/>
<circle cx="604.7" cy="73.8" r="2.9" fill="#3b8b7e"/>
<circle cx="593.3" cy="75.4" r="2.9" fill="#3b8b7e"/>
<circle cx="597.3" cy="67.7" r="2.9" fill="#3b8b7e"/>
<circle cx="612.7" cy="71.2" r="2.9" fill="#3b8b7e"/>
<circle cx="593.4" cy="71.0" r="2.9" fill="#3b8b7e"/>
<circle cx="593.1" cy="73.4" r="2.9" fill="#3b8b7e"/>
<circle cx="603.5" cy="64.4" r="2.9" fill="#3b8b7e"/>
<circle cx="597.2" cy="71.1" r="2.9" fill="#3b8b7e"/>
<circle cx="606.7" cy="76.5" r="2.9" fill="#3b8b7e"/>
<circle cx="595.5" cy="69.1" r="2.9" fill="#3b8b7e"/>
<circle cx="643.2" cy="69.2" r="2.9" fill="#3b8b7e"/>
<circle cx="624.9" cy="69.5" r="2.9" fill="#3b8b7e"/>
<circle cx="633.2" cy="72.6" r="2.9" fill="#3b8b7e"/>
<circle cx="638.2" cy="69.0" r="2.9" fill="#3b8b7e"/>
<circle cx="630.6" cy="69.6" r="2.9" fill="#3b8b7e"/>
<circle cx="624.3" cy="77.2" r="2.9" fill="#3b8b7e"/>
<circle cx="637.8" cy="67.9" r="2.9" fill="#3b8b7e"/>
<circle cx="627.1" cy="68.5" r="2.9" fill="#3b8b7e"/>
<circle cx="618.6" cy="69.1" r="2.9" fill="#3b8b7e"/>
<circle cx="641.8" cy="68.6" r="2.9" fill="#3b8b7e"/>
<circle cx="615.9" cy="69.5" r="2.9" fill="#3b8b7e"/>
<circle cx="630.0" cy="74.5" r="2.9" fill="#3b8b7e"/>
<circle cx="623.2" cy="70.8" r="2.9" fill="#3b8b7e"/>
<circle cx="643.2" cy="73.7" r="2.9" fill="#3b8b7e"/>
<circle cx="627.3" cy="67.2" r="2.9" fill="#3b8b7e"/>
<circle cx="620.6" cy="71.7" r="2.9" fill="#3b8b7e"/>
<circle cx="629.2" cy="69.6" r="2.9" fill="#3b8b7e"/>
<circle cx="633.2" cy="71.9" r="2.9" fill="#3b8b7e"/>
<circle cx="620.1" cy="68.1" r="2.9" fill="#3b8b7e"/>
<circle cx="637.1" cy="70.4" r="2.9" fill="#3b8b7e"/>
<circle cx="640.1" cy="76.5" r="2.9" fill="#3b8b7e"/>
<circle cx="637.7" cy="67.6" r="2.9" fill="#3b8b7e"/>
<circle cx="626.0" cy="67.4" r="2.9" fill="#3b8b7e"/>
<circle cx="639.5" cy="70.2" r="2.9" fill="#3b8b7e"/>
<circle cx="618.3" cy="76.0" r="2.9" fill="#3b8b7e"/>
<circle cx="616.9" cy="74.2" r="2.9" fill="#3b8b7e"/>
<circle cx="627.0" cy="74.2" r="2.9" fill="#3b8b7e"/>
<circle cx="634.8" cy="70.8" r="2.9" fill="#3b8b7e"/>
<circle cx="641.5" cy="76.0" r="2.9" fill="#3b8b7e"/>
<circle cx="619.6" cy="74.5" r="2.9" fill="#3b8b7e"/>
<circle cx="628.5" cy="74.0" r="2.9" fill="#3b8b7e"/>
<circle cx="630.0" cy="69.0" r="2.9" fill="#3b8b7e"/>
<circle cx="630.4" cy="72.4" r="2.9" fill="#3b8b7e"/>
<circle cx="640.5" cy="72.5" r="2.9" fill="#3b8b7e"/>
<circle cx="620.0" cy="69.1" r="2.9" fill="#3b8b7e"/>
<circle cx="633.9" cy="77.3" r="2.9" fill="#3b8b7e"/>
<circle cx="621.8" cy="71.2" r="2.9" fill="#3b8b7e"/>
<circle cx="622.8" cy="70.4" r="2.9" fill="#3b8b7e"/>
<circle cx="626.7" cy="69.3" r="2.9" fill="#3b8b7e"/>
<circle cx="635.1" cy="67.0" r="2.9" fill="#3b8b7e"/>
<circle cx="614.8" cy="70.3" r="2.9" fill="#3b8b7e"/>
<circle cx="636.9" cy="68.7" r="2.9" fill="#3b8b7e"/>
<circle cx="617.3" cy="69.7" r="2.9" fill="#3b8b7e"/>
<circle cx="627.9" cy="75.6" r="2.9" fill="#3b8b7e"/>
<circle cx="631.9" cy="70.2" r="2.9" fill="#3b8b7e"/>
<circle cx="629.9" cy="69.9" r="2.9" fill="#3b8b7e"/>
<circle cx="641.5" cy="71.0" r="2.9" fill="#3b8b7e"/>
<circle cx="643.8" cy="71.1" r="2.9" fill="#3b8b7e"/>
<circle cx="624.1" cy="72.0" r="2.9" fill="#3b8b7e"/>
<circle cx="625.5" cy="76.2" r="2.9" fill="#3b8b7e"/>
<circle cx="622.9" cy="75.3" r="2.9" fill="#3b8b7e"/>
<circle cx="641.6" cy="72.0" r="2.9" fill="#3b8b7e"/>
<circle cx="619.9" cy="73.2" r="2.9" fill="#3b8b7e"/>
<circle cx="622.9" cy="74.0" r="2.9" fill="#3b8b7e"/>
<circle cx="624.2" cy="67.1" r="2.9" fill="#3b8b7e"/>
<circle cx="623.3" cy="68.6" r="2.9" fill="#3b8b7e"/>
<circle cx="632.8" cy="75.5" r="2.9" fill="#3b8b7e"/>
<circle cx="629.8" cy="72.4" r="2.9" fill="#3b8b7e"/>
<circle cx="639.1" cy="68.9" r="2.9" fill="#3b8b7e"/>
<circle cx="615.5" cy="71.6" r="2.9" fill="#3b8b7e"/>
<circle cx="614.6" cy="73.4" r="2.9" fill="#3b8b7e"/>
<circle cx="617.7" cy="75.0" r="2.9" fill="#3b8b7e"/>
<circle cx="643.8" cy="71.6" r="2.9" fill="#3b8b7e"/>
<circle cx="634.2" cy="74.9" r="2.9" fill="#3b8b7e"/>
<circle cx="617.6" cy="71.1" r="2.9" fill="#3b8b7e"/>
<circle cx="639.6" cy="72.1" r="2.9" fill="#3b8b7e"/>
<circle cx="621.1" cy="73.7" r="2.9" fill="#3b8b7e"/>
<circle cx="636.6" cy="69.1" r="2.9" fill="#3b8b7e"/>
<circle cx="628.8" cy="67.4" r="2.9" fill="#3b8b7e"/>
<circle cx="629.9" cy="66.3" r="2.9" fill="#3b8b7e"/>
<circle cx="584.9" cy="61.2" r="2.9" fill="#3b8b7e"/>
<circle cx="581.2" cy="61.4" r="2.9" fill="#3b8b7e"/>
<circle cx="579.7" cy="65.8" r="2.9" fill="#3b8b7e"/>
<circle cx="580.8" cy="61.6" r="2.9" fill="#3b8b7e"/>
<circle cx="586.6" cy="60.2" r="2.9" fill="#3b8b7e"/>
<circle cx="585.8" cy="60.3" r="2.9" fill="#3b8b7e"/>
<circle cx="579.3" cy="61.8" r="2.9" fill="#3b8b7e"/>
<circle cx="584.6" cy="66.4" r="2.9" fill="#3b8b7e"/>
<circle cx="589.7" cy="61.6" r="2.9" fill="#3b8b7e"/>
<circle cx="588.4" cy="66.4" r="2.9" fill="#3b8b7e"/>
<circle cx="577.7" cy="64.4" r="2.9" fill="#3b8b7e"/>
<circle cx="590.2" cy="64.8" r="2.9" fill="#3b8b7e"/>
<circle cx="584.8" cy="61.1" r="2.9" fill="#3b8b7e"/>
<circle cx="581.8" cy="66.1" r="2.9" fill="#3b8b7e"/>
<circle cx="591.4" cy="64.4" r="2.9" fill="#3b8b7e"/>
<circle cx="590.4" cy="63.1" r="2.9" fill="#3b8b7e"/>
<circle cx="579.6" cy="65.9" r="2.9" fill="#3b8b7e"/>
<circle cx="579.8" cy="62.0" r="2.9" fill="#3b8b7e"/>
<circle cx="586.0" cy="65.8" r="2.9" fill="#3b8b7e"/>
<circle cx="584.1" cy="67.7" r="2.9" fill="#3b8b7e"/>
<circle cx="586.1" cy="63.0" r="2.9" fill="#3b8b7e"/>
<circle cx="581.1" cy="66.1" r="2.9" fill="#3b8b7e"/>
<circle cx="584.5" cy="61.1" r="2.9" fill="#3b8b7e"/>
<circle cx="583.1" cy="62.7" r="2.9" fill="#3b8b7e"/>
<circle cx="587.7" cy="60.9" r="2.9" fill="#3b8b7e"/>
<circle cx="581.8" cy="62.7" r="2.9" fill="#3b8b7e"/>
<circle cx="581.4" cy="63.3" r="2.9" fill="#3b8b7e"/>
<circle cx="585.8" cy="62.4" r="2.9" fill="#3b8b7e"/>
<circle cx="581.4" cy="67.3" r="2.9" fill="#3b8b7e"/>
<circle cx="588.7" cy="63.6" r="2.9" fill="#3b8b7e"/>
<circle cx="504.8" cy="196.0" r="2.9" fill="#8b1010"/>
<circle cx="499.6" cy="203.2" r="2.9" fill="#8b1010"/>
<circle cx="492.3" cy="213.1" r="2.9" fill="#8b1010"/>
<circle cx="496.2" cy="199.4" r="2.9" fill="#8b1010"/>
<circle cx="506.1" cy="209.3" r="2.9" fill="#8b1010"/>
<circle cx="507.2" cy="207.6" r="2.9" fill="#8b1010"/>
<circle cx="478.7" cy="214.3" r="2.9" fill="#8b1010"/>
<circle cx="491.7" cy="198.3" r="2.9" fill="#8b1010"/>
<circle cx="497.9" cy="211.7" r="2.9" fill="#8b1010"/>
<circle cx="508.3" cy="206.1" r="2.9" fill="#8b1010"/>
<circle cx="494.3" cy="202.6" r="2.9" fill="#8b1010"/>
<circle cx="495.5" cy="200.1" r="2.9" fill="#8b1010"/>
<circle cx="493.6" cy="201.8" r="2.9" fill="#8b1010"/>
<circle cx="493.2" cy="213.5" r="2.9" fill="#8b1010"/>
<circle cx="492.1" cy="208.4" r="2.9" fill="#8b1010"/>
<circle cx="510.0" cy="204.3" r="2.9" fill="#8b1010"/>
<circle cx="505.9" cy="203.3" r="2.9" fill="#8b1010"/>
<circle cx="508.0" cy="196.8" r="2.9" fill="#8b1010"/>
<circle cx="506.7" cy="202.6" r="2.9" fill="#8b1010"/>
<circle cx="501.8" cy="196.4" r="2.9" fill="#8b1010"/>
<circle cx="479.8" cy="205.1" r="2.9" fill="#8b1010"/>
<circle cx="502.0" cy="198.8" r="2.9" fill="#8b1010"/>
<circle cx="493.6" cy="203.3" r="2.9" fill="#8b1010"/>
<circle cx="492.3" cy="208.2" r="2.9" fill="#8b1010"/>
<circle cx="487.8" cy="212.5" r="2.9" fill="#8b1010"/>
<circle cx="499.1" cy="207.9" r="2.9" fill="#8b1010"/>
<circle cx="479.3" cy="213.0" r="2.9" fill="#8b1010"/>
<circle cx="502.8" cy="209.7" r="2.9" fill="#8b1010"/>
<circle cx="490.6" cy="213.9" r="2.9" fill="#8b1010"/>
<circle cx="509.4" cy="197.0" r="2.9" fill="#8b1010"/>
<circle cx="517.7" cy="200.5" r="2.9" fill="#8b1010"/>
<circle cx="506.7" cy="195.4" r="2.9" fill="#8b1010"/>
<circle cx="489.3" cy="211.0" r="2.9" fill="#8b1010"/>
<circle cx="509.8" cy="197.3" r="2.9" fill="#8b1010"/>
<circle cx="505.4" cy="198.2" r="2.9" fill="#8b1010"/>
<circle cx="509.4" cy="207.1" r="2.9" fill="#8b1010"/>
<circle cx="517.1" cy="198.9" r="2.9" fill="#8b1010"/>
<circle cx="492.1" cy="203.8" r="2.9" fill="#8b1010"/>
<circle cx="493.8" cy="207.6" r="2.9" fill="#8b1010"/>
<circle cx="489.9" cy="208.2" r="2.9" fill="#8b1010"/>
<circle cx="511.4" cy="195.5" r="2.9" fill="#8b1010"/>
<circle cx="500.8" cy="204.3" r="2.9" fill="#8b1010"/>
<circle cx="516.1" cy="200.7" r="2.9" fill="#8b1010"/>
<circle cx="506.0" cy="205.1" r="2.9" fill="#8b1010"/>
<circle cx="503.3" cy="203.3" r="2.9" fill="#8b1010"/>
<circle cx="494.2" cy="198.8" r="2.9" fill="#8b1010"/>
<circle cx="504.9" cy="196.2" r="2.9" fill="#8b1010"/>
<circle cx="485.4" cy="213.6" r="2.9" fill="#8b1010"/>
<circle cx="512.8" cy="198.2" r="2.9" fill="#8b1010"/>
<circle cx="499.9" cy="211.2" r="2.9" fill="#8b1010"/>
<circle cx="501.4" cy="202.6" r="2.9" fill="#8b1010"/>
<circle cx="489.3" cy="213.2" r="2.9" fill="#8b1010"/>
<circle cx="481.2" cy="207.8" r="2.9" fill="#8b1010"/>
<circle cx="511.7" cy="202.4" r="2.9" fill="#8b1010"/>
<circle cx="487.3" cy="211.1" r="2.9" fill="#8b1010"/>
<circle cx="502.9" cy="200.2" r="2.9" fill="#8b1010"/>
<circle cx="488.4" cy="203.0" r="2.9" fill="#8b1010"/>
<circle cx="493.9" cy="198.5" r="2.9" fill="#8b1010"/>
<circle cx="494.9" cy="198.1" r="2.9" fill="#8b1010"/>
<circle cx="507.1" cy="200.9" r="2.9" fill="#8b1010"/>
<circle cx="503.5" cy="201.1" r="2.9" fill="#8b1010"/>
<circle cx="506.5" cy="195.1" r="2.9" fill="#8b1010"/>
<circle cx="501.4" cy="204.6" r="2.9" fill="#8b1010"/>
<circle cx="479.1" cy="212.7" r="2.9" fill="#8b1010"/>
<circle cx="509.4" cy="200.2" r="2.9" fill="#8b1010"/>
<circle cx="492.8" cy="206.1" r="2.9" fill="#8b1010"/>
<circle cx="507.9" cy="205.6" r="2.9" fill="#8b1010"/>
<circle cx="491.9" cy="201.3" r="2.9" fill="#8b1010"/>
<circle cx="516.7" cy="199.5" r="2.9" fill="#8b1010"/>
<circle cx="510.8" cy="203.8" r="2.9" fill="#8b1010"/>
<circle cx="514.2" cy="203.2" r="2.9" fill="#8b1010"/>
<circle cx="494.5" cy="207.0" r="2.9" fill="#8b1010"/>
<circle cx="492.3" cy="213.7" r="2.9" fill="#8b1010"/>
<circle cx="498.1" cy="201.5" r="2.9" fill="#8b1010"/>
<circle cx="506.6" cy="195.4" r="2.9" fill="#8b1010"/>
<circle cx="487.5" cy="210.5" r="2.9" fill="#8b1010"/>
<circle cx="486.9" cy="206.9" r="2.9" fill="#8b1010"/>
<circle cx="492.0" cy="211.1" r="2.9" fill="#8b1010"/>
<circle cx="514.1" cy="197.0" r="2.9" fill="#8b1010"/>
<circle cx="510.9" cy="204.4" r="2.9" fill="#8b1010"/>
<circle cx="481.8" cy="212.5" r="2.9" fill="#8b1010"/>
<circle cx="490.4" cy="198.5" r="2.9" fill="#8b1010"/>
<circle cx="488.9" cy="200.0" r="2.9" fill="#8b1010"/>
<circle cx="507.9" cy="197.3" r="2.9" fill="#8b1010"/>
<circle cx="494.6" cy="213.8" r="2.9" fill="#8b1010"/>
<circle cx="492.1" cy="209.3" r="2.9" fill="#8b1010"/>
<circle cx="510.4" cy="204.1" r="2.9" fill="#8b1010"/>
<circle cx="485.4" cy="206.6" r="2.9" fill="#8b1010"/>
<circle cx="498.2" cy="202.9" r="2.9" fill="#8b1010"/>
<circle cx="492.5" cy="213.2" r="2.9" fill="#8b1010"/>
<circle cx="491.4" cy="210.9" r="2.9" fill="#8b1010"/>
<circle cx="495.3" cy="200.5" r="2.9" fill="#8b1010"/>
<circle cx="482.1" cy="209.0" r="2.9" fill="#8b1010"/>
<circle cx="503.4" cy="201.0" r="2.9" fill="#8b1010"/>
<circle cx="492.8" cy="211.0" r="2.9" fill="#8b1010"/>
<circle cx="502.3" cy="202.9" r="2.9" fill="#8b1010"/>
<circle cx="508.3" cy="197.9" r="2.9" fill="#8b1010"/>
<circle cx="516.2" cy="196.8" r="2.9" fill="#8b1010"/>
<circle cx="512.6" cy="196.0" r="2.9" fill="#8b1010"/>
<circle cx="500.8" cy="195.5" r="2.9" fill="#8b1010"/>
<circle cx="489.3" cy="207.1" r="2.9" fill="#8b1010"/>
<circle cx="512.7" cy="199.3" r="2.9" fill="#8b1010"/>
<circle cx="489.3" cy="200.0" r="2.9" fill="#8b1010"/>
<circle cx="487.2" cy="214.3" r="2.9" fill="#8b1010"/>
<circle cx="482.4" cy="203.2" r="2.9" fill="#8b1010"/>
<circle cx="484.5" cy="210.5" r="2.9" fill="#8b1010"/>
<circle cx="476.3" cy="210.3" r="2.9" fill="#8b1010"/>
<circle cx="503.0" cy="205.9" r="2.9" fill="#8b1010"/>
<circle cx="480.2" cy="207.9" r="2.9" fill="#8b1010"/>
<circle cx="507.3" cy="209.3" r="2.9" fill="#8b1010"/>
<circle cx="493.4" cy="200.5" r="2.9" fill="#8b1010"/>
<circle cx="501.1" cy="204.8" r="2.9" fill="#8b1010"/>
<circle cx="497.5" cy="211.4" r="2.9" fill="#8b1010"/>
<circle cx="497.4" cy="207.8" r="2.9" fill="#8b1010"/>
<circle cx="480.3" cy="209.5" r="2.9" fill="#8b1010"/>
<circle cx="502.6" cy="204.2" r="2.9" fill="#8b1010"/>
<circle cx="483.1" cy="203.3" r="2.9" fill="#8b1010"/>
<circle cx="501.7" cy="200.5" r="2.9" fill="#8b1010"/>
<circle cx="495.2" cy="206.6" r="2.9" fill="#8b1010"/>
<circle cx="489.8" cy="199.4" r="2.9" fill="#8b1010"/>
<circle cx="504.7" cy="199.4" r="2.9" fill="#8b1010"/>
<circle cx="506.1" cy="196.7" r="2.9" fill="#8b1010"/>
<circle cx="480.6" cy="214.4" r="2.9" fill="#8b1010"/>
<circle cx="479.9" cy="208.8" r="2.9" fill="#8b1010"/>
<circle cx="500.5" cy="195.5" r="2.9" fill="#8b1010"/>
<circle cx="501.8" cy="196.3" r="2.9" fill="#8b1010"/>
<circle cx="498.9" cy="213.3" r="2.9" fill="#8b1010"/>
<circle cx="495.6" cy="201.5" r="2.9" fill="#8b1010"/>
<circle cx="478.6" cy="210.6" r="2.9" fill="#8b1010"/>
<circle cx="486.1" cy="212.3" r="2.9" fill="#8b1010"/>
<circle cx="500.1" cy="195.8" r="2.9" fill="#8b1010"/>
<circle cx="512.9" cy="201.3" r="2.9" fill="#8b1010"/>
<circle cx="479.1" cy="213.3" r="2.9" fill="#8b1010"/>
<circle cx="495.4" cy="209.3" r="2.9" fill="#8b1010"/>
<circle cx="514.4" cy="199.3" r="2.9" fill="#8b1010"/>
<circle cx="495.6" cy="208.4" r="2.9" fill="#8b1010"/>
<circle cx="494.0" cy="197.6" r="2.9" fill="#8b1010"/>
<circle cx="476.5" cy="209.7" r="2.9" fill="#8b1010"/>
<circle cx="481.4" cy="208.2" r="2.9" fill="#8b1010"/>
<circle cx="481.9" cy="208.5" r="2.9" fill="#8b1010"/>
<circle cx="514.3" cy="196.7" r="2.9" fill="#8b1010"/>
<circle cx="486.6" cy="204.4" r="2.9" fill="#8b1010"/>
<circle cx="494.7" cy="210.5" r="2.9" fill="#8b1010"/>
<circle cx="483.3" cy="206.4" r="2.9" fill="#8b1010"/>
<circle cx="512.0" cy="198.9" r="2.9" fill="#8b1010"/>
<circle cx="490.7" cy="204.4" r="2.9" fill="#8b1010"/>
<circle cx="492.5" cy="197.6" r="2.9" fill="#8b1010"/>
<circle cx="487.9" cy="213.1" r="2.9" fill="#8b1010"/>
<circle cx="508.5" cy="198.9" r="2.9" fill="#8b1010"/>
<circle cx="485.2" cy="201.6" r="2.9" fill="#8b1010"/>
<circle cx="513.4" cy="195.5" r="2.9" fill="#8b1010"/>
<circle cx="484.5" cy="214.8" r="2.9" fill="#8b1010"/>
<circle cx="499.2" cy="198.4" r="2.9" fill="#8b1010"/>
<circle cx="495.3" cy="200.1" r="2.9" fill="#8b1010"/>
<circle cx="491.2" cy="212.3" r="2.9" fill="#8b1010"/>
<circle cx="508.7" cy="205.0" r="2.9" fill="#8b1010"/>
<circle cx="487.2" cy="211.1" r="2.9" fill="#8b1010"/>
<circle cx="498.6" cy="205.5" r="2.9" fill="#8b1010"/>
<circle cx="502.6" cy="199.5" r="2.9" fill="#8b1010"/>
<circle cx="495.4" cy="212.3" r="2.9" fill="#8b1010"/>
<circle cx="498.7" cy="213.4" r="2.9" fill="#8b1010"/>
<circle cx="494.0" cy="199.6" r="2.9" fill="#8b1010"/>
<circle cx="482.1" cy="213.1" r="2.9" fill="#8b1010"/>
<circle cx="478.9" cy="211.9" r="2.9" fill="#8b1010"/>
<circle cx="479.5" cy="211.4" r="2.9" fill="#8b1010"/>
<circle cx="490.0" cy="198.7" r="2.9" fill="#8b1010"/>
<circle cx="501.9" cy="205.3" r="2.9" fill="#8b1010"/>
<circle cx="502.3" cy="211.9" r="2.9" fill="#8b1010"/>
<circle cx="497.4" cy="206.3" r="2.9" fill="#8b1010"/>
<circle cx="510.2" cy="198.6" r="2.9" fill="#8b1010"/>
<circle cx="504.4" cy="191.6" r="2.9" fill="#8b1010"/>
<circle cx="509.6" cy="195.0" r="2.9" fill="#8b1010"/>
<circle cx="509.7" cy="193.4" r="2.9" fill="#8b1010"/>
<circle cx="500.7" cy="193.0" r="2.9" fill="#8b1010"/>
<circle cx="508.3" cy="192.9" r="2.9" fill="#8b1010"/>
<circle cx="509.7" cy="195.3" r="2.9" fill="#8b1010"/>
<circle cx="501.1" cy="194.6" r="2.9" fill="#8b1010"/>
<circle cx="508.6" cy="195.2" r="2.9" fill="#8b1010"/>
<circle cx="504.4" cy="195.0" r="2.9" fill="#8b1010"/>
<circle cx="506.1" cy="191.5" r="2.9" fill="#8b1010"/>
<circle cx="506.3" cy="190.8" r="2.9" fill="#8b1010"/>
<circle cx="509.2" cy="194.8" r="2.9" fill="#8b1010"/>
<circle cx="503.2" cy="191.9" r="2.9" fill="#8b1010"/>
<circle cx="501.7" cy="193.4" r="2.9" fill="#8b1010"/>
<circle cx="509.3" cy="195.4" r="2.9" fill="#8b1010"/>
<circle cx="509.4" cy="195.2" r="2.9" fill="#8b1010"/>
<circle cx="508.1" cy="192.5" r="2.9" fill="#8b1010"/>
<circle cx="502.3" cy="193.3" r="2.9" fill="#8b1010"/>
<circle cx="482.0" cy="198.9" r="2.9" fill="#8b1010"/>
<circle cx="479.0" cy="201.0" r="2.9" fill="#8b1010"/>
<circle cx="482.2" cy="198.9" r="2.9" fill="#8b1010"/>
<circle cx="480.7" cy="200.6" r="2.9" fill="#8b1010"/>
<circle cx="478.2" cy="200.6" r="2.9" fill="#8b1010"/>
<circle cx="482.8" cy="199.6" r="2.9" fill="#8b1010"/>
<circle cx="477.8" cy="198.3" r="2.9" fill="#8b1010"/>
<circle cx="483.8" cy="199.2" r="2.9" fill="#8b1010"/>
<circle cx="474.7" cy="209.8" r="2.9" fill="#8b1010"/>
<circle cx="476.1" cy="209.0" r="2.9" fill="#8b1010"/>
<circle cx="476.3" cy="211.4" r="2.9" fill="#8b1010"/>
<circle cx="475.6" cy="209.2" r="2.9" fill="#8b1010"/>
<circle cx="477.1" cy="210.7" r="2.9" fill="#8b1010"/>
<circle cx="519.5" cy="203.0" r="2.9" fill="#8b1010"/>
<circle cx="522.4" cy="202.8" r="2.9" fill="#8b1010"/>
<circle cx="519.1" cy="201.2" r="2.9" fill="#8b1010"/>
<circle cx="519.7" cy="205.2" r="2.9" fill="#8b1010"/>
<circle cx="520.1" cy="201.0" r="2.9" fill="#8b1010"/>
<circle cx="520.8" cy="207.0" r="2.9" fill="#8b1010"/>
<circle cx="519.0" cy="204.7" r="2.9" fill="#8b1010"/>
<circle cx="519.4" cy="201.8" r="2.9" fill="#8b1010"/>
<circle cx="521.3" cy="202.3" r="2.9" fill="#8b1010"/>
<circle cx="518.5" cy="202.9" r="2.9" fill="#8b1010"/>
<circle cx="520.2" cy="205.3" r="2.9" fill="#8b1010"/>
<circle cx="519.2" cy="200.1" r="2.9" fill="#8b1010"/>
<circle cx="522.2" cy="200.6" r="2.9" fill="#8b1010"/>
<circle cx="519.1" cy="204.1" r="2.9" fill="#8b1010"/>
<circle cx="521.5" cy="206.5" r="2.9" fill="#8b1010"/>
<circle cx="520.5" cy="206.2" r="2.9" fill="#8b1010"/>
<circle cx="485.7" cy="212.8" r="2.9" fill="#8b1010"/>
<circle cx="481.8" cy="212.0" r="2.9" fill="#8b1010"/>
<circle cx="489.0" cy="215.5" r="2.9" fill="#8b1010"/>
<circle cx="484.7" cy="212.4" r="2.9" fill="#8b1010"/>
<circle cx="481.4" cy="214.3" r="2.9" fill="#8b1010"/>
<circle cx="488.5" cy="213.0" r="2.9" fill="#8b1010"/>
<circle cx="484.7" cy="211.9" r="2.9" fill="#8b1010"/>
<circle cx="488.4" cy="213.9" r="2.9" fill="#8b1010"/>
<circle cx="494.6" cy="212.8" r="2.9" fill="#8b1010"/>
<circle cx="484.2" cy="212.0" r="2.9" fill="#8b1010"/>
<circle cx="493.7" cy="213.3" r="2.9" fill="#8b1010"/>
<circle cx="490.9" cy="214.3" r="2.9" fill="#8b1010"/>
<circle cx="488.5" cy="211.5" r="2.9" fill="#8b1010"/>
<circle cx="494.4" cy="213.6" r="2.9" fill="#8b1010"/>
<circle cx="487.7" cy="212.2" r="2.9" fill="#8b1010"/>
<circle cx="486.9" cy="213.9" r="2.9" fill="#8b1010"/>
<circle cx="492.0" cy="213.5" r="2.9" fill="#8b1010"/>
<circle cx="488.9" cy="213.4" r="2.9" fill="#8b1010"/>
<circle cx="492.6" cy="212.2" r="2.9" fill="#8b1010"/>
<circle cx="488.3" cy="215.4" r="2.9" fill="#8b1010"/>
<circle cx="556.1" cy="102.9" r="2.9" fill="#a01ef5"/>
<circle cx="550.9" cy="103.0" r="2.9" fill="#a01ef5"/>
<circle cx="544.6" cy="106.2" r="2.9" fill="#a01ef5"/>
<circle cx="541.1" cy="93.4" r="2.9" fill="#a01ef5"/>
<circle cx="537.6" cy="95.7" r="2.9" fill="#a01ef5"/>
<circle cx="539.2" cy="105.4" r="2.9" fill="#a01ef5"/>
<circle cx="540.6" cy="94.7" r="2.9" fill="#a01ef5"/>
<circle cx="539.7" cy="97.7" r="2.9" fill="#a01ef5"/>
<circle cx="543.9" cy="103.3" r="2.9" fill="#a01ef5"/>
<circle cx="539.3" cy="93.9" r="2.9" fill="#a01ef5"/>
<circle cx="575.0" cy="91.7" r="2.9" fill="#a01ef5"/>
<circle cx="566.7" cy="98.0" r="2.9" fill="#a01ef5"/>
<circle cx="546.9" cy="99.9" r="2.9" fill="#a01ef5"/>
<circle cx="558.9" cy="101.4" r="2.9" fill="#a01ef5"/>
<circle cx="544.0" cy="98.1" r="2.9" fill="#a01ef5"/>
<circle cx="544.0" cy="102.7" r="2.9" fill="#a01ef5"/>
<circle cx="552.0" cy="98.7" r="2.9" fill="#a01ef5"/>
<circle cx="537.1" cy="99.1" r="2.9" fill="#a01ef5"/>
<circle cx="565.6" cy="86.6" r="2.9" fill="#a01ef5"/>
<circle cx="546.5" cy="90.9" r="2.9" fill="#a01ef5"/>
<circle cx="555.9" cy="96.9" r="2.9" fill="#a01ef5"/>
<circle cx="570.3" cy="97.4" r="2.9" fill="#a01ef5"/>
<circle cx="573.9" cy="96.8" r="2.9" fill="#a01ef5"/>
<circle cx="564.3" cy="101.4" r="2.9" fill="#a01ef5"/>
<circle cx="568.2" cy="84.5" r="2.9" fill="#a01ef5"/>
<circle cx="567.0" cy="88.4" r="2.9" fill="#a01ef5"/>
<circle cx="561.9" cy="90.4" r="2.9" fill="#a01ef5"/>
<circle cx="543.3" cy="101.4" r="2.9" fill="#a01ef5"/>
<circle cx="549.6" cy="95.4" r="2.9" fill="#a01ef5"/>
<circle cx="549.4" cy="93.1" r="2.9" fill="#a01ef5"/>
<circle cx="537.9" cy="95.8" r="2.9" fill="#a01ef5"/>
<circle cx="559.1" cy="94.1" r="2.9" fill="#a01ef5"/>
<circle cx="540.2" cy="93.1" r="2.9" fill="#a01ef5"/>
<circle cx="542.2" cy="97.4" r="2.9" fill="#a01ef5"/>
<circle cx="535.0" cy="104.0" r="2.9" fill="#a01ef5"/>
<circle cx="537.8" cy="96.1" r="2.9" fill="#a01ef5"/>
<circle cx="571.1" cy="88.2" r="2.9" fill="#a01ef5"/>
<circle cx="543.5" cy="95.5" r="2.9" fill="#a01ef5"/>
<circle cx="551.5" cy="97.1" r="2.9" fill="#a01ef5"/>
<circle cx="555.1" cy="93.8" r="2.9" fill="#a01ef5"/>
<circle cx="557.6" cy="94.9" r="2.9" fill="#a01ef5"/>
<circle cx="563.0" cy="95.6" r="2.9" fill="#a01ef5"/>
<circle cx="547.5" cy="103.2" r="2.9" fill="#a01ef5"/>
<circle cx="569.7" cy="90.6" r="2.9" fill="#a01ef5"/>
<circle cx="541.6" cy="92.3" r="2.9" fill="#a01ef5"/>
<circle cx="564.3" cy="85.1" r="2.9" fill="#a01ef5"/>
<circle cx="560.2" cy="89.7" r="2.9" fill="#a01ef5"/>
<circle cx="545.3" cy="96.9" r="2.9" fill="#a01ef5"/>
<circle cx="566.4" cy="96.8" r="2.9" fill="#a01ef5"/>
<circle cx="574.8" cy="85.3" r="2.9" fill="#a01ef5"/>
<circle cx="566.1" cy="88.6" r="2.9" fill="#a01ef5"/>
<circle cx="547.7" cy="93.3" r="2.9" fill="#a01ef5"/>
<circle cx="557.8" cy="85.4" r="2.9" fill="#a01ef5"/>
<circle cx="551.9" cy="97.5" r="2.9" fill="#a01ef5"/>
<circle cx="554.4" cy="101.4" r="2.9" fill="#a01ef5"/>
<circle cx="537.0" cy="104.3" r="2.9" fill="#a01ef5"/>
<circle cx="541.6" cy="93.9" r="2.9" fill="#a01ef5"/>
<circle cx="574.5" cy="91.9" r="2.9" fill="#a01ef5"/>
<circle cx="571.4" cy="85.7" r="2.9" fill="#a01ef5"/>
<circle cx="549.7" cy="94.2" r="2.9" fill="#a01ef5"/>
<circle cx="549.2" cy="103.0" r="2.9" fill="#a01ef5"/>
<circle cx="577.3" cy="87.5" r="2.9" fill="#a01ef5"/>
<circle cx="559.7" cy="93.3" r="2.9" fill="#a01ef5"/>
<circle cx="563.3" cy="88.0" r="2.9" fill="#a01ef5"/>
<circle cx="553.7" cy="92.2" r="2.9" fill="#a01ef5"/>
<circle cx="553.7" cy="98.6" r="2.9" fill="#a01ef5"/>
<circle cx="541.3" cy="92.1" r="2.9" fill="#a01ef5"/>
<circle cx="536.2" cy="103.4" r="2.9" fill="#a01ef5"/>
<circle cx="540.1" cy="100.5" r="2.9" fill="#a01ef5"/>
<circle cx="551.0" cy="88.7" r="2.9" fill="#a01ef5"/>
<circle cx="547.2" cy="99.5" r="2.9" fill="#a01ef5"/>
<circle cx="539.7" cy="97.4" r="2.9" fill="#a01ef5"/>
<circle cx="567.6" cy="84.1" r="2.9" fill="#a01ef5"/>
<circle cx="550.9" cy="99.5" r="2.9" fill="#a01ef5"/>
<circle cx="565.2" cy="93.0" r="2.9" fill="#a01ef5"/>
<circle cx="560.4" cy="96.3" r="2.9" fill="#a01ef5"/>
<circle cx="544.2" cy="91.8" r="2.9" fill="#a01ef5"/>
<circle cx="554.0" cy="104.1" r="2.9" fill="#a01ef5"/>
<circle cx="566.5" cy="91.4" r="2.9" fill="#a01ef5"/>
<circle cx="577.5" cy="85.8" r="2.9" fill="#a01ef5"/>
<circle cx="554.5" cy="96.6" r="2.9" fill="#a01ef5"/>
<circle cx="553.2" cy="88.7" r="2.9" fill="#a01ef5"/>
<circle cx="533.3" cy="100.2" r="2.9" fill="#a01ef5"/>
<circle cx="572.6" cy="90.4" r="2.9" fill="#a01ef5"/>
<circle cx="578.9" cy="87.3" r="2.9" fill="#a01ef5"/>
<circle cx="542.5" cy="91.9" r="2.9" fill="#a01ef5"/>
<circle cx="559.5" cy="99.7" r="2.9" fill="#a01ef5"/>
<circle cx="576.2" cy="85.8" r="2.9" fill="#a01ef5"/>
<circle cx="570.3" cy="99.1" r="2.9" fill="#a01ef5"/>
<circle cx="537.9" cy="100.3" r="2.9" fill="#a01ef5"/>
<circle cx="559.8" cy="88.2" r="2.9" fill="#a01ef5"/>
<circle cx="550.6" cy="88.0" r="2.9" fill="#a01ef5"/>
<circle cx="547.4" cy="90.6" r="2.9" fill="#a01ef5"/>
<circle cx="537.0" cy="99.5" r="2.9" fill="#a01ef5"/>
<circle cx="558.0" cy="90.1" r="2.9" fill="#a01ef5"/>
<circle cx="551.0" cy="94.3" r="2.9" fill="#a01ef5"/>
<circle cx="542.0" cy="97.5" r="2.9" fill="#a01ef5"/>
<circle cx="537.6" cy="102.0" r="2.9" fill="#a01ef5"/>
<circle cx="561.3" cy="103.0" r="2.9" fill="#a01ef5"/>
<circle cx="559.6" cy="93.9" r="2.9" fill="#a01ef5"/>
<circle cx="556.0" cy="100.5" r="2.9" fill="#a01ef5"/>
<circle cx="542.8" cy="96.0" r="2.9" fill="#a01ef5"/>
<circle cx="547.9" cy="88.8" r="2.9" fill="#a01ef5"/>
<circle cx="543.0" cy="98.2" r="2.9" fill="#a01ef5"/>
<circle cx="540.3" cy="100.1" r="2.9" fill="#a01ef5"/>
<circle cx="566.4" cy="97.4" r="2.9" fill="#a01ef5"/>
<circle cx="546.1" cy="102.2" r="2.9" fill="#a01ef5"/>
<circle cx="560.5" cy="90.1" r="2.9" fill="#a01ef5"/>
<circle cx="566.9" cy="96.5" r="2.9" fill="#a01ef5"/>
<circle cx="565.8" cy="86.4" r="2.9" fill="#a01ef5"/>
<circle cx="539.6" cy="94.6" r="2.9" fill="#a01ef5"/>
<circle cx="548.0" cy="104.7" r="2.9" fill="#a01ef5"/>
<circle cx="557.7" cy="98.3" r="2.9" fill="#a01ef5"/>
<circle cx="555.9" cy="100.8" r="2.9" fill="#a01ef5"/>
<circle cx="568.5" cy="96.6" r="2.9" fill="#a01ef5"/>
<circle cx="557.8" cy="98.2" r="2.9" fill="#a01ef5"/>
<circle cx="559.4" cy="90.3" r="2.9" fill="#a01ef5"/>
<circle cx="564.6" cy="99.2" r="2.9" fill="#a01ef5"/>
<circle cx="567.0" cy="87.5" r="2.9" fill="#a01ef5"/>
<circle cx="538.5" cy="98.3" r="2.9" fill="#a01ef5"/>
<circle cx="563.8" cy="98.5" r="2.9" fill="#a01ef5"/>
<circle cx="575.4" cy="92.8" r="2.9" fill="#a01ef5"/>
<circle cx="578.4" cy="91.3" r="2.9" fill="#a01ef5"/>
<circle cx="542.7" cy="104.9" r="2.9" fill="#a01ef5"/>
<circle cx="538.6" cy="96.5" r="2.9" fill="#a01ef5"/>
<circle cx="548.1" cy="96.9" r="2.9" fill="#a01ef5"/>
<circle cx="558.1" cy="97.2" r="2.9" fill="#a01ef5"/>
<circle cx="555.2" cy="101.2" r="2.9" fill="#a01ef5"/>
<circle cx="577.0" cy="88.2" r="2.9" fill="#a01ef5"/>
<circle cx="563.5" cy="88.2" r="2.9" fill="#a01ef5"/>
<circle cx="552.8" cy="92.0" r="2.9" fill="#a01ef5"/>
<circle cx="542.4" cy="98.3" r="2.9" fill="#a01ef5"/>
<circle cx="559.8" cy="91.7" r="2.9" fill="#a01ef5"/>
<circle cx="546.2" cy="99.3" r="2.9" fill="#a01ef5"/>
<circle cx="560.6" cy="89.2" r="2.9" fill="#a01ef5"/>
<circle cx="541.3" cy="95.0" r="2.9" fill="#a01ef5"/>
<circle cx="558.6" cy="102.7" r="2.9" fill="#a01ef5"/>
<circle cx="559.3" cy="92.3" r="2.9" fill="#a01ef5"/>
<circle cx="560.9" cy="88.9" r="2.9" fill="#a01ef5"/>
<circle cx="538.4" cy="94.1" r="2.9" fill="#a01ef5"/>
<circle cx="561.2" cy="91.3" r="2.9" fill="#a01ef5"/>
<circle cx="559.6" cy="101.7" r="2.9" fill="#a01ef5"/>
<circle cx="545.6" cy="98.3" r="2.9" fill="#a01ef5"/>
<circle cx="563.7" cy="91.1" r="2.9" fill="#a01ef5"/>
<circle cx="563.8" cy="85.7" r="2.9" fill="#a01ef5"/>
<circle cx="569.9" cy="88.3" r="2.9" fill="#a01ef5"/>
<circle cx="554.1" cy="92.5" r="2.9" fill="#a01ef5"/>
<circle cx="569.6" cy="91.2" r="2.9" fill="#a01ef5"/>
<circle cx="560.5" cy="97.1" r="2.9" fill="#a01ef5"/>
<circle cx="543.0" cy="105.0" r="2.9" fill="#a01ef5"/>
<circle cx="542.8" cy="95.1" r="2.9" fill="#a01ef5"/>
<circle cx="547.7" cy="94.2" r="2.9" fill="#a01ef5"/>
<circle cx="573.9" cy="86.1" r="2.9" fill="#a01ef5"/>
<circle cx="566.3" cy="86.8" r="2.9" fill="#a01ef5"/>
<circle cx="557.3" cy="85.7" r="2.9" fill="#a01ef5"/>
<circle cx="556.5" cy="101.2" r="2.9" fill="#a01ef5"/>
<circle cx="560.1" cy="91.5" r="2.9" fill="#a01ef5"/>
<circle cx="548.3" cy="96.4" r="2.9" fill="#a01ef5"/>
<circle cx="573.6" cy="91.6" r="2.9" fill="#a01ef5"/>
<circle cx="561.0" cy="89.9" r="2.9" fill="#a01ef5"/>
<circle cx="572.3" cy="87.1" r="2.9" fill="#a01ef5"/>
<circle cx="578.1" cy="93.5" r="2.9" fill="#a01ef5"/>
<circle cx="577.3" cy="90.8" r="2.9" fill="#a01ef5"/>
<circle cx="542.5" cy="101.7" r="2.9" fill="#a01ef5"/>
<circle cx="535.5" cy="96.5" r="2.9" fill="#a01ef5"/>
<circle cx="546.1" cy="98.1" r="2.9" fill="#a01ef5"/>
<circle cx="564.7" cy="99.1" r="2.9" fill="#a01ef5"/>
<circle cx="566.6" cy="88.1" r="2.9" fill="#a01ef5"/>
<circle cx="558.5" cy="85.3" r="2.9" fill="#a01ef5"/>
<circle cx="561.9" cy="92.2" r="2.9" fill="#a01ef5"/>
<circle cx="563.9" cy="87.3" r="2.9" fill="#a01ef5"/>
<circle cx="564.2" cy="96.0" r="2.9" fill="#a01ef5"/>
<circle cx="554.2" cy="104.6" r="2.9" fill="#a01ef5"/>
<circle cx="551.8" cy="96.6" r="2.9" fill="#a01ef5"/>
<circle cx="567.4" cy="83.7" r="2.9" fill="#a01ef5"/>
<circle cx="572.5" cy="89.9" r="2.9" fill="#a01ef5"/>
<circle cx="567.1" cy="84.8" r="2.9" fill="#a01ef5"/>
<circle cx="542.6" cy="104.1" r="2.9" fill="#a01ef5"/>
<circle cx="534.2" cy="103.7" r="2.9" fill="#a01ef5"/>
<circle cx="533.4" cy="99.4" r="2.9" fill="#a01ef5"/>
<circle cx="533.9" cy="103.4" r="2.9" fill="#a01ef5"/>
<circle cx="542.3" cy="96.3" r="2.9" fill="#a01ef5"/>
<circle cx="566.5" cy="96.4" r="2.9" fill="#a01ef5"/>
<circle cx="566.7" cy="86.2" r="2.9" fill="#a01ef5"/>
<circle cx="564.6" cy="88.9" r="2.9" fill="#a01ef5"/>
<circle cx="558.2" cy="86.4" r="2.9" fill="#a01ef5"/>
<circle cx="573.0" cy="90.0" r="2.9" fill="#a01ef5"/>
<circle cx="536.3" cy="97.6" r="2.9" fill="#a01ef5"/>
<circle cx="549.1" cy="96.0" r="2.9" fill="#a01ef5"/>
<circle cx="559.3" cy="93.7" r="2.9" fill="#a01ef5"/>
<circle cx="548.4" cy="101.7" r="2.9" fill="#a01ef5"/>
<circle cx="543.5" cy="93.9" r="2.9" fill="#a01ef5"/>
<circle cx="538.3" cy="101.5" r="2.9" fill="#a01ef5"/>
<circle cx="566.6" cy="85.9" r="2.9" fill="#a01ef5"/>
<circle cx="540.4" cy="100.1" r="2.9" fill="#a01ef5"/>
<circle cx="579.4" cy="88.3" r="2.9" fill="#a01ef5"/>
<circle cx="553.4" cy="99.5" r="2.9" fill="#a01ef5"/>
<circle cx="565.4" cy="89.8" r="2.9" fill="#a01ef5"/>
<circle cx="565.1" cy="94.8" r="2.9" fill="#a01ef5"/>
<circle cx="542.9" cy="99.1" r="2.9" fill="#a01ef5"/>
<circle cx="549.1" cy="100.9" r="2.9" fill="#a01ef5"/>
<circle cx="532.8" cy="98.1" r="2.9" fill="#a01ef5"/>
<circle cx="541.8" cy="101.4" r="2.9" fill="#a01ef5"/>
<circle cx="543.4" cy="97.4" r="2.9" fill="#a01ef5"/>
<circle cx="545.1" cy="100.5" r="2.9" fill="#a01ef5"/>
<circle cx="533.4" cy="99.3" r="2.9" fill="#a01ef5"/>
<circle cx="547.0" cy="102.8" r="2.9" fill="#a01ef5"/>
<circle cx="543.8" cy="100.2" r="2.9" fill="#a01ef5"/>
<circle cx="544.5" cy="102.3" r="2.9" fill="#a01ef5"/>
<circle cx="539.2" cy="98.4" r="2.9" fill="#a01ef5"/>
<circle cx="541.3" cy="103.5" r="2.9" fill="#a01ef5"/>
<circle cx="534.8" cy="101.3" r="2.9" fill="#a01ef5"/>
<circle cx="537.3" cy="105.1" r="2.9" fill="#a01ef5"/>
<circle cx="549.2" cy="100.3" r="2.9" fill="#a01ef5"/>
<circle cx="548.1" cy="103.1" r="2.9" fill="#a01ef5"/>
<circle cx="545.0" cy="99.7" r="2.9" fill="#a01ef5"/>
<circle cx="546.2" cy="104.4" r="2.9" fill="#a01ef5"/>
<circle cx="535.6" cy="103.5" r="2.9" fill="#a01ef5"/>
<circle cx="548.5" cy="101.8" r="2.9" fill="#a01ef5"/>
<circle cx="540.0" cy="98.2" r="2.9" fill="#a01ef5"/>
<circle cx="549.1" cy="102.2" r="2.9" fill="#a01ef5"/>
<circle cx="536.0" cy="97.7" r="2.9" fill="#a01ef5"/>
<circle cx="531.7" cy="103.1" r="2.9" fill="#a01ef5"/>
<circle cx="543.2" cy="105.7" r="2.9" fill="#a01ef5"/>
<circle cx="542.3" cy="102.2" r="2.9" fill="#a01ef5"/>
<circle cx="545.5" cy="103.7" r="2.9" fill="#a01ef5"/>
<circle cx="541.7" cy="103.4" r="2.9" fill="#a01ef5"/>
<circle cx="542.3" cy="100.7" r="2.9" fill="#a01ef5"/>
<circle cx="545.6" cy="100.4" r="2.9" fill="#a01ef5"/>
<circle cx="541.6" cy="105.2" r="2.9" fill="#a01ef5"/>
<circle cx="520.2" cy="103.6" r="2.9" fill="#a01ef5"/>
<circle cx="545.5" cy="80.0" r="2.9" fill="#a01ef5"/>
<circle cx="553.4" cy="80.0" r="2.9" fill="#a01ef5"/>
<circle cx="549.0" cy="80.5" r="2.9" fill="#a01ef5"/>
<circle cx="584.8" cy="92.3" r="2.9" fill="#a01ef5"/>
<circle cx="584.9" cy="93.2" r="2.9" fill="#a01ef5"/>
<circle cx="577.6" cy="91.0" r="2.9" fill="#a01ef5"/>
<circle cx="580.0" cy="91.4" r="2.9" fill="#a01ef5"/>
<circle cx="580.6" cy="90.4" r="2.9" fill="#a01ef5"/>
<circle cx="579.1" cy="91.8" r="2.9" fill="#a01ef5"/>
<circle cx="579.4" cy="94.7" r="2.9" fill="#a01ef5"/>
<circle cx="577.6" cy="95.0" r="2.9" fill="#a01ef5"/>
<circle cx="578.2" cy="88.9" r="2.9" fill="#a01ef5"/>
<circle cx="580.9" cy="94.4" r="2.9" fill="#a01ef5"/>
<circle cx="578.8" cy="96.7" r="2.9" fill="#a01ef5"/>
<circle cx="575.7" cy="94.6" r="2.9" fill="#a01ef5"/>
<circle cx="583.4" cy="92.6" r="2.9" fill="#a01ef5"/>
<circle cx="580.6" cy="92.5" r="2.9" fill="#a01ef5"/>
<circle cx="578.0" cy="87.9" r="2.9" fill="#a01ef5"/>
<circle cx="575.6" cy="94.4" r="2.9" fill="#a01ef5"/>
<circle cx="577.7" cy="96.2" r="2.9" fill="#a01ef5"/>
<circle cx="578.8" cy="92.8" r="2.9" fill="#a01ef5"/>
<circle cx="581.4" cy="87.3" r="2.9" fill="#a01ef5"/>
<circle cx="582.4" cy="86.9" r="2.9" fill="#a01ef5"/>
<line x1="294.7" y1="293.5" x2="682.6" y2="122.8" stroke="#c0302a" stroke-width="1"/>
<polygon points="682.6,122.8 672.0,123.6 674.9,130.0" fill="#c0302a"/>
<line x1="294.7" y1="293.5" x2="671" y2="4.6" stroke="#3fba5a" stroke-width="1"/>
<polygon points="671,4.6 660.9,7.9 665.2,13.5" fill="#3fba5a"/>
<line x1="294.7" y1="293.5" x2="667" y2="5.5" stroke="#9a3fc4" stroke-width="1"/>
<polygon points="667,5.5 656.9,8.9 661.2,14.4" fill="#9a3fc4"/>
<text transform="translate(657.5,150) rotate(-23.8)" class="ss" font-weight="bold" font-size="18" text-anchor="middle" fill="#000" letter-spacing="-1">8.01</text>
<text transform="translate(632,27) rotate(-37.7)" class="ss" font-weight="bold" font-size="18" text-anchor="middle" fill="#000" letter-spacing="-1">14.20</text>
<text transform="translate(653,37) rotate(-37.7)" class="ss" font-weight="bold" font-size="18" text-anchor="middle" fill="#000" letter-spacing="-1">13.54</text>
<rect x="568" y="224" width="105.5" height="60.5" fill="#fff" stroke="#444" stroke-width="1"/>
<circle cx="578.2" cy="234.7" r="3.8" fill="#3b8b7e"/>
<text x="588.4" y="239.7" class="sf" font-size="15.8" fill="#111">Olivine</text>
<circle cx="578.2" cy="253.9" r="3.8" fill="#8b1010"/>
<text x="588.4" y="258.9" class="sf" font-size="15.8" fill="#111">Plagioclase</text>
<circle cx="578.2" cy="273.1" r="3.8" fill="#a01ef5"/>
<text x="588.4" y="278.1" class="sf" font-size="15.8" fill="#111">Pyroxene</text>
</svg>
</body></html>
